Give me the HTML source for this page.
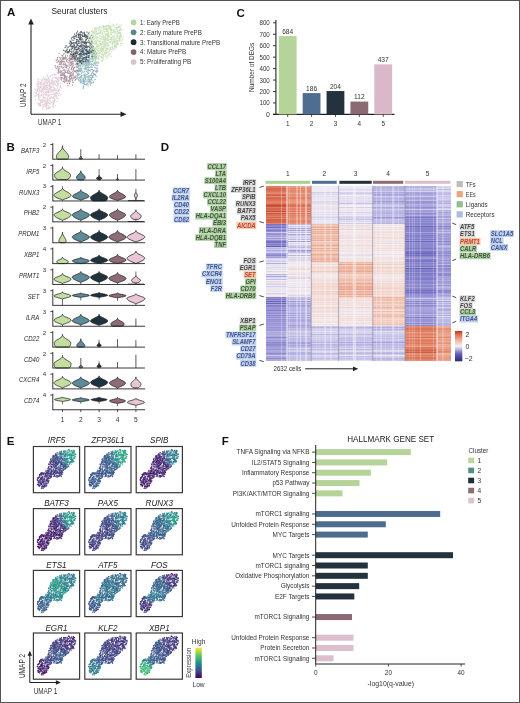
<!DOCTYPE html>
<html><head><meta charset="utf-8"><style>html,body{margin:0;padding:0;background:#fff;}svg{display:block;will-change:transform;}</style></head><body>
<svg width="520" height="703" viewBox="0 0 520 703" font-family='"Liberation Sans", sans-serif' fill="#333">
<rect x="0" y="0" width="520" height="703" fill="#fff"/>
<text x="7.1" y="16.34" font-size="11.5" font-weight="bold" fill="#111">A</text>
<text x="51.5" y="14.17" font-size="8.8" fill="#222" textLength="56" lengthAdjust="spacingAndGlyphs">Seurat clusters</text>
<line x1="31" y1="114.3" x2="31" y2="23" stroke="#222" stroke-width="1.1"/>
<path d="M31 18.5 L28.2 24.5 L33.8 24.5 Z" fill="#222"/>
<line x1="31" y1="114.3" x2="121" y2="114.3" stroke="#222" stroke-width="1.1"/>
<path d="M126.5 114.3 L120.5 111.5 L120.5 117.1 Z" fill="#222"/>
<text x="23.1" y="98.25" font-size="8.2" text-anchor="middle" textLength="23.6" lengthAdjust="spacingAndGlyphs" transform="rotate(-90 23.1 95.3)">UMAP 2</text>
<text x="38.1" y="125.05" font-size="8.2" textLength="23.1" lengthAdjust="spacingAndGlyphs">UMAP 1</text>
<path d="M42.9 78.7h1.1M50.1 87.2h1.1M36.2 89.3h1.1M46.4 103.7h1.1M50.2 87.7h1.1M57.5 84.5h1.1M43.5 104.1h1.1M51.0 86.8h1.1M51.9 90.3h1.1M47.1 82.6h1.1M38.7 93.7h1.1M54.4 83.8h1.1M46.5 101.7h1.1M36.0 95.9h1.1M57.0 83.3h1.1M51.4 87.5h1.1M48.9 98.0h1.1M54.8 85.0h1.1M35.7 90.6h1.1M36.3 84.0h1.1M34.5 88.9h1.1M40.5 90.4h1.1M39.5 83.3h1.1M51.4 83.1h1.1M46.2 93.3h1.1M48.0 95.3h1.1M46.4 88.9h1.1M39.9 87.0h1.1M50.8 80.1h1.1M46.5 75.0h1.1M47.4 91.2h1.1M44.0 82.5h1.1M48.3 78.8h1.1M49.7 107.0h1.1M42.6 88.5h1.1M48.2 102.1h1.1M56.3 101.4h1.1M42.8 97.9h1.1M59.8 87.5h1.1M38.1 79.1h1.1M55.4 89.0h1.1M38.8 96.0h1.1M55.2 92.6h1.1M44.6 101.9h1.1M45.1 106.6h1.1M40.3 102.8h1.1M44.0 93.3h1.1M46.3 107.8h1.1M56.3 82.2h1.1M41.0 95.8h1.1M41.7 88.7h1.1M44.3 106.3h1.1M48.4 80.3h1.1M39.0 89.0h1.1M41.3 91.4h1.1M37.6 94.6h1.1M53.0 91.0h1.1M57.4 88.5h1.1M46.7 98.7h1.1M46.5 104.8h1.1M56.6 81.9h1.1M57.6 79.5h1.1M37.2 95.0h1.1M38.5 98.6h1.1M47.4 90.9h1.1M37.9 88.9h1.1M39.8 84.8h1.1M50.3 89.5h1.1M54.2 93.3h1.1M39.5 83.6h1.1M46.2 105.2h1.1M50.0 98.8h1.1M55.2 90.0h1.1M53.3 103.3h1.1M44.0 84.8h1.1M49.1 82.6h1.1M43.0 83.5h1.1M47.7 80.2h1.1M54.4 94.5h1.1M53.8 89.1h1.1M43.7 88.5h1.1M43.3 101.6h1.1M45.9 86.3h1.1M36.6 100.7h1.1M57.3 98.4h1.1M43.1 91.1h1.1M44.0 86.4h1.1M47.6 92.9h1.1M37.4 87.9h1.1M41.4 81.2h1.1M53.8 94.6h1.1M45.6 85.2h1.1M55.8 97.2h1.1M57.8 93.8h1.1M36.1 92.2h1.1M49.2 103.7h1.1M40.1 87.9h1.1M48.0 94.7h1.1M54.1 100.2h1.1M51.9 75.1h1.1M53.6 77.7h1.1M45.8 87.5h1.1M54.4 95.2h1.1M38.6 81.7h1.1M51.8 97.4h1.1M47.6 90.3h1.1M60.8 80.4h1.1M47.2 86.0h1.1M41.2 95.5h1.1M57.5 90.5h1.1M40.5 105.6h1.1M47.2 85.3h1.1M45.0 103.6h1.1M58.3 77.1h1.1M57.4 84.9h1.1M44.1 89.3h1.1M42.2 107.9h1.1M46.0 82.6h1.1M52.6 105.6h1.1M53.4 74.2h1.1M54.3 96.9h1.1M57.8 78.4h1.1M43.5 99.8h1.1M50.7 84.0h1.1M39.4 105.9h1.1M46.7 79.1h1.1M38.7 81.8h1.1M53.0 89.1h1.1M45.5 86.1h1.1M48.4 95.4h1.1M40.8 83.3h1.1M58.1 90.5h1.1M46.1 104.5h1.1M50.2 97.2h1.1M50.2 101.3h1.1M40.2 105.5h1.1M36.9 81.2h1.1M47.8 94.9h1.1M44.3 89.6h1.1M57.9 91.5h1.1M46.9 98.1h1.1M43.3 87.9h1.1M54.7 99.9h1.1M60.4 84.0h1.1M39.7 103.5h1.1M47.9 81.6h1.1M39.4 90.8h1.1M38.4 86.2h1.1M60.1 88.0h1.1M53.6 73.8h1.1M44.6 85.6h1.1M42.7 86.0h1.1M44.6 101.7h1.1M34.2 92.4h1.1M40.1 86.5h1.1M45.5 102.2h1.1M58.7 80.3h1.1M45.2 82.9h1.1M41.2 100.0h1.1M43.7 89.8h1.1M43.6 83.2h1.1M59.6 78.3h1.1M50.1 86.4h1.1M55.8 78.4h1.1M34.1 96.3h1.1M37.0 90.1h1.1M39.6 87.3h1.1M52.6 77.2h1.1M49.5 86.1h1.1M42.7 84.5h1.1M46.9 87.6h1.1M48.6 80.3h1.1M48.6 100.5h1.1M59.9 85.9h1.1M42.1 101.1h1.1M50.5 96.8h1.1M41.0 94.3h1.1M52.1 81.0h1.1M56.0 93.4h1.1M44.7 92.8h1.1M38.2 98.9h1.1M42.2 109.0h1.1M46.7 85.4h1.1M44.1 79.9h1.1M43.8 104.2h1.1M48.3 79.6h1.1M52.9 106.9h1.1M45.0 92.4h1.1M49.4 107.4h1.1M60.3 86.5h1.1M56.4 78.6h1.1M45.7 103.1h1.1M39.3 87.8h1.1M37.6 79.9h1.1M35.9 93.3h1.1M55.4 77.0h1.1M49.7 85.3h1.1M44.7 97.5h1.1M34.5 95.7h1.1M53.9 101.6h1.1M48.0 78.4h1.1M36.8 89.4h1.1M51.1 74.5h1.1M46.9 75.6h1.1M55.0 105.8h1.1M48.2 107.3h1.1M36.5 85.5h1.1M58.4 82.9h1.1M48.1 107.3h1.1M48.7 85.2h1.1M40.3 102.5h1.1M52.4 85.4h1.1M52.9 107.3h1.1M51.5 86.8h1.1M43.5 101.1h1.1M54.5 74.6h1.1M50.0 97.3h1.1M48.3 88.8h1.1M38.1 81.6h1.1M37.8 87.9h1.1M49.1 80.0h1.1M42.5 80.0h1.1M47.0 83.2h1.1M48.6 85.1h1.1M42.7 106.2h1.1M47.3 82.9h1.1M35.7 93.0h1.1M38.3 95.2h1.1M55.6 80.8h1.1M57.5 99.2h1.1M54.1 88.9h1.1M42.7 98.1h1.1M52.1 82.7h1.1M55.1 94.0h1.1M41.5 79.2h1.1M55.0 84.6h1.1M39.8 104.6h1.1M46.2 101.3h1.1M45.2 99.0h1.1M42.6 97.0h1.1M44.1 78.8h1.1M52.2 94.3h1.1M35.1 96.3h1.1M50.6 102.3h1.1M54.0 82.1h1.1M41.4 99.9h1.1M58.2 95.9h1.1M45.1 102.7h1.1M49.1 81.0h1.1M56.9 79.8h1.1M48.1 103.3h1.1M43.6 106.1h1.1M41.7 80.0h1.1M39.5 97.3h1.1M52.1 100.8h1.1M45.6 87.4h1.1M41.3 82.2h1.1M44.8 106.4h1.1M48.7 98.8h1.1M45.2 87.2h1.1M52.6 101.2h1.1M55.8 95.2h1.1M58.2 83.1h1.1M53.5 104.2h1.1M40.5 85.2h1.1M45.2 80.1h1.1M39.6 87.1h1.1M54.4 90.8h1.1M44.7 100.5h1.1M52.3 91.4h1.1M46.4 99.3h1.1M49.0 100.7h1.1M56.0 97.1h1.1M50.8 91.4h1.1M37.7 86.7h1.1M50.0 83.2h1.1M49.7 85.8h1.1M39.8 95.8h1.1M49.0 108.7h1.1M40.3 100.9h1.1M35.6 93.6h1.1M48.8 95.1h1.1M45.9 109.1h1.1M47.5 103.2h1.1M43.2 88.0h1.1M45.2 99.2h1.1M42.0 99.5h1.1M39.8 102.7h1.1M38.8 99.7h1.1M47.5 96.7h1.1M44.9 94.4h1.1M46.4 84.0h1.1M57.0 85.5h1.1M43.9 83.0h1.1M41.7 83.7h1.1M45.3 95.4h1.1M38.3 103.1h1.1M52.4 83.0h1.1M40.5 101.8h1.1M37.5 104.0h1.1M52.7 103.2h1.1M38.0 97.9h1.1M45.3 104.7h1.1M47.0 75.9h1.1M45.3 90.8h1.1M45.8 91.7h1.1M45.0 88.5h1.1M53.0 96.6h1.1M48.3 90.7h1.1M52.2 97.9h1.1M42.3 90.2h1.1M38.9 89.9h1.1M56.9 83.0h1.1M44.6 83.2h1.1M51.3 102.7h1.1M41.2 92.9h1.1M58.8 93.4h1.1M53.3 100.8h1.1M50.3 94.4h1.1M51.8 80.1h1.1M54.8 77.6h1.1M52.8 84.9h1.1M49.0 84.0h1.1M41.3 86.8h1.1M36.8 94.0h1.1M57.0 93.5h1.1M51.5 106.8h1.1M45.0 76.7h1.1M53.4 81.5h1.1M53.3 103.6h1.1M48.4 99.6h1.1M55.3 78.3h1.1M38.7 104.3h1.1M42.7 94.8h1.1M37.4 103.3h1.1M49.6 89.9h1.1M52.5 85.3h1.1M52.3 104.5h1.1M48.2 85.7h1.1M42.5 96.5h1.1M56.7 83.8h1.1M46.8 92.2h1.1M51.0 81.7h1.1M49.8 103.9h1.1M57.6 80.9h1.1M46.8 83.0h1.1M57.2 91.2h1.1M52.6 80.7h1.1M56.2 92.5h1.1M40.5 82.2h1.1M43.0 94.6h1.1M37.7 95.5h1.1M50.1 85.9h1.1M56.5 90.6h1.1M57.0 88.1h1.1M40.4 80.3h1.1M46.5 105.4h1.1M52.6 89.9h1.1M39.6 91.4h1.1M51.5 87.9h1.1M43.6 84.7h1.1M53.1 96.1h1.1M50.7 83.2h1.1M37.5 85.8h1.1M47.4 80.3h1.1M56.1 81.2h1.1M42.2 105.0h1.1M40.7 91.2h1.1M55.7 96.3h1.1M55.7 90.2h1.1M54.8 95.3h1.1M42.3 89.1h1.1M57.3 86.8h1.1M45.6 108.0h1.1M51.2 81.3h1.1M39.1 83.6h1.1M37.7 83.7h1.1M53.9 84.1h1.1M55.8 85.9h1.1M56.9 93.6h1.1M57.9 81.2h1.1M39.3 100.3h1.1M50.5 92.1h1.1M51.3 97.4h1.1M53.8 87.8h1.1M57.2 83.6h1.1M59.1 89.9h1.1M39.2 103.8h1.1M45.9 94.9h1.1M47.8 93.3h1.1M41.7 100.3h1.1M58.1 91.1h1.1M41.8 102.8h1.1M54.6 80.8h1.1M49.6 91.7h1.1M47.5 92.1h1.1M43.3 77.3h1.1M38.6 93.3h1.1M45.7 87.4h1.1M45.3 106.0h1.1M37.9 86.9h1.1M38.9 91.3h1.1M40.5 87.8h1.1M47.3 76.7h1.1M51.1 82.3h1.1M48.2 105.9h1.1M49.3 88.8h1.1M43.9 97.8h1.1M41.1 90.1h1.1M42.2 89.0h1.1M38.0 91.7h1.1M50.2 98.6h1.1M45.8 92.3h1.1M43.1 83.7h1.1M45.9 94.6h1.1M55.9 81.7h1.1M42.7 101.5h1.1M58.6 89.8h1.1M46.9 100.4h1.1M37.7 87.1h1.1M51.5 102.6h1.1M54.1 98.7h1.1M55.7 98.5h1.1M51.6 94.5h1.1M50.2 86.2h1.1M49.3 87.6h1.1M52.4 85.1h1.1M45.3 82.9h1.1M48.2 90.4h1.1M38.1 93.9h1.1M60.0 83.3h1.1M46.3 106.1h1.1M51.3 90.4h1.1M47.8 91.0h1.1M42.4 97.2h1.1M53.3 93.0h1.1M43.0 92.5h1.1M47.3 95.8h1.1M49.1 103.6h1.1M49.6 76.5h1.1M58.4 89.5h1.1M48.4 92.3h1.1M48.9 98.2h1.1M49.6 76.3h1.1M43.8 98.2h1.1M56.3 93.8h1.1M47.6 95.1h1.1M50.2 88.8h1.1M55.1 77.9h1.1M46.7 101.5h1.1M54.6 84.1h1.1M41.3 84.7h1.1M48.8 86.5h1.1M48.4 108.4h1.1M43.4 104.7h1.1M47.7 108.6h1.1M52.6 83.8h1.1M47.4 102.6h1.1M45.1 80.1h1.1M48.2 77.5h1.1M37.5 103.7h1.1M39.8 84.1h1.1M53.1 87.4h1.1M37.5 82.7h1.1M46.6 102.7h1.1M41.8 101.5h1.1M47.3 82.0h1.1M54.5 82.0h1.1M43.7 81.9h1.1M56.0 77.9h1.1M40.5 102.3h1.1M49.2 85.1h1.1M38.6 105.5h1.1M36.7 94.7h1.1M44.2 83.1h1.1M43.9 86.9h1.1M40.0 83.9h1.1M50.6 87.1h1.1M53.6 81.6h1.1M53.1 81.9h1.1M54.2 99.1h1.1M43.7 87.5h1.1M52.2 78.8h1.1M51.8 83.5h1.1M57.9 95.5h1.1M38.4 104.4h1.1M53.9 75.6h1.1M61.1 88.0h1.1M53.1 102.2h1.1M34.9 99.1h1.1M59.0 77.9h1.1M53.0 103.8h1.1M50.0 83.0h1.1M45.3 81.5h1.1M53.2 98.4h1.1M49.2 89.1h1.1M43.6 106.3h1.1M41.5 102.0h1.1M38.1 96.6h1.1M37.3 84.6h1.1M37.0 85.4h1.1M45.8 78.9h1.1M44.4 79.7h1.1M38.5 99.0h1.1M36.9 91.4h1.1M51.8 83.3h1.1M57.3 85.8h1.1M40.1 99.8h1.1M43.8 79.3h1.1M42.8 94.9h1.1M50.3 94.3h1.1M48.2 92.3h1.1M49.6 75.9h1.1M46.6 108.3h1.1M46.2 80.4h1.1M54.9 90.5h1.1M47.5 89.7h1.1M52.7 102.6h1.1M41.5 89.0h1.1M45.8 89.6h1.1M55.2 74.4h1.1M43.8 93.6h1.1M50.2 86.4h1.1M54.0 90.5h1.1M43.2 95.1h1.1M50.1 88.3h1.1M59.8 94.7h1.1M47.1 82.7h1.1M41.8 95.0h1.1M49.7 76.8h1.1M44.4 103.8h1.1M56.4 77.7h1.1M46.5 79.4h1.1M55.0 78.1h1.1M42.6 87.1h1.1M40.0 83.1h1.1" stroke="#dcc4d0" stroke-width="1.1" fill="none" opacity=".8"/>
<path d="M76.5 71.5h1.1M61.9 74.9h1.1M57.6 62.0h1.1M66.8 55.9h1.1M71.0 62.5h1.1M74.5 71.5h1.1M58.8 72.3h1.1M64.8 56.9h1.1M71.0 78.2h1.1M60.4 58.1h1.1M69.9 65.7h1.1M75.6 64.4h1.1M57.3 66.1h1.1M69.1 55.8h1.1M64.9 71.9h1.1M70.2 63.3h1.1M58.1 70.4h1.1M69.3 75.7h1.1M68.9 73.7h1.1M75.0 79.6h1.1M61.9 75.5h1.1M68.4 63.9h1.1M54.8 67.1h1.1M66.1 65.7h1.1M65.5 57.8h1.1M64.5 66.8h1.1M61.7 61.5h1.1M78.0 63.2h1.1M61.0 78.3h1.1M57.3 67.8h1.1M58.5 60.9h1.1M62.3 58.2h1.1M69.6 56.5h1.1M69.7 53.7h1.1M63.4 59.1h1.1M75.9 72.8h1.1M61.8 75.5h1.1M71.8 64.3h1.1M61.9 68.1h1.1M76.7 70.8h1.1M68.9 76.2h1.1M58.6 57.4h1.1M72.2 66.1h1.1M66.9 73.0h1.1M71.6 59.4h1.1M73.3 59.7h1.1M62.6 61.6h1.1M66.1 72.5h1.1M77.8 60.0h1.1M55.7 68.6h1.1M77.1 65.3h1.1M72.1 82.0h1.1M74.3 60.8h1.1M70.0 62.8h1.1M64.0 82.5h1.1M65.7 80.6h1.1M66.0 81.1h1.1M60.1 62.5h1.1M60.4 58.0h1.1M61.3 73.0h1.1M75.0 59.5h1.1M59.0 63.9h1.1M57.6 73.7h1.1M68.9 83.0h1.1M63.8 76.9h1.1M69.3 58.5h1.1M71.8 80.5h1.1M60.3 77.5h1.1M66.1 60.8h1.1M63.3 81.4h1.1M58.9 68.3h1.1M65.7 58.1h1.1M76.8 67.3h1.1M75.2 76.7h1.1M64.3 70.7h1.1M69.4 73.1h1.1M72.2 82.3h1.1M61.4 64.8h1.1M63.3 65.7h1.1M68.9 83.6h1.1M63.9 61.5h1.1M74.7 77.4h1.1M70.0 62.3h1.1M71.4 67.0h1.1M60.3 71.7h1.1M69.7 65.3h1.1M69.5 62.3h1.1M59.9 74.9h1.1M64.5 75.5h1.1M61.4 57.2h1.1M67.4 68.9h1.1M66.8 70.9h1.1M64.0 78.5h1.1M59.4 61.9h1.1M73.0 69.7h1.1M68.9 67.6h1.1M72.0 57.1h1.1M66.2 61.6h1.1M60.3 71.3h1.1M71.1 62.7h1.1M70.0 81.1h1.1M73.0 72.7h1.1M64.9 63.8h1.1M64.8 72.4h1.1M64.6 70.9h1.1M63.3 74.3h1.1M71.0 64.9h1.1M66.3 66.6h1.1M64.6 81.3h1.1M65.8 77.1h1.1M63.6 53.4h1.1M73.3 77.7h1.1M74.0 71.4h1.1M73.1 68.9h1.1M66.8 71.4h1.1M74.3 59.2h1.1M61.0 62.4h1.1M73.5 70.5h1.1M57.6 61.2h1.1M74.8 61.8h1.1M66.0 65.3h1.1M68.7 64.0h1.1M77.1 70.9h1.1M66.3 65.6h1.1M60.8 79.8h1.1M70.8 72.5h1.1M66.4 80.9h1.1M70.0 54.7h1.1M70.1 58.3h1.1M72.6 67.2h1.1M62.1 59.4h1.1M76.5 60.2h1.1M64.4 76.3h1.1M72.5 58.9h1.1M60.8 60.1h1.1M68.8 57.7h1.1M75.4 55.0h1.1M64.0 74.7h1.1M57.0 66.5h1.1M70.9 56.5h1.1M76.3 70.7h1.1M72.7 68.5h1.1M64.9 79.2h1.1M74.7 60.3h1.1M67.2 85.6h1.1M69.4 56.2h1.1M61.6 78.2h1.1M61.4 55.4h1.1M66.6 76.9h1.1M57.3 72.2h1.1M71.6 61.0h1.1M63.6 78.4h1.1M67.4 70.9h1.1M57.6 69.9h1.1M59.7 66.5h1.1M69.4 81.1h1.1M64.6 77.0h1.1M60.8 77.3h1.1M54.7 65.5h1.1M66.6 59.5h1.1M71.4 57.0h1.1M69.7 73.7h1.1M73.8 67.6h1.1M76.2 66.4h1.1M60.3 75.4h1.1M63.2 58.6h1.1M66.5 66.2h1.1M72.8 74.6h1.1M76.0 78.7h1.1M64.8 58.1h1.1M73.5 55.2h1.1M76.9 74.5h1.1M69.5 65.0h1.1M76.5 62.3h1.1M59.5 59.8h1.1M65.6 79.6h1.1M64.5 75.8h1.1M63.0 54.3h1.1M63.9 69.9h1.1M72.6 65.5h1.1M61.3 61.9h1.1M70.1 63.0h1.1M70.0 65.2h1.1M60.3 61.5h1.1M67.9 81.8h1.1M77.8 69.0h1.1M74.1 58.5h1.1M65.4 79.5h1.1M58.3 69.4h1.1M65.1 80.9h1.1M62.5 72.9h1.1M68.2 73.5h1.1M68.8 71.3h1.1M75.5 75.6h1.1M64.9 57.0h1.1M58.0 71.4h1.1M63.4 75.7h1.1M71.3 62.1h1.1M78.1 71.7h1.1M71.2 75.4h1.1M68.5 77.8h1.1M58.7 68.8h1.1M71.8 59.1h1.1M64.8 64.6h1.1M60.1 62.7h1.1M63.1 67.5h1.1M65.0 65.1h1.1M64.0 77.6h1.1M62.3 56.8h1.1M67.9 73.1h1.1M62.4 81.5h1.1M69.5 61.1h1.1M72.3 73.2h1.1M62.5 61.6h1.1M70.5 75.5h1.1M55.6 60.4h1.1M69.8 73.6h1.1M63.2 64.5h1.1M66.0 67.2h1.1M59.2 64.4h1.1M65.8 78.3h1.1M63.9 73.4h1.1M74.2 80.7h1.1M74.4 67.3h1.1M70.6 76.7h1.1M71.1 72.7h1.1M68.8 79.6h1.1M58.7 53.5h1.1M73.3 64.1h1.1M76.0 63.5h1.1M59.4 62.4h1.1M69.9 78.8h1.1M56.8 59.6h1.1M63.0 73.0h1.1M75.6 70.4h1.1M63.4 54.0h1.1M66.9 65.7h1.1M77.6 63.6h1.1M64.2 58.1h1.1M70.9 68.1h1.1M64.9 64.0h1.1M67.5 68.7h1.1M57.8 61.0h1.1M72.4 75.9h1.1M71.5 74.0h1.1M59.8 72.9h1.1M63.6 79.9h1.1M66.4 79.1h1.1M68.2 70.0h1.1M72.6 82.4h1.1M72.7 63.2h1.1M59.8 71.6h1.1M73.7 77.7h1.1M76.4 70.4h1.1M67.7 80.8h1.1M60.7 60.3h1.1M58.0 72.2h1.1M64.3 70.1h1.1M65.0 55.2h1.1M64.9 64.1h1.1M60.0 72.2h1.1M69.0 58.9h1.1M60.8 63.4h1.1M70.1 76.4h1.1M61.6 73.4h1.1M76.3 61.8h1.1M74.3 56.4h1.1M60.4 70.5h1.1M66.1 78.7h1.1M69.0 78.2h1.1M67.4 62.5h1.1M73.5 78.6h1.1M69.4 60.1h1.1M77.1 70.7h1.1M72.1 79.1h1.1M63.5 62.1h1.1M69.0 83.4h1.1M69.6 71.7h1.1M62.8 70.1h1.1M73.8 76.8h1.1M68.4 80.6h1.1M65.1 76.2h1.1M64.1 64.2h1.1M72.3 63.2h1.1M63.0 74.7h1.1M75.0 71.2h1.1M61.2 73.9h1.1M64.5 72.8h1.1M63.2 78.6h1.1M56.5 62.6h1.1M72.0 85.0h1.1M70.7 72.7h1.1M62.5 61.7h1.1M61.5 61.1h1.1M67.1 72.6h1.1M62.2 55.5h1.1M64.4 58.8h1.1M61.5 77.6h1.1M61.5 64.8h1.1M72.8 56.0h1.1M75.4 58.7h1.1M71.2 62.1h1.1M75.0 57.0h1.1M70.5 59.5h1.1M76.7 64.0h1.1M64.7 77.3h1.1M60.2 64.7h1.1M60.5 79.1h1.1M72.9 61.2h1.1M63.0 63.7h1.1M70.3 79.5h1.1M63.2 57.5h1.1M66.2 60.1h1.1M64.7 67.3h1.1M56.6 58.8h1.1M76.8 70.3h1.1M75.7 60.5h1.1M76.2 67.2h1.1M65.9 65.0h1.1M64.7 57.0h1.1M71.4 69.5h1.1M72.2 71.4h1.1M70.2 75.2h1.1M75.3 64.4h1.1M60.6 71.6h1.1M65.8 59.7h1.1M66.9 83.4h1.1M57.4 67.9h1.1M69.7 59.4h1.1M78.4 70.5h1.1M61.4 67.5h1.1M56.7 66.9h1.1M59.2 66.7h1.1M60.4 63.0h1.1M56.9 57.5h1.1M59.3 58.0h1.1M63.2 78.7h1.1M78.2 61.3h1.1M64.0 61.9h1.1M65.9 68.0h1.1M70.7 69.8h1.1M70.9 69.1h1.1M79.4 60.6h1.1M67.8 58.2h1.1M58.7 64.5h1.1M68.3 66.1h1.1M70.1 74.7h1.1M61.1 66.5h1.1M75.6 59.5h1.1M70.8 77.7h1.1M60.6 61.8h1.1M65.7 67.2h1.1M75.5 72.7h1.1M64.8 58.9h1.1M68.4 60.7h1.1M71.6 77.8h1.1M71.9 85.1h1.1M62.6 59.9h1.1M70.0 59.7h1.1M71.8 61.9h1.1M59.9 74.9h1.1M61.3 75.3h1.1M62.2 70.7h1.1M66.5 61.6h1.1M69.2 77.0h1.1M71.0 64.0h1.1M77.0 70.9h1.1" stroke="#9a7c88" stroke-width="1.1" fill="none" opacity=".8"/>
<path d="M90.6 61.7h1.1M94.3 79.7h1.1M80.9 73.1h1.1M80.3 49.9h1.1M78.6 54.8h1.1M89.5 58.2h1.1M89.3 76.2h1.1M79.7 57.5h1.1M89.5 83.7h1.1M90.7 58.5h1.1M91.8 76.8h1.1M92.2 61.4h1.1M77.7 71.5h1.1M89.3 52.5h1.1M87.0 56.3h1.1M86.9 60.3h1.1M93.6 52.2h1.1M86.0 56.7h1.1M82.4 64.2h1.1M86.6 63.8h1.1M87.6 52.2h1.1M78.2 65.0h1.1M77.8 75.5h1.1M80.6 64.6h1.1M92.8 53.1h1.1M80.0 67.7h1.1M78.9 77.8h1.1M79.4 56.9h1.1M83.7 74.8h1.1M85.4 84.2h1.1M86.0 74.8h1.1M78.0 80.0h1.1M82.3 65.8h1.1M95.2 61.9h1.1M81.5 56.0h1.1M96.4 70.1h1.1M90.0 82.3h1.1M81.0 62.6h1.1M84.6 54.5h1.1M86.4 71.0h1.1M82.6 79.9h1.1M91.9 76.1h1.1M90.4 61.9h1.1M88.0 59.7h1.1M96.6 52.3h1.1M92.8 73.7h1.1M86.6 67.1h1.1M92.9 82.5h1.1M81.3 51.7h1.1M93.4 56.6h1.1M90.7 55.6h1.1M83.8 71.4h1.1M82.3 81.3h1.1M87.2 79.7h1.1M84.6 81.1h1.1M85.6 61.3h1.1M75.2 71.4h1.1M83.1 50.9h1.1M93.2 63.4h1.1M95.9 53.6h1.1M84.7 59.7h1.1M79.5 61.1h1.1M78.4 68.9h1.1M94.3 53.9h1.1M90.5 83.5h1.1M89.2 80.8h1.1M86.4 83.6h1.1M88.1 79.6h1.1M80.4 59.0h1.1M87.2 51.2h1.1M91.4 77.6h1.1M85.0 52.9h1.1M80.1 68.4h1.1M90.9 77.5h1.1M96.5 65.1h1.1M93.8 75.0h1.1M83.3 78.2h1.1M78.9 62.9h1.1M80.3 56.5h1.1M83.4 68.5h1.1M85.7 84.5h1.1M88.9 53.6h1.1M83.7 61.9h1.1M92.2 64.8h1.1M93.1 77.3h1.1M94.7 63.6h1.1M87.6 70.5h1.1M80.5 60.1h1.1M87.1 76.4h1.1M88.0 63.8h1.1M84.7 68.8h1.1M85.1 67.6h1.1M85.0 61.6h1.1M92.0 58.6h1.1M82.9 82.9h1.1M84.2 81.1h1.1M78.0 79.6h1.1M94.1 74.1h1.1M90.1 84.9h1.1M85.3 52.7h1.1M85.7 49.8h1.1M91.7 72.6h1.1M78.5 68.5h1.1M82.7 86.2h1.1M85.4 56.0h1.1M91.4 55.0h1.1M85.0 76.8h1.1M88.6 49.7h1.1M89.5 64.1h1.1M85.5 62.2h1.1M96.0 70.0h1.1M86.4 74.5h1.1M94.9 67.7h1.1M83.2 72.8h1.1M87.5 84.2h1.1M88.5 60.6h1.1M94.7 79.4h1.1M82.8 78.7h1.1M78.6 81.0h1.1M77.0 76.0h1.1M89.0 64.0h1.1M92.5 52.2h1.1M94.4 63.9h1.1M92.8 73.6h1.1M90.9 55.1h1.1M88.0 81.9h1.1M85.9 68.0h1.1M83.4 82.9h1.1M86.2 51.5h1.1M92.0 49.6h1.1M91.1 51.8h1.1M82.8 79.6h1.1M85.6 63.9h1.1M83.7 84.5h1.1M93.9 53.6h1.1M84.5 53.4h1.1M93.5 56.9h1.1M97.4 71.1h1.1M90.3 67.3h1.1M93.2 73.3h1.1M88.6 79.0h1.1M78.4 73.8h1.1M78.4 53.2h1.1M79.9 61.2h1.1M89.5 53.2h1.1M80.3 70.0h1.1M88.6 60.0h1.1M77.8 57.5h1.1M82.8 83.4h1.1M93.4 74.9h1.1M82.7 88.5h1.1M87.3 55.6h1.1M92.8 71.1h1.1M78.3 64.0h1.1M83.1 81.5h1.1M82.2 81.6h1.1M80.8 81.7h1.1M96.4 62.9h1.1M78.4 77.3h1.1M87.6 72.2h1.1M89.8 52.4h1.1M83.8 83.3h1.1M77.7 52.3h1.1M78.2 66.5h1.1M85.3 68.8h1.1M85.2 55.9h1.1M94.7 57.7h1.1M84.5 59.8h1.1M89.0 80.5h1.1M95.9 71.5h1.1M79.4 61.4h1.1M82.3 59.4h1.1M81.0 54.6h1.1M94.7 75.4h1.1M95.0 74.2h1.1M77.1 67.8h1.1M91.1 75.4h1.1M90.1 64.0h1.1M81.1 63.6h1.1M82.9 57.2h1.1M84.0 74.7h1.1M80.4 68.6h1.1M77.5 67.2h1.1M90.7 65.9h1.1M85.6 53.2h1.1M87.8 73.2h1.1M77.3 74.9h1.1M87.4 77.2h1.1M83.4 78.6h1.1M79.3 74.6h1.1M79.4 80.9h1.1M84.6 73.7h1.1M84.7 81.6h1.1M96.1 70.2h1.1M96.7 71.0h1.1M85.4 61.7h1.1M88.4 57.7h1.1M86.4 63.2h1.1M87.7 56.5h1.1M92.7 70.5h1.1M86.7 63.4h1.1M89.2 79.7h1.1M80.0 66.0h1.1M83.7 76.1h1.1M80.1 76.6h1.1M89.5 75.0h1.1M95.0 65.3h1.1M92.9 57.0h1.1M91.8 76.4h1.1M81.3 64.1h1.1M84.2 67.0h1.1M79.5 56.4h1.1M95.7 58.5h1.1M85.4 53.9h1.1M84.7 62.5h1.1M76.5 62.9h1.1M83.1 78.8h1.1M91.2 55.2h1.1M89.8 61.3h1.1M94.0 55.9h1.1M81.9 71.8h1.1M78.3 57.0h1.1M86.5 85.0h1.1M81.3 82.5h1.1M92.8 81.2h1.1M77.6 64.1h1.1M91.5 80.0h1.1M92.9 53.7h1.1M78.1 65.6h1.1M83.0 64.4h1.1M91.7 67.6h1.1M85.3 68.5h1.1M79.9 82.6h1.1M89.1 70.0h1.1M97.7 63.1h1.1M86.3 62.4h1.1M84.4 63.5h1.1M83.8 52.4h1.1M85.8 65.5h1.1M84.5 81.3h1.1M89.7 67.1h1.1M79.5 71.8h1.1M89.2 52.4h1.1M86.3 59.6h1.1M87.1 72.4h1.1M89.0 67.4h1.1M86.1 57.0h1.1M87.3 77.9h1.1M89.7 51.5h1.1M92.0 57.4h1.1M96.2 68.1h1.1M84.9 78.5h1.1M95.3 54.8h1.1M89.9 53.1h1.1M84.1 82.0h1.1M95.0 57.6h1.1M93.9 57.9h1.1M88.3 70.9h1.1M91.3 64.4h1.1M82.6 75.8h1.1M91.0 63.8h1.1M94.9 61.8h1.1M91.4 82.3h1.1M82.9 75.1h1.1M88.5 52.9h1.1M87.5 80.0h1.1M84.5 79.7h1.1M88.5 67.5h1.1M82.9 64.6h1.1M80.0 79.4h1.1M89.6 51.5h1.1M88.9 80.0h1.1M77.6 63.6h1.1M80.3 81.8h1.1M80.6 71.3h1.1M85.3 64.7h1.1M91.6 69.6h1.1M92.6 58.7h1.1M87.3 73.8h1.1M77.3 72.0h1.1M89.7 77.5h1.1M86.1 58.6h1.1M83.9 77.7h1.1M82.5 49.8h1.1M84.1 84.5h1.1M85.1 65.5h1.1M94.3 67.2h1.1M94.2 62.2h1.1M86.0 71.5h1.1M84.2 81.8h1.1M90.2 71.1h1.1M78.5 57.4h1.1M79.5 71.1h1.1M75.9 66.2h1.1M82.8 51.7h1.1M90.8 58.9h1.1M81.2 77.2h1.1M82.9 55.5h1.1M84.0 52.2h1.1M95.8 62.8h1.1M88.3 81.2h1.1M83.3 52.2h1.1M92.7 56.2h1.1M80.8 53.4h1.1M81.0 69.6h1.1M85.1 84.7h1.1M91.7 49.8h1.1M83.7 75.6h1.1M79.6 66.1h1.1M87.7 51.8h1.1M81.7 56.7h1.1M93.0 51.0h1.1M89.2 81.4h1.1M90.7 69.5h1.1M85.8 55.2h1.1M88.3 60.9h1.1M77.1 78.8h1.1M76.7 67.3h1.1M84.8 63.0h1.1M81.0 78.8h1.1M95.4 70.5h1.1M79.3 57.2h1.1M87.4 76.4h1.1M77.3 64.6h1.1M95.4 63.3h1.1M90.2 75.4h1.1M89.3 70.4h1.1M93.8 55.1h1.1M95.1 56.7h1.1M83.5 59.7h1.1M94.4 74.3h1.1M87.9 56.3h1.1M79.8 77.8h1.1M82.8 81.5h1.1M87.8 62.6h1.1M77.1 74.5h1.1M82.5 58.5h1.1M80.7 80.8h1.1M91.2 74.0h1.1M79.3 69.8h1.1M78.4 74.2h1.1M91.4 69.9h1.1M89.2 59.8h1.1M77.6 57.9h1.1M91.7 72.6h1.1M85.7 64.5h1.1M78.8 70.9h1.1M91.1 82.8h1.1M90.5 59.3h1.1M85.1 77.9h1.1M79.2 65.4h1.1M82.9 85.9h1.1M92.7 71.4h1.1M85.7 61.8h1.1M83.8 71.2h1.1M84.1 77.2h1.1M93.7 70.3h1.1M84.0 57.5h1.1M86.4 62.3h1.1M78.9 74.5h1.1M81.1 68.4h1.1M93.5 48.2h1.1M83.2 81.1h1.1M80.7 70.7h1.1M91.5 72.9h1.1M97.1 68.8h1.1M85.4 66.0h1.1M88.4 65.1h1.1M90.0 79.9h1.1M79.4 74.7h1.1M85.1 69.8h1.1M95.1 57.1h1.1M84.2 80.2h1.1M87.8 86.0h1.1M85.0 68.7h1.1M83.8 54.4h1.1M92.5 71.7h1.1M87.9 51.2h1.1M95.7 56.5h1.1M93.8 49.3h1.1M90.6 79.9h1.1M81.9 72.1h1.1M88.1 59.8h1.1M79.7 80.5h1.1M92.4 75.2h1.1M93.2 60.1h1.1M92.8 65.1h1.1M79.0 60.7h1.1M79.2 77.9h1.1M89.1 82.3h1.1M80.8 76.2h1.1M88.2 75.7h1.1M82.3 57.7h1.1M84.2 57.3h1.1M88.8 61.0h1.1M86.3 68.9h1.1M79.6 51.6h1.1M80.9 64.3h1.1M85.2 79.5h1.1M78.6 69.6h1.1M89.1 59.5h1.1M87.8 64.4h1.1M96.4 66.0h1.1M96.5 71.6h1.1M84.6 81.8h1.1M86.8 65.6h1.1M92.5 50.9h1.1M81.9 62.6h1.1M95.8 72.7h1.1M76.5 67.1h1.1M84.9 66.4h1.1M87.9 69.1h1.1M79.7 67.9h1.1M88.7 55.9h1.1M84.2 77.5h1.1M91.2 64.4h1.1M88.3 76.2h1.1M94.9 60.0h1.1M91.3 56.7h1.1M88.6 58.8h1.1M80.7 53.4h1.1M91.9 59.6h1.1M89.3 62.6h1.1M88.3 73.1h1.1M82.4 80.5h1.1M91.6 61.2h1.1M81.3 77.4h1.1M89.5 79.2h1.1M87.8 61.7h1.1M78.7 77.5h1.1M92.4 56.1h1.1M81.8 71.8h1.1M85.2 75.4h1.1M87.4 70.1h1.1M83.7 61.6h1.1M92.5 71.8h1.1M79.0 77.3h1.1M81.2 70.1h1.1M96.0 56.8h1.1M90.9 56.6h1.1M80.7 56.4h1.1M95.3 58.8h1.1M84.3 53.1h1.1M87.9 66.3h1.1M91.0 78.0h1.1M91.8 69.6h1.1M91.3 50.3h1.1M77.0 76.3h1.1M92.0 61.3h1.1M77.2 73.5h1.1M81.1 75.5h1.1M87.5 53.9h1.1M89.9 81.7h1.1M93.3 65.4h1.1M82.9 87.4h1.1M92.3 54.6h1.1M79.0 78.6h1.1M89.4 51.3h1.1M92.0 77.4h1.1M87.6 77.6h1.1M82.2 79.2h1.1M83.9 69.0h1.1M93.4 63.7h1.1M90.9 75.8h1.1M93.9 63.4h1.1M96.3 58.3h1.1M82.0 52.2h1.1M86.0 54.2h1.1M80.2 65.4h1.1M95.7 76.5h1.1M87.5 67.8h1.1M94.0 51.8h1.1M80.1 57.3h1.1M86.8 82.1h1.1M82.5 52.6h1.1M97.0 65.2h1.1M91.0 78.9h1.1M78.8 68.0h1.1M80.7 59.0h1.1M80.3 49.8h1.1M88.3 77.8h1.1M94.7 71.5h1.1M86.1 76.8h1.1M83.8 64.6h1.1M82.8 63.3h1.1M83.6 64.4h1.1M82.0 66.1h1.1M80.6 55.5h1.1M86.3 64.8h1.1M80.5 70.5h1.1M87.7 54.0h1.1M77.0 77.9h1.1M88.1 50.8h1.1M81.4 83.1h1.1M80.1 60.5h1.1M86.3 81.0h1.1M84.2 84.0h1.1M87.6 52.8h1.1" stroke="#7eaab3" stroke-width="1.1" fill="none" opacity=".8"/>
<path d="M83.6 42.3h1.1M80.2 38.3h1.1M90.6 49.2h1.1M73.1 56.9h1.1M77.7 60.8h1.1M74.3 42.6h1.1M78.7 41.3h1.1M76.9 63.8h1.1M79.1 53.6h1.1M73.6 53.8h1.1M74.2 52.9h1.1M86.0 45.4h1.1M80.5 42.7h1.1M73.2 40.2h1.1M84.4 58.9h1.1M72.8 46.6h1.1M79.0 38.7h1.1M84.2 42.0h1.1M83.0 53.9h1.1M65.4 51.3h1.1M77.2 61.5h1.1M82.0 52.1h1.1M77.6 45.8h1.1M92.6 46.7h1.1M68.9 49.8h1.1M83.7 32.8h1.1M75.8 35.3h1.1M75.1 36.3h1.1M80.7 43.6h1.1M87.1 46.8h1.1M73.4 44.1h1.1M85.7 54.1h1.1M73.9 34.1h1.1M76.6 44.0h1.1M77.3 57.9h1.1M80.3 54.2h1.1M85.9 42.5h1.1M80.3 45.3h1.1M88.4 41.4h1.1M86.6 47.6h1.1M78.7 50.4h1.1M84.7 49.9h1.1M85.1 35.7h1.1M70.7 46.9h1.1M75.6 49.5h1.1M86.6 54.7h1.1M77.0 58.5h1.1M82.4 44.8h1.1M82.4 61.9h1.1M85.6 46.3h1.1M74.9 52.9h1.1M66.4 50.2h1.1M79.5 32.5h1.1M80.2 46.9h1.1M70.5 44.5h1.1M79.2 39.5h1.1M81.7 39.0h1.1M84.3 46.5h1.1M84.0 35.3h1.1M88.5 57.2h1.1M73.0 54.6h1.1M76.5 51.7h1.1M75.5 43.8h1.1M83.0 58.1h1.1M80.1 61.9h1.1M78.3 41.4h1.1M75.4 51.6h1.1M83.9 34.1h1.1M85.0 42.7h1.1M80.6 56.0h1.1M76.6 39.6h1.1M86.4 51.5h1.1M81.5 60.5h1.1M82.4 35.3h1.1M68.9 43.7h1.1M85.1 37.7h1.1M86.2 50.5h1.1M74.2 37.0h1.1M84.9 36.0h1.1M74.4 47.4h1.1M85.1 40.8h1.1M65.0 52.0h1.1M85.1 44.2h1.1M84.7 46.6h1.1M82.7 46.0h1.1M82.0 59.7h1.1M72.8 36.9h1.1M73.0 53.2h1.1M90.3 43.2h1.1M70.9 42.2h1.1M73.4 44.7h1.1M91.9 52.5h1.1M83.6 36.7h1.1M82.3 50.6h1.1M73.5 50.1h1.1M85.9 43.5h1.1M86.1 53.7h1.1M87.9 51.9h1.1M77.5 43.7h1.1M88.1 55.7h1.1M88.1 57.5h1.1M83.8 55.0h1.1M87.5 60.6h1.1M85.8 39.5h1.1M78.6 35.3h1.1M85.0 46.7h1.1M75.8 52.5h1.1M73.4 56.6h1.1M76.9 49.5h1.1M75.4 35.8h1.1M86.3 52.7h1.1M88.7 52.5h1.1M77.4 41.8h1.1M83.3 61.7h1.1M78.8 34.6h1.1M77.0 59.3h1.1M81.5 56.2h1.1M71.2 52.3h1.1M72.1 43.5h1.1M71.6 40.1h1.1M77.3 41.8h1.1M86.8 46.9h1.1M91.2 47.9h1.1M79.9 49.8h1.1M81.3 51.4h1.1M77.8 33.7h1.1M70.3 44.5h1.1M86.2 59.6h1.1M71.7 48.7h1.1M75.9 33.7h1.1M80.8 51.1h1.1M85.6 37.8h1.1M90.9 52.5h1.1M82.2 48.2h1.1M82.8 51.4h1.1M70.5 49.8h1.1M90.6 44.5h1.1M86.5 46.7h1.1M85.4 37.6h1.1M71.6 57.9h1.1M78.2 43.0h1.1M87.0 38.4h1.1M91.6 45.7h1.1M78.0 48.7h1.1M79.2 34.7h1.1M73.5 46.9h1.1M80.5 63.1h1.1M71.7 54.9h1.1M69.6 43.7h1.1M89.8 43.8h1.1M83.7 49.2h1.1M81.9 50.6h1.1M74.8 54.3h1.1M75.9 39.5h1.1M73.0 46.7h1.1M87.4 53.3h1.1M90.8 41.4h1.1M90.3 47.1h1.1M80.2 35.0h1.1M82.0 59.8h1.1M77.9 37.4h1.1M83.7 45.9h1.1M94.5 50.9h1.1M67.4 46.9h1.1M77.9 34.3h1.1M76.0 56.7h1.1M75.7 47.5h1.1M80.2 61.1h1.1M65.5 45.5h1.1M82.3 33.1h1.1M92.0 37.8h1.1M83.8 32.2h1.1M66.4 50.0h1.1M89.0 53.6h1.1M85.3 61.5h1.1M88.2 46.2h1.1M66.7 49.0h1.1M90.4 49.0h1.1M82.3 49.3h1.1M84.2 34.4h1.1M85.7 51.0h1.1M79.2 37.9h1.1M72.1 43.4h1.1M82.1 36.5h1.1M79.7 54.1h1.1M74.3 49.1h1.1M82.7 41.9h1.1M80.1 37.0h1.1M76.2 37.1h1.1M69.0 51.7h1.1M82.5 42.6h1.1M69.6 41.1h1.1M81.7 35.5h1.1M63.1 50.4h1.1M79.2 60.7h1.1M74.0 45.5h1.1M69.0 51.0h1.1M84.0 49.1h1.1M89.3 50.5h1.1M91.7 50.2h1.1M84.4 57.6h1.1M89.5 44.0h1.1M86.4 32.1h1.1M92.6 50.5h1.1M80.9 37.7h1.1M77.0 31.3h1.1M79.8 61.0h1.1M86.4 36.6h1.1M89.9 48.5h1.1M84.9 47.1h1.1M86.0 39.7h1.1M83.2 36.6h1.1M72.1 56.2h1.1M78.7 58.5h1.1M83.2 51.2h1.1M79.5 36.5h1.1M80.7 46.1h1.1M76.8 49.0h1.1M92.1 54.0h1.1M71.8 55.5h1.1M86.8 38.5h1.1M86.4 59.2h1.1M76.3 32.5h1.1M79.1 48.3h1.1M73.6 52.8h1.1M71.6 37.4h1.1M79.2 35.0h1.1M79.2 60.5h1.1M91.1 52.6h1.1M83.9 46.1h1.1M86.8 51.4h1.1M75.9 46.2h1.1M81.1 32.5h1.1M86.3 46.7h1.1M83.3 53.5h1.1M74.2 57.6h1.1M75.9 42.4h1.1M79.9 46.0h1.1M72.0 48.0h1.1M69.2 46.1h1.1M66.5 52.6h1.1M75.6 55.7h1.1M75.7 50.7h1.1M80.4 42.1h1.1M85.1 42.4h1.1M76.2 41.2h1.1M83.7 43.4h1.1M77.5 47.2h1.1M77.5 34.5h1.1M84.5 41.6h1.1M68.0 52.5h1.1M86.5 53.4h1.1M84.5 45.9h1.1M91.6 42.7h1.1M86.2 59.5h1.1M79.6 39.9h1.1M87.4 46.6h1.1M88.9 49.9h1.1M76.0 35.6h1.1M80.8 60.6h1.1M69.6 51.5h1.1M79.9 58.0h1.1M73.6 58.4h1.1M86.1 47.9h1.1M90.6 43.3h1.1M80.4 31.6h1.1M75.7 42.9h1.1M87.7 42.4h1.1M85.6 36.4h1.1M85.2 50.6h1.1M92.5 46.5h1.1M89.0 47.6h1.1M67.1 51.5h1.1M68.2 51.9h1.1M86.1 42.5h1.1M86.5 52.9h1.1M73.4 55.3h1.1M86.1 47.0h1.1M83.7 48.2h1.1M85.0 53.6h1.1M79.1 61.3h1.1M77.7 43.8h1.1M84.7 59.2h1.1M76.1 35.2h1.1M70.4 53.8h1.1M88.7 38.5h1.1M84.8 47.8h1.1M76.2 46.0h1.1M84.3 41.6h1.1M73.7 48.4h1.1M79.4 34.1h1.1M90.9 47.0h1.1M67.5 47.4h1.1M80.4 39.5h1.1M91.2 51.3h1.1M86.1 57.5h1.1M73.8 45.0h1.1M85.8 57.2h1.1M73.7 46.0h1.1M86.6 36.3h1.1M71.5 54.9h1.1M91.2 35.5h1.1M81.4 48.9h1.1M82.5 40.0h1.1M88.5 46.7h1.1M84.4 42.6h1.1M82.6 47.5h1.1M78.4 45.9h1.1M78.6 39.0h1.1M91.9 41.5h1.1M75.2 49.0h1.1M81.4 34.7h1.1M85.4 39.6h1.1M89.6 38.6h1.1M89.4 37.4h1.1M79.3 56.2h1.1M92.1 47.7h1.1M75.3 47.1h1.1M88.5 52.1h1.1M82.5 52.5h1.1M78.0 36.0h1.1M87.5 61.6h1.1M76.8 45.1h1.1M85.2 34.8h1.1M83.9 36.4h1.1M80.9 31.9h1.1M81.1 53.7h1.1M73.4 54.5h1.1M71.9 46.4h1.1M78.1 35.1h1.1M85.7 57.9h1.1M72.9 46.3h1.1M91.6 56.5h1.1M85.8 46.9h1.1M82.2 54.4h1.1M71.3 51.4h1.1M80.9 49.3h1.1M74.3 38.7h1.1M71.6 45.7h1.1M87.3 57.2h1.1M87.8 33.8h1.1M68.4 51.6h1.1M79.5 36.8h1.1M86.9 51.9h1.1M85.9 46.9h1.1M86.2 49.6h1.1M79.5 58.1h1.1M78.1 49.2h1.1M80.4 52.1h1.1M87.9 53.5h1.1M72.7 42.6h1.1M76.0 53.2h1.1M81.0 63.4h1.1M89.2 43.2h1.1M74.7 42.8h1.1M86.7 37.0h1.1M71.0 43.3h1.1M67.6 52.5h1.1M86.7 42.0h1.1M86.1 60.0h1.1M86.4 35.6h1.1M80.2 34.2h1.1M83.7 33.4h1.1M88.5 55.9h1.1M88.1 40.2h1.1M88.2 33.0h1.1M88.2 42.1h1.1M85.6 46.6h1.1M73.8 36.5h1.1M70.4 54.6h1.1M71.7 53.8h1.1M85.4 53.5h1.1M88.8 42.5h1.1M89.3 51.7h1.1M79.8 45.5h1.1M70.9 38.7h1.1M78.8 59.1h1.1M85.6 56.5h1.1M91.7 49.7h1.1M65.8 50.8h1.1M82.0 54.4h1.1M81.6 50.7h1.1M84.5 53.5h1.1M77.0 53.6h1.1M64.5 51.0h1.1M77.0 52.1h1.1M81.2 58.2h1.1M91.9 42.8h1.1M70.2 41.9h1.1M79.2 62.3h1.1M87.5 36.3h1.1M67.4 53.0h1.1M78.8 43.1h1.1M80.6 61.2h1.1M82.1 42.4h1.1M80.7 40.0h1.1M76.6 49.9h1.1M80.0 53.4h1.1M76.1 55.4h1.1M69.6 42.2h1.1M83.6 57.5h1.1M87.3 51.2h1.1M65.6 46.7h1.1M70.7 49.1h1.1M82.9 45.9h1.1M73.6 36.1h1.1M91.9 47.6h1.1M85.2 47.1h1.1M75.3 58.0h1.1M71.1 43.7h1.1M80.5 51.2h1.1M80.1 54.7h1.1M85.6 49.7h1.1M70.0 45.7h1.1M84.9 60.8h1.1M81.3 46.8h1.1M72.8 51.2h1.1M75.2 56.1h1.1M79.1 46.6h1.1M81.5 44.9h1.1M77.9 48.3h1.1M79.9 36.4h1.1M70.8 46.4h1.1M70.9 58.7h1.1M75.0 59.3h1.1M79.2 38.8h1.1M86.5 50.2h1.1M89.6 45.5h1.1M68.9 50.4h1.1M86.3 49.7h1.1M78.6 34.4h1.1M90.4 52.1h1.1M82.2 61.2h1.1M93.1 51.8h1.1M86.2 50.7h1.1M87.2 46.7h1.1M73.4 38.4h1.1M85.0 57.7h1.1M77.5 40.2h1.1M73.2 54.0h1.1M82.5 59.3h1.1M85.5 39.2h1.1M76.1 41.0h1.1M81.4 41.3h1.1M83.5 54.8h1.1M79.6 38.5h1.1M81.3 46.9h1.1M82.0 58.7h1.1M84.4 43.4h1.1M64.5 47.6h1.1M74.4 49.3h1.1M83.3 61.0h1.1M78.5 58.9h1.1M77.8 54.7h1.1M78.9 54.6h1.1M78.6 51.2h1.1M82.5 46.0h1.1M75.0 53.1h1.1M71.9 47.9h1.1M87.8 51.9h1.1M79.6 54.9h1.1M89.1 38.5h1.1" stroke="#2a3842" stroke-width="1.1" fill="none" opacity=".8"/>
<path d="M114.7 42.1h1.1M100.1 31.4h1.1M90.7 34.2h1.1M95.9 49.1h1.1M94.7 30.9h1.1M92.7 37.1h1.1M103.6 52.3h1.1M103.4 50.8h1.1M94.3 29.3h1.1M113.7 26.2h1.1M108.1 40.4h1.1M101.8 43.3h1.1M115.2 40.9h1.1M107.5 39.4h1.1M99.4 53.7h1.1M105.6 25.6h1.1M104.7 45.0h1.1M104.0 41.3h1.1M98.1 56.3h1.1M102.8 59.2h1.1M99.5 38.5h1.1M120.8 25.3h1.1M103.8 26.5h1.1M111.1 32.5h1.1M97.1 44.3h1.1M119.0 29.7h1.1M108.2 45.4h1.1M111.3 37.2h1.1M117.1 43.1h1.1M119.5 39.2h1.1M99.6 41.4h1.1M105.4 59.2h1.1M114.2 45.5h1.1M101.2 44.7h1.1M103.2 49.6h1.1M100.7 48.3h1.1M99.0 33.1h1.1M115.1 45.0h1.1M111.1 38.7h1.1M107.2 39.3h1.1M92.1 58.6h1.1M97.8 44.7h1.1M97.1 37.9h1.1M112.3 30.2h1.1M114.3 29.6h1.1M111.1 30.4h1.1M92.9 36.1h1.1M112.4 48.7h1.1M108.5 45.1h1.1M96.9 37.3h1.1M99.0 41.6h1.1M100.6 56.8h1.1M97.7 46.4h1.1M103.4 29.8h1.1M95.2 34.0h1.1M114.1 39.8h1.1M91.9 41.8h1.1M100.0 43.9h1.1M105.1 54.0h1.1M96.6 33.6h1.1M106.1 39.0h1.1M115.8 29.5h1.1M101.1 57.4h1.1M116.1 36.3h1.1M102.7 54.5h1.1M95.1 43.6h1.1M104.2 28.9h1.1M90.8 38.6h1.1M91.4 30.4h1.1M106.3 34.1h1.1M93.8 41.0h1.1M94.3 52.6h1.1M90.9 48.5h1.1M117.8 27.1h1.1M103.5 43.4h1.1M95.9 28.9h1.1M112.4 41.9h1.1M95.1 63.5h1.1M119.0 25.2h1.1M94.5 58.8h1.1M118.9 37.1h1.1M109.5 22.8h1.1M92.1 47.1h1.1M113.5 42.1h1.1M120.1 37.0h1.1M112.1 47.7h1.1M111.5 29.0h1.1M98.2 62.8h1.1M98.1 58.1h1.1M114.3 45.9h1.1M109.4 27.5h1.1M102.2 55.2h1.1M105.9 45.1h1.1M109.0 26.7h1.1M92.6 52.2h1.1M114.9 28.0h1.1M116.5 40.2h1.1M110.4 28.4h1.1M99.8 30.6h1.1M104.0 26.9h1.1M118.6 26.8h1.1M93.2 48.5h1.1M95.1 41.5h1.1M96.6 36.9h1.1M104.2 44.4h1.1M90.7 57.9h1.1M105.3 26.9h1.1M113.6 32.1h1.1M98.8 43.3h1.1M108.5 26.8h1.1M107.7 48.5h1.1M100.9 51.6h1.1M94.8 41.9h1.1M100.1 48.5h1.1M109.2 41.9h1.1M90.4 49.6h1.1M113.5 42.1h1.1M111.7 43.5h1.1M96.6 50.6h1.1M120.2 35.9h1.1M113.0 39.0h1.1M116.0 40.0h1.1M106.2 30.4h1.1M88.7 45.8h1.1M114.9 45.2h1.1M94.5 59.2h1.1M102.4 49.2h1.1M113.2 36.2h1.1M118.1 26.6h1.1M107.3 40.9h1.1M111.8 39.2h1.1M120.5 30.4h1.1M102.7 47.9h1.1M97.8 58.3h1.1M101.5 39.5h1.1M100.2 45.3h1.1M114.5 44.4h1.1M106.2 34.0h1.1M100.7 30.8h1.1M117.4 27.0h1.1M102.7 48.2h1.1M91.2 30.6h1.1M112.8 41.0h1.1M92.5 35.1h1.1M105.2 56.5h1.1M99.0 52.4h1.1M96.5 50.3h1.1M102.4 25.5h1.1M112.1 43.5h1.1M93.3 54.5h1.1M115.5 45.2h1.1M103.9 46.0h1.1M92.9 48.3h1.1M104.7 36.9h1.1M109.9 26.9h1.1M94.7 36.1h1.1M117.2 27.0h1.1M94.4 38.9h1.1M115.4 43.5h1.1M114.4 42.3h1.1M109.3 29.4h1.1M96.1 46.3h1.1M102.9 36.7h1.1M104.6 37.6h1.1M110.2 30.6h1.1M120.6 38.0h1.1M101.3 45.1h1.1M115.5 46.1h1.1M110.2 34.5h1.1M105.2 44.6h1.1M114.1 48.1h1.1M88.7 41.5h1.1M101.0 47.4h1.1M116.1 42.7h1.1M117.9 26.8h1.1M106.4 31.3h1.1M97.9 28.6h1.1M98.2 51.7h1.1M109.2 39.5h1.1M99.2 43.8h1.1M108.5 25.3h1.1M91.9 42.7h1.1M110.8 29.5h1.1M114.5 27.9h1.1M117.5 30.0h1.1M109.4 53.4h1.1M102.8 41.8h1.1M119.0 36.7h1.1M92.3 48.8h1.1M94.7 51.1h1.1M107.5 25.5h1.1M107.0 36.1h1.1M109.3 49.1h1.1M121.1 41.1h1.1M92.1 43.6h1.1M115.5 33.6h1.1M97.8 59.1h1.1M96.4 40.4h1.1M120.7 30.3h1.1M116.6 44.9h1.1M110.9 34.5h1.1M101.1 54.7h1.1M109.2 28.5h1.1M113.3 41.4h1.1M99.1 41.7h1.1M105.5 51.3h1.1M100.5 56.5h1.1M107.0 52.2h1.1M102.4 37.0h1.1M105.7 42.6h1.1M94.6 53.2h1.1M116.5 41.2h1.1M113.5 38.7h1.1M113.4 43.0h1.1M111.0 39.2h1.1M108.5 47.1h1.1M119.7 32.6h1.1M110.6 33.9h1.1M105.3 35.0h1.1M114.0 31.2h1.1M109.7 38.0h1.1M101.5 48.8h1.1M109.7 32.7h1.1M94.4 52.4h1.1M113.7 31.9h1.1M93.8 33.6h1.1M97.7 53.4h1.1M101.8 53.7h1.1M116.6 41.2h1.1M101.4 46.5h1.1M91.3 49.6h1.1M111.2 31.8h1.1M93.6 56.9h1.1M113.1 41.5h1.1M91.7 52.9h1.1M101.6 36.2h1.1M103.2 29.4h1.1M93.9 29.3h1.1M103.1 41.8h1.1M119.5 33.9h1.1M117.3 30.4h1.1M100.1 33.8h1.1M106.6 33.9h1.1M94.7 54.5h1.1M92.3 47.2h1.1M112.0 47.1h1.1M100.2 48.6h1.1M106.5 35.1h1.1M100.5 29.2h1.1M110.5 56.4h1.1M115.5 46.1h1.1M105.0 50.0h1.1M102.6 44.6h1.1M93.9 57.8h1.1M106.2 57.8h1.1M106.0 49.3h1.1M105.3 38.6h1.1M117.4 33.7h1.1M97.6 61.5h1.1M94.1 50.9h1.1M91.2 49.0h1.1M117.7 28.5h1.1M116.8 36.0h1.1M116.2 24.1h1.1M119.1 32.1h1.1M95.5 37.9h1.1M118.5 41.4h1.1M97.1 61.5h1.1M115.3 46.7h1.1M95.0 56.3h1.1M96.5 61.9h1.1M111.7 35.7h1.1M96.0 31.0h1.1M95.3 59.1h1.1M87.8 41.6h1.1M97.5 57.1h1.1M98.7 46.7h1.1M92.3 33.3h1.1M116.2 27.4h1.1M114.2 35.0h1.1M99.3 48.1h1.1M110.7 38.1h1.1M95.2 27.5h1.1M96.7 36.6h1.1M104.6 39.2h1.1M105.3 45.0h1.1M103.6 48.1h1.1M101.4 49.7h1.1M110.2 28.3h1.1M113.4 38.9h1.1M97.7 61.6h1.1M103.4 47.9h1.1M98.9 27.2h1.1M97.6 48.4h1.1M96.1 58.9h1.1M96.7 49.0h1.1M96.3 39.1h1.1M110.2 42.6h1.1M105.3 46.1h1.1M101.2 47.9h1.1M100.6 43.3h1.1M107.4 37.1h1.1M102.4 42.5h1.1M106.5 26.2h1.1M96.0 34.0h1.1M109.6 39.4h1.1M112.0 42.3h1.1M109.6 54.8h1.1M97.6 51.0h1.1M119.0 39.5h1.1M89.9 36.1h1.1M107.6 34.6h1.1M110.0 27.5h1.1M104.3 33.4h1.1M108.3 36.2h1.1M93.2 51.6h1.1M100.5 45.2h1.1M105.7 49.6h1.1M97.4 37.5h1.1M98.8 33.1h1.1M104.6 52.6h1.1M105.7 29.9h1.1M100.2 51.1h1.1M95.7 41.5h1.1M95.6 43.0h1.1M95.6 52.5h1.1M107.1 45.4h1.1M103.6 53.1h1.1M103.3 54.5h1.1M107.8 26.2h1.1M101.4 33.1h1.1M99.0 55.6h1.1M105.9 52.2h1.1M110.3 41.6h1.1M98.4 33.9h1.1M104.7 37.9h1.1M103.1 35.5h1.1M103.9 40.0h1.1M118.5 32.9h1.1M110.5 49.5h1.1M106.9 37.1h1.1M100.1 50.5h1.1M118.3 41.6h1.1M104.5 31.7h1.1M101.6 40.0h1.1M112.4 37.0h1.1M103.0 39.6h1.1M103.7 40.4h1.1M105.1 50.4h1.1M92.9 49.4h1.1M114.3 40.3h1.1M95.4 48.1h1.1M99.9 44.5h1.1M99.2 52.9h1.1M106.1 28.6h1.1M93.3 43.4h1.1M102.0 52.3h1.1M106.4 52.5h1.1M100.3 31.2h1.1M96.9 46.6h1.1M115.6 45.0h1.1M120.4 35.6h1.1M92.5 53.1h1.1M114.5 45.5h1.1M114.3 31.7h1.1M103.9 37.3h1.1M98.1 30.5h1.1M106.8 55.8h1.1M117.4 35.5h1.1M88.6 37.5h1.1M101.8 60.3h1.1M90.6 44.0h1.1M95.8 32.1h1.1M89.5 35.7h1.1M99.5 40.4h1.1M101.5 50.6h1.1M100.9 49.5h1.1M117.5 31.4h1.1M89.1 34.4h1.1M96.9 45.8h1.1M94.4 48.9h1.1M95.6 47.2h1.1M97.4 47.3h1.1M106.3 39.3h1.1M112.6 36.2h1.1M112.0 44.9h1.1M117.4 28.1h1.1M93.6 63.1h1.1M106.5 27.2h1.1M109.9 29.6h1.1M91.4 47.2h1.1M110.7 47.2h1.1M90.5 40.5h1.1M101.5 61.8h1.1M102.5 38.1h1.1M112.7 32.4h1.1M97.1 55.5h1.1M112.9 42.2h1.1M110.8 34.3h1.1M97.7 33.6h1.1M87.8 34.2h1.1M110.0 29.9h1.1M122.3 37.4h1.1M91.1 59.9h1.1M94.3 41.9h1.1M118.6 27.5h1.1M115.9 37.7h1.1M97.7 37.3h1.1M114.1 41.6h1.1M93.6 54.6h1.1M107.4 32.0h1.1M92.8 32.2h1.1M103.8 31.5h1.1M100.7 44.6h1.1M102.9 27.1h1.1M107.7 28.5h1.1M105.9 31.5h1.1M117.4 27.6h1.1M102.2 49.1h1.1M111.1 26.2h1.1M102.6 31.3h1.1M114.2 37.3h1.1M117.6 44.6h1.1M115.3 31.3h1.1M115.2 38.6h1.1M91.6 44.8h1.1M109.9 48.9h1.1M113.6 49.3h1.1M99.0 33.0h1.1M113.9 29.7h1.1M114.3 33.0h1.1M96.1 42.3h1.1M88.5 40.7h1.1M96.3 62.6h1.1M106.9 42.7h1.1M122.7 29.8h1.1M102.8 59.0h1.1M94.8 55.6h1.1M100.1 48.8h1.1M110.1 47.3h1.1M89.6 38.2h1.1M94.6 55.6h1.1M120.2 28.3h1.1M113.3 25.6h1.1M120.4 36.7h1.1M102.3 30.7h1.1M99.6 26.3h1.1M93.5 57.3h1.1M97.3 54.2h1.1M109.9 26.9h1.1M106.8 31.7h1.1M120.8 37.9h1.1M117.0 36.6h1.1M95.0 61.9h1.1M92.9 58.6h1.1M89.0 32.1h1.1M108.1 28.0h1.1M119.6 33.0h1.1M98.4 62.9h1.1M96.4 54.1h1.1M93.2 32.7h1.1M111.2 51.8h1.1M99.8 50.0h1.1M94.9 40.7h1.1M111.1 40.0h1.1M115.8 47.6h1.1M96.9 27.9h1.1M98.4 45.5h1.1M94.7 47.9h1.1M95.8 31.9h1.1M119.7 27.0h1.1M100.3 36.2h1.1M100.6 31.0h1.1M119.0 26.7h1.1M96.1 43.4h1.1M92.2 40.0h1.1M105.3 55.9h1.1M105.3 40.4h1.1M107.6 43.7h1.1M92.5 31.3h1.1M114.3 41.9h1.1M116.6 41.7h1.1M104.9 39.7h1.1M94.6 43.8h1.1M113.5 37.0h1.1M92.2 53.3h1.1M106.5 30.7h1.1M114.2 47.0h1.1M87.1 35.0h1.1M119.6 35.3h1.1M100.7 27.5h1.1M105.5 25.5h1.1M114.1 32.6h1.1M104.5 34.3h1.1M94.5 28.9h1.1M103.5 39.1h1.1M112.1 47.7h1.1M106.7 30.9h1.1M101.2 36.6h1.1M103.0 57.2h1.1M96.8 34.3h1.1M110.3 39.6h1.1M117.4 40.1h1.1M95.5 58.3h1.1M107.7 51.8h1.1M120.2 40.2h1.1M103.6 40.1h1.1M93.3 31.8h1.1M102.1 42.5h1.1M102.7 26.2h1.1M117.7 43.7h1.1M99.4 27.5h1.1M102.4 28.3h1.1M97.7 42.3h1.1M102.3 26.7h1.1M101.6 41.9h1.1M120.2 45.4h1.1M92.5 54.8h1.1M94.4 49.1h1.1M94.4 28.4h1.1M95.4 33.9h1.1M95.8 42.3h1.1M95.5 34.8h1.1M90.9 42.0h1.1M97.5 40.4h1.1M92.6 32.6h1.1M107.1 31.6h1.1M105.1 52.3h1.1M111.4 39.0h1.1M91.8 60.0h1.1M117.1 36.2h1.1M97.3 47.3h1.1M112.3 32.8h1.1M121.6 43.6h1.1M96.0 63.5h1.1M117.7 38.2h1.1M97.5 32.8h1.1M96.0 43.4h1.1M102.6 50.3h1.1M108.3 54.0h1.1M98.3 50.2h1.1M96.1 44.7h1.1M112.7 24.4h1.1M107.8 55.3h1.1M107.0 48.9h1.1M100.2 32.0h1.1M112.4 46.8h1.1M119.2 30.5h1.1M93.9 36.7h1.1M107.6 30.0h1.1M96.8 46.8h1.1M96.3 58.6h1.1M99.0 35.5h1.1M111.7 26.1h1.1M93.3 39.2h1.1M98.9 50.5h1.1M102.8 50.0h1.1M120.1 33.1h1.1M92.9 37.1h1.1M100.5 60.8h1.1M100.1 56.9h1.1M90.3 39.6h1.1M102.0 58.1h1.1M91.7 40.9h1.1M91.9 33.0h1.1M117.9 32.5h1.1M115.6 28.1h1.1M94.1 41.7h1.1M104.5 45.5h1.1M99.4 26.4h1.1M109.4 50.1h1.1M98.4 29.9h1.1M92.9 31.6h1.1M89.1 41.6h1.1M103.2 44.0h1.1M122.1 39.5h1.1M93.5 55.9h1.1M90.6 39.2h1.1M118.8 40.4h1.1M101.9 34.4h1.1M110.7 41.9h1.1M106.6 39.7h1.1M95.7 41.6h1.1M117.5 35.5h1.1M120.2 29.2h1.1M104.4 42.3h1.1M104.9 43.2h1.1M100.3 38.7h1.1M95.4 44.9h1.1M106.4 48.2h1.1M95.7 55.1h1.1M120.4 25.0h1.1M107.1 57.0h1.1M120.0 32.8h1.1M120.3 43.4h1.1M102.2 32.6h1.1M106.4 50.0h1.1M118.1 33.2h1.1M105.6 48.1h1.1M119.4 35.8h1.1M110.6 29.3h1.1M91.8 53.6h1.1M104.2 28.4h1.1M111.6 47.6h1.1M107.5 49.3h1.1M93.3 45.0h1.1M91.0 31.7h1.1M99.5 32.8h1.1M101.0 56.9h1.1M116.5 32.8h1.1M118.8 37.7h1.1M96.6 54.1h1.1M102.3 57.3h1.1M112.9 30.5h1.1M101.8 54.0h1.1M103.2 27.4h1.1M108.0 35.9h1.1M92.7 42.9h1.1M93.6 38.9h1.1M100.2 44.4h1.1M106.6 38.5h1.1M108.8 36.2h1.1M105.1 47.8h1.1M98.5 53.5h1.1M95.7 49.1h1.1M111.7 44.4h1.1M103.5 37.8h1.1M92.8 31.5h1.1M107.6 33.5h1.1M97.6 48.3h1.1M112.0 50.0h1.1M108.3 52.0h1.1M107.8 32.5h1.1M119.0 38.6h1.1M108.8 28.3h1.1M104.1 46.6h1.1M102.7 55.9h1.1M116.2 25.2h1.1M116.5 37.9h1.1M105.2 35.4h1.1M107.0 46.2h1.1M90.4 35.3h1.1M106.4 28.5h1.1M120.6 34.7h1.1M93.5 36.9h1.1M100.6 56.4h1.1M102.8 25.9h1.1M106.6 29.2h1.1M105.9 49.7h1.1M116.9 31.2h1.1M116.6 34.7h1.1M95.3 32.0h1.1M98.5 41.8h1.1M100.3 43.2h1.1M93.9 32.7h1.1M91.5 47.4h1.1M96.7 45.9h1.1M89.7 47.9h1.1M103.9 54.5h1.1M100.5 44.5h1.1M107.5 40.6h1.1M102.4 42.2h1.1M93.0 49.5h1.1M111.7 39.9h1.1M107.3 48.3h1.1M110.4 37.2h1.1M116.3 44.0h1.1M108.8 37.0h1.1M105.4 36.2h1.1M98.5 28.8h1.1M102.7 27.7h1.1M104.5 41.3h1.1M96.5 61.7h1.1M98.7 53.5h1.1M107.5 39.1h1.1M90.6 37.8h1.1M105.0 29.3h1.1M114.0 29.8h1.1M93.7 32.0h1.1M100.7 39.1h1.1M99.9 32.5h1.1M112.5 43.3h1.1M99.7 33.3h1.1M104.2 53.9h1.1M109.2 50.7h1.1M109.5 25.6h1.1M95.7 29.4h1.1M92.5 39.4h1.1M108.4 34.4h1.1M112.0 43.5h1.1M102.8 46.4h1.1M98.6 28.1h1.1M106.2 35.1h1.1M106.1 53.4h1.1M115.8 46.7h1.1M113.9 46.4h1.1M94.8 59.8h1.1M106.5 43.8h1.1M98.7 59.2h1.1" stroke="#bcd9a8" stroke-width="1.1" fill="none" opacity=".8"/>
<circle cx="133.6" cy="22.4" r="2.85" fill="#b3d6a0"/>
<text x="140" y="24.78" font-size="6.6" textLength="39.8" lengthAdjust="spacingAndGlyphs">1: Early PrePB</text>
<circle cx="133.6" cy="32.3" r="2.85" fill="#5a8a8e"/>
<text x="140" y="34.68" font-size="6.6" textLength="61.9" lengthAdjust="spacingAndGlyphs">2: Early mature PrePB</text>
<circle cx="133.6" cy="42.2" r="2.85" fill="#1d2a30"/>
<text x="140" y="44.58" font-size="6.6" textLength="80.2" lengthAdjust="spacingAndGlyphs">3: Transitional mature PrePB</text>
<circle cx="133.6" cy="52.1" r="2.85" fill="#806570"/>
<text x="140" y="54.48" font-size="6.6" textLength="46.2" lengthAdjust="spacingAndGlyphs">4: Mature PrePB</text>
<circle cx="133.6" cy="62" r="2.85" fill="#dac3cc"/>
<text x="140" y="64.38" font-size="6.6" textLength="51.3" lengthAdjust="spacingAndGlyphs">5: Proliferating PB</text>
<text x="236.5" y="16.94" font-size="11.5" font-weight="bold" fill="#111">C</text>
<line x1="275.9" y1="20" x2="275.9" y2="114.4" stroke="#222" stroke-width="1.1"/>
<line x1="273" y1="114.4" x2="394.5" y2="114.4" stroke="#222" stroke-width="1.3"/>
<line x1="273" y1="114.4" x2="275.9" y2="114.4" stroke="#222" stroke-width="0.9"/>
<text x="269.8" y="116.88" font-size="6.9" text-anchor="end">0</text>
<line x1="273" y1="102.95" x2="275.9" y2="102.95" stroke="#222" stroke-width="0.9"/>
<text x="269.8" y="105.43" font-size="6.9" text-anchor="end" textLength="10.3" lengthAdjust="spacingAndGlyphs">100</text>
<line x1="273" y1="91.5" x2="275.9" y2="91.5" stroke="#222" stroke-width="0.9"/>
<text x="269.8" y="93.98" font-size="6.9" text-anchor="end" textLength="10.3" lengthAdjust="spacingAndGlyphs">200</text>
<line x1="273" y1="80.05" x2="275.9" y2="80.05" stroke="#222" stroke-width="0.9"/>
<text x="269.8" y="82.53" font-size="6.9" text-anchor="end" textLength="10.3" lengthAdjust="spacingAndGlyphs">300</text>
<line x1="273" y1="68.6" x2="275.9" y2="68.6" stroke="#222" stroke-width="0.9"/>
<text x="269.8" y="71.08" font-size="6.9" text-anchor="end" textLength="10.3" lengthAdjust="spacingAndGlyphs">400</text>
<line x1="273" y1="57.15" x2="275.9" y2="57.15" stroke="#222" stroke-width="0.9"/>
<text x="269.8" y="59.63" font-size="6.9" text-anchor="end" textLength="10.3" lengthAdjust="spacingAndGlyphs">500</text>
<line x1="273" y1="45.7" x2="275.9" y2="45.7" stroke="#222" stroke-width="0.9"/>
<text x="269.8" y="48.18" font-size="6.9" text-anchor="end" textLength="10.3" lengthAdjust="spacingAndGlyphs">600</text>
<line x1="273" y1="34.25" x2="275.9" y2="34.25" stroke="#222" stroke-width="0.9"/>
<text x="269.8" y="36.73" font-size="6.9" text-anchor="end" textLength="10.3" lengthAdjust="spacingAndGlyphs">700</text>
<line x1="273" y1="22.8" x2="275.9" y2="22.8" stroke="#222" stroke-width="0.9"/>
<text x="269.8" y="25.28" font-size="6.9" text-anchor="end" textLength="10.3" lengthAdjust="spacingAndGlyphs">800</text>
<text x="251.5" y="70.11" font-size="7.8" text-anchor="middle" textLength="49.3" lengthAdjust="spacingAndGlyphs" transform="rotate(-90 251.5 67.3)">Number of DEGs</text>
<rect x="278.8" y="36.08" width="17.8" height="78.32" fill="#b5d49a"/>
<text x="287.7" y="33.66" font-size="6.6" text-anchor="middle">684</text>
<line x1="287.7" y1="114.4" x2="287.7" y2="116.9" stroke="#222" stroke-width="0.8"/>
<text x="287.7" y="125.8" font-size="6.4" text-anchor="middle">1</text>
<rect x="302.68" y="93.1" width="17.8" height="21.3" fill="#4f6d8f"/>
<text x="311.58" y="90.68" font-size="6.6" text-anchor="middle">186</text>
<line x1="311.58" y1="114.4" x2="311.58" y2="116.9" stroke="#222" stroke-width="0.8"/>
<text x="311.58" y="125.8" font-size="6.4" text-anchor="middle">2</text>
<rect x="326.56" y="91.04" width="17.8" height="23.36" fill="#24323d"/>
<text x="335.46" y="88.62" font-size="6.6" text-anchor="middle">204</text>
<line x1="335.46" y1="114.4" x2="335.46" y2="116.9" stroke="#222" stroke-width="0.8"/>
<text x="335.46" y="125.8" font-size="6.4" text-anchor="middle">3</text>
<rect x="350.44" y="101.58" width="17.8" height="12.82" fill="#8b6a73"/>
<text x="359.34" y="99.15" font-size="6.6" text-anchor="middle">112</text>
<line x1="359.34" y1="114.4" x2="359.34" y2="116.9" stroke="#222" stroke-width="0.8"/>
<text x="359.34" y="125.8" font-size="6.4" text-anchor="middle">4</text>
<rect x="374.32" y="64.36" width="17.8" height="50.04" fill="#dbb8c9"/>
<text x="383.22" y="61.94" font-size="6.6" text-anchor="middle">437</text>
<line x1="383.22" y1="114.4" x2="383.22" y2="116.9" stroke="#222" stroke-width="0.8"/>
<text x="383.22" y="125.8" font-size="6.4" text-anchor="middle">5</text>
<text x="6.5" y="151.24" font-size="11.5" font-weight="bold" fill="#111">B</text>
<line x1="52.8" y1="143.2" x2="52.8" y2="159.6" stroke="#222" stroke-width="0.9"/>
<line x1="50.3" y1="144.5" x2="52.8" y2="144.5" stroke="#222" stroke-width="0.8"/>
<text x="44.6" y="146.73" font-size="6.2" text-anchor="middle">2</text>
<text x="39.3" y="152.79" font-size="7.2" text-anchor="end" font-style="italic" fill="#2a2a2a" textLength="18.23" lengthAdjust="spacingAndGlyphs">BATF3</text>
<path d="M67.6 159.2 68.1 158.7 68.3 158.2 68.4 157.8 68.5 157.3 68.5 156.8 68.5 156.3 68.4 155.8 68.3 155.3 68.1 154.9 67.8 154.4 67.5 153.9 67.1 153.4 66.7 152.9 66.3 152.4 65.9 152.0 65.4 151.5 64.9 151.0 64.5 150.5 64.1 150.0 63.7 149.6 63.4 149.1 63.1 148.6 62.9 148.1 62.7 147.6 62.6 147.1 62.5 146.7 62.5 146.2 62.5 145.7 62.5 145.7 62.5 146.2 62.5 146.7 62.4 147.1 62.3 147.6 62.1 148.1 61.9 148.6 61.6 149.1 61.3 149.6 60.9 150.0 60.5 150.5 60.1 151.0 59.6 151.5 59.1 152.0 58.7 152.4 58.3 152.9 57.9 153.4 57.5 153.9 57.2 154.4 56.9 154.9 56.7 155.3 56.6 155.8 56.5 156.3 56.5 156.8 56.5 157.3 56.6 157.8 56.7 158.2 56.9 158.7 57.4 159.2Z" fill="#c4de9f" stroke="#222" stroke-width=".8"/>
<line x1="80.8" y1="159.2" x2="80.8" y2="149.2" stroke="#333" stroke-width="0.8"/>
<path d="M80.8 159.2 81.2 159.1 81.6 159.0 82.0 158.9 82.2 158.8 82.4 158.7 82.4 158.6 82.4 158.4 82.3 158.3 82.3 158.2 82.2 158.1 82.2 158.0 82.1 157.9 82.0 157.8 81.8 157.7 81.7 157.6 81.6 157.5 81.5 157.4 81.4 157.3 81.3 157.2 81.2 157.1 81.1 156.9 81.0 156.8 80.9 156.7 80.9 156.6 80.8 156.5 80.8 156.4 80.8 156.3 80.8 156.2 80.8 156.2 80.8 156.3 80.8 156.4 80.8 156.5 80.7 156.6 80.7 156.7 80.6 156.8 80.5 156.9 80.4 157.1 80.3 157.2 80.2 157.3 80.1 157.4 80.0 157.5 79.9 157.6 79.8 157.7 79.6 157.8 79.5 157.9 79.4 158.0 79.4 158.1 79.3 158.2 79.3 158.3 79.2 158.4 79.2 158.6 79.2 158.7 79.4 158.8 79.6 158.9 80.0 159.0 80.4 159.1 80.8 159.2Z" fill="#5d8b98" stroke="#222" stroke-width=".8"/>
<line x1="99.1" y1="159.2" x2="99.1" y2="154.2" stroke="#333" stroke-width="0.8"/>
<line x1="117.5" y1="159.2" x2="117.5" y2="155.2" stroke="#333" stroke-width="0.8"/>
<line x1="135.9" y1="159.2" x2="135.9" y2="154.2" stroke="#333" stroke-width="0.8"/>
<line x1="52.8" y1="159.2" x2="145" y2="159.2" stroke="#222" stroke-width="0.9"/>
<line x1="52.8" y1="164.08" x2="52.8" y2="180.48" stroke="#222" stroke-width="0.9"/>
<line x1="50.3" y1="165.38" x2="52.8" y2="165.38" stroke="#222" stroke-width="0.8"/>
<text x="44.6" y="167.61" font-size="6.2" text-anchor="middle">2</text>
<text x="39.3" y="173.67" font-size="7.2" text-anchor="end" font-style="italic" fill="#2a2a2a" textLength="13" lengthAdjust="spacingAndGlyphs">IRF5</text>
<line x1="62.5" y1="180.08" x2="62.5" y2="179.58" stroke="#333" stroke-width="0.7"/>
<path d="M66.5 179.6 68.1 179.1 68.8 178.7 69.3 178.2 69.7 177.8 69.9 177.3 70.2 176.9 70.3 176.4 70.4 176.0 70.5 175.5 70.5 175.0 70.4 174.6 70.2 174.1 69.8 173.7 69.3 173.2 68.7 172.8 68.0 172.3 67.3 171.9 66.6 171.4 65.8 171.0 65.1 170.5 64.4 170.1 63.8 169.6 63.4 169.1 63.0 168.7 62.7 168.2 62.6 167.8 62.5 167.3 62.5 166.9 62.5 166.9 62.5 167.3 62.4 167.8 62.3 168.2 62.0 168.7 61.6 169.1 61.2 169.6 60.6 170.1 59.9 170.5 59.2 171.0 58.4 171.4 57.7 171.9 57.0 172.3 56.3 172.8 55.7 173.2 55.2 173.7 54.8 174.1 54.6 174.6 54.5 175.0 54.5 175.5 54.6 176.0 54.7 176.4 54.8 176.9 55.1 177.3 55.3 177.8 55.7 178.2 56.2 178.7 56.9 179.1 58.5 179.6Z" fill="#c4de9f" stroke="#222" stroke-width=".8"/>
<path d="M82.5 180.1 83.7 179.7 84.1 179.4 84.4 179.1 84.7 178.8 84.9 178.4 85.0 178.1 85.1 177.8 85.1 177.4 85.1 177.1 85.0 176.8 84.9 176.4 84.7 176.1 84.4 175.8 84.1 175.4 83.8 175.1 83.4 174.8 83.1 174.4 82.7 174.1 82.3 173.8 82.0 173.4 81.7 173.1 81.4 172.8 81.2 172.4 81.0 172.1 80.9 171.8 80.8 171.4 80.8 171.1 80.8 170.8 80.8 170.8 80.8 171.1 80.8 171.4 80.7 171.8 80.6 172.1 80.4 172.4 80.2 172.8 79.9 173.1 79.6 173.4 79.3 173.8 78.9 174.1 78.5 174.4 78.2 174.8 77.8 175.1 77.5 175.4 77.2 175.8 76.9 176.1 76.7 176.4 76.6 176.8 76.5 177.1 76.5 177.4 76.5 177.8 76.6 178.1 76.7 178.4 76.9 178.8 77.2 179.1 77.5 179.4 77.9 179.7 79.1 180.1Z" fill="#5d8b98" stroke="#222" stroke-width=".8"/>
<line x1="99.1" y1="175.08" x2="99.1" y2="169.08" stroke="#333" stroke-width="0.7"/>
<path d="M99.1 180.1 99.5 179.9 99.9 179.7 100.4 179.5 100.7 179.4 101.1 179.2 101.3 179.0 101.5 178.8 101.6 178.7 101.6 178.5 101.6 178.3 101.5 178.1 101.4 177.9 101.2 177.8 101.1 177.6 100.9 177.4 100.7 177.2 100.5 177.0 100.3 176.9 100.0 176.7 99.8 176.5 99.7 176.3 99.5 176.2 99.4 176.0 99.3 175.8 99.2 175.6 99.1 175.4 99.1 175.3 99.1 175.1 99.1 175.1 99.1 175.3 99.1 175.4 99.0 175.6 98.9 175.8 98.8 176.0 98.7 176.2 98.5 176.3 98.4 176.5 98.2 176.7 97.9 176.9 97.7 177.0 97.5 177.2 97.3 177.4 97.1 177.6 97.0 177.8 96.8 177.9 96.7 178.1 96.6 178.3 96.6 178.5 96.6 178.7 96.7 178.8 96.9 179.0 97.1 179.2 97.5 179.4 97.8 179.5 98.3 179.7 98.7 179.9 99.1 180.1Z" fill="#20323c" stroke="#222" stroke-width=".8"/>
<line x1="117.5" y1="180.08" x2="117.5" y2="174.08" stroke="#333" stroke-width="0.8"/>
<path d="M117.5 180.1 117.6 180.0 117.8 179.9 118.0 179.9 118.2 179.8 118.3 179.7 118.4 179.7 118.5 179.6 118.5 179.5 118.5 179.4 118.5 179.4 118.5 179.3 118.4 179.2 118.4 179.2 118.3 179.1 118.2 179.0 118.1 178.9 118.0 178.9 118.0 178.8 117.9 178.7 117.8 178.7 117.7 178.6 117.7 178.5 117.6 178.4 117.6 178.4 117.5 178.3 117.5 178.2 117.5 178.2 117.5 178.1 117.5 178.1 117.5 178.2 117.5 178.2 117.5 178.3 117.4 178.4 117.4 178.4 117.3 178.5 117.3 178.6 117.2 178.7 117.1 178.7 117.0 178.8 117.0 178.9 116.9 178.9 116.8 179.0 116.7 179.1 116.6 179.2 116.6 179.2 116.5 179.3 116.5 179.4 116.5 179.4 116.5 179.5 116.5 179.6 116.6 179.7 116.7 179.7 116.8 179.8 117.0 179.9 117.2 179.9 117.4 180.0 117.5 180.1Z" fill="#8e6b78" stroke="#222" stroke-width=".8"/>
<line x1="135.9" y1="180.08" x2="135.9" y2="169.08" stroke="#333" stroke-width="0.8"/>
<line x1="52.8" y1="180.08" x2="145" y2="180.08" stroke="#222" stroke-width="0.9"/>
<line x1="52.8" y1="184.96" x2="52.8" y2="201.36" stroke="#222" stroke-width="0.9"/>
<line x1="50.3" y1="186.26" x2="52.8" y2="186.26" stroke="#222" stroke-width="0.8"/>
<text x="44.6" y="188.49" font-size="6.2" text-anchor="middle">3</text>
<text x="39.3" y="194.55" font-size="7.2" text-anchor="end" font-style="italic" fill="#2a2a2a" textLength="20.34" lengthAdjust="spacingAndGlyphs">RUNX3</text>
<line x1="62.5" y1="200.96" x2="62.5" y2="199.96" stroke="#333" stroke-width="0.7"/>
<line x1="62.5" y1="187.76" x2="62.5" y2="186.26" stroke="#333" stroke-width="0.7"/>
<path d="M62.5 200.0 63.4 199.5 64.6 199.1 65.8 198.7 67.0 198.2 68.0 197.8 69.0 197.3 69.7 196.9 70.3 196.5 70.7 196.0 71.0 195.6 71.0 195.2 70.9 194.7 70.6 194.3 70.1 193.9 69.6 193.4 68.9 193.0 68.2 192.6 67.4 192.1 66.6 191.7 65.7 191.2 65.0 190.8 64.3 190.4 63.7 189.9 63.2 189.5 62.8 189.1 62.6 188.6 62.5 188.2 62.5 187.8 62.5 187.8 62.5 188.2 62.4 188.6 62.2 189.1 61.8 189.5 61.3 189.9 60.7 190.4 60.0 190.8 59.3 191.2 58.4 191.7 57.6 192.1 56.8 192.6 56.1 193.0 55.4 193.4 54.9 193.9 54.4 194.3 54.1 194.7 54.0 195.2 54.0 195.6 54.3 196.0 54.7 196.5 55.3 196.9 56.0 197.3 57.0 197.8 58.0 198.2 59.2 198.7 60.4 199.1 61.6 199.5 62.5 200.0Z" fill="#c4de9f" stroke="#222" stroke-width=".8"/>
<line x1="80.8" y1="200.96" x2="80.8" y2="199.96" stroke="#333" stroke-width="0.7"/>
<path d="M80.8 200.0 81.8 199.6 83.0 199.2 84.3 198.9 85.5 198.5 86.5 198.1 87.4 197.8 88.1 197.4 88.6 197.0 88.9 196.6 89.0 196.3 88.9 195.9 88.7 195.5 88.3 195.2 87.8 194.8 87.3 194.4 86.6 194.1 85.9 193.7 85.1 193.3 84.4 193.0 83.7 192.6 83.0 192.2 82.3 191.9 81.8 191.5 81.4 191.1 81.1 190.8 80.9 190.4 80.8 190.0 80.8 189.7 80.8 189.7 80.8 190.0 80.7 190.4 80.5 190.8 80.2 191.1 79.8 191.5 79.3 191.9 78.6 192.2 77.9 192.6 77.2 193.0 76.5 193.3 75.7 193.7 75.0 194.1 74.3 194.4 73.8 194.8 73.3 195.2 72.9 195.5 72.7 195.9 72.6 196.3 72.7 196.6 73.0 197.0 73.5 197.4 74.2 197.8 75.1 198.1 76.1 198.5 77.3 198.9 78.6 199.2 79.8 199.6 80.8 200.0Z" fill="#5d8b98" stroke="#222" stroke-width=".8"/>
<path d="M105.0 201.0 106.2 200.6 106.6 200.2 107.0 199.8 107.2 199.4 107.4 199.0 107.5 198.6 107.6 198.2 107.6 197.8 107.6 197.4 107.4 197.0 107.2 196.6 106.8 196.2 106.4 195.9 105.8 195.5 105.2 195.1 104.5 194.7 103.8 194.3 103.0 193.9 102.3 193.5 101.6 193.1 101.0 192.7 100.5 192.3 100.0 191.9 99.6 191.5 99.3 191.1 99.2 190.7 99.1 190.4 99.1 190.0 99.1 190.0 99.1 190.4 99.0 190.7 98.9 191.1 98.6 191.5 98.2 191.9 97.7 192.3 97.2 192.7 96.6 193.1 95.9 193.5 95.2 193.9 94.4 194.3 93.7 194.7 93.0 195.1 92.4 195.5 91.8 195.9 91.4 196.2 91.0 196.6 90.8 197.0 90.6 197.4 90.6 197.8 90.6 198.2 90.7 198.6 90.8 199.0 91.0 199.4 91.2 199.8 91.6 200.2 92.0 200.6 93.1 201.0Z" fill="#20323c" stroke="#222" stroke-width=".8"/>
<line x1="117.5" y1="200.96" x2="117.5" y2="200.46" stroke="#333" stroke-width="0.7"/>
<path d="M117.5 200.5 118.4 200.1 119.7 199.7 120.9 199.3 122.1 199.0 123.1 198.6 124.0 198.2 124.7 197.8 125.2 197.5 125.4 197.1 125.5 196.7 125.4 196.3 125.2 196.0 124.8 195.6 124.4 195.2 123.8 194.8 123.2 194.5 122.5 194.1 121.7 193.7 121.0 193.3 120.3 193.0 119.6 192.6 119.0 192.2 118.5 191.8 118.1 191.5 117.8 191.1 117.6 190.7 117.5 190.3 117.5 190.0 117.5 190.0 117.5 190.3 117.4 190.7 117.2 191.1 116.9 191.5 116.5 191.8 116.0 192.2 115.4 192.6 114.7 193.0 114.0 193.3 113.3 193.7 112.5 194.1 111.8 194.5 111.2 194.8 110.6 195.2 110.2 195.6 109.8 196.0 109.6 196.3 109.5 196.7 109.6 197.1 109.8 197.5 110.3 197.8 111.0 198.2 111.9 198.6 112.9 199.0 114.1 199.3 115.3 199.7 116.6 200.1 117.5 200.5Z" fill="#8e6b78" stroke="#222" stroke-width=".8"/>
<line x1="127.9" y1="200.66" x2="143.9" y2="200.66" stroke="#222" stroke-width="0.9"/>
<line x1="135.9" y1="200.96" x2="135.9" y2="188.96" stroke="#333" stroke-width="0.8"/>
<line x1="135.9" y1="200.96" x2="135.9" y2="197.96" stroke="#333" stroke-width="0.7"/>
<path d="M135.9 198.0 136.4 197.8 136.6 197.6 136.8 197.4 136.9 197.2 137.0 197.1 137.1 196.9 137.2 196.7 137.2 196.5 137.3 196.4 137.3 196.2 137.4 196.0 137.4 195.8 137.4 195.6 137.4 195.5 137.4 195.3 137.4 195.1 137.4 194.9 137.3 194.7 137.3 194.6 137.2 194.4 137.2 194.2 137.1 194.0 137.0 193.9 136.9 193.7 136.7 193.5 136.6 193.3 136.4 193.1 135.9 193.0 135.9 193.0 135.4 193.1 135.2 193.3 135.1 193.5 134.9 193.7 134.8 193.9 134.7 194.0 134.6 194.2 134.6 194.4 134.5 194.6 134.5 194.7 134.4 194.9 134.4 195.1 134.4 195.3 134.4 195.5 134.4 195.6 134.4 195.8 134.4 196.0 134.5 196.2 134.5 196.4 134.6 196.5 134.6 196.7 134.7 196.9 134.8 197.1 134.9 197.2 135.0 197.4 135.2 197.6 135.4 197.8 135.9 198.0Z" fill="#e8c6d6" stroke="#222" stroke-width=".8"/>
<line x1="52.8" y1="200.96" x2="145" y2="200.96" stroke="#222" stroke-width="0.9"/>
<line x1="52.8" y1="205.84" x2="52.8" y2="222.24" stroke="#222" stroke-width="0.9"/>
<line x1="50.3" y1="207.14" x2="52.8" y2="207.14" stroke="#222" stroke-width="0.8"/>
<text x="44.6" y="209.37" font-size="6.2" text-anchor="middle">2</text>
<text x="39.3" y="215.43" font-size="7.2" text-anchor="end" font-style="italic" fill="#2a2a2a" textLength="15.67" lengthAdjust="spacingAndGlyphs">PHB2</text>
<line x1="62.5" y1="221.84" x2="62.5" y2="220.44" stroke="#333" stroke-width="0.7"/>
<path d="M62.5 220.4 63.2 220.0 64.1 219.6 65.0 219.2 66.0 218.8 66.9 218.4 67.7 218.0 68.5 217.5 69.2 217.1 69.7 216.7 70.2 216.3 70.5 215.9 70.8 215.5 70.9 215.1 70.9 214.6 70.6 214.2 70.2 213.8 69.6 213.4 68.8 213.0 67.9 212.6 67.0 212.2 66.0 211.7 65.1 211.3 64.2 210.9 63.5 210.5 63.0 210.1 62.7 209.7 62.5 209.3 62.5 208.8 62.5 208.8 62.5 209.3 62.3 209.7 62.0 210.1 61.5 210.5 60.8 210.9 59.9 211.3 59.0 211.7 58.0 212.2 57.1 212.6 56.2 213.0 55.4 213.4 54.8 213.8 54.4 214.2 54.1 214.6 54.1 215.1 54.2 215.5 54.5 215.9 54.8 216.3 55.3 216.7 55.8 217.1 56.5 217.5 57.3 218.0 58.1 218.4 59.0 218.8 60.0 219.2 60.9 219.6 61.8 220.0 62.5 220.4Z" fill="#c4de9f" stroke="#222" stroke-width=".8"/>
<line x1="80.8" y1="221.84" x2="80.8" y2="220.44" stroke="#333" stroke-width="0.7"/>
<path d="M80.8 220.4 81.5 220.0 82.4 219.6 83.4 219.2 84.3 218.8 85.2 218.4 86.1 218.0 86.9 217.5 87.5 217.1 88.1 216.7 88.6 216.3 88.9 215.9 89.2 215.5 89.3 215.1 89.3 214.6 89.0 214.2 88.6 213.8 88.0 213.4 87.2 213.0 86.3 212.6 85.3 212.2 84.3 211.7 83.4 211.3 82.6 210.9 81.9 210.5 81.3 210.1 81.0 209.7 80.8 209.3 80.8 208.8 80.8 208.8 80.8 209.3 80.6 209.7 80.3 210.1 79.7 210.5 79.0 210.9 78.2 211.3 77.3 211.7 76.3 212.2 75.3 212.6 74.4 213.0 73.6 213.4 73.0 213.8 72.6 214.2 72.3 214.6 72.3 215.1 72.4 215.5 72.7 215.9 73.0 216.3 73.5 216.7 74.1 217.1 74.7 217.5 75.5 218.0 76.4 218.4 77.3 218.8 78.2 219.2 79.2 219.6 80.1 220.0 80.8 220.4Z" fill="#5d8b98" stroke="#222" stroke-width=".8"/>
<line x1="99.1" y1="221.84" x2="99.1" y2="220.44" stroke="#333" stroke-width="0.7"/>
<path d="M99.1 220.4 99.8 220.0 100.7 219.6 101.7 219.2 102.6 218.8 103.5 218.4 104.4 218.0 105.2 217.5 105.8 217.1 106.4 216.7 106.9 216.3 107.2 215.9 107.5 215.5 107.6 215.1 107.6 214.6 107.3 214.2 106.9 213.8 106.3 213.4 105.5 213.0 104.6 212.6 103.6 212.2 102.6 211.7 101.7 211.3 100.9 210.9 100.2 210.5 99.6 210.1 99.3 209.7 99.1 209.3 99.1 208.8 99.1 208.8 99.1 209.3 98.9 209.7 98.6 210.1 98.0 210.5 97.3 210.9 96.5 211.3 95.6 211.7 94.6 212.2 93.6 212.6 92.7 213.0 91.9 213.4 91.3 213.8 90.9 214.2 90.6 214.6 90.6 215.1 90.7 215.5 91.0 215.9 91.3 216.3 91.8 216.7 92.4 217.1 93.0 217.5 93.8 218.0 94.7 218.4 95.6 218.8 96.5 219.2 97.5 219.6 98.4 220.0 99.1 220.4Z" fill="#20323c" stroke="#222" stroke-width=".8"/>
<line x1="117.5" y1="221.84" x2="117.5" y2="220.44" stroke="#333" stroke-width="0.7"/>
<path d="M117.5 220.4 118.1 220.0 119.0 219.6 119.9 219.2 120.8 218.8 121.7 218.4 122.5 218.0 123.2 217.5 123.8 217.1 124.4 216.7 124.8 216.3 125.2 215.9 125.4 215.5 125.5 215.1 125.5 214.6 125.2 214.2 124.8 213.8 124.2 213.4 123.5 213.0 122.6 212.6 121.7 212.2 120.8 211.7 119.9 211.3 119.1 210.9 118.5 210.5 118.0 210.1 117.7 209.7 117.5 209.3 117.5 208.8 117.5 208.8 117.5 209.3 117.3 209.7 117.0 210.1 116.5 210.5 115.9 210.9 115.1 211.3 114.2 211.7 113.3 212.2 112.4 212.6 111.5 213.0 110.8 213.4 110.2 213.8 109.8 214.2 109.5 214.6 109.5 215.1 109.6 215.5 109.8 215.9 110.2 216.3 110.6 216.7 111.2 217.1 111.8 217.5 112.5 218.0 113.3 218.4 114.2 218.8 115.1 219.2 116.0 219.6 116.9 220.0 117.5 220.4Z" fill="#8e6b78" stroke="#222" stroke-width=".8"/>
<line x1="127.9" y1="221.54" x2="143.9" y2="221.54" stroke="#222" stroke-width="0.9"/>
<line x1="135.9" y1="221.84" x2="135.9" y2="219.44" stroke="#333" stroke-width="0.7"/>
<path d="M137.5 219.4 138.9 219.1 139.6 218.8 140.0 218.4 140.3 218.1 140.6 217.7 140.8 217.4 140.9 217.0 141.0 216.7 141.1 216.4 141.1 216.0 141.0 215.7 140.9 215.3 140.6 215.0 140.3 214.6 139.9 214.3 139.5 214.0 139.0 213.6 138.5 213.3 138.0 212.9 137.6 212.6 137.1 212.2 136.8 211.9 136.5 211.6 136.2 211.2 136.0 210.9 135.9 210.5 135.9 210.2 135.9 209.8 135.9 209.8 135.9 210.2 135.9 210.5 135.8 210.9 135.6 211.2 135.3 211.6 135.0 211.9 134.7 212.2 134.2 212.6 133.8 212.9 133.3 213.3 132.8 213.6 132.3 214.0 131.9 214.3 131.5 214.6 131.2 215.0 130.9 215.3 130.8 215.7 130.7 216.0 130.7 216.4 130.8 216.7 130.9 217.0 131.0 217.4 131.2 217.7 131.5 218.1 131.8 218.4 132.2 218.8 132.9 219.1 134.3 219.4Z" fill="#e8c6d6" stroke="#222" stroke-width=".8"/>
<line x1="52.8" y1="221.84" x2="145" y2="221.84" stroke="#222" stroke-width="0.9"/>
<line x1="52.8" y1="226.72" x2="52.8" y2="243.12" stroke="#222" stroke-width="0.9"/>
<line x1="50.3" y1="228.02" x2="52.8" y2="228.02" stroke="#222" stroke-width="0.8"/>
<text x="44.6" y="230.25" font-size="6.2" text-anchor="middle">3</text>
<text x="39.3" y="236.31" font-size="7.2" text-anchor="end" font-style="italic" fill="#2a2a2a" textLength="21" lengthAdjust="spacingAndGlyphs">PRDM1</text>
<path d="M64.7 242.7 65.6 242.3 65.9 242.0 66.0 241.6 66.1 241.2 66.1 240.8 66.0 240.4 66.0 240.0 65.8 239.7 65.7 239.3 65.5 238.9 65.3 238.5 65.1 238.1 64.9 237.8 64.6 237.4 64.4 237.0 64.1 236.6 63.9 236.2 63.6 235.8 63.4 235.5 63.2 235.1 63.0 234.7 62.9 234.3 62.7 233.9 62.6 233.5 62.6 233.2 62.5 232.8 62.5 232.4 62.5 232.0 62.5 232.0 62.5 232.4 62.5 232.8 62.4 233.2 62.4 233.5 62.3 233.9 62.1 234.3 62.0 234.7 61.8 235.1 61.6 235.5 61.4 235.8 61.1 236.2 60.9 236.6 60.6 237.0 60.4 237.4 60.1 237.8 59.9 238.1 59.7 238.5 59.5 238.9 59.3 239.3 59.2 239.7 59.0 240.0 59.0 240.4 58.9 240.8 58.9 241.2 59.0 241.6 59.1 242.0 59.4 242.3 60.3 242.7Z" fill="#c4de9f" stroke="#222" stroke-width=".8"/>
<line x1="80.8" y1="242.72" x2="80.8" y2="242.02" stroke="#333" stroke-width="0.7"/>
<path d="M80.8 242.0 81.6 241.6 82.6 241.2 83.7 240.8 84.7 240.4 85.7 239.9 86.6 239.5 87.4 239.1 88.1 238.7 88.6 238.3 89.0 237.9 89.2 237.5 89.3 237.0 89.2 236.6 88.9 236.2 88.5 235.8 87.9 235.4 87.2 235.0 86.4 234.6 85.5 234.1 84.6 233.7 83.7 233.3 82.9 232.9 82.2 232.5 81.6 232.1 81.2 231.7 80.9 231.2 80.8 230.8 80.8 230.4 80.8 230.4 80.8 230.8 80.7 231.2 80.4 231.7 80.0 232.1 79.4 232.5 78.7 232.9 77.9 233.3 77.0 233.7 76.1 234.1 75.2 234.6 74.4 235.0 73.7 235.4 73.1 235.8 72.7 236.2 72.4 236.6 72.3 237.0 72.4 237.5 72.6 237.9 73.0 238.3 73.5 238.7 74.2 239.1 75.0 239.5 75.9 239.9 76.9 240.4 77.9 240.8 79.0 241.2 80.0 241.6 80.8 242.0Z" fill="#5d8b98" stroke="#222" stroke-width=".8"/>
<line x1="99.1" y1="242.72" x2="99.1" y2="242.02" stroke="#333" stroke-width="0.7"/>
<path d="M99.1 242.0 99.9 241.6 100.9 241.2 102.0 240.8 103.0 240.4 104.0 239.9 104.9 239.5 105.7 239.1 106.4 238.7 106.9 238.3 107.3 237.9 107.5 237.5 107.6 237.0 107.5 236.6 107.2 236.2 106.8 235.8 106.2 235.4 105.5 235.0 104.7 234.6 103.8 234.1 102.9 233.7 102.0 233.3 101.2 232.9 100.5 232.5 99.9 232.1 99.5 231.7 99.2 231.2 99.1 230.8 99.1 230.4 99.1 230.4 99.1 230.8 99.0 231.2 98.7 231.7 98.3 232.1 97.7 232.5 97.0 232.9 96.2 233.3 95.3 233.7 94.4 234.1 93.5 234.6 92.7 235.0 92.0 235.4 91.4 235.8 91.0 236.2 90.7 236.6 90.6 237.0 90.7 237.5 90.9 237.9 91.3 238.3 91.8 238.7 92.5 239.1 93.3 239.5 94.2 239.9 95.2 240.4 96.2 240.8 97.3 241.2 98.3 241.6 99.1 242.0Z" fill="#20323c" stroke="#222" stroke-width=".8"/>
<line x1="117.5" y1="242.72" x2="117.5" y2="242.02" stroke="#333" stroke-width="0.7"/>
<path d="M117.5 242.0 118.3 241.6 119.3 241.2 120.4 240.8 121.4 240.4 122.4 239.9 123.3 239.5 124.1 239.1 124.8 238.7 125.3 238.3 125.7 237.9 125.9 237.5 126.0 237.0 125.9 236.6 125.6 236.2 125.2 235.8 124.6 235.4 123.9 235.0 123.1 234.6 122.2 234.1 121.3 233.7 120.4 233.3 119.6 232.9 118.9 232.5 118.3 232.1 117.9 231.7 117.6 231.2 117.5 230.8 117.5 230.4 117.5 230.4 117.5 230.8 117.4 231.2 117.1 231.7 116.7 232.1 116.1 232.5 115.4 232.9 114.6 233.3 113.7 233.7 112.8 234.1 111.9 234.6 111.1 235.0 110.4 235.4 109.8 235.8 109.4 236.2 109.1 236.6 109.0 237.0 109.1 237.5 109.3 237.9 109.7 238.3 110.2 238.7 110.9 239.1 111.7 239.5 112.6 239.9 113.6 240.4 114.6 240.8 115.7 241.2 116.7 241.6 117.5 242.0Z" fill="#8e6b78" stroke="#222" stroke-width=".8"/>
<line x1="135.9" y1="242.72" x2="135.9" y2="242.02" stroke="#333" stroke-width="0.7"/>
<path d="M135.9 242.0 136.7 241.6 137.8 241.2 138.9 240.8 140.0 240.4 141.0 239.9 141.9 239.5 142.8 239.1 143.4 238.7 144.0 238.3 144.4 237.9 144.6 237.5 144.7 237.0 144.6 236.6 144.3 236.2 143.9 235.8 143.3 235.4 142.5 235.0 141.7 234.6 140.8 234.1 139.9 233.7 138.9 233.3 138.1 232.9 137.4 232.5 136.8 232.1 136.3 231.7 136.1 231.2 135.9 230.8 135.9 230.4 135.9 230.4 135.9 230.8 135.7 231.2 135.5 231.7 135.0 232.1 134.4 232.5 133.7 232.9 132.9 233.3 131.9 233.7 131.0 234.1 130.1 234.6 129.3 235.0 128.5 235.4 127.9 235.8 127.5 236.2 127.2 236.6 127.1 237.0 127.2 237.5 127.4 237.9 127.8 238.3 128.4 238.7 129.0 239.1 129.9 239.5 130.8 239.9 131.8 240.4 132.9 240.8 134.0 241.2 135.1 241.6 135.9 242.0Z" fill="#e8c6d6" stroke="#222" stroke-width=".8"/>
<line x1="52.8" y1="242.72" x2="145" y2="242.72" stroke="#222" stroke-width="0.9"/>
<line x1="52.8" y1="247.6" x2="52.8" y2="264" stroke="#222" stroke-width="0.9"/>
<line x1="50.3" y1="248.9" x2="52.8" y2="248.9" stroke="#222" stroke-width="0.8"/>
<text x="44.6" y="251.13" font-size="6.2" text-anchor="middle">4</text>
<text x="39.3" y="257.19" font-size="7.2" text-anchor="end" font-style="italic" fill="#2a2a2a" textLength="15.34" lengthAdjust="spacingAndGlyphs">XBP1</text>
<path d="M65.4 263.6 66.7 263.4 67.2 263.1 67.6 262.9 67.8 262.7 68.0 262.5 68.2 262.2 68.3 262.0 68.3 261.8 68.3 261.5 68.2 261.3 68.0 261.1 67.7 260.9 67.4 260.6 67.0 260.4 66.5 260.2 66.1 259.9 65.6 259.7 65.0 259.5 64.6 259.3 64.1 259.0 63.7 258.8 63.3 258.6 63.0 258.3 62.8 258.1 62.6 257.9 62.5 257.7 62.5 257.4 62.5 257.2 62.5 257.2 62.5 257.4 62.5 257.7 62.4 257.9 62.2 258.1 62.0 258.3 61.7 258.6 61.3 258.8 60.9 259.0 60.4 259.3 60.0 259.5 59.4 259.7 58.9 259.9 58.5 260.2 58.0 260.4 57.6 260.6 57.3 260.9 57.0 261.1 56.8 261.3 56.7 261.5 56.7 261.8 56.7 262.0 56.8 262.2 57.0 262.5 57.2 262.7 57.4 262.9 57.8 263.1 58.3 263.4 59.6 263.6Z" fill="#c4de9f" stroke="#222" stroke-width=".8"/>
<path d="M81.6 263.6 82.4 263.4 83.3 263.1 84.3 262.9 85.2 262.7 86.1 262.5 86.9 262.2 87.6 262.0 88.2 261.8 88.7 261.5 89.0 261.3 89.2 261.1 89.3 260.9 89.2 260.6 88.9 260.4 88.5 260.2 87.9 259.9 87.2 259.7 86.4 259.5 85.5 259.3 84.6 259.0 83.7 258.8 82.9 258.6 82.2 258.3 81.6 258.1 81.2 257.9 80.9 257.7 80.8 257.4 80.8 257.2 80.8 257.2 80.8 257.4 80.7 257.7 80.4 257.9 80.0 258.1 79.4 258.3 78.7 258.6 77.9 258.8 77.0 259.0 76.1 259.3 75.2 259.5 74.4 259.7 73.7 259.9 73.1 260.2 72.7 260.4 72.4 260.6 72.3 260.9 72.4 261.1 72.6 261.3 72.9 261.5 73.4 261.8 74.0 262.0 74.7 262.2 75.5 262.5 76.4 262.7 77.3 262.9 78.3 263.1 79.2 263.4 80.0 263.6Z" fill="#5d8b98" stroke="#222" stroke-width=".8"/>
<path d="M99.1 263.6 100.0 263.3 101.2 263.0 102.4 262.7 103.6 262.4 104.6 262.0 105.6 261.7 106.3 261.4 106.9 261.1 107.3 260.8 107.6 260.5 107.6 260.2 107.5 259.9 107.2 259.6 106.7 259.2 106.2 258.9 105.5 258.6 104.8 258.3 104.0 258.0 103.2 257.7 102.3 257.4 101.6 257.1 100.9 256.8 100.3 256.5 99.8 256.1 99.4 255.8 99.2 255.5 99.1 255.2 99.1 254.9 99.1 254.9 99.1 255.2 99.0 255.5 98.8 255.8 98.4 256.1 97.9 256.5 97.3 256.8 96.6 257.1 95.9 257.4 95.0 257.7 94.2 258.0 93.4 258.3 92.7 258.6 92.0 258.9 91.5 259.2 91.0 259.6 90.7 259.9 90.6 260.2 90.6 260.5 90.9 260.8 91.3 261.1 91.9 261.4 92.6 261.7 93.6 262.0 94.6 262.4 95.8 262.7 97.0 263.0 98.2 263.3 99.1 263.6Z" fill="#20323c" stroke="#222" stroke-width=".8"/>
<path d="M117.5 263.6 118.4 263.3 119.6 262.9 120.8 262.6 122.0 262.3 123.0 262.0 124.0 261.6 124.7 261.3 125.3 261.0 125.7 260.6 126.0 260.3 126.0 260.0 125.9 259.7 125.6 259.3 125.1 259.0 124.6 258.7 123.9 258.3 123.2 258.0 122.4 257.7 121.6 257.4 120.7 257.0 120.0 256.7 119.3 256.4 118.7 256.0 118.2 255.7 117.8 255.4 117.6 255.1 117.5 254.7 117.5 254.4 117.5 254.4 117.5 254.7 117.4 255.1 117.2 255.4 116.8 255.7 116.3 256.0 115.7 256.4 115.0 256.7 114.3 257.0 113.4 257.4 112.6 257.7 111.8 258.0 111.1 258.3 110.4 258.7 109.9 259.0 109.4 259.3 109.1 259.7 109.0 260.0 109.0 260.3 109.3 260.6 109.7 261.0 110.3 261.3 111.0 261.6 112.0 262.0 113.0 262.3 114.2 262.6 115.4 262.9 116.6 263.3 117.5 263.6Z" fill="#8e6b78" stroke="#222" stroke-width=".8"/>
<path d="M135.9 263.6 136.7 263.2 137.8 262.7 138.9 262.3 140.0 261.8 141.0 261.4 141.9 260.9 142.8 260.5 143.4 260.0 144.0 259.6 144.4 259.1 144.6 258.7 144.7 258.2 144.6 257.8 144.3 257.3 143.9 256.9 143.3 256.5 142.5 256.0 141.7 255.6 140.8 255.1 139.9 254.7 138.9 254.2 138.1 253.8 137.4 253.3 136.8 252.9 136.3 252.4 136.1 252.0 135.9 251.5 135.9 251.1 135.9 251.1 135.9 251.5 135.7 252.0 135.5 252.4 135.0 252.9 134.4 253.3 133.7 253.8 132.9 254.2 131.9 254.7 131.0 255.1 130.1 255.6 129.3 256.0 128.5 256.5 127.9 256.9 127.5 257.3 127.2 257.8 127.1 258.2 127.2 258.7 127.4 259.1 127.8 259.6 128.4 260.0 129.0 260.5 129.9 260.9 130.8 261.4 131.8 261.8 132.9 262.3 134.0 262.7 135.1 263.2 135.9 263.6Z" fill="#e8c6d6" stroke="#222" stroke-width=".8"/>
<line x1="52.8" y1="263.6" x2="145" y2="263.6" stroke="#222" stroke-width="0.9"/>
<line x1="52.8" y1="268.48" x2="52.8" y2="284.88" stroke="#222" stroke-width="0.9"/>
<line x1="50.3" y1="269.78" x2="52.8" y2="269.78" stroke="#222" stroke-width="0.8"/>
<text x="44.6" y="272.01" font-size="6.2" text-anchor="middle">3</text>
<text x="39.3" y="278.07" font-size="7.2" text-anchor="end" font-style="italic" fill="#2a2a2a" textLength="20.33" lengthAdjust="spacingAndGlyphs">PRMT1</text>
<line x1="62.5" y1="284.48" x2="62.5" y2="283.48" stroke="#333" stroke-width="0.7"/>
<path d="M62.5 283.5 63.3 283.1 64.3 282.8 65.4 282.4 66.4 282.1 67.4 281.7 68.3 281.3 69.1 281.0 69.8 280.6 70.3 280.3 70.7 279.9 70.9 279.6 71.0 279.2 70.9 278.8 70.6 278.5 70.2 278.1 69.6 277.8 68.9 277.4 68.1 277.1 67.2 276.7 66.3 276.3 65.4 276.0 64.6 275.6 63.9 275.3 63.3 274.9 62.9 274.6 62.6 274.2 62.5 273.8 62.5 273.5 62.5 273.5 62.5 273.8 62.4 274.2 62.1 274.6 61.7 274.9 61.1 275.3 60.4 275.6 59.6 276.0 58.7 276.3 57.8 276.7 56.9 277.1 56.1 277.4 55.4 277.8 54.8 278.1 54.4 278.5 54.1 278.8 54.0 279.2 54.1 279.6 54.3 279.9 54.7 280.3 55.2 280.6 55.9 281.0 56.7 281.3 57.6 281.7 58.6 282.1 59.6 282.4 60.7 282.8 61.7 283.1 62.5 283.5Z" fill="#c4de9f" stroke="#222" stroke-width=".8"/>
<line x1="80.8" y1="284.48" x2="80.8" y2="282.48" stroke="#333" stroke-width="0.7"/>
<path d="M80.8 282.5 81.5 282.1 82.4 281.7 83.4 281.3 84.3 280.9 85.2 280.5 86.1 280.1 86.9 279.7 87.5 279.3 88.1 278.9 88.6 278.6 88.9 278.2 89.2 277.8 89.3 277.4 89.3 277.0 89.0 276.6 88.6 276.2 88.0 275.8 87.2 275.4 86.3 275.0 85.3 274.6 84.3 274.2 83.4 273.8 82.6 273.4 81.9 273.1 81.3 272.7 81.0 272.3 80.8 271.9 80.8 271.5 80.8 271.5 80.8 271.9 80.6 272.3 80.3 272.7 79.7 273.1 79.0 273.4 78.2 273.8 77.3 274.2 76.3 274.6 75.3 275.0 74.4 275.4 73.6 275.8 73.0 276.2 72.6 276.6 72.3 277.0 72.3 277.4 72.4 277.8 72.7 278.2 73.0 278.6 73.5 278.9 74.1 279.3 74.7 279.7 75.5 280.1 76.4 280.5 77.3 280.9 78.2 281.3 79.2 281.7 80.1 282.1 80.8 282.5Z" fill="#5d8b98" stroke="#222" stroke-width=".8"/>
<line x1="99.1" y1="284.48" x2="99.1" y2="282.48" stroke="#333" stroke-width="0.7"/>
<path d="M99.1 282.5 99.8 282.1 100.7 281.7 101.7 281.3 102.6 280.9 103.5 280.5 104.4 280.1 105.2 279.7 105.8 279.3 106.4 278.9 106.9 278.6 107.2 278.2 107.5 277.8 107.6 277.4 107.6 277.0 107.3 276.6 106.9 276.2 106.3 275.8 105.5 275.4 104.6 275.0 103.6 274.6 102.6 274.2 101.7 273.8 100.9 273.4 100.2 273.1 99.6 272.7 99.3 272.3 99.1 271.9 99.1 271.5 99.1 271.5 99.1 271.9 98.9 272.3 98.6 272.7 98.0 273.1 97.3 273.4 96.5 273.8 95.6 274.2 94.6 274.6 93.6 275.0 92.7 275.4 91.9 275.8 91.3 276.2 90.9 276.6 90.6 277.0 90.6 277.4 90.7 277.8 91.0 278.2 91.3 278.6 91.8 278.9 92.4 279.3 93.0 279.7 93.8 280.1 94.7 280.5 95.6 280.9 96.5 281.3 97.5 281.7 98.4 282.1 99.1 282.5Z" fill="#20323c" stroke="#222" stroke-width=".8"/>
<line x1="117.5" y1="284.48" x2="117.5" y2="282.98" stroke="#333" stroke-width="0.7"/>
<path d="M117.5 283.0 118.3 282.6 119.3 282.2 120.4 281.9 121.4 281.5 122.4 281.1 123.3 280.7 124.1 280.4 124.8 280.0 125.3 279.6 125.7 279.2 125.9 278.9 126.0 278.5 125.9 278.1 125.6 277.7 125.2 277.4 124.6 277.0 123.9 276.6 123.1 276.2 122.2 275.9 121.3 275.5 120.4 275.1 119.6 274.7 118.9 274.4 118.3 274.0 117.9 273.6 117.6 273.2 117.5 272.9 117.5 272.5 117.5 272.5 117.5 272.9 117.4 273.2 117.1 273.6 116.7 274.0 116.1 274.4 115.4 274.7 114.6 275.1 113.7 275.5 112.8 275.9 111.9 276.2 111.1 276.6 110.4 277.0 109.8 277.4 109.4 277.7 109.1 278.1 109.0 278.5 109.1 278.9 109.3 279.2 109.7 279.6 110.2 280.0 110.9 280.4 111.7 280.7 112.6 281.1 113.6 281.5 114.6 281.9 115.7 282.2 116.7 282.6 117.5 283.0Z" fill="#8e6b78" stroke="#222" stroke-width=".8"/>
<line x1="127.9" y1="284.18" x2="143.9" y2="284.18" stroke="#222" stroke-width="0.9"/>
<line x1="135.9" y1="284.48" x2="135.9" y2="282.98" stroke="#333" stroke-width="0.7"/>
<line x1="135.9" y1="275.48" x2="135.9" y2="271.48" stroke="#333" stroke-width="0.7"/>
<path d="M135.9 283.0 137.7 282.7 138.5 282.4 139.0 282.2 139.4 281.9 139.8 281.6 140.0 281.4 140.2 281.1 140.3 280.8 140.4 280.6 140.4 280.3 140.3 280.0 140.2 279.8 140.0 279.5 139.7 279.2 139.4 279.0 139.0 278.7 138.6 278.4 138.2 278.2 137.8 277.9 137.4 277.6 137.0 277.4 136.7 277.1 136.4 276.8 136.2 276.6 136.0 276.3 135.9 276.0 135.9 275.7 135.9 275.5 135.9 275.5 135.9 275.7 135.9 276.0 135.8 276.3 135.6 276.6 135.4 276.8 135.1 277.1 134.8 277.4 134.4 277.6 134.0 277.9 133.6 278.2 133.2 278.4 132.8 278.7 132.4 279.0 132.1 279.2 131.8 279.5 131.6 279.8 131.5 280.0 131.4 280.3 131.4 280.6 131.5 280.8 131.6 281.1 131.8 281.4 132.0 281.6 132.4 281.9 132.8 282.2 133.3 282.4 134.1 282.7 135.9 283.0Z" fill="#e8c6d6" stroke="#222" stroke-width=".8"/>
<line x1="52.8" y1="284.48" x2="145" y2="284.48" stroke="#222" stroke-width="0.9"/>
<line x1="52.8" y1="289.36" x2="52.8" y2="305.76" stroke="#222" stroke-width="0.9"/>
<line x1="50.3" y1="290.66" x2="52.8" y2="290.66" stroke="#222" stroke-width="0.8"/>
<text x="44.6" y="292.89" font-size="6.2" text-anchor="middle">3</text>
<text x="39.3" y="298.95" font-size="7.2" text-anchor="end" font-style="italic" fill="#2a2a2a" textLength="11.67" lengthAdjust="spacingAndGlyphs">SET</text>
<line x1="62.5" y1="305.36" x2="62.5" y2="298.86" stroke="#333" stroke-width="0.7"/>
<path d="M62.5 298.9 63.3 298.6 64.3 298.4 65.4 298.1 66.4 297.9 67.4 297.6 68.3 297.4 69.1 297.1 69.8 296.9 70.3 296.6 70.7 296.4 70.9 296.1 71.0 295.9 70.9 295.6 70.6 295.4 70.2 295.1 69.6 294.9 68.9 294.6 68.1 294.4 67.2 294.1 66.3 293.9 65.4 293.6 64.6 293.4 63.9 293.1 63.3 292.9 62.9 292.6 62.6 292.4 62.5 292.1 62.5 291.9 62.5 291.9 62.5 292.1 62.4 292.4 62.1 292.6 61.7 292.9 61.1 293.1 60.4 293.4 59.6 293.6 58.7 293.9 57.8 294.1 56.9 294.4 56.1 294.6 55.4 294.9 54.8 295.1 54.4 295.4 54.1 295.6 54.0 295.9 54.1 296.1 54.3 296.4 54.7 296.6 55.2 296.9 55.9 297.1 56.7 297.4 57.6 297.6 58.6 297.9 59.6 298.1 60.7 298.4 61.7 298.6 62.5 298.9Z" fill="#c4de9f" stroke="#222" stroke-width=".8"/>
<line x1="80.8" y1="300.36" x2="80.8" y2="297.36" stroke="#333" stroke-width="0.7"/>
<path d="M80.8 297.4 81.6 297.2 82.6 297.0 83.7 296.9 84.7 296.7 85.7 296.6 86.6 296.4 87.4 296.2 88.1 296.1 88.6 295.9 89.0 295.8 89.2 295.6 89.3 295.4 89.2 295.3 88.9 295.1 88.5 294.9 87.9 294.8 87.2 294.6 86.4 294.5 85.5 294.3 84.6 294.1 83.7 294.0 82.9 293.8 82.2 293.7 81.6 293.5 81.2 293.3 80.9 293.2 80.8 293.0 80.8 292.9 80.8 292.9 80.8 293.0 80.7 293.2 80.4 293.3 80.0 293.5 79.4 293.7 78.7 293.8 77.9 294.0 77.0 294.1 76.1 294.3 75.2 294.5 74.4 294.6 73.7 294.8 73.1 294.9 72.7 295.1 72.4 295.3 72.3 295.4 72.4 295.6 72.6 295.8 73.0 295.9 73.5 296.1 74.2 296.2 75.0 296.4 75.9 296.6 76.9 296.7 77.9 296.9 79.0 297.0 80.0 297.2 80.8 297.4Z" fill="#5d8b98" stroke="#222" stroke-width=".8"/>
<line x1="99.1" y1="299.86" x2="99.1" y2="297.36" stroke="#333" stroke-width="0.7"/>
<path d="M99.1 297.4 99.9 297.2 100.9 297.0 102.0 296.8 103.0 296.6 104.0 296.5 104.9 296.3 105.7 296.1 106.4 295.9 106.9 295.8 107.3 295.6 107.5 295.4 107.6 295.2 107.5 295.0 107.2 294.9 106.8 294.7 106.2 294.5 105.5 294.3 104.7 294.1 103.8 294.0 102.9 293.8 102.0 293.6 101.2 293.4 100.5 293.3 99.9 293.1 99.5 292.9 99.2 292.7 99.1 292.5 99.1 292.4 99.1 292.4 99.1 292.5 99.0 292.7 98.7 292.9 98.3 293.1 97.7 293.3 97.0 293.4 96.2 293.6 95.3 293.8 94.4 294.0 93.5 294.1 92.7 294.3 92.0 294.5 91.4 294.7 91.0 294.9 90.7 295.0 90.6 295.2 90.7 295.4 90.9 295.6 91.3 295.8 91.8 295.9 92.5 296.1 93.3 296.3 94.2 296.5 95.2 296.6 96.2 296.8 97.3 297.0 98.3 297.2 99.1 297.4Z" fill="#20323c" stroke="#222" stroke-width=".8"/>
<line x1="117.5" y1="300.86" x2="117.5" y2="297.86" stroke="#333" stroke-width="0.7"/>
<path d="M117.5 297.9 118.3 297.7 119.3 297.5 120.4 297.3 121.4 297.1 122.4 297.0 123.3 296.8 124.1 296.6 124.8 296.4 125.3 296.3 125.7 296.1 125.9 295.9 126.0 295.7 125.9 295.5 125.6 295.4 125.2 295.2 124.6 295.0 123.9 294.8 123.1 294.6 122.2 294.5 121.3 294.3 120.4 294.1 119.6 293.9 118.9 293.8 118.3 293.6 117.9 293.4 117.6 293.2 117.5 293.0 117.5 292.9 117.5 292.9 117.5 293.0 117.4 293.2 117.1 293.4 116.7 293.6 116.1 293.8 115.4 293.9 114.6 294.1 113.7 294.3 112.8 294.5 111.9 294.6 111.1 294.8 110.4 295.0 109.8 295.2 109.4 295.4 109.1 295.5 109.0 295.7 109.1 295.9 109.3 296.1 109.7 296.3 110.2 296.4 110.9 296.6 111.7 296.8 112.6 297.0 113.6 297.1 114.6 297.3 115.7 297.5 116.7 297.7 117.5 297.9Z" fill="#8e6b78" stroke="#222" stroke-width=".8"/>
<line x1="135.9" y1="305.36" x2="135.9" y2="303.86" stroke="#333" stroke-width="0.7"/>
<path d="M135.9 303.9 136.5 303.5 137.4 303.1 138.3 302.8 139.2 302.4 140.1 302.0 141.0 301.7 141.8 301.3 142.5 300.9 143.1 300.6 143.7 300.2 144.1 299.9 144.5 299.5 144.7 299.1 144.9 298.8 144.9 298.4 144.7 298.0 144.2 297.7 143.5 297.3 142.6 296.9 141.5 296.6 140.4 296.2 139.3 295.8 138.2 295.5 137.3 295.1 136.6 294.8 136.2 294.4 135.9 294.0 135.9 293.7 135.9 293.7 135.9 294.0 135.6 294.4 135.2 294.8 134.5 295.1 133.6 295.5 132.5 295.8 131.4 296.2 130.3 296.6 129.2 296.9 128.3 297.3 127.6 297.7 127.1 298.0 126.9 298.4 126.9 298.8 127.1 299.1 127.3 299.5 127.7 299.9 128.1 300.2 128.7 300.6 129.3 300.9 130.0 301.3 130.8 301.7 131.7 302.0 132.6 302.4 133.5 302.8 134.4 303.1 135.3 303.5 135.9 303.9Z" fill="#e8c6d6" stroke="#222" stroke-width=".8"/>
<line x1="52.8" y1="305.36" x2="145" y2="305.36" stroke="#222" stroke-width="0.9"/>
<line x1="52.8" y1="310.24" x2="52.8" y2="326.64" stroke="#222" stroke-width="0.9"/>
<line x1="50.3" y1="311.54" x2="52.8" y2="311.54" stroke="#222" stroke-width="0.8"/>
<text x="44.6" y="313.77" font-size="6.2" text-anchor="middle">3</text>
<text x="39.3" y="319.83" font-size="7.2" text-anchor="end" font-style="italic" fill="#2a2a2a" textLength="13.34" lengthAdjust="spacingAndGlyphs">ILRA</text>
<line x1="62.5" y1="326.24" x2="62.5" y2="324.74" stroke="#333" stroke-width="0.7"/>
<path d="M62.5 324.7 63.3 324.4 64.3 324.0 65.4 323.6 66.4 323.2 67.4 322.9 68.3 322.5 69.1 322.1 69.8 321.7 70.3 321.4 70.7 321.0 70.9 320.6 71.0 320.2 70.9 319.9 70.6 319.5 70.2 319.1 69.6 318.7 68.9 318.4 68.1 318.0 67.2 317.6 66.3 317.2 65.4 316.9 64.6 316.5 63.9 316.1 63.3 315.7 62.9 315.4 62.6 315.0 62.5 314.6 62.5 314.2 62.5 314.2 62.5 314.6 62.4 315.0 62.1 315.4 61.7 315.7 61.1 316.1 60.4 316.5 59.6 316.9 58.7 317.2 57.8 317.6 56.9 318.0 56.1 318.4 55.4 318.7 54.8 319.1 54.4 319.5 54.1 319.9 54.0 320.2 54.1 320.6 54.3 321.0 54.7 321.4 55.2 321.7 55.9 322.1 56.7 322.5 57.6 322.9 58.6 323.2 59.6 323.6 60.7 324.0 61.7 324.4 62.5 324.7Z" fill="#c4de9f" stroke="#222" stroke-width=".8"/>
<line x1="80.8" y1="326.24" x2="80.8" y2="324.74" stroke="#333" stroke-width="0.7"/>
<path d="M80.8 324.7 81.7 324.4 82.9 324.0 84.1 323.6 85.3 323.2 86.3 322.9 87.3 322.5 88.0 322.1 88.6 321.7 89.0 321.4 89.3 321.0 89.3 320.6 89.2 320.2 88.9 319.9 88.4 319.5 87.9 319.1 87.2 318.7 86.5 318.4 85.7 318.0 84.9 317.6 84.0 317.2 83.3 316.9 82.6 316.5 82.0 316.1 81.5 315.7 81.1 315.4 80.9 315.0 80.8 314.6 80.8 314.2 80.8 314.2 80.8 314.6 80.7 315.0 80.5 315.4 80.1 315.7 79.6 316.1 79.0 316.5 78.3 316.9 77.6 317.2 76.7 317.6 75.9 318.0 75.1 318.4 74.4 318.7 73.7 319.1 73.2 319.5 72.7 319.9 72.4 320.2 72.3 320.6 72.3 321.0 72.6 321.4 73.0 321.7 73.6 322.1 74.3 322.5 75.3 322.9 76.3 323.2 77.5 323.6 78.7 324.0 79.9 324.4 80.8 324.7Z" fill="#5d8b98" stroke="#222" stroke-width=".8"/>
<line x1="99.1" y1="326.24" x2="99.1" y2="325.24" stroke="#333" stroke-width="0.7"/>
<path d="M99.1 325.2 100.0 324.8 101.2 324.5 102.4 324.1 103.6 323.7 104.6 323.3 105.6 322.9 106.3 322.5 106.9 322.1 107.3 321.7 107.6 321.3 107.6 320.9 107.5 320.5 107.2 320.1 106.7 319.7 106.2 319.3 105.5 319.0 104.8 318.6 104.0 318.2 103.2 317.8 102.3 317.4 101.6 317.0 100.9 316.6 100.3 316.2 99.8 315.8 99.4 315.4 99.2 315.0 99.1 314.6 99.1 314.2 99.1 314.2 99.1 314.6 99.0 315.0 98.8 315.4 98.4 315.8 97.9 316.2 97.3 316.6 96.6 317.0 95.9 317.4 95.0 317.8 94.2 318.2 93.4 318.6 92.7 319.0 92.0 319.3 91.5 319.7 91.0 320.1 90.7 320.5 90.6 320.9 90.6 321.3 90.9 321.7 91.3 322.1 91.9 322.5 92.6 322.9 93.6 323.3 94.6 323.7 95.8 324.1 97.0 324.5 98.2 324.8 99.1 325.2Z" fill="#20323c" stroke="#222" stroke-width=".8"/>
<path d="M122.7 326.2 123.3 325.9 123.5 325.6 123.7 325.4 123.8 325.1 123.9 324.8 123.9 324.5 124.0 324.2 124.0 323.9 124.0 323.6 123.9 323.3 123.7 323.0 123.4 322.7 123.0 322.4 122.5 322.1 122.0 321.8 121.5 321.5 120.9 321.2 120.4 320.9 119.8 320.6 119.3 320.3 118.8 320.0 118.4 319.7 118.1 319.4 117.8 319.1 117.6 318.8 117.5 318.5 117.5 318.2 117.5 317.9 117.5 317.9 117.5 318.2 117.5 318.5 117.4 318.8 117.2 319.1 116.9 319.4 116.6 319.7 116.2 320.0 115.7 320.3 115.2 320.6 114.6 320.9 114.1 321.2 113.5 321.5 113.0 321.8 112.5 322.1 112.0 322.4 111.6 322.7 111.3 323.0 111.1 323.3 111.0 323.6 111.0 323.9 111.0 324.2 111.1 324.5 111.1 324.8 111.2 325.1 111.3 325.4 111.5 325.6 111.7 325.9 112.3 326.2Z" fill="#8e6b78" stroke="#222" stroke-width=".8"/>
<line x1="135.9" y1="326.24" x2="135.9" y2="318.54" stroke="#333" stroke-width="0.8"/>
<line x1="52.8" y1="326.24" x2="145" y2="326.24" stroke="#222" stroke-width="0.9"/>
<line x1="52.8" y1="331.12" x2="52.8" y2="347.52" stroke="#222" stroke-width="0.9"/>
<line x1="50.3" y1="332.42" x2="52.8" y2="332.42" stroke="#222" stroke-width="0.8"/>
<text x="44.6" y="334.65" font-size="6.2" text-anchor="middle">2</text>
<text x="39.3" y="340.71" font-size="7.2" text-anchor="end" font-style="italic" fill="#2a2a2a" textLength="15.34" lengthAdjust="spacingAndGlyphs">CD22</text>
<path d="M68.7 347.1 69.5 346.7 69.9 346.2 70.1 345.8 70.3 345.3 70.5 344.9 70.6 344.4 70.6 343.9 70.7 343.5 70.7 343.0 70.7 342.6 70.5 342.1 70.2 341.7 69.8 341.2 69.2 340.8 68.6 340.3 67.9 339.9 67.2 339.4 66.4 339.0 65.7 338.5 65.0 338.0 64.3 337.6 63.8 337.1 63.3 336.7 63.0 336.2 62.7 335.8 62.6 335.3 62.5 334.9 62.5 334.4 62.5 334.4 62.5 334.9 62.4 335.3 62.3 335.8 62.0 336.2 61.7 336.7 61.2 337.1 60.7 337.6 60.0 338.0 59.3 338.5 58.6 339.0 57.8 339.4 57.1 339.9 56.4 340.3 55.8 340.8 55.2 341.2 54.8 341.7 54.5 342.1 54.3 342.6 54.3 343.0 54.3 343.5 54.4 343.9 54.4 344.4 54.5 344.9 54.7 345.3 54.9 345.8 55.1 346.2 55.5 346.7 56.3 347.1Z" fill="#c4de9f" stroke="#222" stroke-width=".8"/>
<path d="M83.6 347.1 84.3 346.8 84.6 346.5 84.7 346.2 84.8 345.9 84.8 345.6 84.7 345.3 84.6 345.0 84.5 344.7 84.4 344.5 84.2 344.2 84.0 343.9 83.7 343.6 83.5 343.3 83.2 343.0 82.9 342.7 82.6 342.4 82.3 342.1 82.1 341.8 81.8 341.5 81.6 341.2 81.4 340.9 81.2 340.6 81.1 340.3 80.9 340.0 80.9 339.7 80.8 339.4 80.8 339.1 80.8 338.8 80.8 338.8 80.8 339.1 80.8 339.4 80.7 339.7 80.7 340.0 80.5 340.3 80.4 340.6 80.2 340.9 80.0 341.2 79.8 341.5 79.5 341.8 79.3 342.1 79.0 342.4 78.7 342.7 78.4 343.0 78.1 343.3 77.9 343.6 77.6 343.9 77.4 344.2 77.2 344.5 77.1 344.7 77.0 345.0 76.9 345.3 76.8 345.6 76.8 345.9 76.9 346.2 77.0 346.5 77.3 346.8 78.0 347.1Z" fill="#5d8b98" stroke="#222" stroke-width=".8"/>
<line x1="99.1" y1="342.12" x2="99.1" y2="339.72" stroke="#333" stroke-width="0.7"/>
<path d="M99.1 347.1 99.4 346.9 99.7 346.8 100.1 346.6 100.4 346.4 100.7 346.2 100.9 346.0 101.0 345.9 101.1 345.7 101.1 345.5 101.1 345.3 101.0 345.2 100.9 345.0 100.8 344.8 100.7 344.6 100.5 344.4 100.4 344.3 100.2 344.1 100.0 343.9 99.9 343.7 99.7 343.5 99.5 343.4 99.4 343.2 99.3 343.0 99.2 342.8 99.2 342.7 99.1 342.5 99.1 342.3 99.1 342.1 99.1 342.1 99.1 342.3 99.1 342.5 99.0 342.7 99.0 342.8 98.9 343.0 98.8 343.2 98.7 343.4 98.5 343.5 98.3 343.7 98.2 343.9 98.0 344.1 97.8 344.3 97.7 344.4 97.5 344.6 97.4 344.8 97.3 345.0 97.2 345.2 97.1 345.3 97.1 345.5 97.1 345.7 97.2 345.9 97.3 346.0 97.5 346.2 97.8 346.4 98.1 346.6 98.5 346.8 98.8 346.9 99.1 347.1Z" fill="#20323c" stroke="#222" stroke-width=".8"/>
<line x1="117.5" y1="347.12" x2="117.5" y2="339.12" stroke="#333" stroke-width="0.8"/>
<line x1="135.9" y1="347.12" x2="135.9" y2="340.12" stroke="#333" stroke-width="0.8"/>
<line x1="52.8" y1="347.12" x2="145" y2="347.12" stroke="#222" stroke-width="0.9"/>
<line x1="52.8" y1="352" x2="52.8" y2="368.4" stroke="#222" stroke-width="0.9"/>
<line x1="50.3" y1="353.3" x2="52.8" y2="353.3" stroke="#222" stroke-width="0.8"/>
<text x="44.6" y="355.53" font-size="6.2" text-anchor="middle">2</text>
<text x="39.3" y="361.59" font-size="7.2" text-anchor="end" font-style="italic" fill="#2a2a2a" textLength="15.34" lengthAdjust="spacingAndGlyphs">CD40</text>
<path d="M68.9 368.0 69.8 367.6 70.1 367.1 70.4 366.7 70.6 366.2 70.7 365.8 70.9 365.3 70.9 364.9 71.0 364.4 71.0 364.0 71.0 363.5 70.8 363.1 70.5 362.6 70.0 362.2 69.5 361.8 68.8 361.3 68.1 360.9 67.3 360.4 66.6 360.0 65.8 359.5 65.1 359.1 64.4 358.6 63.8 358.2 63.3 357.7 63.0 357.3 62.7 356.8 62.6 356.4 62.5 355.9 62.5 355.5 62.5 355.5 62.5 355.9 62.4 356.4 62.3 356.8 62.0 357.3 61.7 357.7 61.2 358.2 60.6 358.6 59.9 359.1 59.2 359.5 58.4 360.0 57.7 360.4 56.9 360.9 56.2 361.3 55.5 361.8 55.0 362.2 54.5 362.6 54.2 363.1 54.0 363.5 54.0 364.0 54.0 364.4 54.1 364.9 54.1 365.3 54.3 365.8 54.4 366.2 54.6 366.7 54.9 367.1 55.2 367.6 56.1 368.0Z" fill="#c4de9f" stroke="#222" stroke-width=".8"/>
<line x1="80.8" y1="368" x2="80.8" y2="358" stroke="#333" stroke-width="0.8"/>
<path d="M80.8 368.0 81.1 367.9 81.4 367.8 81.8 367.7 82.1 367.6 82.4 367.5 82.6 367.4 82.7 367.2 82.8 367.1 82.8 367.0 82.8 366.9 82.7 366.8 82.6 366.7 82.5 366.6 82.4 366.5 82.2 366.4 82.1 366.3 81.9 366.2 81.7 366.1 81.6 366.0 81.4 365.9 81.2 365.8 81.1 365.6 81.0 365.5 80.9 365.4 80.9 365.3 80.8 365.2 80.8 365.1 80.8 365.0 80.8 365.0 80.8 365.1 80.8 365.2 80.7 365.3 80.7 365.4 80.6 365.5 80.5 365.6 80.4 365.8 80.2 365.9 80.0 366.0 79.9 366.1 79.7 366.2 79.5 366.3 79.4 366.4 79.2 366.5 79.1 366.6 79.0 366.7 78.9 366.8 78.8 366.9 78.8 367.0 78.8 367.1 78.9 367.2 79.0 367.4 79.2 367.5 79.5 367.6 79.8 367.7 80.2 367.8 80.5 367.9 80.8 368.0Z" fill="#5d8b98" stroke="#222" stroke-width=".8"/>
<line x1="99.1" y1="363" x2="99.1" y2="361.3" stroke="#333" stroke-width="0.7"/>
<path d="M99.1 368.0 99.4 367.8 99.7 367.6 100.1 367.5 100.4 367.3 100.7 367.1 100.9 366.9 101.0 366.8 101.1 366.6 101.1 366.4 101.1 366.2 101.0 366.0 100.9 365.9 100.8 365.7 100.7 365.5 100.5 365.3 100.4 365.1 100.2 365.0 100.0 364.8 99.9 364.6 99.7 364.4 99.5 364.2 99.4 364.1 99.3 363.9 99.2 363.7 99.2 363.5 99.1 363.4 99.1 363.2 99.1 363.0 99.1 363.0 99.1 363.2 99.1 363.4 99.0 363.5 99.0 363.7 98.9 363.9 98.8 364.1 98.7 364.2 98.5 364.4 98.3 364.6 98.2 364.8 98.0 365.0 97.8 365.1 97.7 365.3 97.5 365.5 97.4 365.7 97.3 365.9 97.2 366.0 97.1 366.2 97.1 366.4 97.1 366.6 97.2 366.8 97.3 366.9 97.5 367.1 97.8 367.3 98.1 367.5 98.5 367.6 98.8 367.8 99.1 368.0Z" fill="#20323c" stroke="#222" stroke-width=".8"/>
<line x1="117.5" y1="368" x2="117.5" y2="362" stroke="#333" stroke-width="0.8"/>
<line x1="135.9" y1="368" x2="135.9" y2="354.7" stroke="#333" stroke-width="0.8"/>
<line x1="52.8" y1="368" x2="145" y2="368" stroke="#222" stroke-width="0.9"/>
<line x1="52.8" y1="372.88" x2="52.8" y2="389.28" stroke="#222" stroke-width="0.9"/>
<line x1="50.3" y1="374.18" x2="52.8" y2="374.18" stroke="#222" stroke-width="0.8"/>
<text x="44.6" y="376.41" font-size="6.2" text-anchor="middle">4</text>
<text x="39.3" y="382.47" font-size="7.2" text-anchor="end" font-style="italic" fill="#2a2a2a" textLength="20.34" lengthAdjust="spacingAndGlyphs">CXCR4</text>
<line x1="62.5" y1="388.88" x2="62.5" y2="387.88" stroke="#333" stroke-width="0.7"/>
<path d="M62.5 387.9 63.3 387.5 64.3 387.1 65.4 386.6 66.4 386.2 67.4 385.8 68.3 385.4 69.1 385.0 69.8 384.6 70.3 384.2 70.7 383.8 70.9 383.4 71.0 383.0 70.9 382.5 70.6 382.1 70.2 381.7 69.6 381.3 68.9 380.9 68.1 380.5 67.2 380.1 66.3 379.7 65.4 379.3 64.6 378.8 63.9 378.4 63.3 378.0 62.9 377.6 62.6 377.2 62.5 376.8 62.5 376.4 62.5 376.4 62.5 376.8 62.4 377.2 62.1 377.6 61.7 378.0 61.1 378.4 60.4 378.8 59.6 379.3 58.7 379.7 57.8 380.1 56.9 380.5 56.1 380.9 55.4 381.3 54.8 381.7 54.4 382.1 54.1 382.5 54.0 383.0 54.1 383.4 54.3 383.8 54.7 384.2 55.2 384.6 55.9 385.0 56.7 385.4 57.6 385.8 58.6 386.2 59.6 386.6 60.7 387.1 61.7 387.5 62.5 387.9Z" fill="#c4de9f" stroke="#222" stroke-width=".8"/>
<line x1="80.8" y1="388.88" x2="80.8" y2="387.88" stroke="#333" stroke-width="0.7"/>
<path d="M80.8 387.9 81.6 387.5 82.6 387.1 83.7 386.7 84.7 386.3 85.7 385.9 86.6 385.5 87.4 385.1 88.1 384.7 88.6 384.3 89.0 384.0 89.2 383.6 89.3 383.2 89.2 382.8 88.9 382.4 88.5 382.0 87.9 381.6 87.2 381.2 86.4 380.8 85.5 380.4 84.6 380.0 83.7 379.6 82.9 379.2 82.2 378.8 81.6 378.5 81.2 378.1 80.9 377.7 80.8 377.3 80.8 376.9 80.8 376.9 80.8 377.3 80.7 377.7 80.4 378.1 80.0 378.5 79.4 378.8 78.7 379.2 77.9 379.6 77.0 380.0 76.1 380.4 75.2 380.8 74.4 381.2 73.7 381.6 73.1 382.0 72.7 382.4 72.4 382.8 72.3 383.2 72.4 383.6 72.6 384.0 73.0 384.3 73.5 384.7 74.2 385.1 75.0 385.5 75.9 385.9 76.9 386.3 77.9 386.7 79.0 387.1 80.0 387.5 80.8 387.9Z" fill="#5d8b98" stroke="#222" stroke-width=".8"/>
<line x1="99.1" y1="388.88" x2="99.1" y2="387.38" stroke="#333" stroke-width="0.7"/>
<path d="M99.1 387.4 99.9 387.0 100.9 386.6 102.0 386.1 103.0 385.7 104.0 385.3 104.9 384.9 105.7 384.5 106.4 384.1 106.9 383.7 107.3 383.3 107.5 382.9 107.6 382.5 107.5 382.0 107.2 381.6 106.8 381.2 106.2 380.8 105.5 380.4 104.7 380.0 103.8 379.6 102.9 379.2 102.0 378.8 101.2 378.3 100.5 377.9 99.9 377.5 99.5 377.1 99.2 376.7 99.1 376.3 99.1 375.9 99.1 375.9 99.1 376.3 99.0 376.7 98.7 377.1 98.3 377.5 97.7 377.9 97.0 378.3 96.2 378.8 95.3 379.2 94.4 379.6 93.5 380.0 92.7 380.4 92.0 380.8 91.4 381.2 91.0 381.6 90.7 382.0 90.6 382.5 90.7 382.9 90.9 383.3 91.3 383.7 91.8 384.1 92.5 384.5 93.3 384.9 94.2 385.3 95.2 385.7 96.2 386.1 97.3 386.6 98.3 387.0 99.1 387.4Z" fill="#20323c" stroke="#222" stroke-width=".8"/>
<line x1="117.5" y1="388.88" x2="117.5" y2="387.88" stroke="#333" stroke-width="0.7"/>
<path d="M117.5 387.9 118.2 387.5 119.2 387.1 120.2 386.7 121.2 386.3 122.1 385.9 123.0 385.5 123.7 385.1 124.3 384.7 124.8 384.3 125.2 384.0 125.4 383.6 125.5 383.2 125.4 382.8 125.2 382.4 124.8 382.0 124.2 381.6 123.5 381.2 122.8 380.8 121.9 380.4 121.1 380.0 120.3 379.6 119.5 379.2 118.8 378.8 118.3 378.5 117.9 378.1 117.6 377.7 117.5 377.3 117.5 376.9 117.5 376.9 117.5 377.3 117.4 377.7 117.1 378.1 116.7 378.5 116.2 378.8 115.5 379.2 114.7 379.6 113.9 380.0 113.1 380.4 112.2 380.8 111.5 381.2 110.8 381.6 110.2 382.0 109.8 382.4 109.6 382.8 109.5 383.2 109.6 383.6 109.8 384.0 110.2 384.3 110.7 384.7 111.3 385.1 112.0 385.5 112.9 385.9 113.8 386.3 114.8 386.7 115.8 387.1 116.8 387.5 117.5 387.9Z" fill="#8e6b78" stroke="#222" stroke-width=".8"/>
<line x1="135.9" y1="388.88" x2="135.9" y2="387.88" stroke="#333" stroke-width="0.7"/>
<path d="M137.4 387.9 138.8 387.5 139.4 387.1 139.8 386.7 140.2 386.3 140.4 385.9 140.6 385.5 140.7 385.1 140.8 384.7 140.9 384.3 140.9 384.0 140.8 383.6 140.7 383.2 140.5 382.8 140.1 382.4 139.8 382.0 139.4 381.6 138.9 381.2 138.4 380.8 138.0 380.4 137.5 380.0 137.1 379.6 136.7 379.2 136.4 378.8 136.2 378.5 136.0 378.1 135.9 377.7 135.9 377.3 135.9 376.9 135.9 376.9 135.9 377.3 135.9 377.7 135.8 378.1 135.6 378.5 135.4 378.8 135.1 379.2 134.7 379.6 134.3 380.0 133.8 380.4 133.4 380.8 132.9 381.2 132.4 381.6 132.0 382.0 131.7 382.4 131.3 382.8 131.1 383.2 131.0 383.6 130.9 384.0 130.9 384.3 131.0 384.7 131.1 385.1 131.2 385.5 131.4 385.9 131.6 386.3 132.0 386.7 132.4 387.1 133.0 387.5 134.4 387.9Z" fill="#e8c6d6" stroke="#222" stroke-width=".8"/>
<line x1="52.8" y1="388.88" x2="145" y2="388.88" stroke="#222" stroke-width="0.9"/>
<line x1="52.8" y1="393.76" x2="52.8" y2="410.16" stroke="#222" stroke-width="0.9"/>
<line x1="50.3" y1="395.06" x2="52.8" y2="395.06" stroke="#222" stroke-width="0.8"/>
<text x="44.6" y="397.29" font-size="6.2" text-anchor="middle">4</text>
<text x="39.3" y="403.35" font-size="7.2" text-anchor="end" font-style="italic" fill="#2a2a2a" textLength="15.34" lengthAdjust="spacingAndGlyphs">CD74</text>
<line x1="62.5" y1="404.26" x2="62.5" y2="401.46" stroke="#333" stroke-width="0.7"/>
<path d="M62.5 401.5 63.2 401.3 64.2 401.1 65.2 401.0 66.2 400.8 67.1 400.7 68.0 400.5 68.7 400.3 69.3 400.2 69.8 400.0 70.2 399.9 70.4 399.7 70.5 399.5 70.4 399.4 70.2 399.2 69.8 399.0 69.2 398.9 68.5 398.7 67.8 398.6 66.9 398.4 66.1 398.2 65.3 398.1 64.5 397.9 63.8 397.8 63.3 397.6 62.9 397.4 62.6 397.3 62.5 397.1 62.5 397.0 62.5 397.0 62.5 397.1 62.4 397.3 62.1 397.4 61.7 397.6 61.2 397.8 60.5 397.9 59.7 398.1 58.9 398.2 58.1 398.4 57.2 398.6 56.5 398.7 55.8 398.9 55.2 399.0 54.8 399.2 54.6 399.4 54.5 399.5 54.6 399.7 54.8 399.9 55.2 400.0 55.7 400.2 56.3 400.3 57.0 400.5 57.9 400.7 58.8 400.8 59.8 401.0 60.8 401.1 61.8 401.3 62.5 401.5Z" fill="#c4de9f" stroke="#222" stroke-width=".8"/>
<line x1="80.8" y1="403.76" x2="80.8" y2="401.76" stroke="#333" stroke-width="0.7"/>
<path d="M80.8 401.8 81.6 401.6 82.6 401.5 83.7 401.3 84.7 401.1 85.7 401.0 86.6 400.8 87.4 400.7 88.1 400.5 88.6 400.4 89.0 400.2 89.2 400.1 89.3 399.9 89.2 399.8 88.9 399.6 88.5 399.5 87.9 399.3 87.2 399.1 86.4 399.0 85.5 398.8 84.6 398.7 83.7 398.5 82.9 398.4 82.2 398.2 81.6 398.1 81.2 397.9 80.9 397.8 80.8 397.6 80.8 397.5 80.8 397.5 80.8 397.6 80.7 397.8 80.4 397.9 80.0 398.1 79.4 398.2 78.7 398.4 77.9 398.5 77.0 398.7 76.1 398.8 75.2 399.0 74.4 399.1 73.7 399.3 73.1 399.5 72.7 399.6 72.4 399.8 72.3 399.9 72.4 400.1 72.6 400.2 73.0 400.4 73.5 400.5 74.2 400.7 75.0 400.8 75.9 401.0 76.9 401.1 77.9 401.3 79.0 401.5 80.0 401.6 80.8 401.8Z" fill="#5d8b98" stroke="#222" stroke-width=".8"/>
<line x1="99.1" y1="403.76" x2="99.1" y2="401.56" stroke="#333" stroke-width="0.7"/>
<path d="M99.1 401.6 99.8 401.4 100.8 401.2 101.8 401.1 102.8 400.9 103.7 400.8 104.6 400.6 105.3 400.5 105.9 400.3 106.4 400.1 106.8 400.0 107.0 399.8 107.1 399.7 107.0 399.5 106.8 399.4 106.4 399.2 105.8 399.0 105.1 398.9 104.4 398.7 103.5 398.6 102.7 398.4 101.9 398.3 101.1 398.1 100.4 397.9 99.9 397.8 99.5 397.6 99.2 397.5 99.1 397.3 99.1 397.2 99.1 397.2 99.1 397.3 99.0 397.5 98.7 397.6 98.3 397.8 97.8 397.9 97.1 398.1 96.3 398.3 95.5 398.4 94.7 398.6 93.8 398.7 93.1 398.9 92.4 399.0 91.8 399.2 91.4 399.4 91.2 399.5 91.1 399.7 91.2 399.8 91.4 400.0 91.8 400.1 92.3 400.3 92.9 400.5 93.6 400.6 94.5 400.8 95.4 400.9 96.4 401.1 97.4 401.2 98.4 401.4 99.1 401.6Z" fill="#20323c" stroke="#222" stroke-width=".8"/>
<line x1="117.5" y1="406.26" x2="117.5" y2="403.56" stroke="#333" stroke-width="0.7"/>
<path d="M117.5 403.6 118.2 403.3 119.2 403.1 120.2 402.9 121.2 402.7 122.1 402.5 123.0 402.3 123.7 402.1 124.3 401.8 124.8 401.6 125.2 401.4 125.4 401.2 125.5 401.0 125.4 400.8 125.2 400.6 124.8 400.3 124.2 400.1 123.5 399.9 122.8 399.7 121.9 399.5 121.1 399.3 120.3 399.1 119.5 398.8 118.8 398.6 118.3 398.4 117.9 398.2 117.6 398.0 117.5 397.8 117.5 397.6 117.5 397.6 117.5 397.8 117.4 398.0 117.1 398.2 116.7 398.4 116.2 398.6 115.5 398.8 114.7 399.1 113.9 399.3 113.1 399.5 112.2 399.7 111.5 399.9 110.8 400.1 110.2 400.3 109.8 400.6 109.6 400.8 109.5 401.0 109.6 401.2 109.8 401.4 110.2 401.6 110.7 401.8 111.3 402.1 112.0 402.3 112.9 402.5 113.8 402.7 114.8 402.9 115.8 403.1 116.8 403.3 117.5 403.6Z" fill="#8e6b78" stroke="#222" stroke-width=".8"/>
<line x1="135.9" y1="408.26" x2="135.9" y2="405.36" stroke="#333" stroke-width="0.7"/>
<path d="M135.9 405.4 136.7 405.1 137.7 404.8 138.8 404.6 139.8 404.3 140.8 404.1 141.7 403.8 142.5 403.6 143.2 403.3 143.7 403.0 144.1 402.8 144.3 402.5 144.4 402.3 144.3 402.0 144.0 401.8 143.6 401.5 143.0 401.2 142.3 401.0 141.5 400.7 140.6 400.5 139.7 400.2 138.8 400.0 138.0 399.7 137.3 399.4 136.7 399.2 136.3 398.9 136.0 398.7 135.9 398.4 135.9 398.2 135.9 398.2 135.9 398.4 135.8 398.7 135.5 398.9 135.1 399.2 134.5 399.4 133.8 399.7 133.0 400.0 132.1 400.2 131.2 400.5 130.3 400.7 129.5 401.0 128.8 401.2 128.2 401.5 127.8 401.8 127.5 402.0 127.4 402.3 127.5 402.5 127.7 402.8 128.1 403.0 128.6 403.3 129.3 403.6 130.1 403.8 131.0 404.1 132.0 404.3 133.0 404.6 134.1 404.8 135.1 405.1 135.9 405.4Z" fill="#e8c6d6" stroke="#222" stroke-width=".8"/>
<line x1="52.8" y1="409.76" x2="145" y2="409.76" stroke="#222" stroke-width="0.9"/>
<line x1="62.5" y1="409.76" x2="62.5" y2="412.06" stroke="#222" stroke-width="0.8"/>
<text x="62.5" y="421.98" font-size="6.6" text-anchor="middle">1</text>
<line x1="80.8" y1="409.76" x2="80.8" y2="412.06" stroke="#222" stroke-width="0.8"/>
<text x="80.8" y="421.98" font-size="6.6" text-anchor="middle">2</text>
<line x1="99.1" y1="409.76" x2="99.1" y2="412.06" stroke="#222" stroke-width="0.8"/>
<text x="99.1" y="421.98" font-size="6.6" text-anchor="middle">3</text>
<line x1="117.5" y1="409.76" x2="117.5" y2="412.06" stroke="#222" stroke-width="0.8"/>
<text x="117.5" y="421.98" font-size="6.6" text-anchor="middle">4</text>
<line x1="135.9" y1="409.76" x2="135.9" y2="412.06" stroke="#222" stroke-width="0.8"/>
<text x="135.9" y="421.98" font-size="6.6" text-anchor="middle">5</text>
<text x="160.8" y="151.34" font-size="11.5" font-weight="bold" fill="#111">D</text>
<g shape-rendering="crispEdges">
<rect x="265.5" y="185.5" width="22.5" height="1" fill="#df7e63"/>
<rect x="288" y="185.5" width="23.3" height="1" fill="#e89c82"/>
<rect x="311.3" y="185.5" width="27.3" height="1" fill="#ede9f3"/>
<rect x="338.6" y="185.5" width="34.1" height="1" fill="#eae6f2"/>
<rect x="372.7" y="185.5" width="32.3" height="1" fill="#b8b4e3"/>
<rect x="405" y="185.5" width="31.5" height="1" fill="#b3afe1"/>
<rect x="436.5" y="185.5" width="14.3" height="1" fill="#d6d3ed"/>
<rect x="265.5" y="186.5" width="22.5" height="1" fill="#df7c61"/>
<rect x="288" y="186.5" width="23.3" height="1" fill="#e89b82"/>
<rect x="311.3" y="186.5" width="27.3" height="1" fill="#f0ecf3"/>
<rect x="338.6" y="186.5" width="34.1" height="1" fill="#eeeaf3"/>
<rect x="372.7" y="186.5" width="32.3" height="1" fill="#b2afe1"/>
<rect x="405" y="186.5" width="31.5" height="1" fill="#b5b2e2"/>
<rect x="436.5" y="186.5" width="14.3" height="1" fill="#d5d2ed"/>
<rect x="265.5" y="187.5" width="22.5" height="1" fill="#d5684e"/>
<rect x="288" y="187.5" width="23.3" height="1" fill="#e08267"/>
<rect x="311.3" y="187.5" width="27.3" height="1" fill="#eae6f2"/>
<rect x="338.6" y="187.5" width="34.1" height="1" fill="#e9e5f2"/>
<rect x="372.7" y="187.5" width="32.3" height="1" fill="#b5b2e2"/>
<rect x="405" y="187.5" width="31.5" height="1" fill="#c7c4ea"/>
<rect x="436.5" y="187.5" width="14.3" height="1" fill="#dedbef"/>
<rect x="265.5" y="188.5" width="22.5" height="1" fill="#d76c52"/>
<rect x="288" y="188.5" width="23.3" height="1" fill="#e69379"/>
<rect x="311.3" y="188.5" width="27.3" height="1" fill="#f2eef4"/>
<rect x="338.6" y="188.5" width="34.1" height="1" fill="#ddd9ef"/>
<rect x="372.7" y="188.5" width="32.3" height="1" fill="#bbb7e5"/>
<rect x="405" y="188.5" width="31.5" height="1" fill="#c6c3e9"/>
<rect x="436.5" y="188.5" width="14.3" height="1" fill="#bcb9e6"/>
<rect x="265.5" y="189.5" width="22.5" height="1" fill="#d76c52"/>
<rect x="288" y="189.5" width="23.3" height="1" fill="#e2876d"/>
<rect x="311.3" y="189.5" width="27.3" height="1" fill="#eeeaf3"/>
<rect x="338.6" y="189.5" width="34.1" height="1" fill="#e4e1f1"/>
<rect x="372.7" y="189.5" width="32.3" height="1" fill="#b5b1e2"/>
<rect x="405" y="189.5" width="31.5" height="1" fill="#b9b5e4"/>
<rect x="436.5" y="189.5" width="14.3" height="1" fill="#dddaef"/>
<rect x="265.5" y="190.5" width="22.5" height="1" fill="#dc765b"/>
<rect x="288" y="190.5" width="23.3" height="1" fill="#e2866c"/>
<rect x="311.3" y="190.5" width="27.3" height="1" fill="#f2eaee"/>
<rect x="338.6" y="190.5" width="34.1" height="1" fill="#efebf3"/>
<rect x="372.7" y="190.5" width="32.3" height="1" fill="#cfccec"/>
<rect x="405" y="190.5" width="31.5" height="1" fill="#d3d0ed"/>
<rect x="436.5" y="190.5" width="14.3" height="1" fill="#dddaef"/>
<rect x="265.5" y="191.5" width="22.5" height="1" fill="#e08066"/>
<rect x="288" y="191.5" width="23.3" height="1" fill="#e48e74"/>
<rect x="311.3" y="191.5" width="27.3" height="1" fill="#d1ceec"/>
<rect x="338.6" y="191.5" width="34.1" height="1" fill="#d7d4ee"/>
<rect x="372.7" y="191.5" width="32.3" height="1" fill="#aca9de"/>
<rect x="405" y="191.5" width="31.5" height="1" fill="#a9a5dd"/>
<rect x="436.5" y="191.5" width="14.3" height="1" fill="#c3c0e8"/>
<rect x="265.5" y="192.5" width="22.5" height="1" fill="#e48e74"/>
<rect x="288" y="192.5" width="23.3" height="1" fill="#eba48b"/>
<rect x="311.3" y="192.5" width="27.3" height="1" fill="#e2dff0"/>
<rect x="338.6" y="192.5" width="34.1" height="1" fill="#cfcbec"/>
<rect x="372.7" y="192.5" width="32.3" height="1" fill="#bbb8e5"/>
<rect x="405" y="192.5" width="31.5" height="1" fill="#a4a0da"/>
<rect x="436.5" y="192.5" width="14.3" height="1" fill="#bfbce7"/>
<rect x="265.5" y="193.5" width="22.5" height="1" fill="#d5694f"/>
<rect x="288" y="193.5" width="23.3" height="1" fill="#e38b71"/>
<rect x="311.3" y="193.5" width="27.3" height="1" fill="#dcd8ef"/>
<rect x="338.6" y="193.5" width="34.1" height="1" fill="#dfdbef"/>
<rect x="372.7" y="193.5" width="32.3" height="1" fill="#a29fda"/>
<rect x="405" y="193.5" width="31.5" height="1" fill="#a7a3dc"/>
<rect x="436.5" y="193.5" width="14.3" height="1" fill="#bebbe6"/>
<rect x="265.5" y="194.5" width="22.5" height="1" fill="#d26349"/>
<rect x="288" y="194.5" width="23.3" height="1" fill="#e3896f"/>
<rect x="311.3" y="194.5" width="27.3" height="1" fill="#f0ecf4"/>
<rect x="338.6" y="194.5" width="34.1" height="1" fill="#f2eef4"/>
<rect x="372.7" y="194.5" width="32.3" height="1" fill="#b1ade0"/>
<rect x="405" y="194.5" width="31.5" height="1" fill="#b0ade0"/>
<rect x="436.5" y="194.5" width="14.3" height="1" fill="#d4d0ed"/>
<rect x="265.5" y="195.5" width="22.5" height="1" fill="#e2886e"/>
<rect x="288" y="195.5" width="23.3" height="1" fill="#e89b82"/>
<rect x="311.3" y="195.5" width="27.3" height="1" fill="#e1def0"/>
<rect x="338.6" y="195.5" width="34.1" height="1" fill="#e5e2f1"/>
<rect x="372.7" y="195.5" width="32.3" height="1" fill="#cbc8eb"/>
<rect x="405" y="195.5" width="31.5" height="1" fill="#c9c6ea"/>
<rect x="436.5" y="195.5" width="14.3" height="1" fill="#c7c3ea"/>
<rect x="265.5" y="196.5" width="22.5" height="1" fill="#d86f55"/>
<rect x="288" y="196.5" width="23.3" height="1" fill="#df7c61"/>
<rect x="311.3" y="196.5" width="27.3" height="1" fill="#e8e4f2"/>
<rect x="338.6" y="196.5" width="34.1" height="1" fill="#e5e1f1"/>
<rect x="372.7" y="196.5" width="32.3" height="1" fill="#bfbce7"/>
<rect x="405" y="196.5" width="31.5" height="1" fill="#aba7dd"/>
<rect x="436.5" y="196.5" width="14.3" height="1" fill="#cdcaeb"/>
<rect x="265.5" y="197.5" width="22.5" height="1" fill="#d3644a"/>
<rect x="288" y="197.5" width="23.3" height="1" fill="#e08267"/>
<rect x="311.3" y="197.5" width="27.3" height="1" fill="#e8e4f2"/>
<rect x="338.6" y="197.5" width="34.1" height="1" fill="#e2def0"/>
<rect x="372.7" y="197.5" width="32.3" height="1" fill="#aface0"/>
<rect x="405" y="197.5" width="31.5" height="1" fill="#a29ed9"/>
<rect x="436.5" y="197.5" width="14.3" height="1" fill="#ccc9eb"/>
<rect x="265.5" y="198.5" width="22.5" height="1" fill="#d96f55"/>
<rect x="288" y="198.5" width="23.3" height="1" fill="#e59076"/>
<rect x="311.3" y="198.5" width="27.3" height="1" fill="#e8e4f2"/>
<rect x="338.6" y="198.5" width="34.1" height="1" fill="#e7e3f1"/>
<rect x="372.7" y="198.5" width="32.3" height="1" fill="#b8b5e4"/>
<rect x="405" y="198.5" width="31.5" height="1" fill="#aca9de"/>
<rect x="436.5" y="198.5" width="14.3" height="1" fill="#d4d1ed"/>
<rect x="265.5" y="199.5" width="22.5" height="1" fill="#dc755b"/>
<rect x="288" y="199.5" width="23.3" height="1" fill="#e7967d"/>
<rect x="311.3" y="199.5" width="27.3" height="1" fill="#f2e8ea"/>
<rect x="338.6" y="199.5" width="34.1" height="1" fill="#e3dff0"/>
<rect x="372.7" y="199.5" width="32.3" height="1" fill="#bdbae6"/>
<rect x="405" y="199.5" width="31.5" height="1" fill="#bebbe6"/>
<rect x="436.5" y="199.5" width="14.3" height="1" fill="#c6c3e9"/>
<rect x="265.5" y="200.5" width="22.5" height="1" fill="#de7b60"/>
<rect x="288" y="200.5" width="23.3" height="1" fill="#e7987f"/>
<rect x="311.3" y="200.5" width="27.3" height="1" fill="#dbd8ef"/>
<rect x="338.6" y="200.5" width="34.1" height="1" fill="#e1ddf0"/>
<rect x="372.7" y="200.5" width="32.3" height="1" fill="#9f9bd8"/>
<rect x="405" y="200.5" width="31.5" height="1" fill="#9794d5"/>
<rect x="436.5" y="200.5" width="14.3" height="1" fill="#b6b3e3"/>
<rect x="265.5" y="201.5" width="22.5" height="1" fill="#e2866c"/>
<rect x="288" y="201.5" width="23.3" height="1" fill="#e99e85"/>
<rect x="311.3" y="201.5" width="27.3" height="1" fill="#e0dcf0"/>
<rect x="338.6" y="201.5" width="34.1" height="1" fill="#e1def0"/>
<rect x="372.7" y="201.5" width="32.3" height="1" fill="#b1aee0"/>
<rect x="405" y="201.5" width="31.5" height="1" fill="#9a96d6"/>
<rect x="436.5" y="201.5" width="14.3" height="1" fill="#c3c0e9"/>
<rect x="265.5" y="202.5" width="22.5" height="1" fill="#de795e"/>
<rect x="288" y="202.5" width="23.3" height="1" fill="#e48e74"/>
<rect x="311.3" y="202.5" width="27.3" height="1" fill="#e0dcf0"/>
<rect x="338.6" y="202.5" width="34.1" height="1" fill="#c3c0e9"/>
<rect x="372.7" y="202.5" width="32.3" height="1" fill="#b2afe1"/>
<rect x="405" y="202.5" width="31.5" height="1" fill="#9d99d7"/>
<rect x="436.5" y="202.5" width="14.3" height="1" fill="#afabdf"/>
<rect x="265.5" y="203.5" width="22.5" height="1" fill="#d26248"/>
<rect x="288" y="203.5" width="23.3" height="1" fill="#df7e63"/>
<rect x="311.3" y="203.5" width="27.3" height="1" fill="#e7e3f1"/>
<rect x="338.6" y="203.5" width="34.1" height="1" fill="#e6e2f1"/>
<rect x="372.7" y="203.5" width="32.3" height="1" fill="#c4c1e9"/>
<rect x="405" y="203.5" width="31.5" height="1" fill="#b6b2e2"/>
<rect x="436.5" y="203.5" width="14.3" height="1" fill="#d4d1ed"/>
<rect x="265.5" y="204.5" width="22.5" height="1" fill="#c4472f"/>
<rect x="288" y="204.5" width="23.3" height="1" fill="#d66b51"/>
<rect x="311.3" y="204.5" width="27.3" height="1" fill="#f2e9eb"/>
<rect x="338.6" y="204.5" width="34.1" height="1" fill="#f1edf4"/>
<rect x="372.7" y="204.5" width="32.3" height="1" fill="#ccc9eb"/>
<rect x="405" y="204.5" width="31.5" height="1" fill="#a9a5dd"/>
<rect x="436.5" y="204.5" width="14.3" height="1" fill="#cfcbec"/>
<rect x="265.5" y="205.5" width="22.5" height="1" fill="#cb543b"/>
<rect x="288" y="205.5" width="23.3" height="1" fill="#db7459"/>
<rect x="311.3" y="205.5" width="27.3" height="1" fill="#f2e5e4"/>
<rect x="338.6" y="205.5" width="34.1" height="1" fill="#f2eef4"/>
<rect x="372.7" y="205.5" width="32.3" height="1" fill="#ccc9eb"/>
<rect x="405" y="205.5" width="31.5" height="1" fill="#aaa7dd"/>
<rect x="436.5" y="205.5" width="14.3" height="1" fill="#cbc8eb"/>
<rect x="265.5" y="206.5" width="22.5" height="1" fill="#de795e"/>
<rect x="288" y="206.5" width="23.3" height="1" fill="#e6947a"/>
<rect x="311.3" y="206.5" width="27.3" height="1" fill="#e6e2f1"/>
<rect x="338.6" y="206.5" width="34.1" height="1" fill="#d2cfec"/>
<rect x="372.7" y="206.5" width="32.3" height="1" fill="#aaa6dd"/>
<rect x="405" y="206.5" width="31.5" height="1" fill="#8f8bd0"/>
<rect x="436.5" y="206.5" width="14.3" height="1" fill="#b3b0e1"/>
<rect x="265.5" y="207.5" width="22.5" height="1" fill="#d5684e"/>
<rect x="288" y="207.5" width="23.3" height="1" fill="#e18267"/>
<rect x="311.3" y="207.5" width="27.3" height="1" fill="#e5e1f1"/>
<rect x="338.6" y="207.5" width="34.1" height="1" fill="#eeeaf3"/>
<rect x="372.7" y="207.5" width="32.3" height="1" fill="#bab7e5"/>
<rect x="405" y="207.5" width="31.5" height="1" fill="#a09cd9"/>
<rect x="436.5" y="207.5" width="14.3" height="1" fill="#d1ceec"/>
<rect x="265.5" y="208.5" width="22.5" height="1" fill="#d3654b"/>
<rect x="288" y="208.5" width="23.3" height="1" fill="#df7c61"/>
<rect x="311.3" y="208.5" width="27.3" height="1" fill="#f2e0dd"/>
<rect x="338.6" y="208.5" width="34.1" height="1" fill="#f2e8ea"/>
<rect x="372.7" y="208.5" width="32.3" height="1" fill="#d1ceec"/>
<rect x="405" y="208.5" width="31.5" height="1" fill="#ccc9eb"/>
<rect x="436.5" y="208.5" width="14.3" height="1" fill="#e1def0"/>
<rect x="265.5" y="209.5" width="22.5" height="1" fill="#da7358"/>
<rect x="288" y="209.5" width="23.3" height="1" fill="#e59278"/>
<rect x="311.3" y="209.5" width="27.3" height="1" fill="#f2ecf1"/>
<rect x="338.6" y="209.5" width="34.1" height="1" fill="#ebe7f2"/>
<rect x="372.7" y="209.5" width="32.3" height="1" fill="#bebbe6"/>
<rect x="405" y="209.5" width="31.5" height="1" fill="#9f9bd8"/>
<rect x="436.5" y="209.5" width="14.3" height="1" fill="#b1aee0"/>
<rect x="265.5" y="210.5" width="22.5" height="1" fill="#c54a32"/>
<rect x="288" y="210.5" width="23.3" height="1" fill="#d97156"/>
<rect x="311.3" y="210.5" width="27.3" height="1" fill="#eeeaf3"/>
<rect x="338.6" y="210.5" width="34.1" height="1" fill="#eae6f2"/>
<rect x="372.7" y="210.5" width="32.3" height="1" fill="#b8b5e4"/>
<rect x="405" y="210.5" width="31.5" height="1" fill="#a29eda"/>
<rect x="436.5" y="210.5" width="14.3" height="1" fill="#c0bde7"/>
<rect x="265.5" y="211.5" width="22.5" height="1" fill="#e48e73"/>
<rect x="288" y="211.5" width="23.3" height="1" fill="#eba58c"/>
<rect x="311.3" y="211.5" width="27.3" height="1" fill="#e0dcf0"/>
<rect x="338.6" y="211.5" width="34.1" height="1" fill="#dcd8ef"/>
<rect x="372.7" y="211.5" width="32.3" height="1" fill="#bab7e5"/>
<rect x="405" y="211.5" width="31.5" height="1" fill="#aaa7dd"/>
<rect x="436.5" y="211.5" width="14.3" height="1" fill="#a4a0da"/>
<rect x="265.5" y="212.5" width="22.5" height="1" fill="#cc563d"/>
<rect x="288" y="212.5" width="23.3" height="1" fill="#da7257"/>
<rect x="311.3" y="212.5" width="27.3" height="1" fill="#eeeaf3"/>
<rect x="338.6" y="212.5" width="34.1" height="1" fill="#e6e3f1"/>
<rect x="372.7" y="212.5" width="32.3" height="1" fill="#b0ade0"/>
<rect x="405" y="212.5" width="31.5" height="1" fill="#8e8ad0"/>
<rect x="436.5" y="212.5" width="14.3" height="1" fill="#b9b5e4"/>
<rect x="265.5" y="213.5" width="22.5" height="1" fill="#da7258"/>
<rect x="288" y="213.5" width="23.3" height="1" fill="#e59076"/>
<rect x="311.3" y="213.5" width="27.3" height="1" fill="#dfdbef"/>
<rect x="338.6" y="213.5" width="34.1" height="1" fill="#e6e3f1"/>
<rect x="372.7" y="213.5" width="32.3" height="1" fill="#c2bfe8"/>
<rect x="405" y="213.5" width="31.5" height="1" fill="#9d99d7"/>
<rect x="436.5" y="213.5" width="14.3" height="1" fill="#b2afe1"/>
<rect x="265.5" y="214.5" width="22.5" height="1" fill="#d86e53"/>
<rect x="288" y="214.5" width="23.3" height="1" fill="#e08066"/>
<rect x="311.3" y="214.5" width="27.3" height="1" fill="#f2ecf0"/>
<rect x="338.6" y="214.5" width="34.1" height="1" fill="#f0ecf3"/>
<rect x="372.7" y="214.5" width="32.3" height="1" fill="#bcb9e5"/>
<rect x="405" y="214.5" width="31.5" height="1" fill="#b1aee0"/>
<rect x="436.5" y="214.5" width="14.3" height="1" fill="#bdbae6"/>
<rect x="265.5" y="215.5" width="22.5" height="1" fill="#e07f65"/>
<rect x="288" y="215.5" width="23.3" height="1" fill="#e38a70"/>
<rect x="311.3" y="215.5" width="27.3" height="1" fill="#e1def0"/>
<rect x="338.6" y="215.5" width="34.1" height="1" fill="#d9d6ee"/>
<rect x="372.7" y="215.5" width="32.3" height="1" fill="#c2bfe8"/>
<rect x="405" y="215.5" width="31.5" height="1" fill="#928ed2"/>
<rect x="436.5" y="215.5" width="14.3" height="1" fill="#a29fda"/>
<rect x="265.5" y="216.5" width="22.5" height="1" fill="#d5694f"/>
<rect x="288" y="216.5" width="23.3" height="1" fill="#e2886e"/>
<rect x="311.3" y="216.5" width="27.3" height="1" fill="#d2ceec"/>
<rect x="338.6" y="216.5" width="34.1" height="1" fill="#d1cdec"/>
<rect x="372.7" y="216.5" width="32.3" height="1" fill="#9692d4"/>
<rect x="405" y="216.5" width="31.5" height="1" fill="#736fc1"/>
<rect x="436.5" y="216.5" width="14.3" height="1" fill="#a5a1db"/>
<rect x="265.5" y="217.5" width="22.5" height="1" fill="#e08065"/>
<rect x="288" y="217.5" width="23.3" height="1" fill="#e7967d"/>
<rect x="311.3" y="217.5" width="27.3" height="1" fill="#e8e4f2"/>
<rect x="338.6" y="217.5" width="34.1" height="1" fill="#d9d5ee"/>
<rect x="372.7" y="217.5" width="32.3" height="1" fill="#b3b0e1"/>
<rect x="405" y="217.5" width="31.5" height="1" fill="#9f9bd8"/>
<rect x="436.5" y="217.5" width="14.3" height="1" fill="#c9c6ea"/>
<rect x="265.5" y="218.5" width="22.5" height="1" fill="#d3654b"/>
<rect x="288" y="218.5" width="23.3" height="1" fill="#e59177"/>
<rect x="311.3" y="218.5" width="27.3" height="1" fill="#e1ddf0"/>
<rect x="338.6" y="218.5" width="34.1" height="1" fill="#c3c0e8"/>
<rect x="372.7" y="218.5" width="32.3" height="1" fill="#c4c1e9"/>
<rect x="405" y="218.5" width="31.5" height="1" fill="#837fca"/>
<rect x="436.5" y="218.5" width="14.3" height="1" fill="#a19dd9"/>
<rect x="265.5" y="219.5" width="22.5" height="1" fill="#d16046"/>
<rect x="288" y="219.5" width="23.3" height="1" fill="#e2866c"/>
<rect x="311.3" y="219.5" width="27.3" height="1" fill="#e7e4f1"/>
<rect x="338.6" y="219.5" width="34.1" height="1" fill="#e5e1f1"/>
<rect x="372.7" y="219.5" width="32.3" height="1" fill="#c0bde7"/>
<rect x="405" y="219.5" width="31.5" height="1" fill="#9692d4"/>
<rect x="436.5" y="219.5" width="14.3" height="1" fill="#b4b0e2"/>
<rect x="265.5" y="220.5" width="22.5" height="1" fill="#d6694f"/>
<rect x="288" y="220.5" width="23.3" height="1" fill="#e08166"/>
<rect x="311.3" y="220.5" width="27.3" height="1" fill="#efebf3"/>
<rect x="338.6" y="220.5" width="34.1" height="1" fill="#d8d5ee"/>
<rect x="372.7" y="220.5" width="32.3" height="1" fill="#c3c0e8"/>
<rect x="405" y="220.5" width="31.5" height="1" fill="#8985cd"/>
<rect x="436.5" y="220.5" width="14.3" height="1" fill="#b3b0e1"/>
<rect x="265.5" y="221.5" width="22.5" height="1" fill="#d5684e"/>
<rect x="288" y="221.5" width="23.3" height="1" fill="#e38c71"/>
<rect x="311.3" y="221.5" width="27.3" height="1" fill="#e8e4f2"/>
<rect x="338.6" y="221.5" width="34.1" height="1" fill="#f2ecf0"/>
<rect x="372.7" y="221.5" width="32.3" height="1" fill="#bfbce7"/>
<rect x="405" y="221.5" width="31.5" height="1" fill="#9692d4"/>
<rect x="436.5" y="221.5" width="14.3" height="1" fill="#b9b6e4"/>
<rect x="265.5" y="222.5" width="22.5" height="1" fill="#e2886e"/>
<rect x="288" y="222.5" width="23.3" height="1" fill="#e69278"/>
<rect x="311.3" y="222.5" width="27.3" height="1" fill="#e5e1f1"/>
<rect x="338.6" y="222.5" width="34.1" height="1" fill="#cecbec"/>
<rect x="372.7" y="222.5" width="32.3" height="1" fill="#b5b2e2"/>
<rect x="405" y="222.5" width="31.5" height="1" fill="#8783cc"/>
<rect x="436.5" y="222.5" width="14.3" height="1" fill="#a5a2db"/>
<rect x="265.5" y="223.5" width="22.5" height="1" fill="#7773c3"/>
<rect x="288" y="223.5" width="23.3" height="1" fill="#b6b3e3"/>
<rect x="311.3" y="223.5" width="27.3" height="1" fill="#f0bdab"/>
<rect x="338.6" y="223.5" width="34.1" height="1" fill="#f2ebef"/>
<rect x="372.7" y="223.5" width="32.3" height="1" fill="#f2eaee"/>
<rect x="405" y="223.5" width="31.5" height="1" fill="#8783cc"/>
<rect x="436.5" y="223.5" width="14.3" height="1" fill="#a39fda"/>
<rect x="265.5" y="224.5" width="22.5" height="1" fill="#8682cb"/>
<rect x="288" y="224.5" width="23.3" height="1" fill="#efebf3"/>
<rect x="311.3" y="224.5" width="27.3" height="1" fill="#f2cabb"/>
<rect x="338.6" y="224.5" width="34.1" height="1" fill="#f3dad2"/>
<rect x="372.7" y="224.5" width="32.3" height="1" fill="#f2e2e0"/>
<rect x="405" y="224.5" width="31.5" height="1" fill="#9692d4"/>
<rect x="436.5" y="224.5" width="14.3" height="1" fill="#aba8de"/>
<rect x="265.5" y="225.5" width="22.5" height="1" fill="#908cd1"/>
<rect x="288" y="225.5" width="23.3" height="1" fill="#c9c6ea"/>
<rect x="311.3" y="225.5" width="27.3" height="1" fill="#f0c0af"/>
<rect x="338.6" y="225.5" width="34.1" height="1" fill="#e5e1f1"/>
<rect x="372.7" y="225.5" width="32.3" height="1" fill="#f2edf2"/>
<rect x="405" y="225.5" width="31.5" height="1" fill="#6e6abf"/>
<rect x="436.5" y="225.5" width="14.3" height="1" fill="#8783cc"/>
<rect x="265.5" y="226.5" width="22.5" height="1" fill="#716dc0"/>
<rect x="288" y="226.5" width="23.3" height="1" fill="#e3dff0"/>
<rect x="311.3" y="226.5" width="27.3" height="1" fill="#eca78e"/>
<rect x="338.6" y="226.5" width="34.1" height="1" fill="#f2e4e3"/>
<rect x="372.7" y="226.5" width="32.3" height="1" fill="#f3e0dd"/>
<rect x="405" y="226.5" width="31.5" height="1" fill="#8783cc"/>
<rect x="436.5" y="226.5" width="14.3" height="1" fill="#a29ed9"/>
<rect x="265.5" y="227.5" width="22.5" height="1" fill="#a4a1db"/>
<rect x="288" y="227.5" width="23.3" height="1" fill="#a8a4dc"/>
<rect x="311.3" y="227.5" width="27.3" height="1" fill="#f3d1c4"/>
<rect x="338.6" y="227.5" width="34.1" height="1" fill="#e8e4f2"/>
<rect x="372.7" y="227.5" width="32.3" height="1" fill="#ebe7f2"/>
<rect x="405" y="227.5" width="31.5" height="1" fill="#8682cb"/>
<rect x="436.5" y="227.5" width="14.3" height="1" fill="#9490d3"/>
<rect x="265.5" y="228.5" width="22.5" height="1" fill="#9490d3"/>
<rect x="288" y="228.5" width="23.3" height="1" fill="#d4d0ed"/>
<rect x="311.3" y="228.5" width="27.3" height="1" fill="#eaa087"/>
<rect x="338.6" y="228.5" width="34.1" height="1" fill="#f3d4c9"/>
<rect x="372.7" y="228.5" width="32.3" height="1" fill="#f3dfdb"/>
<rect x="405" y="228.5" width="31.5" height="1" fill="#8480cb"/>
<rect x="436.5" y="228.5" width="14.3" height="1" fill="#a4a1db"/>
<rect x="265.5" y="229.5" width="22.5" height="1" fill="#7d79c7"/>
<rect x="288" y="229.5" width="23.3" height="1" fill="#a5a1db"/>
<rect x="311.3" y="229.5" width="27.3" height="1" fill="#f2ccbe"/>
<rect x="338.6" y="229.5" width="34.1" height="1" fill="#f2eaed"/>
<rect x="372.7" y="229.5" width="32.3" height="1" fill="#f2edf2"/>
<rect x="405" y="229.5" width="31.5" height="1" fill="#8a86cd"/>
<rect x="436.5" y="229.5" width="14.3" height="1" fill="#b8b5e4"/>
<rect x="265.5" y="230.5" width="22.5" height="1" fill="#928ed2"/>
<rect x="288" y="230.5" width="23.3" height="1" fill="#dbd7ee"/>
<rect x="311.3" y="230.5" width="27.3" height="1" fill="#eeb09a"/>
<rect x="338.6" y="230.5" width="34.1" height="1" fill="#f2e9eb"/>
<rect x="372.7" y="230.5" width="32.3" height="1" fill="#f2e0de"/>
<rect x="405" y="230.5" width="31.5" height="1" fill="#8480cb"/>
<rect x="436.5" y="230.5" width="14.3" height="1" fill="#a29ed9"/>
<rect x="265.5" y="231.5" width="22.5" height="1" fill="#cfccec"/>
<rect x="288" y="231.5" width="23.3" height="1" fill="#b8b5e4"/>
<rect x="311.3" y="231.5" width="27.3" height="1" fill="#efbba7"/>
<rect x="338.6" y="231.5" width="34.1" height="1" fill="#f2e2e0"/>
<rect x="372.7" y="231.5" width="32.3" height="1" fill="#f3dad4"/>
<rect x="405" y="231.5" width="31.5" height="1" fill="#a6a2db"/>
<rect x="436.5" y="231.5" width="14.3" height="1" fill="#c3c0e8"/>
<rect x="265.5" y="232.5" width="22.5" height="1" fill="#9692d4"/>
<rect x="288" y="232.5" width="23.3" height="1" fill="#efebf3"/>
<rect x="311.3" y="232.5" width="27.3" height="1" fill="#edad96"/>
<rect x="338.6" y="232.5" width="34.1" height="1" fill="#f2e9ec"/>
<rect x="372.7" y="232.5" width="32.3" height="1" fill="#f2e9ec"/>
<rect x="405" y="232.5" width="31.5" height="1" fill="#8480ca"/>
<rect x="436.5" y="232.5" width="14.3" height="1" fill="#a8a4dc"/>
<rect x="265.5" y="233.5" width="22.5" height="1" fill="#9591d3"/>
<rect x="288" y="233.5" width="23.3" height="1" fill="#a39fda"/>
<rect x="311.3" y="233.5" width="27.3" height="1" fill="#f2cfc2"/>
<rect x="338.6" y="233.5" width="34.1" height="1" fill="#f2e6e8"/>
<rect x="372.7" y="233.5" width="32.3" height="1" fill="#f3dfdb"/>
<rect x="405" y="233.5" width="31.5" height="1" fill="#938fd3"/>
<rect x="436.5" y="233.5" width="14.3" height="1" fill="#9d99d7"/>
<rect x="265.5" y="234.5" width="22.5" height="1" fill="#aca9de"/>
<rect x="288" y="234.5" width="23.3" height="1" fill="#d1ceec"/>
<rect x="311.3" y="234.5" width="27.3" height="1" fill="#f1c3b3"/>
<rect x="338.6" y="234.5" width="34.1" height="1" fill="#f2e3e2"/>
<rect x="372.7" y="234.5" width="32.3" height="1" fill="#f2e5e5"/>
<rect x="405" y="234.5" width="31.5" height="1" fill="#7c78c6"/>
<rect x="436.5" y="234.5" width="14.3" height="1" fill="#a39fda"/>
<rect x="265.5" y="235.5" width="22.5" height="1" fill="#a19dd9"/>
<rect x="288" y="235.5" width="23.3" height="1" fill="#d9d6ee"/>
<rect x="311.3" y="235.5" width="27.3" height="1" fill="#eeb6a1"/>
<rect x="338.6" y="235.5" width="34.1" height="1" fill="#f2e2e1"/>
<rect x="372.7" y="235.5" width="32.3" height="1" fill="#f2e4e3"/>
<rect x="405" y="235.5" width="31.5" height="1" fill="#8d89cf"/>
<rect x="436.5" y="235.5" width="14.3" height="1" fill="#9e9ad8"/>
<rect x="265.5" y="236.5" width="22.5" height="1" fill="#c7c4ea"/>
<rect x="288" y="236.5" width="23.3" height="1" fill="#d2cfec"/>
<rect x="311.3" y="236.5" width="27.3" height="1" fill="#f0c1b0"/>
<rect x="338.6" y="236.5" width="34.1" height="1" fill="#f3ddd8"/>
<rect x="372.7" y="236.5" width="32.3" height="1" fill="#f3ddd9"/>
<rect x="405" y="236.5" width="31.5" height="1" fill="#8682cc"/>
<rect x="436.5" y="236.5" width="14.3" height="1" fill="#a8a5dc"/>
<rect x="265.5" y="237.5" width="22.5" height="1" fill="#9a96d6"/>
<rect x="288" y="237.5" width="23.3" height="1" fill="#dbd8ef"/>
<rect x="311.3" y="237.5" width="27.3" height="1" fill="#edb09a"/>
<rect x="338.6" y="237.5" width="34.1" height="1" fill="#f2e0dd"/>
<rect x="372.7" y="237.5" width="32.3" height="1" fill="#f3dad3"/>
<rect x="405" y="237.5" width="31.5" height="1" fill="#938fd2"/>
<rect x="436.5" y="237.5" width="14.3" height="1" fill="#9d9ad7"/>
<rect x="265.5" y="238.5" width="22.5" height="1" fill="#bdbae6"/>
<rect x="288" y="238.5" width="23.3" height="1" fill="#b9b6e4"/>
<rect x="311.3" y="238.5" width="27.3" height="1" fill="#f0c2b2"/>
<rect x="338.6" y="238.5" width="34.1" height="1" fill="#f2edf2"/>
<rect x="372.7" y="238.5" width="32.3" height="1" fill="#f2e8eb"/>
<rect x="405" y="238.5" width="31.5" height="1" fill="#7d79c7"/>
<rect x="436.5" y="238.5" width="14.3" height="1" fill="#9e9ad8"/>
<rect x="265.5" y="239.5" width="22.5" height="1" fill="#9490d3"/>
<rect x="288" y="239.5" width="23.3" height="1" fill="#ebe8f2"/>
<rect x="311.3" y="239.5" width="27.3" height="1" fill="#edaa93"/>
<rect x="338.6" y="239.5" width="34.1" height="1" fill="#f3deda"/>
<rect x="372.7" y="239.5" width="32.3" height="1" fill="#f2e4e3"/>
<rect x="405" y="239.5" width="31.5" height="1" fill="#9793d4"/>
<rect x="436.5" y="239.5" width="14.3" height="1" fill="#aba8de"/>
<rect x="265.5" y="240.5" width="22.5" height="1" fill="#7470c2"/>
<rect x="288" y="240.5" width="23.3" height="1" fill="#9995d5"/>
<rect x="311.3" y="240.5" width="27.3" height="1" fill="#f3dad3"/>
<rect x="338.6" y="240.5" width="34.1" height="1" fill="#eeeaf3"/>
<rect x="372.7" y="240.5" width="32.3" height="1" fill="#e9e6f2"/>
<rect x="405" y="240.5" width="31.5" height="1" fill="#6d69be"/>
<rect x="436.5" y="240.5" width="14.3" height="1" fill="#8581cb"/>
<rect x="265.5" y="241.5" width="22.5" height="1" fill="#7975c5"/>
<rect x="288" y="241.5" width="23.3" height="1" fill="#f2ecf1"/>
<rect x="311.3" y="241.5" width="27.3" height="1" fill="#f0c1b0"/>
<rect x="338.6" y="241.5" width="34.1" height="1" fill="#f2e3e2"/>
<rect x="372.7" y="241.5" width="32.3" height="1" fill="#f2e2e0"/>
<rect x="405" y="241.5" width="31.5" height="1" fill="#908cd1"/>
<rect x="436.5" y="241.5" width="14.3" height="1" fill="#a7a4dc"/>
<rect x="265.5" y="242.5" width="22.5" height="1" fill="#9591d3"/>
<rect x="288" y="242.5" width="23.3" height="1" fill="#d8d5ee"/>
<rect x="311.3" y="242.5" width="27.3" height="1" fill="#f1c8b8"/>
<rect x="338.6" y="242.5" width="34.1" height="1" fill="#f2ecf0"/>
<rect x="372.7" y="242.5" width="32.3" height="1" fill="#f3dbd6"/>
<rect x="405" y="242.5" width="31.5" height="1" fill="#8e8ad0"/>
<rect x="436.5" y="242.5" width="14.3" height="1" fill="#a4a0da"/>
<rect x="265.5" y="243.5" width="22.5" height="1" fill="#827ec9"/>
<rect x="288" y="243.5" width="23.3" height="1" fill="#e8e4f2"/>
<rect x="311.3" y="243.5" width="27.3" height="1" fill="#f0c2b2"/>
<rect x="338.6" y="243.5" width="34.1" height="1" fill="#f2e4e4"/>
<rect x="372.7" y="243.5" width="32.3" height="1" fill="#f2edf3"/>
<rect x="405" y="243.5" width="31.5" height="1" fill="#8c88cf"/>
<rect x="436.5" y="243.5" width="14.3" height="1" fill="#9591d4"/>
<rect x="265.5" y="244.5" width="22.5" height="1" fill="#9490d3"/>
<rect x="288" y="244.5" width="23.3" height="1" fill="#d0cdec"/>
<rect x="311.3" y="244.5" width="27.3" height="1" fill="#eca990"/>
<rect x="338.6" y="244.5" width="34.1" height="1" fill="#f3dad3"/>
<rect x="372.7" y="244.5" width="32.3" height="1" fill="#f3e0dc"/>
<rect x="405" y="244.5" width="31.5" height="1" fill="#8c88cf"/>
<rect x="436.5" y="244.5" width="14.3" height="1" fill="#b5b2e2"/>
<rect x="265.5" y="245.5" width="22.5" height="1" fill="#635fb9"/>
<rect x="288" y="245.5" width="23.3" height="1" fill="#cac6ea"/>
<rect x="311.3" y="245.5" width="27.3" height="1" fill="#f0c2b1"/>
<rect x="338.6" y="245.5" width="34.1" height="1" fill="#f2e6e7"/>
<rect x="372.7" y="245.5" width="32.3" height="1" fill="#f2e3e2"/>
<rect x="405" y="245.5" width="31.5" height="1" fill="#8c88cf"/>
<rect x="436.5" y="245.5" width="14.3" height="1" fill="#bdbae6"/>
<rect x="265.5" y="246.5" width="22.5" height="1" fill="#c8c5ea"/>
<rect x="288" y="246.5" width="23.3" height="1" fill="#bab7e5"/>
<rect x="311.3" y="246.5" width="27.3" height="1" fill="#f3d0c4"/>
<rect x="338.6" y="246.5" width="34.1" height="1" fill="#f2e7e9"/>
<rect x="372.7" y="246.5" width="32.3" height="1" fill="#f2e6e8"/>
<rect x="405" y="246.5" width="31.5" height="1" fill="#8b87ce"/>
<rect x="436.5" y="246.5" width="14.3" height="1" fill="#afabdf"/>
<rect x="265.5" y="247.5" width="22.5" height="1" fill="#b7b4e3"/>
<rect x="288" y="247.5" width="23.3" height="1" fill="#dfdbef"/>
<rect x="311.3" y="247.5" width="27.3" height="1" fill="#edab94"/>
<rect x="338.6" y="247.5" width="34.1" height="1" fill="#f2e1de"/>
<rect x="372.7" y="247.5" width="32.3" height="1" fill="#f3dad4"/>
<rect x="405" y="247.5" width="31.5" height="1" fill="#7c78c6"/>
<rect x="436.5" y="247.5" width="14.3" height="1" fill="#9c99d7"/>
<rect x="265.5" y="248.5" width="22.5" height="1" fill="#ccc9eb"/>
<rect x="288" y="248.5" width="23.3" height="1" fill="#d9d5ee"/>
<rect x="311.3" y="248.5" width="27.3" height="1" fill="#f2cabb"/>
<rect x="338.6" y="248.5" width="34.1" height="1" fill="#f0ecf4"/>
<rect x="372.7" y="248.5" width="32.3" height="1" fill="#f2eaed"/>
<rect x="405" y="248.5" width="31.5" height="1" fill="#8b87ce"/>
<rect x="436.5" y="248.5" width="14.3" height="1" fill="#aba7dd"/>
<rect x="265.5" y="249.5" width="22.5" height="1" fill="#aeaadf"/>
<rect x="288" y="249.5" width="23.3" height="1" fill="#9a96d6"/>
<rect x="311.3" y="249.5" width="27.3" height="1" fill="#eeb29c"/>
<rect x="338.6" y="249.5" width="34.1" height="1" fill="#f2e2e1"/>
<rect x="372.7" y="249.5" width="32.3" height="1" fill="#f3dfdb"/>
<rect x="405" y="249.5" width="31.5" height="1" fill="#9692d4"/>
<rect x="436.5" y="249.5" width="14.3" height="1" fill="#a9a5dd"/>
<rect x="265.5" y="250.5" width="22.5" height="1" fill="#c1bee8"/>
<rect x="288" y="250.5" width="23.3" height="1" fill="#b5b2e2"/>
<rect x="311.3" y="250.5" width="27.3" height="1" fill="#f0c1af"/>
<rect x="338.6" y="250.5" width="34.1" height="1" fill="#f2e4e4"/>
<rect x="372.7" y="250.5" width="32.3" height="1" fill="#f2ebf0"/>
<rect x="405" y="250.5" width="31.5" height="1" fill="#7470c2"/>
<rect x="436.5" y="250.5" width="14.3" height="1" fill="#9490d3"/>
<rect x="265.5" y="251.5" width="22.5" height="1" fill="#d2ceec"/>
<rect x="288" y="251.5" width="23.3" height="1" fill="#c2bfe8"/>
<rect x="311.3" y="251.5" width="27.3" height="1" fill="#f3d3c7"/>
<rect x="338.6" y="251.5" width="34.1" height="1" fill="#f2edf2"/>
<rect x="372.7" y="251.5" width="32.3" height="1" fill="#f2ecf0"/>
<rect x="405" y="251.5" width="31.5" height="1" fill="#7975c4"/>
<rect x="436.5" y="251.5" width="14.3" height="1" fill="#9c98d7"/>
<rect x="265.5" y="252.5" width="22.5" height="1" fill="#a39fda"/>
<rect x="288" y="252.5" width="23.3" height="1" fill="#dcd9ef"/>
<rect x="311.3" y="252.5" width="27.3" height="1" fill="#f1c4b4"/>
<rect x="338.6" y="252.5" width="34.1" height="1" fill="#eeeaf3"/>
<rect x="372.7" y="252.5" width="32.3" height="1" fill="#f1edf4"/>
<rect x="405" y="252.5" width="31.5" height="1" fill="#6c68be"/>
<rect x="436.5" y="252.5" width="14.3" height="1" fill="#8b87ce"/>
<rect x="265.5" y="253.5" width="22.5" height="1" fill="#9a97d6"/>
<rect x="288" y="253.5" width="23.3" height="1" fill="#f2ebf0"/>
<rect x="311.3" y="253.5" width="27.3" height="1" fill="#eca990"/>
<rect x="338.6" y="253.5" width="34.1" height="1" fill="#f3deda"/>
<rect x="372.7" y="253.5" width="32.3" height="1" fill="#f3e0dc"/>
<rect x="405" y="253.5" width="31.5" height="1" fill="#817dc9"/>
<rect x="436.5" y="253.5" width="14.3" height="1" fill="#a9a5dd"/>
<rect x="265.5" y="254.5" width="22.5" height="1" fill="#8985cd"/>
<rect x="288" y="254.5" width="23.3" height="1" fill="#b5b1e2"/>
<rect x="311.3" y="254.5" width="27.3" height="1" fill="#efbaa6"/>
<rect x="338.6" y="254.5" width="34.1" height="1" fill="#e1ddf0"/>
<rect x="372.7" y="254.5" width="32.3" height="1" fill="#f2ebef"/>
<rect x="405" y="254.5" width="31.5" height="1" fill="#726ec1"/>
<rect x="436.5" y="254.5" width="14.3" height="1" fill="#8e8ad0"/>
<rect x="265.5" y="255.5" width="22.5" height="1" fill="#afabdf"/>
<rect x="288" y="255.5" width="23.3" height="1" fill="#ede9f3"/>
<rect x="311.3" y="255.5" width="27.3" height="1" fill="#f1c3b3"/>
<rect x="338.6" y="255.5" width="34.1" height="1" fill="#efebf3"/>
<rect x="372.7" y="255.5" width="32.3" height="1" fill="#f2ebef"/>
<rect x="405" y="255.5" width="31.5" height="1" fill="#8a86ce"/>
<rect x="436.5" y="255.5" width="14.3" height="1" fill="#a19dd9"/>
<rect x="265.5" y="256.5" width="22.5" height="1" fill="#a7a3dc"/>
<rect x="288" y="256.5" width="23.3" height="1" fill="#d5d2ed"/>
<rect x="311.3" y="256.5" width="27.3" height="1" fill="#f0c2b1"/>
<rect x="338.6" y="256.5" width="34.1" height="1" fill="#f2ebef"/>
<rect x="372.7" y="256.5" width="32.3" height="1" fill="#f2e4e4"/>
<rect x="405" y="256.5" width="31.5" height="1" fill="#9591d3"/>
<rect x="436.5" y="256.5" width="14.3" height="1" fill="#9f9cd8"/>
<rect x="265.5" y="257.5" width="22.5" height="1" fill="#cecbeb"/>
<rect x="288" y="257.5" width="23.3" height="1" fill="#e1def0"/>
<rect x="311.3" y="257.5" width="27.3" height="1" fill="#eeb49f"/>
<rect x="338.6" y="257.5" width="34.1" height="1" fill="#f2e3e2"/>
<rect x="372.7" y="257.5" width="32.3" height="1" fill="#f2e1de"/>
<rect x="405" y="257.5" width="31.5" height="1" fill="#a5a1db"/>
<rect x="436.5" y="257.5" width="14.3" height="1" fill="#aca9de"/>
<rect x="265.5" y="258.5" width="22.5" height="1" fill="#e9e6f2"/>
<rect x="288" y="258.5" width="23.3" height="1" fill="#d9d6ee"/>
<rect x="311.3" y="258.5" width="27.3" height="1" fill="#edac95"/>
<rect x="338.6" y="258.5" width="34.1" height="1" fill="#f2e6e7"/>
<rect x="372.7" y="258.5" width="32.3" height="1" fill="#f2e3e2"/>
<rect x="405" y="258.5" width="31.5" height="1" fill="#7f7bc7"/>
<rect x="436.5" y="258.5" width="14.3" height="1" fill="#a7a4dc"/>
<rect x="265.5" y="259.5" width="22.5" height="1" fill="#d6d2ed"/>
<rect x="288" y="259.5" width="23.3" height="1" fill="#dad7ee"/>
<rect x="311.3" y="259.5" width="27.3" height="1" fill="#f0c0ae"/>
<rect x="338.6" y="259.5" width="34.1" height="1" fill="#f3e0dd"/>
<rect x="372.7" y="259.5" width="32.3" height="1" fill="#f2e7e9"/>
<rect x="405" y="259.5" width="31.5" height="1" fill="#817dc9"/>
<rect x="436.5" y="259.5" width="14.3" height="1" fill="#9995d5"/>
<rect x="265.5" y="260.5" width="22.5" height="1" fill="#d1cdec"/>
<rect x="288" y="260.5" width="23.3" height="1" fill="#f2e3e1"/>
<rect x="311.3" y="260.5" width="27.3" height="1" fill="#edac94"/>
<rect x="338.6" y="260.5" width="34.1" height="1" fill="#f2e2e1"/>
<rect x="372.7" y="260.5" width="32.3" height="1" fill="#f2e4e4"/>
<rect x="405" y="260.5" width="31.5" height="1" fill="#7773c3"/>
<rect x="436.5" y="260.5" width="14.3" height="1" fill="#a9a6dd"/>
<rect x="265.5" y="261.5" width="22.5" height="1" fill="#eae6f2"/>
<rect x="288" y="261.5" width="23.3" height="1" fill="#f2e9ec"/>
<rect x="311.3" y="261.5" width="27.3" height="1" fill="#f3d7ce"/>
<rect x="338.6" y="261.5" width="34.1" height="1" fill="#efb7a2"/>
<rect x="372.7" y="261.5" width="32.3" height="1" fill="#f3d8cf"/>
<rect x="405" y="261.5" width="31.5" height="1" fill="#938fd2"/>
<rect x="436.5" y="261.5" width="14.3" height="1" fill="#a09cd9"/>
<rect x="265.5" y="262.5" width="22.5" height="1" fill="#b0ade0"/>
<rect x="288" y="262.5" width="23.3" height="1" fill="#ece8f3"/>
<rect x="311.3" y="262.5" width="27.3" height="1" fill="#f2e8ea"/>
<rect x="338.6" y="262.5" width="34.1" height="1" fill="#f2cabc"/>
<rect x="372.7" y="262.5" width="32.3" height="1" fill="#f2e0dd"/>
<rect x="405" y="262.5" width="31.5" height="1" fill="#8480ca"/>
<rect x="436.5" y="262.5" width="14.3" height="1" fill="#9490d3"/>
<rect x="265.5" y="263.5" width="22.5" height="1" fill="#e8e5f2"/>
<rect x="288" y="263.5" width="23.3" height="1" fill="#f0ecf3"/>
<rect x="311.3" y="263.5" width="27.3" height="1" fill="#f3d6cc"/>
<rect x="338.6" y="263.5" width="34.1" height="1" fill="#eaa188"/>
<rect x="372.7" y="263.5" width="32.3" height="1" fill="#f2cfc2"/>
<rect x="405" y="263.5" width="31.5" height="1" fill="#8f8bd0"/>
<rect x="436.5" y="263.5" width="14.3" height="1" fill="#b7b3e3"/>
<rect x="265.5" y="264.5" width="22.5" height="1" fill="#e7e4f1"/>
<rect x="288" y="264.5" width="23.3" height="1" fill="#efebf3"/>
<rect x="311.3" y="264.5" width="27.3" height="1" fill="#f2edf2"/>
<rect x="338.6" y="264.5" width="34.1" height="1" fill="#f3d0c3"/>
<rect x="372.7" y="264.5" width="32.3" height="1" fill="#f2e7e8"/>
<rect x="405" y="264.5" width="31.5" height="1" fill="#8d89cf"/>
<rect x="436.5" y="264.5" width="14.3" height="1" fill="#908cd1"/>
<rect x="265.5" y="265.5" width="22.5" height="1" fill="#e9e5f2"/>
<rect x="288" y="265.5" width="23.3" height="1" fill="#f2e8ea"/>
<rect x="311.3" y="265.5" width="27.3" height="1" fill="#f3dcd7"/>
<rect x="338.6" y="265.5" width="34.1" height="1" fill="#efbba8"/>
<rect x="372.7" y="265.5" width="32.3" height="1" fill="#f2e2e1"/>
<rect x="405" y="265.5" width="31.5" height="1" fill="#7b77c6"/>
<rect x="436.5" y="265.5" width="14.3" height="1" fill="#8884cd"/>
<rect x="265.5" y="266.5" width="22.5" height="1" fill="#e1ddf0"/>
<rect x="288" y="266.5" width="23.3" height="1" fill="#f2e6e7"/>
<rect x="311.3" y="266.5" width="27.3" height="1" fill="#f3d4c9"/>
<rect x="338.6" y="266.5" width="34.1" height="1" fill="#eeb49f"/>
<rect x="372.7" y="266.5" width="32.3" height="1" fill="#f2cfc2"/>
<rect x="405" y="266.5" width="31.5" height="1" fill="#9e9ad8"/>
<rect x="436.5" y="266.5" width="14.3" height="1" fill="#afacdf"/>
<rect x="265.5" y="267.5" width="22.5" height="1" fill="#e4e0f1"/>
<rect x="288" y="267.5" width="23.3" height="1" fill="#f3dbd5"/>
<rect x="311.3" y="267.5" width="27.3" height="1" fill="#f3d7cf"/>
<rect x="338.6" y="267.5" width="34.1" height="1" fill="#eeb29c"/>
<rect x="372.7" y="267.5" width="32.3" height="1" fill="#f3d9d1"/>
<rect x="405" y="267.5" width="31.5" height="1" fill="#6965bc"/>
<rect x="436.5" y="267.5" width="14.3" height="1" fill="#8a86ce"/>
<rect x="265.5" y="268.5" width="22.5" height="1" fill="#f3dfdb"/>
<rect x="288" y="268.5" width="23.3" height="1" fill="#f3d8d0"/>
<rect x="311.3" y="268.5" width="27.3" height="1" fill="#f3dfdb"/>
<rect x="338.6" y="268.5" width="34.1" height="1" fill="#f0c0af"/>
<rect x="372.7" y="268.5" width="32.3" height="1" fill="#f3e0dc"/>
<rect x="405" y="268.5" width="31.5" height="1" fill="#8783cc"/>
<rect x="436.5" y="268.5" width="14.3" height="1" fill="#9692d4"/>
<rect x="265.5" y="269.5" width="22.5" height="1" fill="#f2ebef"/>
<rect x="288" y="269.5" width="23.3" height="1" fill="#f2ecf1"/>
<rect x="311.3" y="269.5" width="27.3" height="1" fill="#f3ddd8"/>
<rect x="338.6" y="269.5" width="34.1" height="1" fill="#efb7a2"/>
<rect x="372.7" y="269.5" width="32.3" height="1" fill="#f3dbd5"/>
<rect x="405" y="269.5" width="31.5" height="1" fill="#817dc9"/>
<rect x="436.5" y="269.5" width="14.3" height="1" fill="#9793d4"/>
<rect x="265.5" y="270.5" width="22.5" height="1" fill="#dad7ee"/>
<rect x="288" y="270.5" width="23.3" height="1" fill="#f0ecf3"/>
<rect x="311.3" y="270.5" width="27.3" height="1" fill="#f1c8b9"/>
<rect x="338.6" y="270.5" width="34.1" height="1" fill="#eca68d"/>
<rect x="372.7" y="270.5" width="32.3" height="1" fill="#f3d6cd"/>
<rect x="405" y="270.5" width="31.5" height="1" fill="#7c78c6"/>
<rect x="436.5" y="270.5" width="14.3" height="1" fill="#9b97d6"/>
<rect x="265.5" y="271.5" width="22.5" height="1" fill="#f2e9eb"/>
<rect x="288" y="271.5" width="23.3" height="1" fill="#f2e5e6"/>
<rect x="311.3" y="271.5" width="27.3" height="1" fill="#f3dad3"/>
<rect x="338.6" y="271.5" width="34.1" height="1" fill="#f1c6b6"/>
<rect x="372.7" y="271.5" width="32.3" height="1" fill="#f3deda"/>
<rect x="405" y="271.5" width="31.5" height="1" fill="#9692d4"/>
<rect x="436.5" y="271.5" width="14.3" height="1" fill="#aeabdf"/>
<rect x="265.5" y="272.5" width="22.5" height="1" fill="#efebf3"/>
<rect x="288" y="272.5" width="23.3" height="1" fill="#f2e1df"/>
<rect x="311.3" y="272.5" width="27.3" height="1" fill="#f2e0dd"/>
<rect x="338.6" y="272.5" width="34.1" height="1" fill="#efb8a4"/>
<rect x="372.7" y="272.5" width="32.3" height="1" fill="#f3d9d1"/>
<rect x="405" y="272.5" width="31.5" height="1" fill="#7773c3"/>
<rect x="436.5" y="272.5" width="14.3" height="1" fill="#918dd1"/>
<rect x="265.5" y="273.5" width="22.5" height="1" fill="#b7b4e3"/>
<rect x="288" y="273.5" width="23.3" height="1" fill="#e3e0f1"/>
<rect x="311.3" y="273.5" width="27.3" height="1" fill="#f2ecf1"/>
<rect x="338.6" y="273.5" width="34.1" height="1" fill="#f3dbd5"/>
<rect x="372.7" y="273.5" width="32.3" height="1" fill="#f2e4e3"/>
<rect x="405" y="273.5" width="31.5" height="1" fill="#8682cc"/>
<rect x="436.5" y="273.5" width="14.3" height="1" fill="#8985cd"/>
<rect x="265.5" y="274.5" width="22.5" height="1" fill="#dbd7ee"/>
<rect x="288" y="274.5" width="23.3" height="1" fill="#f2ebee"/>
<rect x="311.3" y="274.5" width="27.3" height="1" fill="#f2e9eb"/>
<rect x="338.6" y="274.5" width="34.1" height="1" fill="#f3d2c6"/>
<rect x="372.7" y="274.5" width="32.3" height="1" fill="#f2e6e7"/>
<rect x="405" y="274.5" width="31.5" height="1" fill="#837fca"/>
<rect x="436.5" y="274.5" width="14.3" height="1" fill="#918dd1"/>
<rect x="265.5" y="275.5" width="22.5" height="1" fill="#aaa6dd"/>
<rect x="288" y="275.5" width="23.3" height="1" fill="#e7e3f1"/>
<rect x="311.3" y="275.5" width="27.3" height="1" fill="#f2e8ea"/>
<rect x="338.6" y="275.5" width="34.1" height="1" fill="#f1c8ba"/>
<rect x="372.7" y="275.5" width="32.3" height="1" fill="#f2e5e6"/>
<rect x="405" y="275.5" width="31.5" height="1" fill="#908cd1"/>
<rect x="436.5" y="275.5" width="14.3" height="1" fill="#a5a1db"/>
<rect x="265.5" y="276.5" width="22.5" height="1" fill="#dad7ee"/>
<rect x="288" y="276.5" width="23.3" height="1" fill="#dcd8ef"/>
<rect x="311.3" y="276.5" width="27.3" height="1" fill="#f2e6e6"/>
<rect x="338.6" y="276.5" width="34.1" height="1" fill="#f3d2c6"/>
<rect x="372.7" y="276.5" width="32.3" height="1" fill="#f2ecf0"/>
<rect x="405" y="276.5" width="31.5" height="1" fill="#8884cd"/>
<rect x="436.5" y="276.5" width="14.3" height="1" fill="#a29fda"/>
<rect x="265.5" y="277.5" width="22.5" height="1" fill="#e5e1f1"/>
<rect x="288" y="277.5" width="23.3" height="1" fill="#f3d1c5"/>
<rect x="311.3" y="277.5" width="27.3" height="1" fill="#f2e4e3"/>
<rect x="338.6" y="277.5" width="34.1" height="1" fill="#f1c5b5"/>
<rect x="372.7" y="277.5" width="32.3" height="1" fill="#f2e5e6"/>
<rect x="405" y="277.5" width="31.5" height="1" fill="#807cc8"/>
<rect x="436.5" y="277.5" width="14.3" height="1" fill="#a8a5dc"/>
<rect x="265.5" y="278.5" width="22.5" height="1" fill="#bfbce7"/>
<rect x="288" y="278.5" width="23.3" height="1" fill="#f2ecf0"/>
<rect x="311.3" y="278.5" width="27.3" height="1" fill="#f3e0dd"/>
<rect x="338.6" y="278.5" width="34.1" height="1" fill="#f0c1b0"/>
<rect x="372.7" y="278.5" width="32.3" height="1" fill="#f2e1df"/>
<rect x="405" y="278.5" width="31.5" height="1" fill="#7f7bc8"/>
<rect x="436.5" y="278.5" width="14.3" height="1" fill="#a29ed9"/>
<rect x="265.5" y="279.5" width="22.5" height="1" fill="#f2eef4"/>
<rect x="288" y="279.5" width="23.3" height="1" fill="#ebe7f2"/>
<rect x="311.3" y="279.5" width="27.3" height="1" fill="#f3deda"/>
<rect x="338.6" y="279.5" width="34.1" height="1" fill="#efbca9"/>
<rect x="372.7" y="279.5" width="32.3" height="1" fill="#f2e5e4"/>
<rect x="405" y="279.5" width="31.5" height="1" fill="#938fd2"/>
<rect x="436.5" y="279.5" width="14.3" height="1" fill="#b0ade0"/>
<rect x="265.5" y="280.5" width="22.5" height="1" fill="#dfdbef"/>
<rect x="288" y="280.5" width="23.3" height="1" fill="#f2e6e6"/>
<rect x="311.3" y="280.5" width="27.3" height="1" fill="#f3ddd9"/>
<rect x="338.6" y="280.5" width="34.1" height="1" fill="#f1c8b9"/>
<rect x="372.7" y="280.5" width="32.3" height="1" fill="#f3dbd5"/>
<rect x="405" y="280.5" width="31.5" height="1" fill="#908cd1"/>
<rect x="436.5" y="280.5" width="14.3" height="1" fill="#9f9bd8"/>
<rect x="265.5" y="281.5" width="22.5" height="1" fill="#f2e1de"/>
<rect x="288" y="281.5" width="23.3" height="1" fill="#f2edf3"/>
<rect x="311.3" y="281.5" width="27.3" height="1" fill="#f2e5e5"/>
<rect x="338.6" y="281.5" width="34.1" height="1" fill="#f1c5b6"/>
<rect x="372.7" y="281.5" width="32.3" height="1" fill="#f2e7e8"/>
<rect x="405" y="281.5" width="31.5" height="1" fill="#8682cb"/>
<rect x="436.5" y="281.5" width="14.3" height="1" fill="#a09cd9"/>
<rect x="265.5" y="282.5" width="22.5" height="1" fill="#dfdcf0"/>
<rect x="288" y="282.5" width="23.3" height="1" fill="#eae6f2"/>
<rect x="311.3" y="282.5" width="27.3" height="1" fill="#f3d9d1"/>
<rect x="338.6" y="282.5" width="34.1" height="1" fill="#edad95"/>
<rect x="372.7" y="282.5" width="32.3" height="1" fill="#f3d8cf"/>
<rect x="405" y="282.5" width="31.5" height="1" fill="#8d89cf"/>
<rect x="436.5" y="282.5" width="14.3" height="1" fill="#a5a1db"/>
<rect x="265.5" y="283.5" width="22.5" height="1" fill="#d3d0ed"/>
<rect x="288" y="283.5" width="23.3" height="1" fill="#f2e7e9"/>
<rect x="311.3" y="283.5" width="27.3" height="1" fill="#f3d6cc"/>
<rect x="338.6" y="283.5" width="34.1" height="1" fill="#eeb5a0"/>
<rect x="372.7" y="283.5" width="32.3" height="1" fill="#f3ddd8"/>
<rect x="405" y="283.5" width="31.5" height="1" fill="#9d9ad7"/>
<rect x="436.5" y="283.5" width="14.3" height="1" fill="#b7b4e3"/>
<rect x="265.5" y="284.5" width="22.5" height="1" fill="#f2eaed"/>
<rect x="288" y="284.5" width="23.3" height="1" fill="#ece9f3"/>
<rect x="311.3" y="284.5" width="27.3" height="1" fill="#f3e0dc"/>
<rect x="338.6" y="284.5" width="34.1" height="1" fill="#f1c7b7"/>
<rect x="372.7" y="284.5" width="32.3" height="1" fill="#f3dcd6"/>
<rect x="405" y="284.5" width="31.5" height="1" fill="#8d89cf"/>
<rect x="436.5" y="284.5" width="14.3" height="1" fill="#9995d5"/>
<rect x="265.5" y="285.5" width="22.5" height="1" fill="#d1cdec"/>
<rect x="288" y="285.5" width="23.3" height="1" fill="#f2e9eb"/>
<rect x="311.3" y="285.5" width="27.3" height="1" fill="#f3d2c6"/>
<rect x="338.6" y="285.5" width="34.1" height="1" fill="#eca68d"/>
<rect x="372.7" y="285.5" width="32.3" height="1" fill="#f3d9d1"/>
<rect x="405" y="285.5" width="31.5" height="1" fill="#8c88cf"/>
<rect x="436.5" y="285.5" width="14.3" height="1" fill="#b1ade0"/>
<rect x="265.5" y="286.5" width="22.5" height="1" fill="#e7e3f1"/>
<rect x="288" y="286.5" width="23.3" height="1" fill="#dedaef"/>
<rect x="311.3" y="286.5" width="27.3" height="1" fill="#f3d9d2"/>
<rect x="338.6" y="286.5" width="34.1" height="1" fill="#eeb09a"/>
<rect x="372.7" y="286.5" width="32.3" height="1" fill="#f3d6cd"/>
<rect x="405" y="286.5" width="31.5" height="1" fill="#a09cd8"/>
<rect x="436.5" y="286.5" width="14.3" height="1" fill="#bbb7e5"/>
<rect x="265.5" y="287.5" width="22.5" height="1" fill="#eae7f2"/>
<rect x="288" y="287.5" width="23.3" height="1" fill="#f2ecf1"/>
<rect x="311.3" y="287.5" width="27.3" height="1" fill="#f3dad4"/>
<rect x="338.6" y="287.5" width="34.1" height="1" fill="#eeb19b"/>
<rect x="372.7" y="287.5" width="32.3" height="1" fill="#f3d1c5"/>
<rect x="405" y="287.5" width="31.5" height="1" fill="#8c88cf"/>
<rect x="436.5" y="287.5" width="14.3" height="1" fill="#aeaadf"/>
<rect x="265.5" y="288.5" width="22.5" height="1" fill="#e9e5f2"/>
<rect x="288" y="288.5" width="23.3" height="1" fill="#f2eaed"/>
<rect x="311.3" y="288.5" width="27.3" height="1" fill="#f3d8d0"/>
<rect x="338.6" y="288.5" width="34.1" height="1" fill="#eaa188"/>
<rect x="372.7" y="288.5" width="32.3" height="1" fill="#f3d6cc"/>
<rect x="405" y="288.5" width="31.5" height="1" fill="#8985cd"/>
<rect x="436.5" y="288.5" width="14.3" height="1" fill="#a8a4dc"/>
<rect x="265.5" y="289.5" width="22.5" height="1" fill="#eae6f2"/>
<rect x="288" y="289.5" width="23.3" height="1" fill="#e9e5f2"/>
<rect x="311.3" y="289.5" width="27.3" height="1" fill="#f2e8ea"/>
<rect x="338.6" y="289.5" width="34.1" height="1" fill="#f3d1c4"/>
<rect x="372.7" y="289.5" width="32.3" height="1" fill="#f2e3e2"/>
<rect x="405" y="289.5" width="31.5" height="1" fill="#7571c2"/>
<rect x="436.5" y="289.5" width="14.3" height="1" fill="#8985cd"/>
<rect x="265.5" y="290.5" width="22.5" height="1" fill="#f2e3e2"/>
<rect x="288" y="290.5" width="23.3" height="1" fill="#f2e2e0"/>
<rect x="311.3" y="290.5" width="27.3" height="1" fill="#f3cfc3"/>
<rect x="338.6" y="290.5" width="34.1" height="1" fill="#edab93"/>
<rect x="372.7" y="290.5" width="32.3" height="1" fill="#f3d0c3"/>
<rect x="405" y="290.5" width="31.5" height="1" fill="#8480cb"/>
<rect x="436.5" y="290.5" width="14.3" height="1" fill="#908cd1"/>
<rect x="265.5" y="291.5" width="22.5" height="1" fill="#f2ecf1"/>
<rect x="288" y="291.5" width="23.3" height="1" fill="#f2edf2"/>
<rect x="311.3" y="291.5" width="27.3" height="1" fill="#f3d5cb"/>
<rect x="338.6" y="291.5" width="34.1" height="1" fill="#efb8a4"/>
<rect x="372.7" y="291.5" width="32.3" height="1" fill="#f3dbd5"/>
<rect x="405" y="291.5" width="31.5" height="1" fill="#7672c3"/>
<rect x="436.5" y="291.5" width="14.3" height="1" fill="#928ed2"/>
<rect x="265.5" y="292.5" width="22.5" height="1" fill="#d5d2ed"/>
<rect x="288" y="292.5" width="23.3" height="1" fill="#f2ecf1"/>
<rect x="311.3" y="292.5" width="27.3" height="1" fill="#f3d9d2"/>
<rect x="338.6" y="292.5" width="34.1" height="1" fill="#f0beac"/>
<rect x="372.7" y="292.5" width="32.3" height="1" fill="#f3dad3"/>
<rect x="405" y="292.5" width="31.5" height="1" fill="#8581cb"/>
<rect x="436.5" y="292.5" width="14.3" height="1" fill="#a4a1db"/>
<rect x="265.5" y="293.5" width="22.5" height="1" fill="#f2e3e1"/>
<rect x="288" y="293.5" width="23.3" height="1" fill="#e8e5f2"/>
<rect x="311.3" y="293.5" width="27.3" height="1" fill="#f3d0c4"/>
<rect x="338.6" y="293.5" width="34.1" height="1" fill="#eaa289"/>
<rect x="372.7" y="293.5" width="32.3" height="1" fill="#f3d2c5"/>
<rect x="405" y="293.5" width="31.5" height="1" fill="#9894d5"/>
<rect x="436.5" y="293.5" width="14.3" height="1" fill="#b2afe1"/>
<rect x="265.5" y="294.5" width="22.5" height="1" fill="#f2ecf0"/>
<rect x="288" y="294.5" width="23.3" height="1" fill="#d6d3ed"/>
<rect x="311.3" y="294.5" width="27.3" height="1" fill="#f2e4e3"/>
<rect x="338.6" y="294.5" width="34.1" height="1" fill="#f2cec0"/>
<rect x="372.7" y="294.5" width="32.3" height="1" fill="#f2e4e4"/>
<rect x="405" y="294.5" width="31.5" height="1" fill="#938fd2"/>
<rect x="436.5" y="294.5" width="14.3" height="1" fill="#a09dd9"/>
<rect x="265.5" y="295.5" width="22.5" height="1" fill="#f2e3e3"/>
<rect x="288" y="295.5" width="23.3" height="1" fill="#f3dfdb"/>
<rect x="311.3" y="295.5" width="27.3" height="1" fill="#f3e0dd"/>
<rect x="338.6" y="295.5" width="34.1" height="1" fill="#eeb29d"/>
<rect x="372.7" y="295.5" width="32.3" height="1" fill="#f3d7cf"/>
<rect x="405" y="295.5" width="31.5" height="1" fill="#9692d4"/>
<rect x="436.5" y="295.5" width="14.3" height="1" fill="#b2afe1"/>
<rect x="265.5" y="296.5" width="22.5" height="1" fill="#8884cd"/>
<rect x="288" y="296.5" width="23.3" height="1" fill="#c1bee8"/>
<rect x="311.3" y="296.5" width="27.3" height="1" fill="#f2e4e3"/>
<rect x="338.6" y="296.5" width="34.1" height="1" fill="#f3d7ce"/>
<rect x="372.7" y="296.5" width="32.3" height="1" fill="#eeb19a"/>
<rect x="405" y="296.5" width="31.5" height="1" fill="#a5a1db"/>
<rect x="436.5" y="296.5" width="14.3" height="1" fill="#c3c0e8"/>
<rect x="265.5" y="297.5" width="22.5" height="1" fill="#9490d3"/>
<rect x="288" y="297.5" width="23.3" height="1" fill="#bfbce7"/>
<rect x="311.3" y="297.5" width="27.3" height="1" fill="#f3dcd6"/>
<rect x="338.6" y="297.5" width="34.1" height="1" fill="#f2e2e1"/>
<rect x="372.7" y="297.5" width="32.3" height="1" fill="#f1c8b9"/>
<rect x="405" y="297.5" width="31.5" height="1" fill="#c7c3ea"/>
<rect x="436.5" y="297.5" width="14.3" height="1" fill="#cdcaeb"/>
<rect x="265.5" y="298.5" width="22.5" height="1" fill="#7c78c6"/>
<rect x="288" y="298.5" width="23.3" height="1" fill="#b5b2e2"/>
<rect x="311.3" y="298.5" width="27.3" height="1" fill="#f3dad3"/>
<rect x="338.6" y="298.5" width="34.1" height="1" fill="#f2e2e1"/>
<rect x="372.7" y="298.5" width="32.3" height="1" fill="#f0bead"/>
<rect x="405" y="298.5" width="31.5" height="1" fill="#a39fda"/>
<rect x="436.5" y="298.5" width="14.3" height="1" fill="#b8b4e3"/>
<rect x="265.5" y="299.5" width="22.5" height="1" fill="#9f9bd8"/>
<rect x="288" y="299.5" width="23.3" height="1" fill="#d4d0ed"/>
<rect x="311.3" y="299.5" width="27.3" height="1" fill="#f3d6cd"/>
<rect x="338.6" y="299.5" width="34.1" height="1" fill="#f3dbd5"/>
<rect x="372.7" y="299.5" width="32.3" height="1" fill="#f0c0ae"/>
<rect x="405" y="299.5" width="31.5" height="1" fill="#b0ade0"/>
<rect x="436.5" y="299.5" width="14.3" height="1" fill="#dad7ee"/>
<rect x="265.5" y="300.5" width="22.5" height="1" fill="#6662ba"/>
<rect x="288" y="300.5" width="23.3" height="1" fill="#9a96d6"/>
<rect x="311.3" y="300.5" width="27.3" height="1" fill="#f2e9ec"/>
<rect x="338.6" y="300.5" width="34.1" height="1" fill="#f2ebef"/>
<rect x="372.7" y="300.5" width="32.3" height="1" fill="#f3d8d0"/>
<rect x="405" y="300.5" width="31.5" height="1" fill="#8985cd"/>
<rect x="436.5" y="300.5" width="14.3" height="1" fill="#a19ed9"/>
<rect x="265.5" y="301.5" width="22.5" height="1" fill="#a19dd9"/>
<rect x="288" y="301.5" width="23.3" height="1" fill="#c6c3e9"/>
<rect x="311.3" y="301.5" width="27.3" height="1" fill="#f3dbd4"/>
<rect x="338.6" y="301.5" width="34.1" height="1" fill="#f3dfdb"/>
<rect x="372.7" y="301.5" width="32.3" height="1" fill="#f0bfad"/>
<rect x="405" y="301.5" width="31.5" height="1" fill="#aaa7dd"/>
<rect x="436.5" y="301.5" width="14.3" height="1" fill="#cfccec"/>
<rect x="265.5" y="302.5" width="22.5" height="1" fill="#6a66bc"/>
<rect x="288" y="302.5" width="23.3" height="1" fill="#aba8de"/>
<rect x="311.3" y="302.5" width="27.3" height="1" fill="#f3dfdc"/>
<rect x="338.6" y="302.5" width="34.1" height="1" fill="#f2e1de"/>
<rect x="372.7" y="302.5" width="32.3" height="1" fill="#f1c6b6"/>
<rect x="405" y="302.5" width="31.5" height="1" fill="#8b87ce"/>
<rect x="436.5" y="302.5" width="14.3" height="1" fill="#b3b0e1"/>
<rect x="265.5" y="303.5" width="22.5" height="1" fill="#a7a4dc"/>
<rect x="288" y="303.5" width="23.3" height="1" fill="#b9b6e4"/>
<rect x="311.3" y="303.5" width="27.3" height="1" fill="#f3dad2"/>
<rect x="338.6" y="303.5" width="34.1" height="1" fill="#f2e3e2"/>
<rect x="372.7" y="303.5" width="32.3" height="1" fill="#f3d3c7"/>
<rect x="405" y="303.5" width="31.5" height="1" fill="#b0ace0"/>
<rect x="436.5" y="303.5" width="14.3" height="1" fill="#cecaeb"/>
<rect x="265.5" y="304.5" width="22.5" height="1" fill="#837fca"/>
<rect x="288" y="304.5" width="23.3" height="1" fill="#a5a1db"/>
<rect x="311.3" y="304.5" width="27.3" height="1" fill="#f0ecf4"/>
<rect x="338.6" y="304.5" width="34.1" height="1" fill="#f2e5e5"/>
<rect x="372.7" y="304.5" width="32.3" height="1" fill="#f2cdc0"/>
<rect x="405" y="304.5" width="31.5" height="1" fill="#8b87ce"/>
<rect x="436.5" y="304.5" width="14.3" height="1" fill="#afabdf"/>
<rect x="265.5" y="305.5" width="22.5" height="1" fill="#8a86ce"/>
<rect x="288" y="305.5" width="23.3" height="1" fill="#a9a6dd"/>
<rect x="311.3" y="305.5" width="27.3" height="1" fill="#f2e4e3"/>
<rect x="338.6" y="305.5" width="34.1" height="1" fill="#f2e9ec"/>
<rect x="372.7" y="305.5" width="32.3" height="1" fill="#f1c8ba"/>
<rect x="405" y="305.5" width="31.5" height="1" fill="#9692d4"/>
<rect x="436.5" y="305.5" width="14.3" height="1" fill="#b2afe1"/>
<rect x="265.5" y="306.5" width="22.5" height="1" fill="#9c98d7"/>
<rect x="288" y="306.5" width="23.3" height="1" fill="#bab7e5"/>
<rect x="311.3" y="306.5" width="27.3" height="1" fill="#f3d7cf"/>
<rect x="338.6" y="306.5" width="34.1" height="1" fill="#f3d8d0"/>
<rect x="372.7" y="306.5" width="32.3" height="1" fill="#efb7a3"/>
<rect x="405" y="306.5" width="31.5" height="1" fill="#aaa7dd"/>
<rect x="436.5" y="306.5" width="14.3" height="1" fill="#d3d0ed"/>
<rect x="265.5" y="307.5" width="22.5" height="1" fill="#9995d5"/>
<rect x="288" y="307.5" width="23.3" height="1" fill="#bab7e5"/>
<rect x="311.3" y="307.5" width="27.3" height="1" fill="#f3d6cc"/>
<rect x="338.6" y="307.5" width="34.1" height="1" fill="#f2e3e2"/>
<rect x="372.7" y="307.5" width="32.3" height="1" fill="#f0bfad"/>
<rect x="405" y="307.5" width="31.5" height="1" fill="#a8a4dc"/>
<rect x="436.5" y="307.5" width="14.3" height="1" fill="#bdbae6"/>
<rect x="265.5" y="308.5" width="22.5" height="1" fill="#9c98d7"/>
<rect x="288" y="308.5" width="23.3" height="1" fill="#bcb8e5"/>
<rect x="311.3" y="308.5" width="27.3" height="1" fill="#f2e3e2"/>
<rect x="338.6" y="308.5" width="34.1" height="1" fill="#f2eaee"/>
<rect x="372.7" y="308.5" width="32.3" height="1" fill="#f3d5cc"/>
<rect x="405" y="308.5" width="31.5" height="1" fill="#aca8de"/>
<rect x="436.5" y="308.5" width="14.3" height="1" fill="#aca8de"/>
<rect x="265.5" y="309.5" width="22.5" height="1" fill="#827ec9"/>
<rect x="288" y="309.5" width="23.3" height="1" fill="#b5b1e2"/>
<rect x="311.3" y="309.5" width="27.3" height="1" fill="#f2e1df"/>
<rect x="338.6" y="309.5" width="34.1" height="1" fill="#eeeaf3"/>
<rect x="372.7" y="309.5" width="32.3" height="1" fill="#f3dfdc"/>
<rect x="405" y="309.5" width="31.5" height="1" fill="#a09dd9"/>
<rect x="436.5" y="309.5" width="14.3" height="1" fill="#b3afe1"/>
<rect x="265.5" y="310.5" width="22.5" height="1" fill="#a39fda"/>
<rect x="288" y="310.5" width="23.3" height="1" fill="#c0bde7"/>
<rect x="311.3" y="310.5" width="27.3" height="1" fill="#f3d8d1"/>
<rect x="338.6" y="310.5" width="34.1" height="1" fill="#f3dfdc"/>
<rect x="372.7" y="310.5" width="32.3" height="1" fill="#efbaa7"/>
<rect x="405" y="310.5" width="31.5" height="1" fill="#a5a1db"/>
<rect x="436.5" y="310.5" width="14.3" height="1" fill="#c7c4ea"/>
<rect x="265.5" y="311.5" width="22.5" height="1" fill="#9d99d7"/>
<rect x="288" y="311.5" width="23.3" height="1" fill="#bcb8e5"/>
<rect x="311.3" y="311.5" width="27.3" height="1" fill="#f2e2e0"/>
<rect x="338.6" y="311.5" width="34.1" height="1" fill="#f2eaee"/>
<rect x="372.7" y="311.5" width="32.3" height="1" fill="#f3d4c9"/>
<rect x="405" y="311.5" width="31.5" height="1" fill="#9d9ad7"/>
<rect x="436.5" y="311.5" width="14.3" height="1" fill="#c1bee8"/>
<rect x="265.5" y="312.5" width="22.5" height="1" fill="#8f8bd0"/>
<rect x="288" y="312.5" width="23.3" height="1" fill="#a7a3dc"/>
<rect x="311.3" y="312.5" width="27.3" height="1" fill="#f2edf2"/>
<rect x="338.6" y="312.5" width="34.1" height="1" fill="#f2e9eb"/>
<rect x="372.7" y="312.5" width="32.3" height="1" fill="#f3d8d0"/>
<rect x="405" y="312.5" width="31.5" height="1" fill="#9b97d6"/>
<rect x="436.5" y="312.5" width="14.3" height="1" fill="#b8b5e3"/>
<rect x="265.5" y="313.5" width="22.5" height="1" fill="#adaadf"/>
<rect x="288" y="313.5" width="23.3" height="1" fill="#c1bee8"/>
<rect x="311.3" y="313.5" width="27.3" height="1" fill="#f3dcd6"/>
<rect x="338.6" y="313.5" width="34.1" height="1" fill="#f3ddd9"/>
<rect x="372.7" y="313.5" width="32.3" height="1" fill="#efbba8"/>
<rect x="405" y="313.5" width="31.5" height="1" fill="#b9b6e4"/>
<rect x="436.5" y="313.5" width="14.3" height="1" fill="#cecbeb"/>
<rect x="265.5" y="314.5" width="22.5" height="1" fill="#8985cd"/>
<rect x="288" y="314.5" width="23.3" height="1" fill="#aaa7dd"/>
<rect x="311.3" y="314.5" width="27.3" height="1" fill="#f2e6e6"/>
<rect x="338.6" y="314.5" width="34.1" height="1" fill="#f2ecf1"/>
<rect x="372.7" y="314.5" width="32.3" height="1" fill="#f2c9ba"/>
<rect x="405" y="314.5" width="31.5" height="1" fill="#9996d6"/>
<rect x="436.5" y="314.5" width="14.3" height="1" fill="#b0ace0"/>
<rect x="265.5" y="315.5" width="22.5" height="1" fill="#a9a6dd"/>
<rect x="288" y="315.5" width="23.3" height="1" fill="#c4c1e9"/>
<rect x="311.3" y="315.5" width="27.3" height="1" fill="#f3d9d2"/>
<rect x="338.6" y="315.5" width="34.1" height="1" fill="#f3dcd6"/>
<rect x="372.7" y="315.5" width="32.3" height="1" fill="#eeb49f"/>
<rect x="405" y="315.5" width="31.5" height="1" fill="#b1aee1"/>
<rect x="436.5" y="315.5" width="14.3" height="1" fill="#dedaef"/>
<rect x="265.5" y="316.5" width="22.5" height="1" fill="#8f8bd0"/>
<rect x="288" y="316.5" width="23.3" height="1" fill="#a7a3dc"/>
<rect x="311.3" y="316.5" width="27.3" height="1" fill="#f2e9eb"/>
<rect x="338.6" y="316.5" width="34.1" height="1" fill="#eeeaf3"/>
<rect x="372.7" y="316.5" width="32.3" height="1" fill="#f3d4c9"/>
<rect x="405" y="316.5" width="31.5" height="1" fill="#7c78c6"/>
<rect x="436.5" y="316.5" width="14.3" height="1" fill="#b7b4e3"/>
<rect x="265.5" y="317.5" width="22.5" height="1" fill="#b1ade0"/>
<rect x="288" y="317.5" width="23.3" height="1" fill="#c1bee8"/>
<rect x="311.3" y="317.5" width="27.3" height="1" fill="#f2e3e1"/>
<rect x="338.6" y="317.5" width="34.1" height="1" fill="#f3ddd7"/>
<rect x="372.7" y="317.5" width="32.3" height="1" fill="#f2ccbe"/>
<rect x="405" y="317.5" width="31.5" height="1" fill="#aba7dd"/>
<rect x="436.5" y="317.5" width="14.3" height="1" fill="#cbc8eb"/>
<rect x="265.5" y="318.5" width="22.5" height="1" fill="#928ed2"/>
<rect x="288" y="318.5" width="23.3" height="1" fill="#aca9de"/>
<rect x="311.3" y="318.5" width="27.3" height="1" fill="#f2e9ec"/>
<rect x="338.6" y="318.5" width="34.1" height="1" fill="#f2e2e0"/>
<rect x="372.7" y="318.5" width="32.3" height="1" fill="#f3dcd6"/>
<rect x="405" y="318.5" width="31.5" height="1" fill="#9894d5"/>
<rect x="436.5" y="318.5" width="14.3" height="1" fill="#bdbae6"/>
<rect x="265.5" y="319.5" width="22.5" height="1" fill="#9d99d7"/>
<rect x="288" y="319.5" width="23.3" height="1" fill="#aaa6dd"/>
<rect x="311.3" y="319.5" width="27.3" height="1" fill="#f2e9ec"/>
<rect x="338.6" y="319.5" width="34.1" height="1" fill="#f3ddd9"/>
<rect x="372.7" y="319.5" width="32.3" height="1" fill="#f2cdbf"/>
<rect x="405" y="319.5" width="31.5" height="1" fill="#9996d6"/>
<rect x="436.5" y="319.5" width="14.3" height="1" fill="#bbb8e5"/>
<rect x="265.5" y="320.5" width="22.5" height="1" fill="#9793d5"/>
<rect x="288" y="320.5" width="23.3" height="1" fill="#aeabdf"/>
<rect x="311.3" y="320.5" width="27.3" height="1" fill="#f3dfdb"/>
<rect x="338.6" y="320.5" width="34.1" height="1" fill="#f2ecf1"/>
<rect x="372.7" y="320.5" width="32.3" height="1" fill="#f3d3c8"/>
<rect x="405" y="320.5" width="31.5" height="1" fill="#9a96d6"/>
<rect x="436.5" y="320.5" width="14.3" height="1" fill="#bcb9e5"/>
<rect x="265.5" y="321.5" width="22.5" height="1" fill="#a6a3db"/>
<rect x="288" y="321.5" width="23.3" height="1" fill="#bdbae6"/>
<rect x="311.3" y="321.5" width="27.3" height="1" fill="#f2e4e4"/>
<rect x="338.6" y="321.5" width="34.1" height="1" fill="#f2e2e0"/>
<rect x="372.7" y="321.5" width="32.3" height="1" fill="#f2cdc0"/>
<rect x="405" y="321.5" width="31.5" height="1" fill="#aca8de"/>
<rect x="436.5" y="321.5" width="14.3" height="1" fill="#c4c1e9"/>
<rect x="265.5" y="322.5" width="22.5" height="1" fill="#9a96d6"/>
<rect x="288" y="322.5" width="23.3" height="1" fill="#bab6e4"/>
<rect x="311.3" y="322.5" width="27.3" height="1" fill="#f2eaed"/>
<rect x="338.6" y="322.5" width="34.1" height="1" fill="#f2e3e1"/>
<rect x="372.7" y="322.5" width="32.3" height="1" fill="#f2cabb"/>
<rect x="405" y="322.5" width="31.5" height="1" fill="#8a86cd"/>
<rect x="436.5" y="322.5" width="14.3" height="1" fill="#b4b1e2"/>
<rect x="265.5" y="323.5" width="22.5" height="1" fill="#a29eda"/>
<rect x="288" y="323.5" width="23.3" height="1" fill="#b9b6e4"/>
<rect x="311.3" y="323.5" width="27.3" height="1" fill="#f2e5e6"/>
<rect x="338.6" y="323.5" width="34.1" height="1" fill="#f2e8ea"/>
<rect x="372.7" y="323.5" width="32.3" height="1" fill="#f1c3b2"/>
<rect x="405" y="323.5" width="31.5" height="1" fill="#aca9de"/>
<rect x="436.5" y="323.5" width="14.3" height="1" fill="#b4b0e2"/>
<rect x="265.5" y="324.5" width="22.5" height="1" fill="#9d99d7"/>
<rect x="288" y="324.5" width="23.3" height="1" fill="#a19dd9"/>
<rect x="311.3" y="324.5" width="27.3" height="1" fill="#f1edf4"/>
<rect x="338.6" y="324.5" width="34.1" height="1" fill="#f2ebef"/>
<rect x="372.7" y="324.5" width="32.3" height="1" fill="#f3d7ce"/>
<rect x="405" y="324.5" width="31.5" height="1" fill="#8b87ce"/>
<rect x="436.5" y="324.5" width="14.3" height="1" fill="#b7b4e3"/>
<rect x="265.5" y="325.5" width="22.5" height="1" fill="#aca8de"/>
<rect x="288" y="325.5" width="23.3" height="1" fill="#b5b2e2"/>
<rect x="311.3" y="325.5" width="27.3" height="1" fill="#c8c5ea"/>
<rect x="338.6" y="325.5" width="34.1" height="1" fill="#d5d1ed"/>
<rect x="372.7" y="325.5" width="32.3" height="1" fill="#ccc9eb"/>
<rect x="405" y="325.5" width="31.5" height="1" fill="#e3896f"/>
<rect x="436.5" y="325.5" width="14.3" height="1" fill="#edac94"/>
<rect x="265.5" y="326.5" width="22.5" height="1" fill="#9793d4"/>
<rect x="288" y="326.5" width="23.3" height="1" fill="#aba8de"/>
<rect x="311.3" y="326.5" width="27.3" height="1" fill="#b7b4e3"/>
<rect x="338.6" y="326.5" width="34.1" height="1" fill="#b6b3e3"/>
<rect x="372.7" y="326.5" width="32.3" height="1" fill="#afabdf"/>
<rect x="405" y="326.5" width="31.5" height="1" fill="#e1856b"/>
<rect x="436.5" y="326.5" width="14.3" height="1" fill="#edac95"/>
<rect x="265.5" y="327.5" width="22.5" height="1" fill="#a4a0da"/>
<rect x="288" y="327.5" width="23.3" height="1" fill="#c1bee7"/>
<rect x="311.3" y="327.5" width="27.3" height="1" fill="#d2ceec"/>
<rect x="338.6" y="327.5" width="34.1" height="1" fill="#c8c5ea"/>
<rect x="372.7" y="327.5" width="32.3" height="1" fill="#c9c6ea"/>
<rect x="405" y="327.5" width="31.5" height="1" fill="#db7459"/>
<rect x="436.5" y="327.5" width="14.3" height="1" fill="#e59278"/>
<rect x="265.5" y="328.5" width="22.5" height="1" fill="#9c99d7"/>
<rect x="288" y="328.5" width="23.3" height="1" fill="#b8b4e3"/>
<rect x="311.3" y="328.5" width="27.3" height="1" fill="#d5d2ed"/>
<rect x="338.6" y="328.5" width="34.1" height="1" fill="#d1cdec"/>
<rect x="372.7" y="328.5" width="32.3" height="1" fill="#b5b2e2"/>
<rect x="405" y="328.5" width="31.5" height="1" fill="#dc765b"/>
<rect x="436.5" y="328.5" width="14.3" height="1" fill="#e48e74"/>
<rect x="265.5" y="329.5" width="22.5" height="1" fill="#a19dd9"/>
<rect x="288" y="329.5" width="23.3" height="1" fill="#c2bfe8"/>
<rect x="311.3" y="329.5" width="27.3" height="1" fill="#d2ceec"/>
<rect x="338.6" y="329.5" width="34.1" height="1" fill="#d4d0ed"/>
<rect x="372.7" y="329.5" width="32.3" height="1" fill="#c8c5ea"/>
<rect x="405" y="329.5" width="31.5" height="1" fill="#df7e63"/>
<rect x="436.5" y="329.5" width="14.3" height="1" fill="#e99d83"/>
<rect x="265.5" y="330.5" width="22.5" height="1" fill="#b7b4e3"/>
<rect x="288" y="330.5" width="23.3" height="1" fill="#d7d3ed"/>
<rect x="311.3" y="330.5" width="27.3" height="1" fill="#e5e2f1"/>
<rect x="338.6" y="330.5" width="34.1" height="1" fill="#ddd9ef"/>
<rect x="372.7" y="330.5" width="32.3" height="1" fill="#dedbef"/>
<rect x="405" y="330.5" width="31.5" height="1" fill="#df7e63"/>
<rect x="436.5" y="330.5" width="14.3" height="1" fill="#e7987e"/>
<rect x="265.5" y="331.5" width="22.5" height="1" fill="#aeabdf"/>
<rect x="288" y="331.5" width="23.3" height="1" fill="#ccc9eb"/>
<rect x="311.3" y="331.5" width="27.3" height="1" fill="#d0ccec"/>
<rect x="338.6" y="331.5" width="34.1" height="1" fill="#d8d4ee"/>
<rect x="372.7" y="331.5" width="32.3" height="1" fill="#d2ceec"/>
<rect x="405" y="331.5" width="31.5" height="1" fill="#e7977e"/>
<rect x="436.5" y="331.5" width="14.3" height="1" fill="#eaa087"/>
<rect x="265.5" y="332.5" width="22.5" height="1" fill="#adaadf"/>
<rect x="288" y="332.5" width="23.3" height="1" fill="#c1bee8"/>
<rect x="311.3" y="332.5" width="27.3" height="1" fill="#e0dcf0"/>
<rect x="338.6" y="332.5" width="34.1" height="1" fill="#d7d4ee"/>
<rect x="372.7" y="332.5" width="32.3" height="1" fill="#d6d3ed"/>
<rect x="405" y="332.5" width="31.5" height="1" fill="#e38a6f"/>
<rect x="436.5" y="332.5" width="14.3" height="1" fill="#eba389"/>
<rect x="265.5" y="333.5" width="22.5" height="1" fill="#aeaadf"/>
<rect x="288" y="333.5" width="23.3" height="1" fill="#c9c6ea"/>
<rect x="311.3" y="333.5" width="27.3" height="1" fill="#b6b2e2"/>
<rect x="338.6" y="333.5" width="34.1" height="1" fill="#bab7e5"/>
<rect x="372.7" y="333.5" width="32.3" height="1" fill="#c8c4ea"/>
<rect x="405" y="333.5" width="31.5" height="1" fill="#df7e63"/>
<rect x="436.5" y="333.5" width="14.3" height="1" fill="#eba48b"/>
<rect x="265.5" y="334.5" width="22.5" height="1" fill="#b5b2e2"/>
<rect x="288" y="334.5" width="23.3" height="1" fill="#cfccec"/>
<rect x="311.3" y="334.5" width="27.3" height="1" fill="#d8d5ee"/>
<rect x="338.6" y="334.5" width="34.1" height="1" fill="#d5d2ed"/>
<rect x="372.7" y="334.5" width="32.3" height="1" fill="#cbc8eb"/>
<rect x="405" y="334.5" width="31.5" height="1" fill="#e48d73"/>
<rect x="436.5" y="334.5" width="14.3" height="1" fill="#eca991"/>
<rect x="265.5" y="335.5" width="22.5" height="1" fill="#aca8de"/>
<rect x="288" y="335.5" width="23.3" height="1" fill="#b8b5e4"/>
<rect x="311.3" y="335.5" width="27.3" height="1" fill="#d0ccec"/>
<rect x="338.6" y="335.5" width="34.1" height="1" fill="#d5d2ed"/>
<rect x="372.7" y="335.5" width="32.3" height="1" fill="#c2bfe8"/>
<rect x="405" y="335.5" width="31.5" height="1" fill="#e58f75"/>
<rect x="436.5" y="335.5" width="14.3" height="1" fill="#ea9f86"/>
<rect x="265.5" y="336.5" width="22.5" height="1" fill="#8a86ce"/>
<rect x="288" y="336.5" width="23.3" height="1" fill="#cdc9eb"/>
<rect x="311.3" y="336.5" width="27.3" height="1" fill="#d8d4ee"/>
<rect x="338.6" y="336.5" width="34.1" height="1" fill="#c4c1e9"/>
<rect x="372.7" y="336.5" width="32.3" height="1" fill="#cfccec"/>
<rect x="405" y="336.5" width="31.5" height="1" fill="#d86e54"/>
<rect x="436.5" y="336.5" width="14.3" height="1" fill="#e2876d"/>
<rect x="265.5" y="337.5" width="22.5" height="1" fill="#a6a2db"/>
<rect x="288" y="337.5" width="23.3" height="1" fill="#bab7e5"/>
<rect x="311.3" y="337.5" width="27.3" height="1" fill="#d0cdec"/>
<rect x="338.6" y="337.5" width="34.1" height="1" fill="#c4c1e9"/>
<rect x="372.7" y="337.5" width="32.3" height="1" fill="#bcb9e5"/>
<rect x="405" y="337.5" width="31.5" height="1" fill="#e89a80"/>
<rect x="436.5" y="337.5" width="14.3" height="1" fill="#edab93"/>
<rect x="265.5" y="338.5" width="22.5" height="1" fill="#b3afe1"/>
<rect x="288" y="338.5" width="23.3" height="1" fill="#bcb9e5"/>
<rect x="311.3" y="338.5" width="27.3" height="1" fill="#cdcaeb"/>
<rect x="338.6" y="338.5" width="34.1" height="1" fill="#c4c1e9"/>
<rect x="372.7" y="338.5" width="32.3" height="1" fill="#d0cdec"/>
<rect x="405" y="338.5" width="31.5" height="1" fill="#e18469"/>
<rect x="436.5" y="338.5" width="14.3" height="1" fill="#e99d84"/>
<rect x="265.5" y="339.5" width="22.5" height="1" fill="#9c98d7"/>
<rect x="288" y="339.5" width="23.3" height="1" fill="#bfbce7"/>
<rect x="311.3" y="339.5" width="27.3" height="1" fill="#ccc9eb"/>
<rect x="338.6" y="339.5" width="34.1" height="1" fill="#c5c2e9"/>
<rect x="372.7" y="339.5" width="32.3" height="1" fill="#cbc8eb"/>
<rect x="405" y="339.5" width="31.5" height="1" fill="#dd775c"/>
<rect x="436.5" y="339.5" width="14.3" height="1" fill="#eaa087"/>
<rect x="265.5" y="340.5" width="22.5" height="1" fill="#a8a5dc"/>
<rect x="288" y="340.5" width="23.3" height="1" fill="#c0bde7"/>
<rect x="311.3" y="340.5" width="27.3" height="1" fill="#c7c4ea"/>
<rect x="338.6" y="340.5" width="34.1" height="1" fill="#cdcaeb"/>
<rect x="372.7" y="340.5" width="32.3" height="1" fill="#bfbce7"/>
<rect x="405" y="340.5" width="31.5" height="1" fill="#e2866b"/>
<rect x="436.5" y="340.5" width="14.3" height="1" fill="#ecaa92"/>
<rect x="265.5" y="341.5" width="22.5" height="1" fill="#8783cc"/>
<rect x="288" y="341.5" width="23.3" height="1" fill="#a09cd8"/>
<rect x="311.3" y="341.5" width="27.3" height="1" fill="#b6b2e2"/>
<rect x="338.6" y="341.5" width="34.1" height="1" fill="#ada9de"/>
<rect x="372.7" y="341.5" width="32.3" height="1" fill="#a4a1db"/>
<rect x="405" y="341.5" width="31.5" height="1" fill="#e18368"/>
<rect x="436.5" y="341.5" width="14.3" height="1" fill="#ea9f86"/>
<rect x="265.5" y="342.5" width="22.5" height="1" fill="#9a97d6"/>
<rect x="288" y="342.5" width="23.3" height="1" fill="#a8a4dc"/>
<rect x="311.3" y="342.5" width="27.3" height="1" fill="#d7d3ed"/>
<rect x="338.6" y="342.5" width="34.1" height="1" fill="#cbc8eb"/>
<rect x="372.7" y="342.5" width="32.3" height="1" fill="#c8c5ea"/>
<rect x="405" y="342.5" width="31.5" height="1" fill="#dc765c"/>
<rect x="436.5" y="342.5" width="14.3" height="1" fill="#e59177"/>
<rect x="265.5" y="343.5" width="22.5" height="1" fill="#8f8bd0"/>
<rect x="288" y="343.5" width="23.3" height="1" fill="#b9b6e4"/>
<rect x="311.3" y="343.5" width="27.3" height="1" fill="#b7b4e3"/>
<rect x="338.6" y="343.5" width="34.1" height="1" fill="#b6b2e2"/>
<rect x="372.7" y="343.5" width="32.3" height="1" fill="#bbb7e5"/>
<rect x="405" y="343.5" width="31.5" height="1" fill="#e48d73"/>
<rect x="436.5" y="343.5" width="14.3" height="1" fill="#edae97"/>
<rect x="265.5" y="344.5" width="22.5" height="1" fill="#938fd2"/>
<rect x="288" y="344.5" width="23.3" height="1" fill="#a7a3dc"/>
<rect x="311.3" y="344.5" width="27.3" height="1" fill="#bfbce7"/>
<rect x="338.6" y="344.5" width="34.1" height="1" fill="#bdbae6"/>
<rect x="372.7" y="344.5" width="32.3" height="1" fill="#c0bde7"/>
<rect x="405" y="344.5" width="31.5" height="1" fill="#e38a70"/>
<rect x="436.5" y="344.5" width="14.3" height="1" fill="#edab94"/>
<rect x="265.5" y="345.5" width="22.5" height="1" fill="#a19dd9"/>
<rect x="288" y="345.5" width="23.3" height="1" fill="#b6b3e3"/>
<rect x="311.3" y="345.5" width="27.3" height="1" fill="#c5c2e9"/>
<rect x="338.6" y="345.5" width="34.1" height="1" fill="#cecbeb"/>
<rect x="372.7" y="345.5" width="32.3" height="1" fill="#c4c1e9"/>
<rect x="405" y="345.5" width="31.5" height="1" fill="#eca78f"/>
<rect x="436.5" y="345.5" width="14.3" height="1" fill="#edaf99"/>
<rect x="265.5" y="346.5" width="22.5" height="1" fill="#a29fda"/>
<rect x="288" y="346.5" width="23.3" height="1" fill="#bcb9e5"/>
<rect x="311.3" y="346.5" width="27.3" height="1" fill="#c3c0e9"/>
<rect x="338.6" y="346.5" width="34.1" height="1" fill="#c6c3ea"/>
<rect x="372.7" y="346.5" width="32.3" height="1" fill="#bcb9e5"/>
<rect x="405" y="346.5" width="31.5" height="1" fill="#db7359"/>
<rect x="436.5" y="346.5" width="14.3" height="1" fill="#eaa086"/>
<rect x="265.5" y="347.5" width="22.5" height="1" fill="#aaa6dd"/>
<rect x="288" y="347.5" width="23.3" height="1" fill="#d9d5ee"/>
<rect x="311.3" y="347.5" width="27.3" height="1" fill="#d3d0ed"/>
<rect x="338.6" y="347.5" width="34.1" height="1" fill="#dbd8ef"/>
<rect x="372.7" y="347.5" width="32.3" height="1" fill="#ccc9eb"/>
<rect x="405" y="347.5" width="31.5" height="1" fill="#df7e63"/>
<rect x="436.5" y="347.5" width="14.3" height="1" fill="#ea9f86"/>
<rect x="265.5" y="348.5" width="22.5" height="1" fill="#9490d3"/>
<rect x="288" y="348.5" width="23.3" height="1" fill="#bbb7e5"/>
<rect x="311.3" y="348.5" width="27.3" height="1" fill="#c0bce7"/>
<rect x="338.6" y="348.5" width="34.1" height="1" fill="#b9b6e4"/>
<rect x="372.7" y="348.5" width="32.3" height="1" fill="#bfbce7"/>
<rect x="405" y="348.5" width="31.5" height="1" fill="#d97055"/>
<rect x="436.5" y="348.5" width="14.3" height="1" fill="#e6937a"/>
<rect x="265.5" y="349.5" width="22.5" height="1" fill="#b1aee0"/>
<rect x="288" y="349.5" width="23.3" height="1" fill="#ccc9eb"/>
<rect x="311.3" y="349.5" width="27.3" height="1" fill="#d0cdec"/>
<rect x="338.6" y="349.5" width="34.1" height="1" fill="#d9d5ee"/>
<rect x="372.7" y="349.5" width="32.3" height="1" fill="#e1ddf0"/>
<rect x="405" y="349.5" width="31.5" height="1" fill="#d4664c"/>
<rect x="436.5" y="349.5" width="14.3" height="1" fill="#e89a80"/>
<rect x="265.5" y="350.5" width="22.5" height="1" fill="#aca8de"/>
<rect x="288" y="350.5" width="23.3" height="1" fill="#d3d0ed"/>
<rect x="311.3" y="350.5" width="27.3" height="1" fill="#e3dff0"/>
<rect x="338.6" y="350.5" width="34.1" height="1" fill="#dfdbef"/>
<rect x="372.7" y="350.5" width="32.3" height="1" fill="#dad6ee"/>
<rect x="405" y="350.5" width="31.5" height="1" fill="#db755a"/>
<rect x="436.5" y="350.5" width="14.3" height="1" fill="#e2876d"/>
<rect x="265.5" y="351.5" width="22.5" height="1" fill="#a4a1db"/>
<rect x="288" y="351.5" width="23.3" height="1" fill="#b5b1e2"/>
<rect x="311.3" y="351.5" width="27.3" height="1" fill="#d8d4ee"/>
<rect x="338.6" y="351.5" width="34.1" height="1" fill="#c3c0e9"/>
<rect x="372.7" y="351.5" width="32.3" height="1" fill="#bfbce7"/>
<rect x="405" y="351.5" width="31.5" height="1" fill="#ce5a41"/>
<rect x="436.5" y="351.5" width="14.3" height="1" fill="#e38b71"/>
<rect x="265.5" y="352.5" width="22.5" height="1" fill="#908cd1"/>
<rect x="288" y="352.5" width="23.3" height="1" fill="#b4b0e2"/>
<rect x="311.3" y="352.5" width="27.3" height="1" fill="#bcb9e5"/>
<rect x="338.6" y="352.5" width="34.1" height="1" fill="#bdbae6"/>
<rect x="372.7" y="352.5" width="32.3" height="1" fill="#b6b3e3"/>
<rect x="405" y="352.5" width="31.5" height="1" fill="#e58f75"/>
<rect x="436.5" y="352.5" width="14.3" height="1" fill="#eeb5a0"/>
<rect x="265.5" y="353.5" width="22.5" height="1" fill="#9e9ad8"/>
<rect x="288" y="353.5" width="23.3" height="1" fill="#b3b0e1"/>
<rect x="311.3" y="353.5" width="27.3" height="1" fill="#c2bfe8"/>
<rect x="338.6" y="353.5" width="34.1" height="1" fill="#cbc8eb"/>
<rect x="372.7" y="353.5" width="32.3" height="1" fill="#c8c5ea"/>
<rect x="405" y="353.5" width="31.5" height="1" fill="#e38c71"/>
<rect x="436.5" y="353.5" width="14.3" height="1" fill="#eeb19a"/>
<rect x="265.5" y="354.5" width="22.5" height="1" fill="#ccc9eb"/>
<rect x="288" y="354.5" width="23.3" height="1" fill="#d3d0ed"/>
<rect x="311.3" y="354.5" width="27.3" height="1" fill="#e0ddf0"/>
<rect x="338.6" y="354.5" width="34.1" height="1" fill="#ede9f3"/>
<rect x="372.7" y="354.5" width="32.3" height="1" fill="#f2ebef"/>
<rect x="405" y="354.5" width="31.5" height="1" fill="#df7e63"/>
<rect x="436.5" y="354.5" width="14.3" height="1" fill="#eaa289"/>
<rect x="265.5" y="355.5" width="22.5" height="1" fill="#aaa6dd"/>
<rect x="288" y="355.5" width="23.3" height="1" fill="#c4c1e9"/>
<rect x="311.3" y="355.5" width="27.3" height="1" fill="#d3d0ed"/>
<rect x="338.6" y="355.5" width="34.1" height="1" fill="#bebbe6"/>
<rect x="372.7" y="355.5" width="32.3" height="1" fill="#ccc9eb"/>
<rect x="405" y="355.5" width="31.5" height="1" fill="#e38c71"/>
<rect x="436.5" y="355.5" width="14.3" height="1" fill="#eba38a"/>
<rect x="265.5" y="356.5" width="22.5" height="1" fill="#aba7dd"/>
<rect x="288" y="356.5" width="23.3" height="1" fill="#c7c4ea"/>
<rect x="311.3" y="356.5" width="27.3" height="1" fill="#d1ceec"/>
<rect x="338.6" y="356.5" width="34.1" height="1" fill="#d1ceec"/>
<rect x="372.7" y="356.5" width="32.3" height="1" fill="#cfccec"/>
<rect x="405" y="356.5" width="31.5" height="1" fill="#da7157"/>
<rect x="436.5" y="356.5" width="14.3" height="1" fill="#e89b82"/>
<rect x="265.5" y="357.5" width="22.5" height="1" fill="#8f8bd0"/>
<rect x="288" y="357.5" width="23.3" height="1" fill="#bbb8e5"/>
<rect x="311.3" y="357.5" width="27.3" height="1" fill="#c1bee8"/>
<rect x="338.6" y="357.5" width="34.1" height="1" fill="#c3c0e9"/>
<rect x="372.7" y="357.5" width="32.3" height="1" fill="#b5b1e2"/>
<rect x="405" y="357.5" width="31.5" height="1" fill="#dd785d"/>
<rect x="436.5" y="357.5" width="14.3" height="1" fill="#e89a81"/>
<rect x="265.5" y="358.5" width="22.5" height="1" fill="#aba8de"/>
<rect x="288" y="358.5" width="23.3" height="1" fill="#c4c1e9"/>
<rect x="311.3" y="358.5" width="27.3" height="1" fill="#cac7ea"/>
<rect x="338.6" y="358.5" width="34.1" height="1" fill="#c8c5ea"/>
<rect x="372.7" y="358.5" width="32.3" height="1" fill="#bdbae6"/>
<rect x="405" y="358.5" width="31.5" height="1" fill="#e18268"/>
<rect x="436.5" y="358.5" width="14.3" height="1" fill="#e99d84"/>
<rect x="265.5" y="359.5" width="22.5" height="1" fill="#b0ace0"/>
<rect x="288" y="359.5" width="23.3" height="1" fill="#c6c3e9"/>
<rect x="311.3" y="359.5" width="27.3" height="1" fill="#dbd8ef"/>
<rect x="338.6" y="359.5" width="34.1" height="1" fill="#dedaef"/>
<rect x="372.7" y="359.5" width="32.3" height="1" fill="#c7c4ea"/>
<rect x="405" y="359.5" width="31.5" height="1" fill="#e38c71"/>
<rect x="436.5" y="359.5" width="14.3" height="1" fill="#eca78e"/>
<rect x="265.5" y="360.5" width="22.5" height="0.7" fill="#afacdf"/>
<rect x="288" y="360.5" width="23.3" height="0.7" fill="#c5c2e9"/>
<rect x="311.3" y="360.5" width="27.3" height="0.7" fill="#dbd7ee"/>
<rect x="338.6" y="360.5" width="34.1" height="0.7" fill="#d4d0ed"/>
<rect x="372.7" y="360.5" width="32.3" height="0.7" fill="#c7c4ea"/>
<rect x="405" y="360.5" width="31.5" height="0.7" fill="#e59076"/>
<rect x="436.5" y="360.5" width="14.3" height="0.7" fill="#e89c82"/>
<rect x="280.5" y="185.5" width="1" height="175.7" fill="#fbf8fb" opacity="0.30"/>
<rect x="285.5" y="185.5" width="1" height="175.7" fill="#fbf8fb" opacity="0.50"/>
<rect x="286.5" y="185.5" width="1" height="175.7" fill="#fbf8fb" opacity="0.50"/>
<rect x="288.5" y="185.5" width="1" height="175.7" fill="#fbf8fb" opacity="0.19"/>
<rect x="295.5" y="185.5" width="1" height="175.7" fill="#fbf8fb" opacity="0.30"/>
<rect x="296.5" y="185.5" width="1" height="175.7" fill="#fbf8fb" opacity="0.30"/>
<rect x="299.5" y="185.5" width="1" height="175.7" fill="#fbf8fb" opacity="0.50"/>
<rect x="304.5" y="185.5" width="1" height="175.7" fill="#fbf8fb" opacity="0.45"/>
<rect x="305.5" y="185.5" width="1" height="175.7" fill="#fbf8fb" opacity="0.45"/>
<rect x="310.5" y="185.5" width="1" height="175.7" fill="#fbf8fb" opacity="0.14"/>
<rect x="315.5" y="185.5" width="1" height="175.7" fill="#fbf8fb" opacity="0.23"/>
<rect x="318.5" y="185.5" width="1" height="175.7" fill="#fbf8fb" opacity="0.17"/>
<rect x="323.5" y="185.5" width="1" height="175.7" fill="#fbf8fb" opacity="0.35"/>
<rect x="324.5" y="185.5" width="1" height="175.7" fill="#fbf8fb" opacity="0.35"/>
<rect x="329.5" y="185.5" width="1" height="175.7" fill="#fbf8fb" opacity="0.30"/>
<rect x="330.5" y="185.5" width="1" height="175.7" fill="#fbf8fb" opacity="0.30"/>
<rect x="344.5" y="185.5" width="1" height="175.7" fill="#fbf8fb" opacity="0.25"/>
<rect x="351.5" y="185.5" width="1" height="175.7" fill="#fbf8fb" opacity="0.12"/>
<rect x="352.5" y="185.5" width="1" height="175.7" fill="#fbf8fb" opacity="0.45"/>
<rect x="353.5" y="185.5" width="1" height="175.7" fill="#fbf8fb" opacity="0.45"/>
<rect x="354.5" y="185.5" width="1" height="175.7" fill="#fbf8fb" opacity="0.45"/>
<rect x="363.5" y="185.5" width="1" height="175.7" fill="#fbf8fb" opacity="0.30"/>
<rect x="375.5" y="185.5" width="1" height="175.7" fill="#fbf8fb" opacity="0.29"/>
<rect x="379.5" y="185.5" width="1" height="175.7" fill="#fbf8fb" opacity="0.30"/>
<rect x="380.5" y="185.5" width="1" height="175.7" fill="#fbf8fb" opacity="0.30"/>
<rect x="384.5" y="185.5" width="1" height="175.7" fill="#fbf8fb" opacity="0.15"/>
<rect x="391.5" y="185.5" width="1" height="175.7" fill="#fbf8fb" opacity="0.35"/>
<rect x="392.5" y="185.5" width="1" height="175.7" fill="#fbf8fb" opacity="0.35"/>
<rect x="393.5" y="185.5" width="1" height="175.7" fill="#fbf8fb" opacity="0.14"/>
<rect x="397.5" y="185.5" width="1" height="175.7" fill="#fbf8fb" opacity="0.25"/>
<rect x="404.5" y="185.5" width="1" height="175.7" fill="#fbf8fb" opacity="0.10"/>
<rect x="408.5" y="185.5" width="1" height="175.7" fill="#fbf8fb" opacity="0.23"/>
<rect x="411.5" y="185.5" width="1" height="175.7" fill="#fbf8fb" opacity="0.25"/>
<rect x="413.5" y="185.5" width="1" height="175.7" fill="#fbf8fb" opacity="0.21"/>
<rect x="419.5" y="185.5" width="1" height="175.7" fill="#fbf8fb" opacity="0.30"/>
<rect x="432.5" y="185.5" width="1" height="175.7" fill="#fbf8fb" opacity="0.23"/>
<rect x="435.5" y="185.5" width="1" height="175.7" fill="#fbf8fb" opacity="0.45"/>
<rect x="436.5" y="185.5" width="1" height="175.7" fill="#fbf8fb" opacity="0.45"/>
<rect x="441.5" y="185.5" width="1" height="175.7" fill="#fbf8fb" opacity="0.25"/>
<rect x="442.5" y="185.5" width="1" height="175.7" fill="#fbf8fb" opacity="0.22"/>
</g>
<line x1="311.3" y1="185.5" x2="311.3" y2="361.2" stroke="#8a7f96" stroke-width="0.6"/>
<line x1="338.6" y1="185.5" x2="338.6" y2="361.2" stroke="#8a7f96" stroke-width="0.6"/>
<line x1="372.7" y1="185.5" x2="372.7" y2="361.2" stroke="#8a7f96" stroke-width="0.6"/>
<line x1="405" y1="185.5" x2="405" y2="361.2" stroke="#8a7f96" stroke-width="0.6"/>
<rect x="265.5" y="180.8" width="44.8" height="3" fill="#a8cf90"/>
<text x="287.9" y="176.18" font-size="6.6" text-anchor="middle">1</text>
<rect x="312" y="180.8" width="24.7" height="3" fill="#4d6f90"/>
<text x="324.35" y="176.18" font-size="6.6" text-anchor="middle">2</text>
<rect x="339.4" y="180.8" width="32.3" height="3" fill="#23303a"/>
<text x="355.55" y="176.18" font-size="6.6" text-anchor="middle">3</text>
<rect x="373" y="180.8" width="30.2" height="3" fill="#8c6b74"/>
<text x="388.1" y="176.18" font-size="6.6" text-anchor="middle">4</text>
<rect x="404.9" y="180.8" width="45.5" height="3" fill="#dcbcc9"/>
<text x="427.65" y="176.18" font-size="6.6" text-anchor="middle">5</text>
<rect x="172.55" y="187.5" width="17.15" height="6.8" fill="#c2d0ed"/>
<text x="189" y="193.07" font-size="6.3" text-anchor="end" font-style="italic" font-weight="bold" fill="#3a5590" textLength="15.95" lengthAdjust="spacingAndGlyphs">CCR7</text>
<rect x="171.57" y="194.62" width="18.13" height="6.8" fill="#c2d0ed"/>
<text x="189" y="200.19" font-size="6.3" text-anchor="end" font-style="italic" font-weight="bold" fill="#3a5590" textLength="16.93" lengthAdjust="spacingAndGlyphs">IL2RA</text>
<rect x="173.52" y="201.74" width="16.18" height="6.8" fill="#c2d0ed"/>
<text x="189" y="207.31" font-size="6.3" text-anchor="end" font-style="italic" font-weight="bold" fill="#3a5590" textLength="14.98" lengthAdjust="spacingAndGlyphs">CD40</text>
<rect x="173.52" y="208.86" width="16.18" height="6.8" fill="#c2d0ed"/>
<text x="189" y="214.43" font-size="6.3" text-anchor="end" font-style="italic" font-weight="bold" fill="#3a5590" textLength="14.98" lengthAdjust="spacingAndGlyphs">CD22</text>
<rect x="173.52" y="215.98" width="16.18" height="6.8" fill="#c2d0ed"/>
<text x="189" y="221.55" font-size="6.3" text-anchor="end" font-style="italic" font-weight="bold" fill="#3a5590" textLength="14.98" lengthAdjust="spacingAndGlyphs">CD82</text>
<rect x="206.94" y="163.1" width="19.76" height="6.8" fill="#b1d0a7"/>
<text x="226" y="168.67" font-size="6.3" text-anchor="end" font-style="italic" font-weight="bold" fill="#3d5636" textLength="18.56" lengthAdjust="spacingAndGlyphs">CCL17</text>
<rect x="214.98" y="170.2" width="11.72" height="6.8" fill="#b1d0a7"/>
<text x="226" y="175.77" font-size="6.3" text-anchor="end" font-style="italic" font-weight="bold" fill="#3d5636" textLength="10.52" lengthAdjust="spacingAndGlyphs">LTA</text>
<rect x="204.33" y="177.3" width="22.37" height="6.8" fill="#b1d0a7"/>
<text x="226" y="182.87" font-size="6.3" text-anchor="end" font-style="italic" font-weight="bold" fill="#3d5636" textLength="21.17" lengthAdjust="spacingAndGlyphs">S100A4</text>
<rect x="214.55" y="184.4" width="12.15" height="6.8" fill="#b1d0a7"/>
<text x="226" y="189.97" font-size="6.3" text-anchor="end" font-style="italic" font-weight="bold" fill="#3d5636" textLength="10.95" lengthAdjust="spacingAndGlyphs">LTB</text>
<rect x="203.03" y="191.5" width="23.67" height="6.8" fill="#b1d0a7"/>
<text x="226" y="197.07" font-size="6.3" text-anchor="end" font-style="italic" font-weight="bold" fill="#3d5636" textLength="22.47" lengthAdjust="spacingAndGlyphs">CXCL10</text>
<rect x="206.94" y="198.6" width="19.76" height="6.8" fill="#b1d0a7"/>
<text x="226" y="204.17" font-size="6.3" text-anchor="end" font-style="italic" font-weight="bold" fill="#3d5636" textLength="18.56" lengthAdjust="spacingAndGlyphs">CCL22</text>
<rect x="209.98" y="205.7" width="16.72" height="6.8" fill="#b1d0a7"/>
<text x="226" y="211.27" font-size="6.3" text-anchor="end" font-style="italic" font-weight="bold" fill="#3d5636" textLength="15.52" lengthAdjust="spacingAndGlyphs">VASP</text>
<rect x="195.23" y="212.8" width="31.47" height="6.8" fill="#b1d0a7"/>
<text x="226" y="218.37" font-size="6.3" text-anchor="end" font-style="italic" font-weight="bold" fill="#3d5636" textLength="30.27" lengthAdjust="spacingAndGlyphs">HLA-DQA1</text>
<rect x="212.47" y="219.9" width="14.23" height="6.8" fill="#b1d0a7"/>
<text x="226" y="225.47" font-size="6.3" text-anchor="end" font-style="italic" font-weight="bold" fill="#3d5636" textLength="13.03" lengthAdjust="spacingAndGlyphs">EBI3</text>
<rect x="198.81" y="227" width="27.89" height="6.8" fill="#b1d0a7"/>
<text x="226" y="232.57" font-size="6.3" text-anchor="end" font-style="italic" font-weight="bold" fill="#3d5636" textLength="26.69" lengthAdjust="spacingAndGlyphs">HLA-DRA</text>
<rect x="195.23" y="234.1" width="31.47" height="6.8" fill="#b1d0a7"/>
<text x="226" y="239.67" font-size="6.3" text-anchor="end" font-style="italic" font-weight="bold" fill="#3d5636" textLength="30.27" lengthAdjust="spacingAndGlyphs">HLA-DQB1</text>
<rect x="214.11" y="241.2" width="12.59" height="6.8" fill="#b1d0a7"/>
<text x="226" y="246.77" font-size="6.3" text-anchor="end" font-style="italic" font-weight="bold" fill="#3d5636" textLength="11.39" lengthAdjust="spacingAndGlyphs">TNF</text>
<rect x="242.4" y="179" width="13.9" height="6.8" fill="#dadada"/>
<text x="255.6" y="184.57" font-size="6.3" text-anchor="end" font-style="italic" font-weight="bold" fill="#444" textLength="12.7" lengthAdjust="spacingAndGlyphs">IRF5</text>
<rect x="230.68" y="186.17" width="25.62" height="6.8" fill="#dadada"/>
<text x="255.6" y="191.74" font-size="6.3" text-anchor="end" font-style="italic" font-weight="bold" fill="#444" textLength="24.42" lengthAdjust="spacingAndGlyphs">ZFP36L1</text>
<rect x="241.42" y="193.34" width="14.88" height="6.8" fill="#dadada"/>
<text x="255.6" y="198.91" font-size="6.3" text-anchor="end" font-style="italic" font-weight="bold" fill="#444" textLength="13.68" lengthAdjust="spacingAndGlyphs">SPIB</text>
<rect x="235.24" y="200.51" width="21.06" height="6.8" fill="#dadada"/>
<text x="255.6" y="206.08" font-size="6.3" text-anchor="end" font-style="italic" font-weight="bold" fill="#444" textLength="19.86" lengthAdjust="spacingAndGlyphs">RUNX3</text>
<rect x="236.66" y="207.68" width="19.64" height="6.8" fill="#dadada"/>
<text x="255.6" y="213.25" font-size="6.3" text-anchor="end" font-style="italic" font-weight="bold" fill="#444" textLength="18.44" lengthAdjust="spacingAndGlyphs">BATF3</text>
<rect x="240.23" y="214.85" width="16.07" height="6.8" fill="#dadada"/>
<text x="255.6" y="220.42" font-size="6.3" text-anchor="end" font-style="italic" font-weight="bold" fill="#444" textLength="14.87" lengthAdjust="spacingAndGlyphs">PAX5</text>
<rect x="236.55" y="222.02" width="19.75" height="6.8" fill="#f5c0a6"/>
<text x="255.6" y="227.59" font-size="6.3" text-anchor="end" font-style="italic" font-weight="bold" fill="#b8452a" textLength="18.55" lengthAdjust="spacingAndGlyphs">AICDA</text>
<rect x="243.06" y="257.4" width="13.24" height="6.8" fill="#dadada"/>
<text x="255.6" y="262.97" font-size="6.3" text-anchor="end" font-style="italic" font-weight="bold" fill="#444" textLength="12.04" lengthAdjust="spacingAndGlyphs">FOS</text>
<rect x="239.15" y="264.4" width="17.15" height="6.8" fill="#dadada"/>
<text x="255.6" y="269.97" font-size="6.3" text-anchor="end" font-style="italic" font-weight="bold" fill="#444" textLength="15.95" lengthAdjust="spacingAndGlyphs">EGR1</text>
<rect x="243.71" y="271.4" width="12.59" height="6.8" fill="#f5c0a6"/>
<text x="255.6" y="276.97" font-size="6.3" text-anchor="end" font-style="italic" font-weight="bold" fill="#b8452a" textLength="11.39" lengthAdjust="spacingAndGlyphs">SET</text>
<rect x="245.01" y="278.4" width="11.29" height="6.8" fill="#b1d0a7"/>
<text x="255.6" y="283.97" font-size="6.3" text-anchor="end" font-style="italic" font-weight="bold" fill="#3d5636" textLength="10.09" lengthAdjust="spacingAndGlyphs">GPI</text>
<rect x="240.12" y="285.4" width="16.18" height="6.8" fill="#b1d0a7"/>
<text x="255.6" y="290.97" font-size="6.3" text-anchor="end" font-style="italic" font-weight="bold" fill="#3d5636" textLength="14.98" lengthAdjust="spacingAndGlyphs">CD70</text>
<rect x="225.16" y="292.4" width="31.14" height="6.8" fill="#b1d0a7"/>
<text x="255.6" y="297.97" font-size="6.3" text-anchor="end" font-style="italic" font-weight="bold" fill="#3d5636" textLength="29.94" lengthAdjust="spacingAndGlyphs">HLA-DRB6</text>
<rect x="205.78" y="263.6" width="16.82" height="6.8" fill="#c2d0ed"/>
<text x="221.9" y="269.17" font-size="6.3" text-anchor="end" font-style="italic" font-weight="bold" fill="#3a5590" textLength="15.62" lengthAdjust="spacingAndGlyphs">TFRC</text>
<rect x="201.54" y="270.77" width="21.06" height="6.8" fill="#c2d0ed"/>
<text x="221.9" y="276.34" font-size="6.3" text-anchor="end" font-style="italic" font-weight="bold" fill="#3a5590" textLength="19.86" lengthAdjust="spacingAndGlyphs">CXCR4</text>
<rect x="205.45" y="277.94" width="17.15" height="6.8" fill="#c2d0ed"/>
<text x="221.9" y="283.51" font-size="6.3" text-anchor="end" font-style="italic" font-weight="bold" fill="#3a5590" textLength="15.95" lengthAdjust="spacingAndGlyphs">ENO1</text>
<rect x="210.33" y="285.11" width="12.27" height="6.8" fill="#c2d0ed"/>
<text x="221.9" y="290.68" font-size="6.3" text-anchor="end" font-style="italic" font-weight="bold" fill="#3a5590" textLength="11.07" lengthAdjust="spacingAndGlyphs">F2R</text>
<rect x="239.79" y="317.4" width="16.51" height="6.8" fill="#dadada"/>
<text x="255.6" y="322.97" font-size="6.3" text-anchor="end" font-style="italic" font-weight="bold" fill="#444" textLength="15.31" lengthAdjust="spacingAndGlyphs">XBP1</text>
<rect x="239.14" y="324.5" width="17.16" height="6.8" fill="#b1d0a7"/>
<text x="255.6" y="330.07" font-size="6.3" text-anchor="end" font-style="italic" font-weight="bold" fill="#3d5636" textLength="15.96" lengthAdjust="spacingAndGlyphs">PSAP</text>
<rect x="225.48" y="331.6" width="30.82" height="6.8" fill="#c2d0ed"/>
<text x="255.6" y="337.17" font-size="6.3" text-anchor="end" font-style="italic" font-weight="bold" fill="#3a5590" textLength="29.62" lengthAdjust="spacingAndGlyphs">TNFRSF17</text>
<rect x="231.66" y="338.7" width="24.64" height="6.8" fill="#c2d0ed"/>
<text x="255.6" y="344.27" font-size="6.3" text-anchor="end" font-style="italic" font-weight="bold" fill="#3a5590" textLength="23.44" lengthAdjust="spacingAndGlyphs">SLAMF7</text>
<rect x="240.12" y="345.8" width="16.18" height="6.8" fill="#c2d0ed"/>
<text x="255.6" y="351.37" font-size="6.3" text-anchor="end" font-style="italic" font-weight="bold" fill="#3a5590" textLength="14.98" lengthAdjust="spacingAndGlyphs">CD27</text>
<rect x="235.89" y="352.9" width="20.41" height="6.8" fill="#c2d0ed"/>
<text x="255.6" y="358.47" font-size="6.3" text-anchor="end" font-style="italic" font-weight="bold" fill="#3a5590" textLength="19.21" lengthAdjust="spacingAndGlyphs">CD79A</text>
<rect x="240.12" y="360" width="16.18" height="6.8" fill="#c2d0ed"/>
<text x="255.6" y="365.57" font-size="6.3" text-anchor="end" font-style="italic" font-weight="bold" fill="#3a5590" textLength="14.98" lengthAdjust="spacingAndGlyphs">CD38</text>
<rect x="459.5" y="223.7" width="15.41" height="6.8" fill="#dadada"/>
<text x="460" y="229.27" font-size="6.3" font-style="italic" font-weight="bold" fill="#444" textLength="14.21" lengthAdjust="spacingAndGlyphs">ATF5</text>
<rect x="459.5" y="230.9" width="15.85" height="6.8" fill="#dadada"/>
<text x="460" y="236.47" font-size="6.3" font-style="italic" font-weight="bold" fill="#444" textLength="14.65" lengthAdjust="spacingAndGlyphs">ETS1</text>
<rect x="459.5" y="238.1" width="21.06" height="6.8" fill="#f5c0a6"/>
<text x="460" y="243.67" font-size="6.3" font-style="italic" font-weight="bold" fill="#b8452a" textLength="19.86" lengthAdjust="spacingAndGlyphs">PRMT1</text>
<rect x="459.5" y="245.3" width="17.47" height="6.8" fill="#b1d0a7"/>
<text x="460" y="250.87" font-size="6.3" font-style="italic" font-weight="bold" fill="#3d5636" textLength="16.27" lengthAdjust="spacingAndGlyphs">CALR</text>
<rect x="459.5" y="252.5" width="31.14" height="6.8" fill="#b1d0a7"/>
<text x="460" y="258.07" font-size="6.3" font-style="italic" font-weight="bold" fill="#3d5636" textLength="29.94" lengthAdjust="spacingAndGlyphs">HLA-DRB6</text>
<rect x="490.3" y="230.2" width="23.67" height="6.8" fill="#c2d0ed"/>
<text x="490.8" y="235.77" font-size="6.3" font-style="italic" font-weight="bold" fill="#3a5590" textLength="22.47" lengthAdjust="spacingAndGlyphs">SLC1A5</text>
<rect x="490.3" y="237.1" width="13.24" height="6.8" fill="#c2d0ed"/>
<text x="490.8" y="242.67" font-size="6.3" font-style="italic" font-weight="bold" fill="#3a5590" textLength="12.04" lengthAdjust="spacingAndGlyphs">NCL</text>
<rect x="490.3" y="244" width="17.8" height="6.8" fill="#c2d0ed"/>
<text x="490.8" y="249.57" font-size="6.3" font-style="italic" font-weight="bold" fill="#3a5590" textLength="16.6" lengthAdjust="spacingAndGlyphs">CANX</text>
<rect x="459.5" y="295.3" width="15.85" height="6.8" fill="#dadada"/>
<text x="460" y="300.87" font-size="6.3" font-style="italic" font-weight="bold" fill="#444" textLength="14.65" lengthAdjust="spacingAndGlyphs">KLF2</text>
<rect x="459.5" y="302.1" width="13.24" height="6.8" fill="#dadada"/>
<text x="460" y="307.67" font-size="6.3" font-style="italic" font-weight="bold" fill="#444" textLength="12.04" lengthAdjust="spacingAndGlyphs">FOS</text>
<rect x="459.5" y="308.9" width="16.5" height="6.8" fill="#b1d0a7"/>
<text x="460" y="314.47" font-size="6.3" font-style="italic" font-weight="bold" fill="#3d5636" textLength="15.3" lengthAdjust="spacingAndGlyphs">CCL3</text>
<rect x="459.5" y="315.7" width="18.45" height="6.8" fill="#c2d0ed"/>
<text x="460" y="321.27" font-size="6.3" font-style="italic" font-weight="bold" fill="#3a5590" textLength="17.25" lengthAdjust="spacingAndGlyphs">ITGA4</text>
<line x1="259.4" y1="187.45" x2="263.8" y2="186.15" stroke="#222" stroke-width="0.8"/>
<line x1="259.4" y1="221.55" x2="263.8" y2="222.85" stroke="#222" stroke-width="0.8"/>
<line x1="259.4" y1="262.15" x2="263.8" y2="260.85" stroke="#222" stroke-width="0.8"/>
<line x1="259.4" y1="295.55" x2="263.8" y2="296.85" stroke="#222" stroke-width="0.8"/>
<line x1="259.4" y1="325.35" x2="263.8" y2="324.05" stroke="#222" stroke-width="0.8"/>
<line x1="259.4" y1="360.35" x2="263.8" y2="361.65" stroke="#222" stroke-width="0.8"/>
<line x1="452.3" y1="223.15" x2="456.2" y2="224.65" stroke="#222" stroke-width="0.8"/>
<line x1="452.3" y1="260.65" x2="456.2" y2="259.15" stroke="#222" stroke-width="0.8"/>
<line x1="452.3" y1="296.15" x2="456.2" y2="297.65" stroke="#222" stroke-width="0.8"/>
<line x1="452.3" y1="322.85" x2="456.2" y2="321.35" stroke="#222" stroke-width="0.8"/>
<rect x="456.6" y="181" width="6.2" height="6.2" fill="#bdbdbd"/>
<text x="465.8" y="186.74" font-size="7.6" textLength="9.9" lengthAdjust="spacingAndGlyphs">TFs</text>
<rect x="456.6" y="191.1" width="6.2" height="6.2" fill="#eba57f"/>
<text x="465.8" y="196.84" font-size="7.6" textLength="10" lengthAdjust="spacingAndGlyphs">EEs</text>
<rect x="456.6" y="201.2" width="6.2" height="6.2" fill="#95bd89"/>
<text x="465.8" y="206.94" font-size="7.6" textLength="21.9" lengthAdjust="spacingAndGlyphs">Ligands</text>
<rect x="456.6" y="211.3" width="6.2" height="6.2" fill="#a9bde3"/>
<text x="465.8" y="217.04" font-size="7.6" textLength="28.8" lengthAdjust="spacingAndGlyphs">Receptors</text>
<defs><linearGradient id="hg" x1="0" y1="1" x2="0" y2="0"><stop offset="0" stop-color="#2b2878"/><stop offset="0.25" stop-color="#6662b8"/><stop offset="0.5" stop-color="#f5f2f5"/><stop offset="0.72" stop-color="#efad92"/><stop offset="0.88" stop-color="#e0704f"/><stop offset="1" stop-color="#b8332a"/></linearGradient><linearGradient id="vg" x1="0" y1="1" x2="0" y2="0"><stop offset="0" stop-color="#440154"/><stop offset="0.25" stop-color="#3b528b"/><stop offset="0.5" stop-color="#21918c"/><stop offset="0.75" stop-color="#5ec962"/><stop offset="1" stop-color="#fde725"/></linearGradient></defs>
<rect x="455" y="331" width="7.3" height="30.3" fill="url(#hg)"/>
<text x="465.5" y="337.12" font-size="7">2</text>
<text x="465.5" y="348.82" font-size="7">0</text>
<text x="464.6" y="361.22" font-size="7">−2</text>
<text x="273.5" y="371.46" font-size="7.4" textLength="27.8" lengthAdjust="spacingAndGlyphs">2632 cells</text>
<line x1="305.2" y1="368.8" x2="354" y2="368.8" stroke="#222" stroke-width="1"/>
<path d="M358.3 368.8 L353 366.4 L353 371.2 Z" fill="#222"/>
<text x="6.8" y="444.74" font-size="11.5" font-weight="bold" fill="#111">E</text>
<text x="56.5" y="442.51" font-size="9.2" text-anchor="middle" font-style="italic" fill="#1a1a1a" textLength="17.55" lengthAdjust="spacingAndGlyphs">IRF5</text>
<g transform="translate(33.4,446.5)" fill="none" stroke-width=".95">
<path d="M21.3 12.7h.95M10.7 32.7h.95M17.2 30.7h.95M9.5 35.9h.95M17.7 20.0h.95M14.6 35.6h.95M5.6 35.9h.95M9.0 26.0h.95M19.8 15.4h.95M17.7 27.6h.95M15.0 20.6h.95M17.1 26.3h.95M7.1 32.8h.95M7.6 26.5h.95M14.6 20.7h.95M26.9 11.7h.95M18.0 28.0h.95M12.3 35.6h.95M20.3 30.0h.95M3.8 37.8h.95M14.5 35.1h.95M14.9 17.4h.95M15.5 27.6h.95M7.3 37.8h.95M4.4 35.2h.95M11.1 39.2h.95M21.6 15.9h.95M8.6 33.9h.95M11.6 28.1h.95M17.0 20.1h.95M8.4 35.7h.95M7.8 40.5h.95M12.0 24.6h.95M11.6 27.0h.95M21.5 29.9h.95M13.7 26.4h.95M9.9 40.6h.95M16.3 31.6h.95M20.1 9.7h.95M21.9 22.3h.95M6.2 38.8h.95M8.5 31.2h.95M12.4 33.9h.95M7.7 38.1h.95M14.4 25.1h.95M4.5 38.6h.95M10.2 32.6h.95M7.5 28.2h.95M4.5 34.2h.95M13.0 27.0h.95M6.2 35.6h.95M12.6 33.8h.95M8.0 37.4h.95M10.8 29.7h.95M14.0 26.0h.95M9.6 35.2h.95M19.0 19.5h.95M25.1 24.0h.95M23.0 27.3h.95M14.2 30.6h.95M12.7 33.4h.95M5.6 28.1h.95M12.4 38.9h.95M17.4 29.2h.95M10.3 32.0h.95M9.5 32.7h.95M13.9 35.5h.95M16.7 15.9h.95M14.9 24.3h.95M28.4 21.7h.95M8.0 31.2h.95M13.6 29.5h.95M21.5 8.1h.95" stroke="#440154"/>
<path d="M14.8 26.7h.95M16.2 15.2h.95M15.3 21.9h.95M3.7 34.0h.95M16.4 16.9h.95M7.2 32.4h.95M20.8 19.6h.95M5.2 39.0h.95M20.2 28.5h.95M19.2 15.5h.95M7.8 27.4h.95M26.7 21.7h.95M28.2 26.7h.95M30.1 20.0h.95M12.0 35.2h.95M8.9 27.8h.95M12.9 32.5h.95M17.6 18.2h.95M14.4 29.5h.95M5.4 33.6h.95M22.0 25.5h.95M6.4 33.4h.95M19.4 15.3h.95M6.9 31.2h.95M29.5 23.5h.95M13.9 26.8h.95M21.7 16.9h.95M12.3 29.2h.95M20.3 21.5h.95M20.0 26.3h.95M3.9 33.2h.95M8.8 33.7h.95M12.2 39.2h.95M12.4 25.3h.95M3.3 33.3h.95M17.4 23.8h.95M5.5 29.9h.95M22.3 24.1h.95M27.5 28.2h.95M7.0 27.8h.95M18.9 15.9h.95M25.4 22.7h.95M9.4 30.5h.95M19.4 19.3h.95M23.9 21.8h.95M18.7 20.7h.95M5.8 29.5h.95M6.8 36.9h.95M15.8 30.0h.95M27.0 18.9h.95M26.5 26.2h.95M7.2 32.7h.95M13.0 27.3h.95M22.5 25.8h.95M13.7 23.7h.95M17.9 25.5h.95M14.0 31.7h.95M6.7 32.1h.95M26.6 28.8h.95M21.3 26.6h.95M12.0 27.1h.95M14.4 27.7h.95M21.7 7.6h.95M14.4 31.0h.95M4.8 37.9h.95M8.2 40.2h.95M25.6 28.3h.95M8.1 32.9h.95M11.4 29.3h.95M28.4 27.7h.95M10.5 38.6h.95M27.9 25.2h.95M21.1 11.3h.95M24.3 19.8h.95M29.5 23.5h.95M23.4 13.0h.95M27.6 24.7h.95M24.0 25.1h.95M8.7 29.8h.95M30.9 20.3h.95M8.7 40.4h.95M27.4 18.0h.95M21.2 24.5h.95M17.4 29.4h.95M8.7 35.3h.95M9.9 28.4h.95M24.9 30.1h.95M21.7 27.2h.95M8.4 38.7h.95M23.2 26.0h.95M19.7 10.3h.95M18.0 25.3h.95M14.2 24.2h.95M30.8 19.4h.95M22.3 12.4h.95M16.2 27.2h.95M24.3 16.2h.95M27.4 27.5h.95M10.9 30.5h.95M15.9 17.5h.95M11.0 36.9h.95M15.2 32.0h.95M7.1 26.7h.95M8.1 27.1h.95M25.2 22.7h.95M7.8 37.3h.95M4.3 31.5h.95M20.3 25.4h.95M25.7 26.7h.95M9.5 27.4h.95M27.0 28.2h.95M7.6 37.0h.95M6.9 33.7h.95M13.0 27.6h.95M9.7 27.4h.95M4.2 38.0h.95M17.3 23.5h.95M22.1 25.1h.95M14.0 37.1h.95M23.2 17.6h.95M13.5 28.6h.95M6.8 37.0h.95M25.4 29.2h.95M23.3 13.7h.95M4.5 35.9h.95M12.5 39.3h.95M8.4 30.1h.95M6.0 36.4h.95M16.4 27.7h.95M17.1 16.3h.95M16.7 30.2h.95M11.2 33.3h.95M6.5 37.1h.95M20.0 12.6h.95M16.0 15.7h.95M9.3 34.1h.95M9.4 39.6h.95M5.7 28.8h.95M20.5 12.1h.95M26.5 22.2h.95M23.0 7.4h.95M31.6 21.6h.95M11.1 40.3h.95M26.9 17.9h.95M9.0 36.0h.95M6.9 32.8h.95M18.2 24.8h.95M31.3 18.8h.95M22.4 22.0h.95M23.1 30.3h.95M10.4 35.3h.95M12.6 26.1h.95M10.3 35.1h.95M14.7 35.1h.95M7.0 35.8h.95M12.9 39.2h.95M11.0 37.3h.95M17.6 24.5h.95M23.8 26.0h.95M16.7 27.4h.95M12.1 34.0h.95M15.5 22.7h.95M19.3 11.1h.95M16.4 26.3h.95M17.3 25.8h.95M27.7 26.7h.95M25.0 15.1h.95M10.3 26.3h.95M17.1 14.0h.95M31.4 22.5h.95M7.5 31.0h.95M6.0 28.7h.95M12.4 37.1h.95M17.2 30.6h.95M25.7 29.5h.95M23.2 11.3h.95M11.6 27.1h.95M5.7 39.0h.95M6.8 27.5h.95" stroke="#471a6b"/>
<path d="M11.0 40.0h.95M10.1 40.5h.95M14.5 20.8h.95M22.5 16.3h.95M14.0 22.1h.95M16.6 28.3h.95M21.4 11.9h.95M21.1 17.9h.95M7.5 35.7h.95M24.3 16.3h.95M23.8 16.2h.95M3.6 33.6h.95M19.7 25.6h.95M18.0 18.4h.95M14.2 33.7h.95M21.7 24.6h.95M22.4 16.0h.95M8.8 27.0h.95M19.1 9.3h.95M26.4 22.2h.95M24.6 27.4h.95M13.3 24.7h.95M6.3 29.3h.95M26.2 12.4h.95M4.1 31.5h.95M26.1 25.5h.95M27.2 19.8h.95M17.2 15.3h.95M21.3 14.1h.95M23.2 16.8h.95M19.7 25.7h.95M13.4 34.9h.95M9.5 27.9h.95M31.4 19.4h.95M19.6 23.8h.95M26.2 28.4h.95M11.9 30.4h.95M17.6 21.0h.95M17.6 29.9h.95M17.9 14.4h.95M22.5 30.4h.95M20.9 18.0h.95M13.4 32.6h.95M17.4 21.8h.95M23.6 18.3h.95M22.3 25.2h.95M13.8 33.8h.95M18.2 27.7h.95M21.0 28.5h.95M5.7 28.3h.95M19.6 27.4h.95M29.8 20.6h.95M20.1 13.7h.95M14.1 32.2h.95M5.0 31.3h.95M7.8 33.0h.95M27.9 22.2h.95M28.4 18.1h.95M28.1 12.0h.95M14.7 31.6h.95M20.3 10.5h.95M6.7 26.8h.95M11.6 29.1h.95M20.6 28.8h.95M30.0 23.0h.95M9.3 39.7h.95M31.1 22.3h.95M26.1 15.7h.95M18.3 15.5h.95M25.8 12.0h.95M28.9 26.0h.95M7.6 26.3h.95M21.2 24.4h.95M16.5 21.7h.95M14.8 25.0h.95M20.4 25.0h.95M16.7 30.3h.95M21.9 8.9h.95M21.6 24.1h.95M15.9 29.9h.95M22.2 23.6h.95M20.3 25.3h.95M28.4 24.2h.95M23.7 29.2h.95M22.2 22.4h.95M15.4 22.6h.95M14.6 34.9h.95M12.4 29.2h.95M23.4 29.5h.95M29.2 23.5h.95M29.3 16.3h.95M16.6 16.6h.95M23.1 17.7h.95M4.2 37.6h.95M27.0 21.7h.95M13.9 33.7h.95M17.0 14.7h.95M14.8 26.9h.95M22.6 22.2h.95M27.2 26.2h.95M25.7 26.5h.95M8.1 31.7h.95M26.6 22.6h.95M18.9 13.5h.95M17.0 30.0h.95M29.5 19.7h.95M10.4 40.3h.95M13.4 31.7h.95M25.7 23.7h.95M7.4 37.0h.95M21.3 13.6h.95M17.4 25.9h.95M24.5 26.5h.95M8.6 32.3h.95M22.8 9.3h.95M18.0 25.0h.95M24.1 22.5h.95M18.9 27.6h.95M12.6 39.3h.95M5.5 30.6h.95M29.6 19.8h.95M22.1 18.5h.95M21.1 15.8h.95M10.1 34.6h.95M24.3 14.2h.95M26.6 14.8h.95M15.1 20.3h.95M23.0 17.2h.95M14.8 18.1h.95M8.1 40.1h.95M22.2 20.9h.95M27.6 27.2h.95M19.7 18.4h.95M8.9 35.2h.95M24.3 16.6h.95M5.2 38.1h.95M19.7 22.9h.95M22.8 10.6h.95M23.7 24.8h.95M16.0 31.5h.95M23.7 10.8h.95M4.1 31.8h.95M8.2 38.5h.95M14.2 26.1h.95M5.7 33.5h.95M14.1 32.1h.95M23.8 30.5h.95M9.4 39.8h.95M20.5 26.1h.95M24.3 22.9h.95M14.0 33.6h.95M9.0 40.0h.95M12.9 31.1h.95M24.9 10.4h.95M25.5 21.6h.95M20.3 18.7h.95M4.9 39.3h.95M33.9 20.4h.95M4.8 37.4h.95M11.1 37.7h.95M11.0 39.5h.95M18.6 18.0h.95M22.4 10.9h.95M21.2 26.1h.95M20.3 28.2h.95M26.5 26.7h.95M22.9 12.9h.95M17.1 12.4h.95M19.5 27.3h.95M26.7 16.0h.95M25.3 11.4h.95M29.0 18.5h.95M8.8 41.7h.95M28.2 16.9h.95M4.4 31.5h.95M15.9 29.0h.95M22.3 9.1h.95M12.3 37.0h.95M24.1 10.7h.95M16.2 30.4h.95M21.3 23.3h.95M7.1 28.3h.95M30.8 21.7h.95M9.9 38.2h.95M6.2 28.2h.95M10.4 27.0h.95M4.1 31.3h.95M19.1 23.6h.95M5.3 35.9h.95M7.4 34.8h.95M21.8 19.6h.95M9.7 37.2h.95M25.1 17.4h.95M17.3 22.9h.95M12.8 37.7h.95M23.0 11.7h.95M20.2 16.0h.95M18.2 16.7h.95M10.8 38.8h.95M22.5 18.6h.95M7.4 31.5h.95M6.4 38.4h.95M14.2 26.8h.95M22.2 19.4h.95M23.1 15.8h.95M22.1 11.0h.95M28.5 17.8h.95M24.3 20.9h.95M27.7 16.4h.95M16.2 29.3h.95M19.7 9.1h.95M10.9 40.1h.95M21.0 21.1h.95M9.4 41.9h.95M14.2 24.3h.95M5.5 28.1h.95M17.0 25.2h.95M10.2 34.6h.95M23.0 27.0h.95M18.2 17.7h.95M7.4 41.8h.95M12.6 29.8h.95M21.6 17.0h.95M22.3 19.2h.95M19.4 29.8h.95M25.0 29.3h.95M13.1 33.0h.95M27.8 22.3h.95M18.3 14.2h.95M4.9 31.0h.95M12.9 28.6h.95M29.3 16.2h.95M20.2 9.7h.95M19.2 9.9h.95M26.4 20.3h.95M22.0 16.6h.95M24.0 17.6h.95M24.4 29.9h.95M5.8 34.7h.95M5.7 40.1h.95M7.6 41.8h.95M15.1 23.2h.95M27.5 24.0h.95M33.2 20.6h.95" stroke="#45327d"/>
<path d="M24.2 25.6h.95M24.0 29.6h.95M17.3 25.7h.95M24.3 15.3h.95M18.8 12.3h.95M8.8 36.2h.95M28.3 25.8h.95M12.8 29.4h.95M29.0 19.5h.95M11.5 30.0h.95M26.9 26.2h.95M12.3 38.5h.95M26.2 25.2h.95M26.7 16.8h.95M26.2 13.2h.95M14.2 21.7h.95M20.3 14.5h.95M14.6 23.8h.95M21.1 17.2h.95M4.0 31.4h.95M5.2 30.4h.95M27.4 16.9h.95M26.9 16.7h.95M31.9 18.5h.95M4.3 39.3h.95M7.6 29.3h.95M28.2 19.9h.95M19.7 17.2h.95M30.7 20.5h.95M18.3 11.5h.95M24.9 17.0h.95M16.7 12.8h.95M23.0 26.1h.95M15.2 18.0h.95M8.9 27.2h.95M24.2 17.7h.95M19.4 13.6h.95M21.3 14.3h.95M28.1 17.7h.95M13.3 24.4h.95M19.3 22.8h.95M17.9 27.9h.95M16.1 26.3h.95M29.4 16.4h.95M20.0 15.0h.95M20.9 20.2h.95M33.9 19.4h.95M19.6 20.3h.95M26.2 6.7h.95M31.5 19.0h.95M23.2 6.2h.95M20.3 8.9h.95M29.6 21.1h.95M16.5 22.9h.95M6.2 27.6h.95M14.1 28.8h.95M20.9 13.9h.95M20.1 27.1h.95M20.7 14.3h.95M28.7 12.6h.95M16.2 27.0h.95M27.5 30.1h.95M22.4 14.6h.95M17.3 27.2h.95M6.3 33.5h.95M28.6 25.1h.95M16.8 12.8h.95M23.4 13.6h.95M31.2 19.8h.95M22.2 9.7h.95M29.5 21.6h.95M14.2 27.3h.95M21.4 17.6h.95M31.5 20.1h.95M25.6 14.9h.95M28.6 22.3h.95M24.1 13.2h.95M32.5 17.5h.95M19.5 17.9h.95M11.2 25.7h.95M20.9 19.5h.95M14.6 21.5h.95M31.8 17.6h.95M10.6 33.5h.95M21.1 12.1h.95M15.7 24.4h.95M19.2 12.4h.95M29.1 13.8h.95M20.7 28.4h.95M21.4 14.4h.95M21.8 15.8h.95M29.1 13.6h.95M22.9 17.5h.95M22.6 18.9h.95M25.6 13.8h.95M29.6 19.7h.95M27.9 10.7h.95M27.8 21.9h.95M20.1 16.4h.95M12.4 33.5h.95M19.7 22.9h.95M18.6 10.4h.95M21.2 9.6h.95M22.2 8.2h.95M22.2 19.9h.95M24.1 12.0h.95M13.8 25.4h.95M21.6 10.9h.95M27.3 25.3h.95M6.4 37.1h.95M15.3 27.3h.95M25.1 19.5h.95M13.8 34.0h.95M6.7 27.7h.95M27.6 14.5h.95M25.4 16.0h.95M23.8 18.3h.95M24.3 23.4h.95M25.4 26.2h.95M32.5 19.6h.95M30.8 17.9h.95M23.0 28.9h.95M25.3 26.3h.95M27.9 11.4h.95M15.3 23.5h.95M21.5 19.2h.95M27.4 26.6h.95M31.7 19.8h.95M26.7 11.2h.95M24.1 13.3h.95M16.0 24.8h.95M27.3 30.1h.95M24.9 11.6h.95M24.3 26.8h.95M6.2 35.9h.95M5.1 35.4h.95M23.5 21.0h.95M24.1 13.5h.95M26.8 22.7h.95M21.8 7.3h.95M20.1 21.4h.95M35.5 8.4h.95M20.3 16.3h.95M16.3 26.4h.95M11.2 31.4h.95M19.9 11.7h.95M17.1 27.0h.95M31.8 21.9h.95M19.7 14.3h.95M25.2 7.2h.95M20.6 12.2h.95M5.8 38.8h.95M25.9 9.5h.95M13.2 36.9h.95M15.3 19.4h.95M27.6 18.3h.95M22.9 15.0h.95M17.4 14.8h.95M30.7 18.6h.95M22.3 22.2h.95M6.2 35.7h.95M25.7 6.5h.95M24.6 26.5h.95M25.8 13.4h.95M26.5 5.4h.95M32.6 21.4h.95M21.4 19.7h.95M11.0 38.0h.95M25.1 21.1h.95M26.0 20.5h.95M26.1 24.4h.95M12.2 23.7h.95M22.6 21.6h.95M16.8 17.9h.95M22.9 14.5h.95M27.3 11.3h.95M32.3 20.5h.95M21.8 14.3h.95M20.7 28.8h.95M28.6 16.3h.95M18.8 12.8h.95M26.6 24.2h.95M17.7 14.7h.95M22.3 19.1h.95M32.0 18.8h.95M26.3 25.4h.95M16.9 15.2h.95M24.2 7.8h.95M20.8 13.0h.95M21.3 20.3h.95M21.6 22.0h.95" stroke="#3e4989"/>
<path d="M21.7 14.4h.95M23.2 23.8h.95M26.9 6.7h.95M23.2 8.3h.95M18.7 23.9h.95M13.2 29.6h.95M26.9 12.1h.95M19.9 20.3h.95M24.9 26.7h.95M26.0 7.6h.95M19.7 11.2h.95M28.6 25.8h.95M31.7 17.7h.95M23.0 21.5h.95M22.7 29.0h.95M19.6 23.5h.95M15.0 33.6h.95M22.2 11.2h.95M16.6 19.2h.95M31.7 15.7h.95M21.4 25.1h.95M28.6 13.3h.95M22.4 19.6h.95M30.2 13.7h.95M29.6 18.2h.95M29.3 15.5h.95M15.0 29.1h.95M29.0 12.6h.95M31.3 19.9h.95M30.7 16.9h.95M28.1 16.5h.95M30.5 16.7h.95M8.4 34.1h.95M27.9 11.6h.95M21.1 12.3h.95M8.4 26.2h.95M20.6 23.9h.95M23.0 9.9h.95M11.3 36.2h.95M28.0 15.4h.95M24.0 13.2h.95M4.2 35.9h.95M9.0 32.5h.95M29.9 19.3h.95M12.2 26.9h.95M26.6 20.3h.95M30.2 22.9h.95M25.6 25.3h.95M21.6 9.4h.95M18.5 26.6h.95M28.1 9.2h.95M30.4 12.1h.95M13.1 35.4h.95M23.8 12.2h.95M26.8 6.8h.95M27.4 17.8h.95M26.5 27.5h.95M27.3 13.2h.95M21.0 20.7h.95M27.6 16.5h.95M26.1 22.5h.95M25.5 15.1h.95M8.4 30.6h.95M29.7 17.8h.95M26.3 19.1h.95M17.6 12.6h.95M6.9 35.2h.95M26.9 18.6h.95M32.1 20.5h.95M22.8 26.8h.95M28.7 12.6h.95M27.7 7.8h.95M7.2 33.4h.95M26.2 13.2h.95M31.3 20.6h.95M29.1 21.9h.95M15.3 34.4h.95M20.8 28.0h.95M17.0 26.4h.95M26.4 9.8h.95M29.9 11.4h.95M10.9 27.8h.95M27.9 14.8h.95M30.9 17.3h.95M20.0 26.9h.95M36.5 15.1h.95M7.5 26.7h.95" stroke="#365d8c"/>
<path d="M32.9 9.3h.95M37.9 14.7h.95M27.0 8.5h.95M32.0 7.6h.95M36.2 10.7h.95M34.4 20.0h.95M30.3 4.9h.95M31.3 6.7h.95M23.7 9.7h.95M34.8 19.5h.95M37.9 12.4h.95M30.9 17.7h.95M32.9 11.8h.95M26.4 8.4h.95M32.4 13.2h.95M28.8 19.5h.95M37.7 13.4h.95M31.0 19.1h.95M25.0 14.4h.95M24.0 6.3h.95M37.2 8.2h.95M39.1 6.1h.95M23.9 9.7h.95M29.4 7.9h.95M31.6 4.6h.95M38.3 5.7h.95M33.4 15.0h.95M28.1 8.3h.95M27.0 29.3h.95M27.2 5.4h.95M20.7 15.2h.95M29.8 15.9h.95M24.3 26.1h.95M25.5 7.5h.95M32.8 18.2h.95M27.2 8.1h.95M24.7 9.9h.95M20.6 12.4h.95M30.6 18.6h.95M25.5 11.9h.95M22.4 8.2h.95M31.6 14.6h.95M26.4 9.4h.95M30.1 13.8h.95M25.8 5.2h.95M31.2 7.6h.95M27.2 10.8h.95M37.9 8.2h.95M33.3 5.8h.95M30.7 16.4h.95M40.0 15.2h.95M27.0 10.7h.95M26.9 15.4h.95M33.5 18.0h.95M24.0 13.5h.95M36.7 6.8h.95M30.3 10.2h.95M31.7 17.7h.95M34.1 12.2h.95M28.8 8.0h.95M30.2 4.4h.95M20.9 11.7h.95M32.9 13.7h.95M31.3 13.1h.95M38.4 13.1h.95M29.9 13.5h.95M30.8 6.3h.95M30.4 13.5h.95M21.1 20.2h.95M33.8 20.7h.95M33.6 16.0h.95M27.6 14.1h.95M31.5 11.5h.95M30.2 8.8h.95M31.8 12.6h.95M37.6 12.2h.95M25.0 14.9h.95M39.2 8.5h.95M31.7 8.9h.95M27.5 7.2h.95M26.6 6.9h.95" stroke="#2e708e"/>
<path d="M30.5 5.2h.95M31.5 9.8h.95M34.9 19.5h.95M32.7 14.8h.95M30.8 8.3h.95M37.3 8.3h.95M35.0 8.5h.95M26.2 7.1h.95M32.3 12.5h.95M34.1 15.7h.95M30.9 15.1h.95M37.6 11.4h.95M39.9 5.8h.95M32.9 17.2h.95M29.0 7.8h.95M39.1 14.8h.95M38.0 10.0h.95M40.3 7.6h.95M38.8 15.8h.95M34.0 9.3h.95M35.8 8.8h.95M29.9 11.5h.95M27.8 4.6h.95M33.8 14.6h.95M39.2 3.8h.95M38.5 6.1h.95M32.4 11.9h.95M37.1 15.5h.95M38.4 8.9h.95M29.6 4.5h.95M30.3 11.6h.95M34.8 15.8h.95M29.7 5.8h.95M27.6 4.9h.95M31.5 18.2h.95M38.7 13.3h.95M39.3 11.9h.95M27.6 6.3h.95M33.8 12.2h.95M34.3 8.3h.95M34.1 18.4h.95M32.6 16.3h.95M31.5 14.5h.95M35.2 18.2h.95M37.2 15.4h.95M35.2 11.8h.95M31.2 10.1h.95M32.1 4.5h.95M40.1 6.5h.95M30.6 5.7h.95M28.7 21.7h.95M37.5 7.8h.95M36.6 13.2h.95M37.2 16.1h.95M33.5 10.4h.95M35.9 7.9h.95M29.7 6.9h.95M35.6 16.6h.95M31.6 7.6h.95M32.9 8.4h.95M27.7 6.0h.95M37.8 4.2h.95M32.1 10.2h.95M36.7 12.9h.95M36.8 15.2h.95M27.7 9.8h.95M33.3 6.6h.95M31.2 14.1h.95M35.1 16.5h.95M30.2 9.8h.95M40.2 4.3h.95M37.9 11.5h.95" stroke="#26828e"/>
<path d="M38.1 7.4h.95M27.1 8.0h.95M35.7 8.1h.95M33.5 12.7h.95M30.3 4.9h.95M37.3 9.0h.95M31.4 9.4h.95M36.4 11.4h.95M35.2 11.8h.95M35.0 15.3h.95M38.1 10.8h.95M38.3 14.9h.95M40.7 10.4h.95M31.5 8.3h.95M31.9 13.3h.95M37.0 4.6h.95M35.9 7.7h.95M28.4 9.9h.95M33.0 16.2h.95M31.2 13.2h.95M41.1 8.0h.95M35.6 4.7h.95M32.9 7.2h.95M35.8 17.4h.95M35.5 15.8h.95M33.4 15.2h.95M39.3 14.5h.95M33.5 13.0h.95M35.3 5.5h.95M39.2 13.9h.95M39.9 4.7h.95M37.6 14.7h.95M37.7 4.0h.95M37.3 10.6h.95M35.5 3.3h.95M37.9 8.6h.95M33.1 13.5h.95M40.1 4.7h.95M31.5 13.5h.95M37.3 17.7h.95M30.5 9.0h.95M30.2 13.4h.95M37.0 9.8h.95M40.1 12.1h.95M36.8 16.5h.95M38.2 13.2h.95M37.2 11.9h.95M34.7 14.4h.95M38.7 14.3h.95M40.6 4.5h.95M37.3 11.7h.95M38.3 9.0h.95M39.8 11.3h.95M39.1 13.5h.95M39.8 9.3h.95M31.1 5.6h.95M39.9 6.1h.95M33.5 16.6h.95M33.3 8.5h.95M40.5 11.4h.95M41.8 8.0h.95M36.0 8.5h.95M39.4 8.9h.95M32.8 15.5h.95M29.0 7.1h.95M34.9 9.0h.95M31.0 8.5h.95M29.0 6.5h.95M37.8 14.2h.95M31.9 13.9h.95M33.6 4.3h.95M37.4 13.7h.95M34.1 12.8h.95M38.6 5.5h.95M41.0 11.8h.95M33.7 6.9h.95M31.0 12.7h.95M37.9 9.4h.95M30.4 12.7h.95M38.2 5.1h.95M39.6 7.1h.95" stroke="#22948b"/>
<path d="M34.1 8.5h.95M38.5 8.6h.95M34.7 5.7h.95M31.7 10.0h.95M39.5 5.1h.95M39.2 13.8h.95M30.9 5.8h.95M34.6 3.2h.95M39.3 6.0h.95M36.9 5.5h.95M33.0 7.5h.95M39.8 15.3h.95M35.1 12.0h.95M39.9 6.5h.95M41.9 8.1h.95M36.1 8.7h.95M35.1 6.8h.95M37.6 12.8h.95M32.7 14.5h.95M35.6 4.0h.95M41.4 7.3h.95M40.5 8.8h.95M33.3 7.2h.95M34.0 5.8h.95M34.7 3.2h.95M38.7 6.9h.95M30.6 5.7h.95M35.8 10.5h.95M32.1 4.7h.95M39.1 9.3h.95M41.2 10.5h.95M41.6 9.8h.95M37.0 8.2h.95" stroke="#26a684"/>
<path d="M35.8 11.6h.95M39.6 4.2h.95M39.7 5.8h.95M35.6 10.4h.95M39.6 3.8h.95M33.3 5.6h.95M34.8 3.5h.95M37.1 11.5h.95" stroke="#35b779"/>
<path d="M40.0 7.4h.95" stroke="#5ac664"/>
</g>
<rect x="33.4" y="446.5" width="46.2" height="46.2" fill="none" stroke="#3a3a3a" stroke-width="1.2"/>
<text x="107.9" y="442.51" font-size="9.2" text-anchor="middle" font-style="italic" fill="#1a1a1a" textLength="33.32" lengthAdjust="spacingAndGlyphs">ZFP36L1</text>
<g transform="translate(84.8,446.5)" fill="none" stroke-width=".95">
<path d="M14.0 22.1h.95M13.3 24.7h.95" stroke="#440154"/>
<path d="M19.1 9.3h.95M4.3 39.3h.95M12.4 25.3h.95M18.9 15.9h.95M16.5 22.9h.95M6.3 33.5h.95M17.0 14.7h.95M27.9 25.2h.95M17.4 25.9h.95M5.2 38.1h.95M8.4 38.7h.95M6.9 33.7h.95M4.2 38.0h.95M28.2 16.9h.95M24.3 26.8h.95M6.2 35.9h.95M12.9 39.2h.95M27.8 22.3h.95M31.4 22.5h.95M21.6 22.0h.95" stroke="#471a6b"/>
<path d="M24.2 25.6h.95M11.0 40.0h.95M3.7 34.0h.95M16.4 16.9h.95M5.2 39.0h.95M21.7 14.4h.95M28.3 25.8h.95M21.4 11.9h.95M26.9 26.2h.95M20.3 14.5h.95M14.6 23.8h.95M21.1 17.2h.95M19.7 25.6h.95M18.0 18.4h.95M21.7 24.6h.95M24.6 27.4h.95M27.2 19.8h.95M17.7 27.6h.95M13.4 34.9h.95M16.7 12.8h.95M13.9 26.8h.95M26.2 28.4h.95M7.6 26.5h.95M20.9 18.0h.95M12.2 39.2h.95M17.4 23.8h.95M26.0 7.6h.95M19.6 27.4h.95M19.7 11.2h.95M5.0 31.3h.95M20.0 15.0h.95M14.7 31.6h.95M14.5 35.1h.95M11.6 29.1h.95M6.8 36.9h.95M15.8 30.0h.95M20.6 28.8h.95M14.9 17.4h.95M13.0 27.3h.95M20.1 27.1h.95M22.5 25.8h.95M16.2 27.0h.95M26.1 15.7h.95M27.0 29.3h.95M22.2 23.6h.95M14.6 34.9h.95M14.4 27.7h.95M29.2 23.5h.95M14.4 31.0h.95M16.6 16.6h.95M4.2 37.6h.95M16.6 19.2h.95M22.2 9.7h.95M14.8 26.9h.95M27.2 26.2h.95M31.5 20.1h.95M28.4 27.7h.95M29.5 19.7h.95M10.5 38.6h.95M13.4 31.7h.95M21.5 29.9h.95M24.1 13.2h.95M19.5 17.9h.95M11.2 25.7h.95M18.0 25.0h.95M27.6 24.7h.95M8.7 29.8h.95M5.5 30.6h.95M30.9 20.3h.95M21.2 24.5h.95M10.1 34.6h.95M22.4 8.2h.95M14.8 18.1h.95M9.9 28.4h.95M16.0 31.5h.95M23.7 10.8h.95M19.7 10.3h.95M18.0 25.3h.95M4.1 31.8h.95M5.7 33.5h.95M22.2 19.9h.95M16.2 27.2h.95M7.7 38.1h.95M27.4 27.5h.95M13.8 25.4h.95M15.2 32.0h.95M8.1 27.1h.95M20.3 25.4h.95M25.7 26.7h.95M12.2 26.9h.95M26.6 20.3h.95M13.0 27.6h.95M25.3 11.4h.95M25.3 26.3h.95M15.3 23.5h.95M14.0 37.1h.95M13.1 35.4h.95M30.8 21.7h.95M27.3 30.1h.95M9.9 38.2h.95M13.5 28.6h.95M10.4 27.0h.95M4.1 31.3h.95M7.4 34.8h.95M16.4 27.7h.95M26.1 22.5h.95M25.5 15.1h.95M6.5 37.1h.95M16.0 15.7h.95M17.1 27.0h.95M10.3 32.0h.95M14.2 26.8h.95M13.2 36.9h.95M26.9 18.6h.95M9.0 36.0h.95M17.4 14.8h.95M5.5 28.1h.95M17.6 24.5h.95M12.1 34.0h.95M7.4 41.8h.95M31.3 20.6h.95M17.3 25.8h.95M15.3 34.4h.95M22.3 19.1h.95M20.0 26.9h.95M26.3 25.4h.95M15.1 23.2h.95" stroke="#45327d"/>
<path d="M24.0 29.6h.95M14.8 26.7h.95M15.3 21.9h.95M17.3 25.7h.95M24.3 15.3h.95M8.8 36.2h.95M12.8 29.4h.95M16.6 28.3h.95M23.2 23.8h.95M7.5 35.7h.95M26.2 25.2h.95M26.7 16.8h.95M17.7 20.0h.95M14.2 21.7h.95M28.2 26.7h.95M5.6 35.9h.95M12.0 35.2h.95M19.8 15.4h.95M5.2 30.4h.95M8.9 27.8h.95M12.9 32.5h.95M6.3 29.3h.95M26.2 12.4h.95M4.1 31.5h.95M26.1 25.5h.95M7.6 29.3h.95M14.4 29.5h.95M17.2 15.3h.95M5.4 33.6h.95M18.7 23.9h.95M13.2 29.6h.95M26.9 12.1h.95M24.9 17.0h.95M6.9 31.2h.95M23.0 26.1h.95M15.2 18.0h.95M17.1 26.3h.95M29.5 23.5h.95M9.5 27.9h.95M19.6 23.8h.95M24.9 26.7h.95M7.1 32.8h.95M24.2 17.7h.95M22.5 30.4h.95M20.0 26.3h.95M19.4 13.6h.95M21.3 14.3h.95M28.1 17.7h.95M3.3 33.3h.95M19.3 22.8h.95M22.3 25.2h.95M18.2 27.7h.95M21.0 28.5h.95M28.8 19.5h.95M27.5 28.2h.95M9.4 30.5h.95M7.8 33.0h.95M29.4 16.4h.95M23.9 21.8h.95M28.6 25.8h.95M20.3 30.0h.95M20.9 20.2h.95M18.7 20.7h.95M20.3 10.5h.95M26.2 6.7h.95M23.2 6.2h.95M23.0 21.5h.95M5.8 29.5h.95M29.6 21.1h.95M30.0 23.0h.95M15.5 27.6h.95M4.4 35.2h.95M9.3 39.7h.95M31.1 22.3h.95M18.3 15.5h.95M28.9 26.0h.95M14.0 31.7h.95M21.2 24.4h.95M16.5 21.7h.95M14.8 25.0h.95M16.7 30.3h.95M21.6 24.1h.95M17.3 27.2h.95M20.3 25.3h.95M15.4 22.6h.95M12.4 29.2h.95M21.6 15.9h.95M21.7 7.6h.95M23.4 13.6h.95M19.6 23.5h.95M23.4 29.5h.95M29.3 16.3h.95M22.2 11.2h.95M4.8 37.9h.95M8.2 40.2h.95M23.1 17.7h.95M13.9 33.7h.95M22.6 22.2h.95M17.0 20.1h.95M25.6 28.3h.95M14.2 27.3h.95M21.4 25.1h.95M25.7 26.5h.95M22.4 19.6h.95M7.8 40.5h.95M11.4 29.3h.95M12.0 24.6h.95M26.6 22.6h.95M17.0 30.0h.95M28.6 22.3h.95M7.4 37.0h.95M21.1 11.3h.95M24.3 19.8h.95M23.4 13.0h.95M24.5 26.5h.95M15.0 29.1h.95M8.6 32.3h.95M22.8 9.3h.95M14.6 21.5h.95M24.0 25.1h.95M12.6 39.3h.95M10.6 33.5h.95M22.1 18.5h.95M27.4 18.0h.95M15.7 24.4h.95M17.4 29.4h.95M26.6 14.8h.95M15.1 20.3h.95M8.7 35.3h.95M19.7 18.4h.95M28.1 16.5h.95M24.3 16.6h.95M21.8 15.8h.95M22.9 17.5h.95M22.6 18.9h.95M21.9 22.3h.95M23.7 24.8h.95M21.1 12.3h.95M20.1 16.4h.95M19.7 22.9h.95M18.6 10.4h.95M20.6 23.9h.95M14.2 24.2h.95M23.8 30.5h.95M12.4 33.9h.95M4.5 38.6h.95M20.5 26.1h.95M24.3 22.9h.95M12.9 31.1h.95M20.3 18.7h.95M7.1 26.7h.95M7.8 37.3h.95M25.1 19.5h.95M6.7 27.7h.95M4.3 31.5h.95M25.4 16.0h.95M23.8 18.3h.95M18.6 18.0h.95M13.0 27.0h.95M4.2 35.9h.95M22.4 10.9h.95M9.0 32.5h.95M24.3 23.4h.95M24.0 13.5h.95M20.3 28.2h.95M30.2 22.9h.95M22.9 12.9h.95M25.6 25.3h.95M19.5 27.3h.95M21.6 9.4h.95M30.8 17.9h.95M18.5 26.6h.95M8.8 41.7h.95M10.8 29.7h.95M4.4 31.5h.95M23.2 17.6h.95M15.9 29.0h.95M22.3 9.1h.95M12.3 37.0h.95M9.6 35.2h.95M6.2 28.2h.95M25.4 29.2h.95M23.0 27.3h.95M19.1 23.6h.95M27.4 17.8h.95M26.5 27.5h.95M5.3 35.9h.95M8.4 30.1h.95M12.7 33.4h.95M9.7 37.2h.95M5.1 35.4h.95M25.1 17.4h.95M23.5 21.0h.95M17.3 22.9h.95M5.6 28.1h.95M12.4 38.9h.95M20.1 21.4h.95M20.2 16.0h.95M18.2 16.7h.95M20.3 16.3h.95M17.1 16.3h.95M16.7 30.2h.95M10.8 38.8h.95M20.0 12.6h.95M9.4 39.6h.95M5.7 28.8h.95M19.9 11.7h.95M17.4 29.2h.95M23.0 7.4h.95M5.8 38.8h.95M17.6 12.6h.95M15.3 19.4h.95M22.1 11.0h.95M9.5 32.7h.95M22.9 15.0h.95M32.1 20.5h.95M23.1 30.3h.95M10.4 35.3h.95M12.6 26.1h.95M10.3 35.1h.95M25.7 6.5h.95M7.0 35.8h.95M19.7 9.1h.95M9.4 41.9h.95M32.6 21.4h.95M27.6 14.1h.95M14.2 24.3h.95M16.7 15.9h.95M25.1 21.1h.95M14.9 24.3h.95M23.0 27.0h.95M16.7 27.4h.95M12.6 29.8h.95M19.3 11.1h.95M29.1 21.9h.95M16.4 26.3h.95M21.6 17.0h.95M22.3 19.2h.95M19.4 29.8h.95M22.6 21.6h.95M20.8 28.0h.95M27.7 26.7h.95M25.0 29.3h.95M16.8 17.9h.95M10.3 26.3h.95M27.3 11.3h.95M7.5 31.0h.95M20.2 9.7h.95M19.2 9.9h.95M25.7 29.5h.95M24.0 17.6h.95M23.2 11.3h.95M13.6 29.5h.95M11.6 27.1h.95M24.2 7.8h.95M20.8 13.0h.95M5.7 39.0h.95M7.6 41.8h.95M27.5 24.0h.95M6.8 27.5h.95M7.5 26.7h.95" stroke="#3e4989"/>
<path d="M21.3 12.7h.95M27.1 8.0h.95M16.2 15.2h.95M10.1 40.5h.95M10.7 32.7h.95M7.2 32.4h.95M18.8 12.3h.95M20.8 19.6h.95M14.5 20.8h.95M22.5 16.3h.95M9.5 35.9h.95M29.0 19.5h.95M20.2 28.5h.95M11.5 30.0h.95M21.1 17.9h.95M26.2 13.2h.95M19.2 15.5h.95M7.8 27.4h.95M26.7 21.7h.95M3.6 33.6h.95M14.2 33.7h.95M22.4 16.0h.95M4.0 31.4h.95M26.4 22.2h.95M23.2 8.3h.95M27.4 16.9h.95M26.9 16.7h.95M31.9 18.5h.95M17.6 18.2h.95M21.3 14.1h.95M22.0 25.5h.95M15.0 20.6h.95M6.4 33.4h.95M19.4 15.3h.95M30.7 20.5h.95M26.2 7.1h.95M11.9 30.4h.95M8.9 27.2h.95M17.6 21.0h.95M17.6 29.9h.95M21.7 16.9h.95M17.9 14.4h.95M12.3 29.2h.95M20.3 21.5h.95M3.9 33.2h.95M8.8 33.7h.95M13.4 32.6h.95M13.3 24.4h.95M14.6 20.7h.95M23.6 18.3h.95M5.5 29.9h.95M5.7 28.3h.95M29.8 20.6h.95M7.0 27.8h.95M31.0 19.1h.95M24.0 6.3h.95M17.9 27.9h.95M16.1 26.3h.95M12.3 35.6h.95M28.4 18.1h.95M28.1 12.0h.95M3.8 37.8h.95M23.9 9.7h.95M19.6 20.3h.95M20.3 8.9h.95M27.0 18.9h.95M7.2 32.7h.95M7.3 37.8h.95M20.9 13.9h.95M20.7 14.3h.95M13.7 23.7h.95M17.9 25.5h.95M25.8 12.0h.95M11.1 39.2h.95M7.6 26.3h.95M27.5 30.1h.95M6.7 32.1h.95M22.4 14.6h.95M21.9 8.9h.95M22.7 29.0h.95M15.9 29.9h.95M27.2 5.4h.95M22.2 22.4h.95M28.6 25.1h.95M16.8 12.8h.95M8.6 33.9h.95M20.7 15.2h.95M27.0 21.7h.95M31.2 19.8h.95M11.6 28.1h.95M29.5 21.6h.95M8.4 35.7h.95M28.6 13.3h.95M24.3 26.1h.95M8.1 32.9h.95M25.6 14.9h.95M10.4 40.3h.95M11.6 27.0h.95M29.3 15.5h.95M25.7 23.7h.95M13.7 26.4h.95M29.5 23.5h.95M32.5 17.5h.95M31.5 13.5h.95M20.9 19.5h.95M24.1 22.5h.95M29.0 12.6h.95M20.6 12.4h.95M31.8 17.6h.95M8.7 40.4h.95M29.6 19.8h.95M21.1 12.1h.95M21.1 15.8h.95M24.3 14.2h.95M19.2 12.4h.95M16.3 31.6h.95M20.7 28.4h.95M23.0 17.2h.95M8.1 40.1h.95M22.2 20.9h.95M27.6 27.2h.95M30.7 16.9h.95M26.4 9.4h.95M24.9 30.1h.95M8.9 35.2h.95M25.8 5.2h.95M21.4 14.4h.95M19.7 22.9h.95M21.7 27.2h.95M22.8 10.6h.95M25.6 13.8h.95M29.6 19.7h.95M27.9 10.7h.95M8.4 34.1h.95M27.8 21.9h.95M12.4 33.5h.95M8.4 26.2h.95M8.2 38.5h.95M21.2 9.6h.95M30.8 19.4h.95M14.2 26.1h.95M6.2 38.8h.95M8.5 31.2h.95M14.1 32.1h.95M24.1 12.0h.95M9.4 39.8h.95M23.0 9.9h.95M10.9 30.5h.95M21.6 10.9h.95M15.9 17.5h.95M14.0 33.6h.95M9.0 40.0h.95M30.7 16.4h.95M25.5 21.6h.95M11.0 36.9h.95M4.9 39.3h.95M6.4 37.1h.95M25.2 22.7h.95M15.3 27.3h.95M33.9 20.4h.95M24.0 13.2h.95M4.8 37.4h.95M11.1 37.7h.95M7.5 28.2h.95M4.5 34.2h.95M26.9 15.4h.95M28.7 21.7h.95M6.2 35.6h.95M29.9 19.3h.95M21.2 26.1h.95M7.6 37.0h.95M25.4 26.2h.95M9.7 27.4h.95M17.1 12.4h.95M8.0 37.4h.95M23.0 28.9h.95M27.9 11.4h.95M22.1 25.1h.95M31.7 19.8h.95M14.0 26.0h.95M16.0 24.8h.95M24.1 10.7h.95M21.3 23.3h.95M7.1 28.3h.95M19.0 19.5h.95M25.1 24.0h.95M23.3 13.7h.95M26.8 6.8h.95M14.2 30.6h.95M4.5 35.9h.95M12.5 39.3h.95M21.8 19.6h.95M6.0 36.4h.95M27.3 13.2h.95M21.0 20.7h.95M12.8 37.7h.95M26.8 22.7h.95M21.8 7.3h.95M23.0 11.7h.95M11.2 33.3h.95M22.5 18.6h.95M11.2 31.4h.95M31.8 21.9h.95M19.7 14.3h.95M7.4 31.5h.95M6.4 38.4h.95M26.5 22.2h.95M25.2 7.2h.95M8.4 30.6h.95M29.7 17.8h.95M26.3 19.1h.95M25.9 9.5h.95M22.2 19.4h.95M26.9 17.9h.95M6.9 32.8h.95M31.3 18.8h.95M24.3 20.9h.95M13.9 35.5h.95M6.2 35.7h.95M27.7 16.4h.95M16.2 29.3h.95M14.7 35.1h.95M24.6 26.5h.95M10.9 40.1h.95M21.0 21.1h.95M21.4 19.7h.95M11.0 37.3h.95M28.7 12.6h.95M11.0 38.0h.95M17.0 25.2h.95M10.2 34.6h.95M23.8 26.0h.95M7.2 33.4h.95M26.0 20.5h.95M18.2 17.7h.95M26.1 24.4h.95M15.5 22.7h.95M28.4 21.7h.95M12.2 23.7h.95M13.1 33.0h.95M22.9 14.5h.95M25.0 15.1h.95M25.0 14.9h.95M18.3 14.2h.95M32.3 20.5h.95M21.8 14.3h.95M4.9 31.0h.95M20.7 28.8h.95M18.8 12.8h.95M17.1 14.0h.95M17.7 14.7h.95M29.3 16.2h.95M6.0 28.7h.95M8.0 31.2h.95M32.0 18.8h.95M17.2 30.6h.95M26.4 20.3h.95M5.8 34.7h.95M5.7 40.1h.95M21.3 20.3h.95" stroke="#365d8c"/>
<path d="M32.9 9.3h.95M34.1 8.5h.95M17.2 30.7h.95M26.9 6.7h.95M24.3 16.3h.95M33.5 12.7h.95M23.8 16.2h.95M14.6 35.6h.95M30.1 20.0h.95M9.0 26.0h.95M8.8 27.0h.95M23.2 16.8h.95M19.7 25.7h.95M19.7 17.2h.95M23.7 9.7h.95M19.9 20.3h.95M34.8 19.5h.95M30.9 17.7h.95M31.4 19.4h.95M29.0 7.8h.95M26.4 8.4h.95M17.4 21.8h.95M13.8 33.8h.95M26.9 11.7h.95M22.3 24.1h.95M18.0 28.0h.95M31.2 13.2h.95M25.0 14.4h.95M25.4 22.7h.95M14.1 32.2h.95M27.9 22.2h.95M19.4 19.3h.95M31.7 17.7h.95M6.7 26.8h.95M31.5 19.0h.95M27.8 4.6h.95M26.5 26.2h.95M14.1 28.8h.95M26.6 28.8h.95M12.0 27.1h.95M28.4 24.2h.95M29.8 15.9h.95M21.4 17.6h.95M8.1 31.7h.95M18.9 13.5h.95M29.6 18.2h.95M29.7 5.8h.95M27.6 4.9h.95M21.3 13.6h.95M24.7 9.9h.95M18.9 27.6h.95M9.9 40.6h.95M30.6 18.6h.95M31.3 19.9h.95M25.5 11.9h.95M29.1 13.8h.95M32.6 16.3h.95M20.1 9.7h.95M30.5 16.7h.95M23.2 26.0h.95M22.3 12.4h.95M11.3 36.2h.95M27.3 25.3h.95M10.2 32.6h.95M24.9 10.4h.95M13.8 34.0h.95M27.0 10.7h.95M27.6 14.5h.95M11.0 39.5h.95M9.5 27.4h.95M27.0 28.2h.95M26.5 26.7h.95M30.3 10.2h.95M26.7 16.0h.95M39.1 13.5h.95M29.0 18.5h.95M31.7 17.7h.95M28.1 9.2h.95M21.5 19.2h.95M27.4 26.6h.95M17.3 23.5h.95M26.7 11.2h.95M23.8 12.2h.95M24.1 13.3h.95M16.2 30.4h.95M6.8 37.0h.95M29.7 6.9h.95M20.9 11.7h.95M24.1 13.5h.95M29.0 7.1h.95M16.3 26.4h.95M29.0 6.5h.95M20.5 12.1h.95M30.4 13.5h.95M31.6 21.6h.95M20.6 12.2h.95M11.1 40.3h.95M6.9 35.2h.95M23.1 15.8h.95M28.5 17.8h.95M27.6 18.3h.95M18.2 24.8h.95M22.4 22.0h.95M33.8 20.7h.95M22.3 22.2h.95M22.8 26.8h.95M33.6 16.0h.95M33.3 6.6h.95M30.2 8.8h.95M31.8 12.6h.95M27.7 7.8h.95M26.2 13.2h.95M31.0 12.7h.95M30.4 12.7h.95M17.0 26.4h.95M28.6 16.3h.95M26.4 9.8h.95M26.6 24.2h.95M12.9 28.6h.95M12.4 37.1h.95M30.9 17.3h.95M22.0 16.6h.95M24.4 29.9h.95M16.9 15.2h.95M33.2 20.6h.95M26.6 6.9h.95" stroke="#2e708e"/>
<path d="M12.3 38.5h.95M27.0 8.5h.95M36.2 10.7h.95M31.7 10.0h.95M34.4 20.0h.95M28.2 19.9h.95M35.0 15.3h.95M18.3 11.5h.95M32.3 12.5h.95M30.9 5.8h.95M32.9 11.8h.95M32.9 17.2h.95M39.6 4.2h.95M28.4 9.9h.95M20.1 13.7h.95M33.9 19.4h.95M35.5 15.8h.95M35.1 12.0h.95M31.6 4.6h.95M6.2 27.6h.95M33.8 14.6h.95M21.3 26.6h.95M20.4 25.0h.95M39.2 3.8h.95M35.3 5.5h.95M23.7 29.2h.95M39.2 13.9h.95M15.0 33.6h.95M30.3 11.6h.95M25.5 7.5h.95M30.2 13.7h.95M37.3 10.6h.95M36.1 8.7h.95M31.5 18.2h.95M27.2 8.1h.95M27.6 6.3h.95M37.3 17.7h.95M37.6 12.8h.95M34.1 18.4h.95M30.2 13.4h.95M30.1 13.8h.95M36.8 16.5h.95M27.2 10.8h.95M29.1 13.6h.95M27.9 11.6h.95M22.2 8.2h.95M24.3 16.2h.95M14.4 25.1h.95M28.0 15.4h.95M34.7 14.4h.95M35.6 10.4h.95M33.3 7.2h.95M30.6 5.7h.95M12.6 33.8h.95M32.5 19.6h.95M39.8 11.3h.95M30.4 12.1h.95M31.1 5.6h.95M24.9 11.6h.95M35.6 16.6h.95M36.0 8.5h.95M27.6 16.5h.95M32.8 15.5h.95M38.4 13.1h.95M27.7 6.0h.95M30.8 6.3h.95M31.0 8.5h.95M9.3 34.1h.95M33.6 4.3h.95M34.8 3.5h.95M36.7 12.9h.95M21.1 20.2h.95M37.1 11.5h.95M30.7 18.6h.95M27.7 9.8h.95M41.0 11.8h.95M25.8 13.4h.95M26.5 5.4h.95M31.2 14.1h.95M31.5 11.5h.95M35.1 16.5h.95M37.6 12.2h.95M27.5 7.2h.95M10.9 27.8h.95M27.9 14.8h.95M21.5 8.1h.95" stroke="#26828e"/>
<path d="M38.1 7.4h.95M37.9 14.7h.95M35.7 8.1h.95M31.5 9.8h.95M32.7 14.8h.95M34.7 5.7h.95M35.8 11.6h.95M30.8 8.3h.95M35.0 8.5h.95M31.4 9.4h.95M35.2 11.8h.95M30.3 4.9h.95M34.1 15.7h.95M30.9 15.1h.95M37.9 12.4h.95M39.9 5.8h.95M34.6 3.2h.95M31.5 8.3h.95M39.3 6.0h.95M38.0 10.0h.95M37.0 4.6h.95M40.0 7.4h.95M32.4 13.2h.95M33.0 16.2h.95M33.0 7.5h.95M38.8 15.8h.95M37.2 8.2h.95M35.6 4.7h.95M35.8 17.4h.95M33.4 15.2h.95M39.9 6.5h.95M28.7 12.6h.95M33.4 15.0h.95M28.1 8.3h.95M37.1 15.5h.95M29.6 4.5h.95M31.7 15.7h.95M32.8 18.2h.95M34.8 15.8h.95M38.7 13.3h.95M30.5 9.0h.95M37.0 9.8h.95M31.6 14.6h.95M40.1 12.1h.95M31.5 14.5h.95M41.4 7.3h.95M37.9 8.2h.95M37.2 11.9h.95M31.2 10.1h.95M40.0 15.2h.95M39.6 3.8h.95M32.1 4.5h.95M33.5 18.0h.95M38.3 9.0h.95M36.6 13.2h.95M34.0 5.8h.95M34.7 3.2h.95M36.7 6.8h.95M37.2 16.1h.95M34.1 12.2h.95M33.5 10.4h.95M28.8 8.0h.95M33.5 16.6h.95M33.3 8.5h.95M30.2 4.4h.95M31.6 7.6h.95M32.9 13.7h.95M32.9 8.4h.95M37.8 4.2h.95M32.1 10.2h.95M38.6 5.5h.95M33.7 6.9h.95M37.9 9.4h.95M41.2 10.5h.95M30.2 9.8h.95M40.2 4.3h.95M41.6 9.8h.95M37.0 8.2h.95M38.2 5.1h.95" stroke="#22948b"/>
<path d="M30.5 5.2h.95M30.3 4.9h.95M37.3 8.3h.95M37.3 9.0h.95M39.5 5.1h.95M36.4 11.4h.95M38.1 10.8h.95M37.6 11.4h.95M39.1 14.8h.95M31.9 13.3h.95M35.9 7.7h.95M37.7 13.4h.95M40.3 7.6h.95M41.1 8.0h.95M39.8 15.3h.95M39.1 6.1h.95M38.3 5.7h.95M41.9 8.1h.95M33.5 13.0h.95M38.5 6.1h.95M32.4 11.9h.95M39.9 4.7h.95M38.4 8.9h.95M37.7 4.0h.95M35.5 3.3h.95M37.9 8.6h.95M33.1 13.5h.95M39.3 11.9h.95M40.1 4.7h.95M33.8 12.2h.95M34.3 8.3h.95M32.7 14.5h.95M31.2 7.6h.95M35.6 4.0h.95M33.3 5.8h.95M38.2 13.2h.95M40.5 8.8h.95M40.6 4.5h.95M37.3 11.7h.95M40.1 6.5h.95M37.5 7.8h.95M35.9 7.9h.95M33.3 5.6h.95M40.5 11.4h.95M41.8 8.0h.95M31.3 13.1h.95M35.5 8.4h.95M38.7 6.9h.95M29.9 13.5h.95M31.9 13.9h.95M30.6 5.7h.95M35.8 10.5h.95M34.1 12.8h.95M32.1 4.7h.95M39.1 9.3h.95M31.7 8.9h.95M29.9 11.4h.95M39.6 7.1h.95" stroke="#26a684"/>
<path d="M34.9 19.5h.95M32.0 7.6h.95M38.5 8.6h.95M31.3 6.7h.95M39.2 13.8h.95M38.3 14.9h.95M40.7 10.4h.95M36.9 5.5h.95M34.0 9.3h.95M35.8 8.8h.95M29.9 11.5h.95M29.4 7.9h.95M39.3 14.5h.95M37.6 14.7h.95M35.1 6.8h.95M39.7 5.8h.95M35.2 18.2h.95M37.2 15.4h.95M35.2 11.8h.95M38.7 14.3h.95M39.8 9.3h.95M39.9 6.1h.95M39.4 8.9h.95M34.9 9.0h.95M37.8 14.2h.95M37.4 13.7h.95M36.8 15.2h.95M39.2 8.5h.95M37.9 11.5h.95" stroke="#35b779"/>
<path d="M32.9 7.2h.95M36.5 15.1h.95" stroke="#5ac664"/>
</g>
<rect x="84.8" y="446.5" width="46.2" height="46.2" fill="none" stroke="#3a3a3a" stroke-width="1.2"/>
<text x="159.3" y="442.51" font-size="9.2" text-anchor="middle" font-style="italic" fill="#1a1a1a" textLength="18.46" lengthAdjust="spacingAndGlyphs">SPIB</text>
<g transform="translate(136.2,446.5)" fill="none" stroke-width=".95">
<path d="M11.0 40.0h.95M16.2 15.2h.95M10.1 40.5h.95M7.2 32.4h.95M20.8 19.6h.95M5.2 39.0h.95M8.8 36.2h.95M14.5 20.8h.95M17.2 30.7h.95M11.5 30.0h.95M26.9 26.2h.95M26.7 16.8h.95M14.2 21.7h.95M7.8 27.4h.95M14.6 23.8h.95M21.1 17.2h.95M5.6 35.9h.95M21.7 24.6h.95M22.4 16.0h.95M19.1 9.3h.95M19.8 15.4h.95M5.2 30.4h.95M24.6 27.4h.95M12.9 32.5h.95M4.1 31.5h.95M26.9 16.7h.95M5.4 33.6h.95M23.2 16.8h.95M18.7 23.9h.95M22.0 25.5h.95M19.7 25.7h.95M13.2 29.6h.95M23.7 9.7h.95M19.9 20.3h.95M23.0 26.1h.95M15.2 18.0h.95M29.5 23.5h.95M9.5 27.9h.95M13.9 26.8h.95M11.9 30.4h.95M8.9 27.2h.95M24.2 17.7h.95M7.6 26.5h.95M12.3 29.2h.95M20.0 26.3h.95M3.9 33.2h.95M12.2 39.2h.95M13.4 32.6h.95M12.4 25.3h.95M3.3 33.3h.95M19.3 22.8h.95M14.6 20.7h.95M23.6 18.3h.95M22.3 25.2h.95M13.8 33.8h.95M18.2 27.7h.95M19.6 27.4h.95M29.8 20.6h.95M27.5 28.2h.95M7.0 27.8h.95M18.0 28.0h.95M25.0 14.4h.95M19.7 11.2h.95M17.9 27.9h.95M16.1 26.3h.95M27.9 22.2h.95M12.3 35.6h.95M28.6 25.8h.95M20.0 15.0h.95M23.9 9.7h.95M19.6 20.3h.95M14.5 35.1h.95M11.6 29.1h.95M23.0 21.5h.95M20.3 8.9h.95M29.6 21.1h.95M6.8 36.9h.95M15.8 30.0h.95M16.5 22.9h.95M27.0 18.9h.95M14.9 17.4h.95M20.7 14.3h.95M4.4 35.2h.95M9.3 39.7h.95M17.9 25.5h.95M28.9 26.0h.95M14.0 31.7h.95M11.1 39.2h.95M27.5 30.1h.95M21.3 26.6h.95M22.4 14.6h.95M16.7 30.3h.95M15.9 29.9h.95M17.3 27.2h.95M23.7 29.2h.95M22.2 22.4h.95M28.6 25.1h.95M15.4 22.6h.95M21.6 15.9h.95M16.8 12.8h.95M14.4 27.7h.95M21.7 7.6h.95M8.6 33.9h.95M19.6 23.5h.95M15.0 33.6h.95M23.4 29.5h.95M4.8 37.9h.95M8.2 40.2h.95M4.2 37.6h.95M11.6 28.1h.95M14.8 26.9h.95M22.6 22.2h.95M27.2 26.2h.95M21.4 25.1h.95M24.3 26.1h.95M12.0 24.6h.95M18.9 13.5h.95M17.0 30.0h.95M29.5 19.7h.95M10.4 40.3h.95M13.4 31.7h.95M11.6 27.0h.95M25.7 23.7h.95M7.4 37.0h.95M21.1 11.3h.95M13.7 26.4h.95M24.1 13.2h.95M17.4 25.9h.95M24.5 26.5h.95M22.8 9.3h.95M18.0 25.0h.95M27.6 24.7h.95M14.6 21.5h.95M18.9 27.6h.95M8.7 29.8h.95M10.6 33.5h.95M5.5 30.6h.95M21.1 12.1h.95M21.1 15.8h.95M21.2 24.5h.95M17.4 29.4h.95M19.2 12.4h.95M8.1 40.1h.95M22.2 20.9h.95M27.6 27.2h.95M28.1 16.5h.95M21.4 14.4h.95M5.2 38.1h.95M22.8 10.6h.95M25.6 13.8h.95M21.9 22.3h.95M8.4 34.1h.95M8.4 38.7h.95M23.7 24.8h.95M27.8 21.9h.95M16.0 31.5h.95M21.1 12.3h.95M12.4 33.5h.95M19.7 10.3h.95M19.7 22.9h.95M8.4 26.2h.95M4.1 31.8h.95M8.2 38.5h.95M14.1 32.1h.95M22.2 19.9h.95M23.8 30.5h.95M16.2 27.2h.95M14.4 25.1h.95M10.9 30.5h.95M24.3 22.9h.95M14.0 33.6h.95M9.0 40.0h.95M12.9 31.1h.95M15.2 32.0h.95M25.2 22.7h.95M15.3 27.3h.95M7.8 37.3h.95M25.1 19.5h.95M13.8 34.0h.95M24.0 13.2h.95M6.7 27.7h.95M11.1 37.7h.95M4.3 31.5h.95M20.3 25.4h.95M4.5 34.2h.95M25.7 26.7h.95M26.9 15.4h.95M28.7 21.7h.95M22.4 10.9h.95M9.5 27.4h.95M9.0 32.5h.95M21.2 26.1h.95M12.6 33.8h.95M26.6 20.3h.95M24.0 13.5h.95M7.6 37.0h.95M20.3 28.2h.95M6.9 33.7h.95M13.0 27.6h.95M9.7 27.4h.95M8.0 37.4h.95M29.0 18.5h.95M4.2 38.0h.95M18.5 26.6h.95M28.1 9.2h.95M15.3 23.5h.95M17.3 23.5h.95M14.0 37.1h.95M13.1 35.4h.95M24.1 13.3h.95M12.3 37.0h.95M21.3 23.3h.95M7.1 28.3h.95M30.8 21.7h.95M9.6 35.2h.95M13.5 28.6h.95M6.2 28.2h.95M10.4 27.0h.95M23.3 13.7h.95M20.9 11.7h.95M19.1 23.6h.95M26.5 27.5h.95M12.5 39.3h.95M7.4 34.8h.95M21.8 19.6h.95M8.4 30.1h.95M12.7 33.4h.95M9.7 37.2h.95M25.1 17.4h.95M23.5 21.0h.95M21.0 20.7h.95M5.6 28.1h.95M12.8 37.7h.95M26.8 22.7h.95M27.6 16.5h.95M12.4 38.9h.95M23.0 11.7h.95M20.2 16.0h.95M18.2 16.7h.95M17.1 16.3h.95M16.7 30.2h.95M11.2 33.3h.95M10.8 38.8h.95M22.5 18.6h.95M16.0 15.7h.95M9.3 34.1h.95M19.7 14.3h.95M6.4 38.4h.95M17.4 29.2h.95M25.2 7.2h.95M14.2 26.8h.95M11.1 40.3h.95M5.8 38.8h.95M6.9 35.2h.95M22.2 19.4h.95M26.9 17.9h.95M15.3 19.4h.95M18.2 24.8h.95M22.4 22.0h.95M22.9 15.0h.95M23.1 30.3h.95M13.9 35.5h.95M6.2 35.7h.95M7.0 35.8h.95M11.0 37.3h.95M5.5 28.1h.95M17.0 25.2h.95M10.2 34.6h.95M14.9 24.3h.95M7.2 33.4h.95M23.0 27.0h.95M18.2 17.7h.95M16.4 26.3h.95M28.4 21.7h.95M22.3 19.2h.95M12.2 23.7h.95M27.7 26.7h.95M16.8 17.9h.95M25.0 15.1h.95M4.9 31.0h.95M20.2 9.7h.95M8.0 31.2h.95M27.9 14.8h.95M24.0 17.6h.95M26.3 25.4h.95M23.2 11.3h.95M11.6 27.1h.95M5.7 40.1h.95M7.6 41.8h.95M21.5 8.1h.95M27.5 24.0h.95M33.2 20.6h.95M21.6 22.0h.95M7.5 26.7h.95" stroke="#440154"/>
<path d="M24.2 25.6h.95M24.0 29.6h.95M14.8 26.7h.95M15.3 21.9h.95M17.3 25.7h.95M10.7 32.7h.95M24.3 15.3h.95M21.7 14.4h.95M28.3 25.8h.95M23.2 23.8h.95M29.0 19.5h.95M20.2 28.5h.95M12.3 38.5h.95M7.5 35.7h.95M26.2 13.2h.95M19.2 15.5h.95M23.8 16.2h.95M3.6 33.6h.95M18.0 18.4h.95M14.6 35.6h.95M30.1 20.0h.95M14.2 33.7h.95M9.0 26.0h.95M4.0 31.4h.95M8.8 27.0h.95M13.3 24.7h.95M23.2 8.3h.95M6.3 29.3h.95M26.2 12.4h.95M34.4 20.0h.95M26.1 25.5h.95M7.6 29.3h.95M14.4 29.5h.95M17.2 15.3h.95M21.3 14.1h.95M28.2 19.9h.95M17.7 27.6h.95M15.0 20.6h.95M19.4 15.3h.95M13.4 34.9h.95M19.7 17.2h.95M30.7 20.5h.95M18.3 11.5h.95M24.9 17.0h.95M16.7 12.8h.95M6.9 31.2h.95M17.1 26.3h.95M31.4 19.4h.95M19.6 23.8h.95M21.7 16.9h.95M22.5 30.4h.95M20.9 18.0h.95M28.1 17.7h.95M17.4 21.8h.95M17.4 23.8h.95M5.5 29.9h.95M5.7 28.3h.95M28.8 19.5h.95M18.9 15.9h.95M31.0 19.1h.95M20.1 13.7h.95M14.1 32.2h.95M9.4 30.5h.95M5.0 31.3h.95M7.8 33.0h.95M19.4 19.3h.95M28.4 18.1h.95M20.3 30.0h.95M20.9 20.2h.95M3.8 37.8h.95M14.7 31.6h.95M33.9 19.4h.95M20.3 10.5h.95M23.2 6.2h.95M5.8 29.5h.95M7.2 32.7h.95M6.2 27.6h.95M20.9 13.9h.95M13.0 27.3h.95M20.1 27.1h.95M16.2 27.0h.95M26.1 15.7h.95M18.3 15.5h.95M25.8 12.0h.95M6.7 32.1h.95M14.8 25.0h.95M21.9 8.9h.95M22.7 29.0h.95M12.0 27.1h.95M20.3 25.3h.95M6.3 33.5h.95M28.4 24.2h.95M12.4 29.2h.95M20.7 15.2h.95M29.2 23.5h.95M29.3 16.3h.95M22.2 11.2h.95M16.6 16.6h.95M23.1 17.7h.95M27.0 21.7h.95M31.2 19.8h.95M16.6 19.2h.95M17.0 14.7h.95M29.5 21.6h.95M25.6 28.3h.95M8.4 35.7h.95M14.2 27.3h.95M25.7 26.5h.95M22.4 19.6h.95M21.4 17.6h.95M7.8 40.5h.95M8.1 32.9h.95M10.5 38.6h.95M27.9 25.2h.95M21.5 29.9h.95M29.5 23.5h.95M23.4 13.0h.95M8.6 32.3h.95M11.2 25.7h.95M12.6 39.3h.95M20.6 12.4h.95M30.6 18.6h.95M30.9 20.3h.95M8.7 40.4h.95M29.6 19.8h.95M31.3 19.9h.95M15.7 24.4h.95M24.3 14.2h.95M29.1 13.8h.95M16.3 31.6h.95M20.7 28.4h.95M8.7 35.3h.95M9.9 28.4h.95M19.7 18.4h.95M8.9 35.2h.95M24.3 16.6h.95M22.9 17.5h.95M22.6 18.9h.95M29.6 19.7h.95M23.7 10.8h.95M18.6 10.4h.95M6.2 38.8h.95M22.2 8.2h.95M8.5 31.2h.95M12.4 33.9h.95M24.1 12.0h.95M9.4 39.8h.95M23.0 9.9h.95M27.4 27.5h.95M13.8 25.4h.95M20.5 26.1h.95M10.2 32.6h.95M25.5 21.6h.95M20.3 18.7h.95M11.0 36.9h.95M7.1 26.7h.95M6.4 37.1h.95M4.8 37.4h.95M7.5 28.2h.95M23.8 18.3h.95M13.0 27.0h.95M4.2 35.9h.95M6.2 35.6h.95M24.3 23.4h.95M12.2 26.9h.95M26.5 26.7h.95M25.4 26.2h.95M30.2 22.9h.95M22.9 12.9h.95M19.5 27.3h.95M25.3 11.4h.95M23.0 28.9h.95M27.9 11.4h.95M8.8 41.7h.95M10.8 29.7h.95M31.7 19.8h.95M14.0 26.0h.95M16.0 24.8h.95M22.3 9.1h.95M24.1 10.7h.95M27.3 30.1h.95M9.9 38.2h.95M6.8 37.0h.95M25.1 24.0h.95M25.4 29.2h.95M23.0 27.3h.95M4.1 31.3h.95M14.2 30.6h.95M6.2 35.9h.95M5.1 35.4h.95M16.4 27.7h.95M21.8 7.3h.95M20.1 21.4h.95M25.5 15.1h.95M29.9 13.5h.95M16.3 26.4h.95M9.4 39.6h.95M5.7 28.8h.95M20.5 12.1h.95M23.0 7.4h.95M8.4 30.6h.95M10.3 32.0h.95M20.6 12.2h.95M26.3 19.1h.95M17.6 12.6h.95M13.2 36.9h.95M23.1 15.8h.95M9.0 36.0h.95M22.1 11.0h.95M21.1 20.2h.95M28.5 17.8h.95M27.6 18.3h.95M9.5 32.7h.95M30.7 18.6h.95M22.8 26.8h.95M10.4 35.3h.95M12.6 26.1h.95M10.3 35.1h.95M25.8 13.4h.95M10.9 40.1h.95M25.1 21.1h.95M23.8 26.0h.95M26.2 13.2h.95M16.7 27.4h.95M12.1 34.0h.95M12.6 29.8h.95M26.1 24.4h.95M19.3 11.1h.95M29.1 21.9h.95M21.6 17.0h.95M17.3 25.8h.95M19.4 29.8h.95M22.6 21.6h.95M25.0 29.3h.95M13.1 33.0h.95M10.3 26.3h.95M17.0 26.4h.95M21.8 14.3h.95M20.7 28.8h.95M18.8 12.8h.95M31.4 22.5h.95M26.6 24.2h.95M12.9 28.6h.95M17.7 14.7h.95M29.3 16.2h.95M6.0 28.7h.95M19.2 9.9h.95M26.4 20.3h.95M22.0 16.6h.95M24.4 29.9h.95M13.6 29.5h.95M16.9 15.2h.95M20.8 13.0h.95M21.3 20.3h.95M5.7 39.0h.95M15.1 23.2h.95" stroke="#471a6b"/>
<path d="M21.3 12.7h.95M27.1 8.0h.95M3.7 34.0h.95M18.8 12.3h.95M22.5 16.3h.95M14.0 22.1h.95M12.8 29.4h.95M9.5 35.9h.95M21.4 11.9h.95M26.2 25.2h.95M17.7 20.0h.95M20.3 14.5h.95M26.7 21.7h.95M28.2 26.7h.95M19.7 25.6h.95M12.0 35.2h.95M8.9 27.8h.95M27.4 16.9h.95M31.9 18.5h.95M27.2 19.8h.95M17.6 18.2h.95M6.4 33.4h.95M30.9 15.1h.95M26.2 28.4h.95M7.1 32.8h.95M17.6 21.0h.95M17.9 14.4h.95M19.4 13.6h.95M21.3 14.3h.95M29.0 7.8h.95M26.4 8.4h.95M26.0 7.6h.95M26.9 11.7h.95M21.0 28.5h.95M24.0 6.3h.95M29.4 16.4h.95M23.9 21.8h.95M18.7 20.7h.95M26.2 6.7h.95M31.5 19.0h.95M20.6 28.8h.95M30.0 23.0h.95M15.5 27.6h.95M22.5 25.8h.95M13.7 23.7h.95M31.1 22.3h.95M16.5 21.7h.95M21.6 24.1h.95M27.0 29.3h.95M27.2 5.4h.95M23.4 13.6h.95M14.4 31.0h.95M13.9 33.7h.95M22.2 9.7h.95M17.0 20.1h.95M31.7 15.7h.95M28.6 13.3h.95M25.5 7.5h.95M11.4 29.3h.95M30.2 13.7h.95M25.6 14.9h.95M26.6 22.6h.95M28.4 27.7h.95M29.6 18.2h.95M28.6 22.3h.95M29.3 15.5h.95M21.3 13.6h.95M15.0 29.1h.95M27.2 8.1h.95M27.6 6.3h.95M20.9 19.5h.95M24.7 9.9h.95M24.1 22.5h.95M24.0 25.1h.95M9.9 40.6h.95M31.8 17.6h.95M22.1 18.5h.95M27.4 18.0h.95M10.1 34.6h.95M25.5 11.9h.95M30.2 13.4h.95M14.8 18.1h.95M20.1 9.7h.95M26.4 9.4h.95M24.9 30.1h.95M19.7 22.9h.95M27.2 10.8h.95M21.7 27.2h.95M27.9 11.6h.95M18.0 25.3h.95M20.6 23.9h.95M14.2 24.2h.95M21.2 9.6h.95M30.8 19.4h.95M14.2 26.1h.95M7.7 38.1h.95M24.3 16.2h.95M11.3 36.2h.95M21.6 10.9h.95M27.3 25.3h.95M4.5 38.6h.95M28.0 15.4h.95M27.6 14.5h.95M25.4 16.0h.95M11.0 39.5h.95M18.6 18.0h.95M29.9 19.3h.95M32.5 19.6h.95M17.1 12.4h.95M26.7 16.0h.95M25.3 26.3h.95M21.5 19.2h.95M28.2 16.9h.95M4.4 31.5h.95M26.7 11.2h.95M15.9 29.0h.95M16.2 30.4h.95M24.9 11.6h.95M19.0 19.5h.95M29.7 6.9h.95M4.5 35.9h.95M5.3 35.9h.95M6.0 36.4h.95M27.3 13.2h.95M24.1 13.5h.95M17.3 22.9h.95M31.3 13.1h.95M26.1 22.5h.95M20.3 16.3h.95M6.5 37.1h.95M20.0 12.6h.95M11.2 31.4h.95M19.9 11.7h.95M17.1 27.0h.95M31.8 21.9h.95M7.4 31.5h.95M31.6 21.6h.95M29.7 17.8h.95M25.9 9.5h.95M6.9 32.8h.95M36.8 15.2h.95M32.1 20.5h.95M17.4 14.8h.95M27.7 9.8h.95M24.3 20.9h.95M22.3 22.2h.95M14.7 35.1h.95M24.6 26.5h.95M21.0 21.1h.95M9.4 41.9h.95M32.6 21.4h.95M21.4 19.7h.95M12.9 39.2h.95M16.7 15.9h.95M26.0 20.5h.95M7.4 41.8h.95M31.3 20.6h.95M15.3 34.4h.95M20.8 28.0h.95M22.9 14.5h.95M27.8 22.3h.95M25.0 14.9h.95M27.3 11.3h.95M28.6 16.3h.95M7.5 31.0h.95M22.3 19.1h.95M10.9 27.8h.95M12.4 37.1h.95M25.7 29.5h.95M20.0 26.9h.95M5.8 34.7h.95M24.2 7.8h.95M26.6 6.9h.95M6.8 27.5h.95" stroke="#45327d"/>
<path d="M16.4 16.9h.95M16.6 28.3h.95M21.1 17.9h.95M26.9 6.7h.95M24.3 16.3h.95M27.0 8.5h.95M32.7 14.8h.95M26.4 22.2h.95M31.7 10.0h.95M4.3 39.3h.95M26.9 12.1h.95M26.2 7.1h.95M30.9 17.7h.95M24.9 26.7h.95M13.3 24.4h.95M28.4 9.9h.95M25.4 22.7h.95M41.1 8.0h.95M34.0 9.3h.95M28.1 12.0h.95M31.7 17.7h.95M6.7 26.8h.95M27.8 4.6h.95M26.5 26.2h.95M31.6 4.6h.95M38.3 5.7h.95M14.1 28.8h.95M7.3 37.8h.95M7.6 26.3h.95M21.2 24.4h.95M28.1 8.3h.95M20.4 25.0h.95M22.2 23.6h.95M14.6 34.9h.95M30.3 11.6h.95M8.1 31.7h.95M31.5 20.1h.95M27.6 4.9h.95M24.3 19.8h.95M19.5 17.9h.95M30.5 9.0h.95M34.1 18.4h.95M22.4 8.2h.95M26.6 14.8h.95M32.6 16.3h.95M15.1 20.3h.95M23.0 17.2h.95M30.1 13.8h.95M25.8 5.2h.95M21.8 15.8h.95M30.5 16.7h.95M27.9 10.7h.95M23.2 26.0h.95M20.1 16.4h.95M5.7 33.5h.95M22.3 12.4h.95M15.9 17.5h.95M24.9 10.4h.95M4.9 39.3h.95M8.1 27.1h.95M33.9 20.4h.95M27.0 10.7h.95M27.0 28.2h.95M33.5 18.0h.95M25.6 25.3h.95M30.3 10.2h.95M21.6 9.4h.95M30.8 17.9h.95M22.1 25.1h.95M23.8 12.2h.95M28.8 8.0h.95M33.3 8.5h.95M27.4 17.8h.95M24.3 26.8h.95M37.8 4.2h.95M34.9 9.0h.95M31.0 8.5h.95M29.0 6.5h.95M30.4 13.5h.95M37.8 14.2h.95M26.5 22.2h.95M26.9 18.6h.95M31.3 18.8h.95M33.8 20.7h.95M27.7 16.4h.95M33.3 6.6h.95M25.7 6.5h.95M16.2 29.3h.95M19.7 9.1h.95M27.6 14.1h.95M30.2 8.8h.95M14.2 24.3h.95M11.0 38.0h.95M17.6 24.5h.95M27.7 7.8h.95M15.5 22.7h.95M18.3 14.2h.95M29.9 11.4h.95M17.1 14.0h.95M17.2 30.6h.95" stroke="#3e4989"/>
<path d="M34.9 19.5h.95M38.5 8.6h.95M30.8 8.3h.95M37.3 8.3h.95M39.5 5.1h.95M34.8 19.5h.95M32.3 12.5h.95M30.9 5.8h.95M17.6 29.9h.95M32.9 17.2h.95M20.3 21.5h.95M8.8 33.7h.95M31.5 8.3h.95M37.0 4.6h.95M22.3 24.1h.95M33.0 16.2h.95M31.2 13.2h.95M29.9 11.5h.95M39.1 6.1h.95M39.9 6.5h.95M28.7 12.6h.95M33.4 15.0h.95M26.6 28.8h.95M29.8 15.9h.95M32.8 18.2h.95M31.5 13.5h.95M34.3 8.3h.95M31.6 14.6h.95M31.2 7.6h.95M29.1 13.6h.95M38.7 14.3h.95M30.6 5.7h.95M31.7 17.7h.95M27.4 26.6h.95M23.2 17.6h.95M30.4 12.1h.95M33.5 16.6h.95M26.8 6.8h.95M36.0 8.5h.95M39.4 8.9h.95M32.8 15.5h.95M31.9 13.9h.95M34.8 3.5h.95M36.7 12.9h.95M35.8 10.5h.95M34.1 12.8h.95M38.6 5.5h.95M33.6 16.0h.95M26.5 5.4h.95M39.1 9.3h.95M28.7 12.6h.95M30.2 9.8h.95M30.4 12.7h.95M32.3 20.5h.95M26.4 9.8h.95M27.5 7.2h.95M32.0 18.8h.95" stroke="#365d8c"/>
<path d="M38.1 7.4h.95M34.1 8.5h.95M37.9 14.7h.95M33.5 12.7h.95M32.0 7.6h.95M36.2 10.7h.95M30.3 4.9h.95M31.4 9.4h.95M35.0 15.3h.95M30.3 4.9h.95M31.3 6.7h.95M34.1 15.7h.95M37.6 11.4h.95M32.9 11.8h.95M38.3 14.9h.95M39.9 5.8h.95M34.6 3.2h.95M39.6 4.2h.95M39.1 14.8h.95M31.9 13.3h.95M40.0 7.4h.95M35.9 7.7h.95M32.4 13.2h.95M38.8 15.8h.95M37.2 8.2h.95M39.8 15.3h.95M32.9 7.2h.95M35.8 17.4h.95M35.5 15.8h.95M33.4 15.2h.95M29.4 7.9h.95M41.9 8.1h.95M33.5 13.0h.95M33.8 14.6h.95M38.5 6.1h.95M35.3 5.5h.95M37.1 15.5h.95M39.9 4.7h.95M38.4 8.9h.95M37.6 14.7h.95M29.6 4.5h.95M37.7 4.0h.95M35.5 3.3h.95M31.5 18.2h.95M32.5 17.5h.95M33.8 12.2h.95M29.0 12.6h.95M39.7 5.8h.95M37.6 12.8h.95M37.0 9.8h.95M40.1 12.1h.95M30.7 16.9h.95M32.7 14.5h.95M31.5 14.5h.95M35.6 4.0h.95M41.4 7.3h.95M35.2 18.2h.95M37.9 8.2h.95M33.3 5.8h.95M37.2 15.4h.95M35.2 11.8h.95M37.2 11.9h.95M40.5 8.8h.95M30.7 16.4h.95M34.7 14.4h.95M39.6 3.8h.95M40.6 4.5h.95M37.5 7.8h.95M34.1 12.2h.95M31.1 5.6h.95M35.6 16.6h.95M31.6 7.6h.95M32.9 13.7h.95M35.5 8.4h.95M38.7 6.9h.95M38.4 13.1h.95M27.7 6.0h.95M29.0 7.1h.95M32.1 10.2h.95M30.8 6.3h.95M33.6 4.3h.95M30.6 5.7h.95M32.1 4.7h.95M31.2 14.1h.95M31.5 11.5h.95M31.0 12.7h.95M37.9 9.4h.95M41.2 10.5h.95M37.6 12.2h.95M39.2 8.5h.95M40.2 4.3h.95M41.6 9.8h.95M37.0 8.2h.95M30.9 17.3h.95M37.9 11.5h.95M36.5 15.1h.95" stroke="#2e708e"/>
<path d="M32.9 9.3h.95M30.5 5.2h.95M35.7 8.1h.95M34.7 5.7h.95M35.8 11.6h.95M37.3 9.0h.95M35.2 11.8h.95M39.2 13.8h.95M37.9 12.4h.95M39.3 6.0h.95M38.0 10.0h.95M37.7 13.4h.95M40.3 7.6h.95M36.9 5.5h.95M33.0 7.5h.95M35.6 4.7h.95M35.8 8.8h.95M39.3 14.5h.95M32.4 11.9h.95M39.2 13.9h.95M34.8 15.8h.95M37.3 10.6h.95M36.1 8.7h.95M35.1 6.8h.95M38.7 13.3h.95M39.3 11.9h.95M40.1 4.7h.95M36.8 16.5h.95M38.2 13.2h.95M31.2 10.1h.95M37.3 11.7h.95M32.1 4.5h.95M38.3 9.0h.95M36.6 13.2h.95M34.0 5.8h.95M34.7 3.2h.95M39.8 11.3h.95M37.2 16.1h.95M39.1 13.5h.95M39.8 9.3h.95M39.9 6.1h.95M30.2 4.4h.95M33.3 5.6h.95M40.5 11.4h.95M41.8 8.0h.95M32.9 8.4h.95M37.4 13.7h.95M37.1 11.5h.95M41.0 11.8h.95M33.7 6.9h.95M31.8 12.6h.95M31.7 8.9h.95M38.2 5.1h.95M39.6 7.1h.95" stroke="#26828e"/>
<path d="M31.5 9.8h.95M35.0 8.5h.95M36.4 11.4h.95M38.1 10.8h.95M40.7 10.4h.95M35.1 12.0h.95M39.2 3.8h.95M29.7 5.8h.95M37.9 8.6h.95M33.1 13.5h.95M37.3 17.7h.95M35.6 10.4h.95M40.0 15.2h.95M33.3 7.2h.95M40.1 6.5h.95M36.7 6.8h.95M33.5 10.4h.95M35.9 7.9h.95M35.1 16.5h.95" stroke="#22948b"/>
</g>
<rect x="136.2" y="446.5" width="46.2" height="46.2" fill="none" stroke="#3a3a3a" stroke-width="1.2"/>
<text x="56.5" y="506.21" font-size="9.2" text-anchor="middle" font-style="italic" fill="#1a1a1a" textLength="24.6" lengthAdjust="spacingAndGlyphs">BATF3</text>
<g transform="translate(33.4,508.6)" fill="none" stroke-width=".95">
<path d="M16.2 15.2h.95M17.3 25.7h.95M10.1 40.5h.95M5.2 39.0h.95M22.5 16.3h.95M17.2 30.7h.95M28.3 25.8h.95M12.8 29.4h.95M11.5 30.0h.95M21.1 17.9h.95M28.2 26.7h.95M19.7 25.6h.95M5.6 35.9h.95M21.7 24.6h.95M4.0 31.4h.95M8.8 27.0h.95M5.2 30.4h.95M13.3 24.7h.95M12.9 32.5h.95M4.1 31.5h.95M7.6 29.3h.95M14.4 29.5h.95M17.7 27.6h.95M6.4 33.4h.95M19.7 25.7h.95M13.4 34.9h.95M13.2 29.6h.95M24.9 17.0h.95M23.0 26.1h.95M15.2 18.0h.95M9.5 27.9h.95M13.9 26.8h.95M24.9 26.7h.95M11.9 30.4h.95M8.9 27.2h.95M7.1 32.8h.95M17.6 29.9h.95M3.9 33.2h.95M8.8 33.7h.95M12.2 39.2h.95M13.4 32.6h.95M12.4 25.3h.95M13.3 24.4h.95M19.3 22.8h.95M17.4 23.8h.95M13.8 33.8h.95M18.2 27.7h.95M5.7 28.3h.95M29.8 20.6h.95M28.8 19.5h.95M27.5 28.2h.95M18.0 28.0h.95M20.1 13.7h.95M25.4 22.7h.95M9.4 30.5h.95M5.0 31.3h.95M28.4 18.1h.95M20.0 15.0h.95M20.3 30.0h.95M3.8 37.8h.95M14.7 31.6h.95M18.7 20.7h.95M20.3 10.5h.95M14.5 35.1h.95M23.2 6.2h.95M20.3 8.9h.95M5.8 29.5h.95M15.8 30.0h.95M16.5 22.9h.95M14.1 28.8h.95M13.0 27.3h.95M4.4 35.2h.95M22.5 25.8h.95M16.2 27.0h.95M9.3 39.7h.95M17.9 25.5h.95M18.3 15.5h.95M14.0 31.7h.95M7.6 26.3h.95M21.2 24.4h.95M16.5 21.7h.95M21.3 26.6h.95M20.4 25.0h.95M16.7 30.3h.95M22.7 29.0h.95M15.9 29.9h.95M12.0 27.1h.95M28.4 24.2h.95M23.7 29.2h.95M22.2 22.4h.95M19.6 23.5h.95M15.0 33.6h.95M4.8 37.9h.95M4.2 37.6h.95M11.6 28.1h.95M14.8 26.9h.95M17.0 20.1h.95M25.6 28.3h.95M8.4 35.7h.95M25.7 26.5h.95M22.4 19.6h.95M7.8 40.5h.95M26.6 22.6h.95M18.9 13.5h.95M17.0 30.0h.95M29.5 19.7h.95M10.4 40.3h.95M10.5 38.6h.95M11.6 27.0h.95M8.6 32.3h.95M19.5 17.9h.95M18.0 25.0h.95M14.6 21.5h.95M18.9 27.6h.95M20.6 12.4h.95M10.6 33.5h.95M5.5 30.6h.95M21.2 24.5h.95M10.1 34.6h.95M15.7 24.4h.95M17.4 29.4h.95M16.3 31.6h.95M8.7 35.3h.95M9.9 28.4h.95M8.9 35.2h.95M19.7 22.9h.95M21.7 27.2h.95M22.9 17.5h.95M21.9 22.3h.95M8.4 38.7h.95M27.8 21.9h.95M18.0 25.3h.95M8.4 26.2h.95M20.6 23.9h.95M8.2 38.5h.95M14.2 24.2h.95M21.2 9.6h.95M14.2 26.1h.95M6.2 38.8h.95M5.7 33.5h.95M14.1 32.1h.95M16.2 27.2h.95M12.4 33.9h.95M11.3 36.2h.95M15.9 17.5h.95M4.5 38.6h.95M25.5 21.6h.95M20.3 18.7h.95M11.0 36.9h.95M4.9 39.3h.95M7.1 26.7h.95M6.4 37.1h.95M25.2 22.7h.95M7.8 37.3h.95M6.7 27.7h.95M11.1 37.7h.95M4.3 31.5h.95M20.3 25.4h.95M11.0 39.5h.95M4.5 34.2h.95M25.7 26.7h.95M18.6 18.0h.95M9.5 27.4h.95M6.2 35.6h.95M27.0 28.2h.95M12.6 33.8h.95M26.6 20.3h.95M7.6 37.0h.95M25.4 26.2h.95M13.0 27.6h.95M9.7 27.4h.95M22.9 12.9h.95M25.6 25.3h.95M8.0 37.4h.95M25.3 26.3h.95M8.8 41.7h.95M15.3 23.5h.95M27.4 26.6h.95M17.3 23.5h.95M4.4 31.5h.95M23.2 17.6h.95M13.1 35.4h.95M14.0 26.0h.95M23.8 12.2h.95M15.9 29.0h.95M12.3 37.0h.95M16.2 30.4h.95M7.1 28.3h.95M27.3 30.1h.95M6.8 37.0h.95M6.2 28.2h.95M25.1 24.0h.95M10.4 27.0h.95M25.4 29.2h.95M23.0 27.3h.95M4.1 31.3h.95M19.1 23.6h.95M14.2 30.6h.95M4.5 35.9h.95M12.5 39.3h.95M5.3 35.9h.95M9.7 37.2h.95M5.1 35.4h.95M23.5 21.0h.95M17.3 22.9h.95M5.6 28.1h.95M12.8 37.7h.95M27.6 16.5h.95M12.4 38.9h.95M11.2 33.3h.95M6.5 37.1h.95M9.3 34.1h.95M5.7 28.8h.95M7.4 31.5h.95M10.3 32.0h.95M20.6 12.2h.95M14.2 26.8h.95M11.1 40.3h.95M6.9 35.2h.95M22.2 19.4h.95M13.2 36.9h.95M15.3 19.4h.95M6.9 32.8h.95M21.1 20.2h.95M9.5 32.7h.95M22.4 22.0h.95M23.1 30.3h.95M13.9 35.5h.95M10.4 35.3h.95M12.6 26.1h.95M7.0 35.8h.95M10.9 40.1h.95M21.4 19.7h.95M14.2 24.3h.95M11.0 37.3h.95M17.6 24.5h.95M16.7 15.9h.95M25.1 21.1h.95M17.0 25.2h.95M7.2 33.4h.95M16.7 27.4h.95M26.0 20.5h.95M7.4 41.8h.95M19.3 11.1h.95M28.4 21.7h.95M15.3 34.4h.95M19.4 29.8h.95M22.6 21.6h.95M25.0 29.3h.95M10.3 26.3h.95M27.8 22.3h.95M21.8 14.3h.95M4.9 31.0h.95M17.7 14.7h.95M6.0 28.7h.95M20.2 9.7h.95M8.0 31.2h.95M10.9 27.8h.95M17.2 30.6h.95M25.7 29.5h.95M22.0 16.6h.95M24.0 17.6h.95M20.0 26.9h.95M5.8 34.7h.95M5.7 40.1h.95M5.7 39.0h.95M7.6 41.8h.95M15.1 23.2h.95" stroke="#440154"/>
<path d="M21.3 12.7h.95M15.3 21.9h.95M3.7 34.0h.95M7.2 32.4h.95M20.8 19.6h.95M8.8 36.2h.95M14.5 20.8h.95M14.0 22.1h.95M16.6 28.3h.95M23.2 23.8h.95M9.5 35.9h.95M20.2 28.5h.95M21.4 11.9h.95M12.3 38.5h.95M14.2 21.7h.95M7.8 27.4h.95M26.7 21.7h.95M3.6 33.6h.95M18.0 18.4h.95M14.6 35.6h.95M30.1 20.0h.95M14.2 33.7h.95M9.0 26.0h.95M12.0 35.2h.95M19.1 9.3h.95M26.4 22.2h.95M26.1 25.5h.95M27.2 19.8h.95M17.6 18.2h.95M4.3 39.3h.95M17.2 15.3h.95M18.7 23.9h.95M18.3 11.5h.95M16.7 12.8h.95M6.9 31.2h.95M30.9 17.7h.95M17.6 21.0h.95M17.9 14.4h.95M12.3 29.2h.95M20.3 21.5h.95M20.0 26.3h.95M17.4 21.8h.95M3.3 33.3h.95M14.6 20.7h.95M22.3 25.2h.95M5.5 29.9h.95M21.0 28.5h.95M28.4 9.9h.95M31.0 19.1h.95M24.0 6.3h.95M17.9 27.9h.95M7.8 33.0h.95M27.9 22.2h.95M23.9 21.8h.95M20.9 20.2h.95M19.6 20.3h.95M11.6 29.1h.95M23.0 21.5h.95M20.6 28.8h.95M27.0 18.9h.95M14.9 17.4h.95M26.5 26.2h.95M7.2 32.7h.95M6.2 27.6h.95M30.0 23.0h.95M7.3 37.8h.95M20.9 13.9h.95M20.7 14.3h.95M31.1 22.3h.95M26.1 15.7h.95M6.7 32.1h.95M26.6 28.8h.95M21.9 8.9h.95M21.6 24.1h.95M27.0 29.3h.95M22.2 23.6h.95M6.3 33.5h.95M28.6 25.1h.95M12.4 29.2h.95M16.8 12.8h.95M14.4 27.7h.95M21.7 7.6h.95M20.7 15.2h.95M23.4 29.5h.95M14.4 31.0h.95M8.2 40.2h.95M16.6 16.6h.95M27.0 21.7h.95M13.9 33.7h.95M17.0 14.7h.95M29.5 21.6h.95M14.2 27.3h.95M24.3 26.1h.95M12.0 24.6h.95M28.6 22.3h.95M13.4 31.7h.95M27.9 25.2h.95M7.4 37.0h.95M21.5 29.9h.95M13.7 26.4h.95M24.3 19.8h.95M23.4 13.0h.95M17.4 25.9h.95M24.5 26.5h.95M15.0 29.1h.95M27.2 8.1h.95M11.2 25.7h.95M20.9 19.5h.95M24.7 9.9h.95M9.9 40.6h.95M30.6 18.6h.95M29.6 19.8h.95M21.1 15.8h.95M19.2 12.4h.95M22.4 8.2h.95M15.1 20.3h.95M23.0 17.2h.95M8.1 40.1h.95M20.1 9.7h.95M22.2 20.9h.95M24.9 30.1h.95M19.7 18.4h.95M21.4 14.4h.95M22.6 18.9h.95M29.6 19.7h.95M8.4 34.1h.95M23.7 24.8h.95M16.0 31.5h.95M23.2 26.0h.95M21.1 12.3h.95M20.1 16.4h.95M12.4 33.5h.95M19.7 10.3h.95M19.7 22.9h.95M18.6 10.4h.95M4.1 31.8h.95M30.8 19.4h.95M22.2 8.2h.95M8.5 31.2h.95M22.3 12.4h.95M23.8 30.5h.95M7.7 38.1h.95M24.3 16.2h.95M14.4 25.1h.95M9.4 39.8h.95M23.0 9.9h.95M27.4 27.5h.95M10.9 30.5h.95M21.6 10.9h.95M27.3 25.3h.95M10.2 32.6h.95M9.0 40.0h.95M12.9 31.1h.95M15.2 32.0h.95M15.3 27.3h.95M13.8 34.0h.95M24.0 13.2h.95M4.8 37.4h.95M23.8 18.3h.95M13.0 27.0h.95M4.2 35.9h.95M9.0 32.5h.95M24.3 23.4h.95M30.2 22.9h.95M19.5 27.3h.95M4.2 38.0h.95M10.8 29.7h.95M21.5 19.2h.95M21.3 23.3h.95M9.6 35.2h.95M13.5 28.6h.95M19.0 19.5h.95M27.4 17.8h.95M6.2 35.9h.95M7.4 34.8h.95M21.8 19.6h.95M8.4 30.1h.95M12.7 33.4h.95M6.0 36.4h.95M25.1 17.4h.95M21.0 20.7h.95M20.1 21.4h.95M20.2 16.0h.95M18.2 16.7h.95M17.1 16.3h.95M10.8 38.8h.95M20.0 12.6h.95M22.5 18.6h.95M16.0 15.7h.95M9.4 39.6h.95M11.2 31.4h.95M19.9 11.7h.95M31.8 21.9h.95M19.7 14.3h.95M6.4 38.4h.95M26.5 22.2h.95M17.4 29.2h.95M23.0 7.4h.95M31.6 21.6h.95M29.7 17.8h.95M5.8 38.8h.95M25.9 9.5h.95M17.6 12.6h.95M26.9 18.6h.95M9.0 36.0h.95M22.9 15.0h.95M17.4 14.8h.95M30.7 18.6h.95M24.3 20.9h.95M22.3 22.2h.95M6.2 35.7h.95M27.7 16.4h.95M16.2 29.3h.95M14.7 35.1h.95M19.7 9.1h.95M21.0 21.1h.95M9.4 41.9h.95M12.9 39.2h.95M11.0 38.0h.95M23.0 27.0h.95M18.2 17.7h.95M12.6 29.8h.95M26.1 24.4h.95M17.3 25.8h.95M12.2 23.7h.95M20.8 28.0h.95M27.7 26.7h.95M16.8 17.9h.95M25.0 15.1h.95M25.0 14.9h.95M18.8 12.8h.95M17.1 14.0h.95M7.5 31.0h.95M12.9 28.6h.95M22.3 19.1h.95M19.2 9.9h.95M12.4 37.1h.95M26.4 20.3h.95M11.6 27.1h.95M16.9 15.2h.95M24.2 7.8h.95M21.5 8.1h.95M6.8 27.5h.95M7.5 26.7h.95" stroke="#471a6b"/>
<path d="M24.2 25.6h.95M24.0 29.6h.95M10.7 32.7h.95M16.4 16.9h.95M18.8 12.3h.95M21.7 14.4h.95M29.0 19.5h.95M26.9 26.2h.95M7.5 35.7h.95M24.3 16.3h.95M17.7 20.0h.95M26.2 13.2h.95M19.2 15.5h.95M20.3 14.5h.95M23.8 16.2h.95M14.6 23.8h.95M21.1 17.2h.95M22.4 16.0h.95M8.9 27.8h.95M24.6 27.4h.95M6.3 29.3h.95M26.2 12.4h.95M27.4 16.9h.95M26.9 16.7h.95M34.4 20.0h.95M21.3 14.1h.95M23.2 16.8h.95M22.0 25.5h.95M15.0 20.6h.95M19.4 15.3h.95M26.9 12.1h.95M19.7 17.2h.95M23.7 9.7h.95M19.9 20.3h.95M17.1 26.3h.95M29.5 23.5h.95M31.4 19.4h.95M26.2 28.4h.95M24.2 17.7h.95M7.6 26.5h.95M21.7 16.9h.95M22.5 30.4h.95M20.9 18.0h.95M21.3 14.3h.95M26.4 8.4h.95M23.6 18.3h.95M19.6 27.4h.95M22.3 24.1h.95M7.0 27.8h.95M25.0 14.4h.95M19.7 11.2h.95M14.1 32.2h.95M19.4 19.3h.95M12.3 35.6h.95M33.9 19.4h.95M6.7 26.8h.95M23.9 9.7h.95M26.2 6.7h.95M31.5 19.0h.95M29.6 21.1h.95M6.8 36.9h.95M20.1 27.1h.95M28.9 26.0h.95M11.1 39.2h.95M27.5 30.1h.95M14.8 25.0h.95M20.3 25.3h.95M15.4 22.6h.95M14.6 34.9h.95M21.6 15.9h.95M8.6 33.9h.95M22.2 11.2h.95M23.1 17.7h.95M16.6 19.2h.95M22.6 22.2h.95M27.2 26.2h.95M21.4 25.1h.95M25.5 7.5h.95M8.1 31.7h.95M8.1 32.9h.95M11.4 29.3h.95M31.5 20.1h.95M28.4 27.7h.95M29.3 15.5h.95M25.7 23.7h.95M21.3 13.6h.95M21.1 11.3h.95M29.5 23.5h.95M24.1 22.5h.95M27.6 24.7h.95M24.0 25.1h.95M12.6 39.3h.95M8.7 40.4h.95M21.1 12.1h.95M31.3 19.9h.95M22.1 18.5h.95M25.5 11.9h.95M26.6 14.8h.95M20.7 28.4h.95M14.8 18.1h.95M27.6 27.2h.95M30.7 16.9h.95M28.1 16.5h.95M25.8 5.2h.95M5.2 38.1h.95M23.7 10.8h.95M13.8 25.4h.95M20.5 26.1h.95M24.3 22.9h.95M14.0 33.6h.95M24.9 10.4h.95M8.1 27.1h.95M25.1 19.5h.95M7.5 28.2h.95M26.9 15.4h.95M22.4 10.9h.95M29.9 19.3h.95M21.2 26.1h.95M24.0 13.5h.95M6.9 33.7h.95M21.6 9.4h.95M29.0 18.5h.95M23.0 28.9h.95M18.5 26.6h.95M28.2 16.9h.95M22.1 25.1h.95M31.7 19.8h.95M26.7 11.2h.95M24.1 13.3h.95M16.0 24.8h.95M30.8 21.7h.95M9.9 38.2h.95M24.9 11.6h.95M20.9 11.7h.95M26.5 27.5h.95M24.3 26.8h.95M24.1 13.5h.95M16.4 27.7h.95M26.1 22.5h.95M21.8 7.3h.95M23.0 11.7h.95M25.5 15.1h.95M20.3 16.3h.95M16.3 26.4h.95M16.7 30.2h.95M20.5 12.1h.95M17.1 27.0h.95M25.2 7.2h.95M8.4 30.6h.95M23.1 15.8h.95M28.5 17.8h.95M27.6 18.3h.95M18.2 24.8h.95M33.8 20.7h.95M22.8 26.8h.95M10.3 35.1h.95M24.6 26.5h.95M32.6 21.4h.95M5.5 28.1h.95M10.2 34.6h.95M14.9 24.3h.95M23.8 26.0h.95M26.2 13.2h.95M29.1 21.9h.95M16.4 26.3h.95M21.6 17.0h.95M22.3 19.2h.95M17.0 26.4h.95M32.3 20.5h.95M20.7 28.8h.95M28.6 16.3h.95M26.6 24.2h.95M27.9 14.8h.95M24.4 29.9h.95M26.3 25.4h.95M23.2 11.3h.95M13.6 29.5h.95M20.8 13.0h.95M21.3 20.3h.95M27.5 24.0h.95M21.6 22.0h.95" stroke="#45327d"/>
<path d="M11.0 40.0h.95M14.8 26.7h.95M24.3 15.3h.95M26.7 16.8h.95M27.0 8.5h.95M23.2 8.3h.95M28.2 19.9h.95M5.4 33.6h.95M30.7 20.5h.95M34.8 19.5h.95M19.6 23.8h.95M28.1 17.7h.95M18.9 15.9h.95M16.1 26.3h.95M28.6 25.8h.95M15.5 27.6h.95M28.7 12.6h.95M13.7 23.7h.95M17.3 27.2h.95M23.4 13.6h.95M29.2 23.5h.95M29.3 16.3h.95M31.2 19.8h.95M29.8 15.9h.95M21.4 17.6h.95M25.6 14.9h.95M29.6 18.2h.95M29.7 5.8h.95M36.1 8.7h.95M31.5 18.2h.95M24.1 13.2h.95M22.8 9.3h.95M29.0 12.6h.95M8.7 29.8h.95M30.9 20.3h.95M27.4 18.0h.95M24.3 14.2h.95M26.4 9.4h.95M24.3 16.6h.95M22.8 10.6h.95M25.6 13.8h.95M24.1 12.0h.95M28.0 15.4h.95M25.4 16.0h.95M28.7 21.7h.95M12.2 26.9h.95M20.3 28.2h.95M26.5 26.7h.95M32.5 19.6h.95M17.1 12.4h.95M26.7 16.0h.95M27.9 11.4h.95M14.0 37.1h.95M24.1 10.7h.95M23.3 13.7h.95M27.3 13.2h.95M26.8 22.7h.95M26.3 19.1h.95M26.9 17.9h.95M22.1 11.0h.95M25.7 6.5h.95M25.8 13.4h.95M27.6 14.1h.95M28.7 12.6h.95M12.1 34.0h.95M31.3 20.6h.95M13.1 33.0h.95M22.9 14.5h.95M26.4 9.8h.95M29.9 11.4h.95M31.4 22.5h.95M30.9 17.3h.95M33.2 20.6h.95" stroke="#3e4989"/>
<path d="M26.9 6.7h.95M26.2 25.2h.95M32.0 7.6h.95M32.7 14.8h.95M19.8 15.4h.95M26.2 7.1h.95M19.4 13.6h.95M26.9 11.7h.95M40.0 7.4h.95M29.4 16.4h.95M28.1 12.0h.95M29.4 7.9h.95M25.8 12.0h.95M22.4 14.6h.95M31.6 14.6h.95M21.8 15.8h.95M29.1 13.6h.95M27.9 11.6h.95M22.2 19.9h.95M33.9 20.4h.95M27.6 14.5h.95M25.3 11.4h.95M30.8 17.9h.95M30.4 12.1h.95M22.3 9.1h.95M33.5 16.6h.95M36.0 8.5h.95M29.9 13.5h.95M30.4 13.5h.95M31.3 18.8h.95M32.1 20.5h.95M32.1 4.7h.95M26.5 5.4h.95M27.7 7.8h.95M15.5 22.7h.95M18.3 14.2h.95M27.5 7.2h.95M29.3 16.2h.95M32.0 18.8h.95M26.6 6.9h.95" stroke="#365d8c"/>
<path d="M27.1 8.0h.95M31.5 9.8h.95M34.9 19.5h.95M34.7 5.7h.95M31.9 18.5h.95M34.1 15.7h.95M40.7 10.4h.95M32.9 17.2h.95M39.3 6.0h.95M26.0 7.6h.95M35.6 4.7h.95M31.7 17.7h.95M29.9 11.5h.95M31.6 4.6h.95M28.1 8.3h.95M39.2 3.8h.95M27.2 5.4h.95M22.2 9.7h.95M30.3 11.6h.95M28.6 13.3h.95M32.8 18.2h.95M30.2 13.7h.95M35.5 3.3h.95M38.7 13.3h.95M32.5 17.5h.95M31.5 13.5h.95M27.6 6.3h.95M37.3 17.7h.95M30.2 13.4h.95M29.1 13.8h.95M32.6 16.3h.95M30.1 13.8h.95M32.7 14.5h.95M27.2 10.8h.95M30.5 16.7h.95M27.9 10.7h.95M31.5 14.5h.95M33.3 5.8h.95M37.2 15.4h.95M30.7 16.4h.95M39.6 3.8h.95M27.0 10.7h.95M30.6 5.7h.95M33.5 18.0h.95M37.5 7.8h.95M39.8 11.3h.95M39.1 13.5h.95M28.8 8.0h.95M26.8 6.8h.95M40.5 11.4h.95M31.3 13.1h.95M30.6 5.7h.95M34.1 12.8h.95M27.7 9.8h.95M31.2 14.1h.95M31.8 12.6h.95M31.0 12.7h.95M35.1 16.5h.95M30.4 12.7h.95M27.3 11.3h.95" stroke="#2e708e"/>
<path d="M33.5 12.7h.95M35.8 11.6h.95M30.8 8.3h.95M31.4 9.4h.95M39.5 5.1h.95M35.0 15.3h.95M30.3 4.9h.95M31.3 6.7h.95M32.3 12.5h.95M30.9 15.1h.95M37.6 11.4h.95M38.3 14.9h.95M29.0 7.8h.95M39.1 14.8h.95M35.9 7.7h.95M37.7 13.4h.95M31.2 13.2h.95M33.0 7.5h.95M41.1 8.0h.95M34.0 9.3h.95M32.9 7.2h.95M35.8 17.4h.95M35.5 15.8h.95M39.1 6.1h.95M33.4 15.2h.95M39.3 14.5h.95M31.7 15.7h.95M27.6 4.9h.95M33.1 13.5h.95M39.3 11.9h.95M40.1 4.7h.95M33.8 12.2h.95M30.5 9.0h.95M34.3 8.3h.95M39.7 5.8h.95M37.6 12.8h.95M34.1 18.4h.95M40.1 12.1h.95M35.2 18.2h.95M37.9 8.2h.95M37.2 11.9h.95M40.0 15.2h.95M33.3 7.2h.95M37.3 11.7h.95M31.7 17.7h.95M39.8 9.3h.95M28.1 9.2h.95M34.1 12.2h.95M33.5 10.4h.95M31.1 5.6h.95M33.3 8.5h.95M30.2 4.4h.95M33.3 5.6h.95M29.7 6.9h.95M35.6 16.6h.95M41.8 8.0h.95M32.9 8.4h.95M32.8 15.5h.95M29.0 7.1h.95M37.8 4.2h.95M34.9 9.0h.95M31.0 8.5h.95M29.0 6.5h.95M31.9 13.9h.95M33.6 4.3h.95M37.1 11.5h.95M33.7 6.9h.95M39.1 9.3h.95M31.5 11.5h.95M30.2 8.8h.95M41.2 10.5h.95M37.6 12.2h.95M30.2 9.8h.95" stroke="#26828e"/>
<path d="M38.1 7.4h.95M30.5 5.2h.95M38.5 8.6h.95M30.3 4.9h.95M37.3 8.3h.95M31.7 10.0h.95M36.4 11.4h.95M35.2 11.8h.95M39.2 13.8h.95M34.6 3.2h.95M31.5 8.3h.95M31.9 13.3h.95M38.0 10.0h.95M37.0 4.6h.95M33.0 16.2h.95M36.9 5.5h.95M35.8 8.8h.95M27.8 4.6h.95M41.9 8.1h.95M33.4 15.0h.95M33.5 13.0h.95M33.8 14.6h.95M32.4 11.9h.95M39.2 13.9h.95M39.9 4.7h.95M38.4 8.9h.95M37.6 14.7h.95M34.8 15.8h.95M37.7 4.0h.95M37.9 8.6h.95M37.0 9.8h.95M31.2 7.6h.95M36.8 16.5h.95M38.2 13.2h.95M38.7 14.3h.95M40.6 4.5h.95M32.1 4.5h.95M40.1 6.5h.95M34.0 5.8h.95M36.7 6.8h.95M30.3 10.2h.95M37.2 16.1h.95M39.9 6.1h.95M31.6 7.6h.95M39.4 8.9h.95M38.7 6.9h.95M38.4 13.1h.95M36.7 12.9h.95M36.8 15.2h.95M33.6 16.0h.95M33.3 6.6h.95M41.0 11.8h.95M37.9 9.4h.95M39.2 8.5h.95M40.2 4.3h.95M31.7 8.9h.95M41.6 9.8h.95M37.0 8.2h.95M38.2 5.1h.95M39.6 7.1h.95" stroke="#22948b"/>
<path d="M32.9 9.3h.95M34.1 8.5h.95M37.9 14.7h.95M36.2 10.7h.95M35.0 8.5h.95M37.3 9.0h.95M37.9 12.4h.95M39.9 5.8h.95M39.6 4.2h.95M32.4 13.2h.95M40.3 7.6h.95M38.8 15.8h.95M37.2 8.2h.95M39.8 15.3h.95M39.9 6.5h.95M38.3 5.7h.95M35.3 5.5h.95M37.1 15.5h.95M29.6 4.5h.95M35.1 6.8h.95M31.8 17.6h.95M35.6 4.0h.95M41.4 7.3h.95M35.2 11.8h.95M40.5 8.8h.95M31.2 10.1h.95M34.7 14.4h.95M35.6 10.4h.95M38.3 9.0h.95M36.6 13.2h.95M34.7 3.2h.95M35.9 7.9h.95M32.9 13.7h.95M35.5 8.4h.95M27.7 6.0h.95M32.1 10.2h.95M30.8 6.3h.95M37.8 14.2h.95M34.8 3.5h.95M37.4 13.7h.95M35.8 10.5h.95M37.9 11.5h.95M36.5 15.1h.95" stroke="#26a684"/>
<path d="M35.7 8.1h.95M38.1 10.8h.95M30.9 5.8h.95M32.9 11.8h.95M35.1 12.0h.95M38.5 6.1h.95M37.3 10.6h.95M38.6 5.5h.95" stroke="#35b779"/>
</g>
<rect x="33.4" y="508.6" width="46.2" height="46.2" fill="none" stroke="#3a3a3a" stroke-width="1.2"/>
<text x="107.9" y="506.21" font-size="9.2" text-anchor="middle" font-style="italic" fill="#1a1a1a" textLength="20.11" lengthAdjust="spacingAndGlyphs">PAX5</text>
<g transform="translate(84.8,508.6)" fill="none" stroke-width=".95">
<path d="M11.0 40.0h.95M10.7 32.7h.95M26.9 26.2h.95M28.2 26.7h.95M8.9 27.8h.95M13.3 24.7h.95M4.3 39.3h.95M14.4 29.5h.95M28.2 19.9h.95M5.4 33.6h.95M7.3 37.8h.95M14.0 31.7h.95M14.6 21.5h.95M24.9 30.1h.95M22.8 10.6h.95M19.7 22.9h.95M11.0 39.5h.95M7.6 37.0h.95M15.3 23.5h.95M13.1 35.4h.95M14.0 26.0h.95M6.0 36.4h.95M6.5 37.1h.95M7.0 35.8h.95M21.4 19.7h.95M21.6 17.0h.95M7.5 26.7h.95" stroke="#440154"/>
<path d="M7.2 32.4h.95M18.8 12.3h.95M8.8 36.2h.95M28.3 25.8h.95M12.8 29.4h.95M23.2 23.8h.95M26.7 16.8h.95M20.3 14.5h.95M5.6 35.9h.95M14.2 33.7h.95M22.4 16.0h.95M12.9 32.5h.95M26.2 12.4h.95M17.6 18.2h.95M7.6 29.3h.95M23.2 16.8h.95M19.7 25.7h.95M23.7 9.7h.95M19.9 20.3h.95M16.7 12.8h.95M6.9 31.2h.95M23.0 26.1h.95M9.5 27.9h.95M17.6 29.9h.95M20.0 26.3h.95M18.2 27.7h.95M5.7 28.3h.95M19.6 27.4h.95M22.3 24.1h.95M7.0 27.8h.95M27.9 22.2h.95M3.8 37.8h.95M20.3 10.5h.95M19.6 20.3h.95M5.8 29.5h.95M20.6 28.8h.95M6.2 27.6h.95M26.6 28.8h.95M16.8 12.8h.95M15.0 33.6h.95M14.4 31.0h.95M4.2 37.6h.95M16.6 19.2h.95M13.9 33.7h.95M11.6 28.1h.95M14.2 27.3h.95M24.3 26.1h.95M11.4 29.3h.95M29.6 18.2h.95M17.0 30.0h.95M10.5 38.6h.95M11.6 27.0h.95M25.7 23.7h.95M27.9 25.2h.95M21.3 13.6h.95M23.4 13.0h.95M8.6 32.3h.95M18.9 27.6h.95M15.7 24.4h.95M16.3 31.6h.95M27.6 27.2h.95M9.9 28.4h.95M8.9 35.2h.95M21.7 27.2h.95M22.9 17.5h.95M8.4 34.1h.95M16.0 31.5h.95M21.1 12.3h.95M8.4 26.2h.95M14.1 32.1h.95M16.2 27.2h.95M12.4 33.9h.95M10.2 32.6h.95M14.0 33.6h.95M7.8 37.3h.95M24.0 13.2h.95M6.7 27.7h.95M11.1 37.7h.95M25.4 16.0h.95M20.3 25.4h.95M4.5 34.2h.95M13.0 27.0h.95M12.2 26.9h.95M6.9 33.7h.95M13.0 27.6h.95M25.6 25.3h.95M8.0 37.4h.95M21.6 9.4h.95M4.2 38.0h.95M8.8 41.7h.95M21.5 19.2h.95M14.0 37.1h.95M24.1 13.3h.95M24.1 10.7h.95M27.3 30.1h.95M9.6 35.2h.95M9.9 38.2h.95M25.4 29.2h.95M4.5 35.9h.95M12.5 39.3h.95M5.3 35.9h.95M9.7 37.2h.95M5.1 35.4h.95M25.1 17.4h.95M23.5 21.0h.95M12.8 37.7h.95M18.2 16.7h.95M17.1 16.3h.95M16.3 26.4h.95M19.9 11.7h.95M17.4 29.2h.95M14.2 26.8h.95M13.2 36.9h.95M22.1 11.0h.95M21.1 20.2h.95M27.6 18.3h.95M9.5 32.7h.95M17.4 14.8h.95M23.1 30.3h.95M6.2 35.7h.95M27.7 16.4h.95M12.6 26.1h.95M19.7 9.1h.95M11.0 37.3h.95M11.0 38.0h.95M7.4 41.8h.95M17.3 25.8h.95M18.3 14.2h.95M12.9 28.6h.95M6.0 28.7h.95M8.0 31.2h.95M12.4 37.1h.95M21.3 20.3h.95M7.6 41.8h.95M27.5 24.0h.95" stroke="#471a6b"/>
<path d="M24.0 29.6h.95M3.7 34.0h.95M17.3 25.7h.95M21.7 14.4h.95M22.5 16.3h.95M21.4 11.9h.95M21.1 17.9h.95M7.5 35.7h.95M26.9 6.7h.95M34.9 19.5h.95M26.2 25.2h.95M17.7 20.0h.95M14.2 21.7h.95M7.8 27.4h.95M21.1 17.2h.95M19.7 25.6h.95M18.0 18.4h.95M12.0 35.2h.95M30.3 4.9h.95M8.8 27.0h.95M5.2 30.4h.95M23.2 8.3h.95M4.1 31.5h.95M27.4 16.9h.95M27.2 19.8h.95M17.2 15.3h.95M17.7 27.6h.95M15.0 20.6h.95M13.4 34.9h.95M26.9 12.1h.95M18.3 11.5h.95M24.9 17.0h.95M17.1 26.3h.95M29.5 23.5h.95M30.9 17.7h.95M13.9 26.8h.95M24.9 26.7h.95M11.9 30.4h.95M8.9 27.2h.95M24.2 17.7h.95M7.6 26.5h.95M12.3 29.2h.95M20.9 18.0h.95M8.8 33.7h.95M19.4 13.6h.95M13.3 24.4h.95M19.3 22.8h.95M14.6 20.7h.95M5.5 29.9h.95M29.8 20.6h.95M27.5 28.2h.95M24.0 6.3h.95M25.4 22.7h.95M9.4 30.5h.95M7.8 33.0h.95M19.4 19.3h.95M12.3 35.6h.95M28.4 18.1h.95M20.0 15.0h.95M31.7 17.7h.95M20.3 30.0h.95M20.9 20.2h.95M29.9 11.5h.95M18.7 20.7h.95M6.7 26.8h.95M23.9 9.7h.95M11.6 29.1h.95M6.8 36.9h.95M16.5 22.9h.95M7.2 32.7h.95M15.5 27.6h.95M13.0 27.3h.95M20.1 27.1h.95M28.7 12.6h.95M22.5 25.8h.95M9.3 39.7h.95M13.7 23.7h.95M31.1 22.3h.95M17.9 25.5h.95M26.1 15.7h.95M18.3 15.5h.95M28.9 26.0h.95M27.5 30.1h.95M21.2 24.4h.95M6.7 32.1h.95M14.8 25.0h.95M16.7 30.3h.95M21.6 24.1h.95M15.9 29.9h.95M22.2 23.6h.95M6.3 33.5h.95M22.2 22.4h.95M15.4 22.6h.95M14.6 34.9h.95M12.4 29.2h.95M21.6 15.9h.95M14.4 27.7h.95M8.6 33.9h.95M19.6 23.5h.95M20.7 15.2h.95M8.2 40.2h.95M14.8 26.9h.95M22.6 22.2h.95M8.4 35.7h.95M28.6 13.3h.95M22.4 19.6h.95M21.4 17.6h.95M7.8 40.5h.95M31.5 20.1h.95M25.6 14.9h.95M12.0 24.6h.95M26.6 22.6h.95M28.4 27.7h.95M18.9 13.5h.95M28.6 22.3h.95M10.4 40.3h.95M13.4 31.7h.95M29.3 15.5h.95M7.4 37.0h.95M24.3 19.8h.95M29.5 23.5h.95M24.5 26.5h.95M19.5 17.9h.95M11.2 25.7h.95M22.8 9.3h.95M18.0 25.0h.95M24.1 22.5h.95M24.0 25.1h.95M12.6 39.3h.95M30.6 18.6h.95M8.7 40.4h.95M29.6 19.8h.95M21.1 15.8h.95M21.2 24.5h.95M19.2 12.4h.95M15.1 20.3h.95M20.7 28.4h.95M22.2 20.9h.95M30.7 16.9h.95M28.1 16.5h.95M24.3 16.6h.95M21.4 14.4h.95M27.2 10.8h.95M22.6 18.9h.95M23.7 24.8h.95M27.8 21.9h.95M12.4 33.5h.95M18.6 10.4h.95M4.1 31.8h.95M20.6 23.9h.95M8.2 38.5h.95M14.2 24.2h.95M6.2 38.8h.95M5.7 33.5h.95M22.3 12.4h.95M7.7 38.1h.95M14.4 25.1h.95M15.9 17.5h.95M27.3 25.3h.95M24.3 22.9h.95M9.0 40.0h.95M28.0 15.4h.95M24.9 10.4h.95M20.3 18.7h.95M15.2 32.0h.95M7.1 26.7h.95M6.4 37.1h.95M25.2 22.7h.95M25.1 19.5h.95M13.8 34.0h.95M4.8 37.4h.95M27.6 14.5h.95M4.3 31.5h.95M26.9 15.4h.95M4.2 35.9h.95M22.4 10.9h.95M6.2 35.6h.95M9.7 27.4h.95M22.9 12.9h.95M25.3 26.3h.95M10.8 29.7h.95M28.1 9.2h.95M27.4 26.6h.95M17.3 23.5h.95M22.1 25.1h.95M4.4 31.5h.95M26.7 11.2h.95M23.8 12.2h.95M15.9 29.0h.95M16.0 24.8h.95M21.3 23.3h.95M7.1 28.3h.95M30.8 21.7h.95M6.8 37.0h.95M10.4 27.0h.95M19.1 23.6h.95M14.2 30.6h.95M6.2 35.9h.95M7.4 34.8h.95M24.1 13.5h.95M21.0 20.7h.95M16.4 27.7h.95M17.3 22.9h.95M27.6 16.5h.95M20.3 16.3h.95M20.0 12.6h.95M22.5 18.6h.95M9.4 39.6h.95M20.5 12.1h.95M31.8 21.9h.95M19.7 14.3h.95M6.4 38.4h.95M29.7 17.8h.95M5.8 38.8h.95M25.9 9.5h.95M6.9 35.2h.95M22.2 19.4h.95M26.9 18.6h.95M23.1 15.8h.95M9.0 36.0h.95M18.2 24.8h.95M22.4 22.0h.95M22.9 15.0h.95M32.1 20.5h.95M22.3 22.2h.95M10.3 35.1h.95M14.7 35.1h.95M24.6 26.5h.95M25.8 13.4h.95M21.0 21.1h.95M32.6 21.4h.95M14.2 24.3h.95M5.5 28.1h.95M16.7 15.9h.95M10.2 34.6h.95M27.7 7.8h.95M23.8 26.0h.95M7.2 33.4h.95M26.1 24.4h.95M15.5 22.7h.95M37.9 9.4h.95M35.1 16.5h.95M16.4 26.3h.95M12.2 23.7h.95M20.8 28.0h.95M13.1 33.0h.95M10.3 26.3h.95M25.0 14.9h.95M27.3 11.3h.95M17.0 26.4h.95M4.9 31.0h.95M18.8 12.8h.95M17.1 14.0h.95M22.3 19.1h.95M20.2 9.7h.95M27.9 14.8h.95M25.7 29.5h.95M22.0 16.6h.95M24.0 17.6h.95M24.4 29.9h.95M20.0 26.9h.95M23.2 11.3h.95M13.6 29.5h.95M16.9 15.2h.95M5.7 39.0h.95M15.1 23.2h.95M26.6 6.9h.95" stroke="#45327d"/>
<path d="M24.2 25.6h.95M16.2 15.2h.95M15.3 21.9h.95M10.1 40.5h.95M24.3 15.3h.95M5.2 39.0h.95M14.5 20.8h.95M17.2 30.7h.95M14.0 22.1h.95M20.2 28.5h.95M11.5 30.0h.95M12.3 38.5h.95M27.0 8.5h.95M26.2 13.2h.95M19.2 15.5h.95M26.7 21.7h.95M23.8 16.2h.95M3.6 33.6h.95M14.6 35.6h.95M9.0 26.0h.95M4.0 31.4h.95M35.8 11.6h.95M19.1 9.3h.95M26.4 22.2h.95M26.1 25.5h.95M31.9 18.5h.95M18.7 23.9h.95M22.0 25.5h.95M6.4 33.4h.95M19.4 15.3h.95M19.7 17.2h.95M30.7 20.5h.95M15.2 18.0h.95M31.4 19.4h.95M19.6 23.8h.95M7.1 32.8h.95M17.6 21.0h.95M21.7 16.9h.95M20.3 21.5h.95M21.3 14.3h.95M29.0 7.8h.95M12.2 39.2h.95M13.4 32.6h.95M28.1 17.7h.95M17.4 21.8h.95M3.3 33.3h.95M23.6 18.3h.95M22.3 25.2h.95M31.9 13.3h.95M26.0 7.6h.95M26.9 11.7h.95M21.0 28.5h.95M32.4 13.2h.95M28.4 9.9h.95M28.8 19.5h.95M18.0 28.0h.95M18.9 15.9h.95M33.0 7.5h.95M20.1 13.7h.95M17.9 27.9h.95M5.0 31.3h.95M16.1 26.3h.95M23.9 21.8h.95M28.1 12.0h.95M28.6 25.8h.95M14.7 31.6h.95M14.5 35.1h.95M26.2 6.7h.95M31.5 19.0h.95M23.0 21.5h.95M20.3 8.9h.95M15.8 30.0h.95M14.9 17.4h.95M38.3 5.7h.95M14.1 28.8h.95M30.0 23.0h.95M20.9 13.9h.95M11.1 39.2h.95M7.6 26.3h.95M21.3 26.6h.95M20.4 25.0h.95M22.4 14.6h.95M22.7 29.0h.95M17.3 27.2h.95M27.0 29.3h.95M12.0 27.1h.95M32.4 11.9h.95M28.4 24.2h.95M23.7 29.2h.95M28.6 25.1h.95M23.4 13.6h.95M23.4 29.5h.95M29.2 23.5h.95M4.8 37.9h.95M16.6 16.6h.95M23.1 17.7h.95M27.0 21.7h.95M22.2 9.7h.95M17.0 14.7h.95M29.5 21.6h.95M29.8 15.9h.95M25.6 28.3h.95M21.4 25.1h.95M25.7 26.5h.95M25.5 7.5h.95M8.1 31.7h.95M32.8 18.2h.95M29.5 19.7h.95M21.5 29.9h.95M13.7 26.4h.95M32.5 17.5h.95M20.9 19.5h.95M9.9 40.6h.95M10.6 33.5h.95M5.5 30.6h.95M21.1 12.1h.95M22.1 18.5h.95M10.1 34.6h.95M25.5 11.9h.95M24.3 14.2h.95M17.4 29.4h.95M22.4 8.2h.95M26.6 14.8h.95M23.0 17.2h.95M8.7 35.3h.95M14.8 18.1h.95M30.1 13.8h.95M25.8 5.2h.95M5.2 38.1h.95M19.7 22.9h.95M21.8 15.8h.95M25.6 13.8h.95M30.5 16.7h.95M21.9 22.3h.95M8.4 38.7h.95M27.9 11.6h.95M19.7 10.3h.95M18.0 25.3h.95M30.8 19.4h.95M22.2 8.2h.95M22.2 19.9h.95M23.8 30.5h.95M24.1 12.0h.95M9.4 39.8h.95M23.0 9.9h.95M11.3 36.2h.95M37.2 15.4h.95M13.8 25.4h.95M10.9 30.5h.95M21.6 10.9h.95M4.5 38.6h.95M20.5 26.1h.95M35.2 11.8h.95M12.9 31.1h.95M4.9 39.3h.95M27.0 10.7h.95M7.5 28.2h.95M18.6 18.0h.95M9.5 27.4h.95M9.0 32.5h.95M27.0 28.2h.95M24.3 23.4h.95M29.9 19.3h.95M21.2 26.1h.95M24.0 13.5h.95M25.4 26.2h.95M32.5 19.6h.95M17.1 12.4h.95M19.5 27.3h.95M26.7 16.0h.95M30.8 17.9h.95M23.0 28.9h.95M18.5 26.6h.95M27.9 11.4h.95M23.2 17.6h.95M22.3 9.1h.95M16.2 30.4h.95M13.5 28.6h.95M24.9 11.6h.95M19.0 19.5h.95M6.2 28.2h.95M25.1 24.0h.95M29.7 6.9h.95M23.3 13.7h.95M23.0 27.3h.95M20.9 11.7h.95M26.5 27.5h.95M24.3 26.8h.95M21.8 19.6h.95M8.4 30.1h.95M5.6 28.1h.95M26.8 22.7h.95M12.4 38.9h.95M26.1 22.5h.95M21.8 7.3h.95M20.1 21.4h.95M23.0 11.7h.95M25.5 15.1h.95M29.9 13.5h.95M34.9 9.0h.95M11.2 33.3h.95M30.8 6.3h.95M10.8 38.8h.95M9.3 34.1h.95M5.7 28.8h.95M11.2 31.4h.95M17.1 27.0h.95M37.8 14.2h.95M7.4 31.5h.95M26.5 22.2h.95M23.0 7.4h.95M10.3 32.0h.95M11.1 40.3h.95M26.3 19.1h.95M26.9 17.9h.95M15.3 19.4h.95M6.9 32.8h.95M28.5 17.8h.95M27.7 9.8h.95M24.3 20.9h.95M22.8 26.8h.95M13.9 35.5h.95M33.3 6.6h.95M25.7 6.5h.95M9.4 41.9h.95M12.9 39.2h.95M27.6 14.1h.95M17.6 24.5h.95M17.0 25.2h.95M14.9 24.3h.95M23.0 27.0h.95M26.2 13.2h.95M12.1 34.0h.95M26.0 20.5h.95M12.6 29.8h.95M31.3 20.6h.95M29.1 21.9h.95M15.3 34.4h.95M22.6 21.6h.95M27.7 26.7h.95M25.0 29.3h.95M16.8 17.9h.95M22.9 14.5h.95M25.0 15.1h.95M21.8 14.3h.95M28.6 16.3h.95M7.5 31.0h.95M27.5 7.2h.95M17.7 14.7h.95M29.3 16.2h.95M10.9 27.8h.95M19.2 9.9h.95M17.2 30.6h.95M30.9 17.3h.95M26.4 20.3h.95M11.6 27.1h.95M5.8 34.7h.95M21.6 22.0h.95" stroke="#3e4989"/>
<path d="M38.1 7.4h.95M21.3 12.7h.95M37.9 14.7h.95M14.8 26.7h.95M16.4 16.9h.95M20.8 19.6h.95M35.7 8.1h.95M16.6 28.3h.95M9.5 35.9h.95M29.0 19.5h.95M24.3 16.3h.95M33.5 12.7h.95M32.0 7.6h.95M14.6 23.8h.95M21.7 24.6h.95M30.8 8.3h.95M19.8 15.4h.95M24.6 27.4h.95M31.7 10.0h.95M6.3 29.3h.95M26.9 16.7h.95M31.4 9.4h.95M21.3 14.1h.95M35.0 15.3h.95M13.2 29.6h.95M26.2 7.1h.95M34.8 19.5h.95M32.3 12.5h.95M40.7 10.4h.95M26.2 28.4h.95M32.9 17.2h.95M3.9 33.2h.95M26.4 8.4h.95M12.4 25.3h.95M31.5 8.3h.95M17.4 23.8h.95M13.8 33.8h.95M40.3 7.6h.95M31.0 19.1h.95M36.9 5.5h.95M25.0 14.4h.95M19.7 11.2h.95M14.1 32.2h.95M29.4 16.4h.95M33.9 19.4h.95M33.4 15.2h.95M29.4 7.9h.95M23.2 6.2h.95M29.6 21.1h.95M20.7 14.3h.95M4.4 35.2h.95M16.2 27.0h.95M25.8 12.0h.95M16.5 21.7h.95M21.9 8.9h.95M20.3 25.3h.95M21.7 7.6h.95M29.3 16.3h.95M22.2 11.2h.95M29.6 4.5h.95M17.0 20.1h.95M31.7 15.7h.95M8.1 32.9h.95M27.6 4.9h.95M21.1 11.3h.95M31.5 18.2h.95M24.1 13.2h.95M15.0 29.1h.95M27.2 8.1h.95M27.6 6.3h.95M27.6 24.7h.95M29.0 12.6h.95M8.7 29.8h.95M20.6 12.4h.95M30.5 9.0h.95M30.9 20.3h.95M31.3 19.9h.95M39.7 5.8h.95M27.4 18.0h.95M29.1 13.8h.95M32.6 16.3h.95M8.1 40.1h.95M20.1 9.7h.95M26.4 9.4h.95M19.7 18.4h.95M31.2 7.6h.95M29.6 19.7h.95M23.7 10.8h.95M23.2 26.0h.95M41.4 7.3h.95M21.2 9.6h.95M14.2 26.1h.95M33.3 5.8h.95M8.5 31.2h.95M24.3 16.2h.95M27.4 27.5h.95M37.2 11.9h.95M30.7 16.4h.95M25.5 21.6h.95M11.0 36.9h.95M34.7 14.4h.95M15.3 27.3h.95M33.9 20.4h.95M23.8 18.3h.95M40.1 6.5h.95M25.7 26.7h.95M28.7 21.7h.95M12.6 33.8h.95M26.6 20.3h.95M26.5 26.7h.95M38.3 9.0h.95M30.2 22.9h.95M34.0 5.8h.95M34.7 3.2h.95M25.3 11.4h.95M29.0 18.5h.95M31.7 17.7h.95M31.7 19.8h.95M33.5 10.4h.95M12.3 37.0h.95M31.1 5.6h.95M33.3 5.6h.95M4.1 31.3h.95M27.4 17.8h.95M41.8 8.0h.95M36.0 8.5h.95M12.7 33.4h.95M31.3 13.1h.95M35.5 8.4h.95M20.2 16.0h.95M38.7 6.9h.95M38.4 13.1h.95M32.1 10.2h.95M16.7 30.2h.95M31.0 8.5h.95M29.0 6.5h.95M16.0 15.7h.95M30.4 13.5h.95M8.4 30.6h.95M31.6 21.6h.95M20.6 12.2h.95M34.8 3.5h.95M33.8 20.7h.95M30.7 18.6h.95M10.4 35.3h.95M16.2 29.3h.95M41.0 11.8h.95M10.9 40.1h.95M39.1 9.3h.95M31.8 12.6h.95M25.1 21.1h.95M16.7 27.4h.95M18.2 17.7h.95M19.3 11.1h.95M22.3 19.2h.95M19.4 29.8h.95M27.8 22.3h.95M30.4 12.7h.95M32.3 20.5h.95M20.7 28.8h.95M26.4 9.8h.95M31.4 22.5h.95M26.6 24.2h.95M26.3 25.4h.95M5.7 40.1h.95M24.2 7.8h.95M20.8 13.0h.95M33.2 20.6h.95M6.8 27.5h.95" stroke="#365d8c"/>
<path d="M34.1 8.5h.95M27.1 8.0h.95M30.5 5.2h.95M30.1 20.0h.95M38.5 8.6h.95M34.4 20.0h.95M37.3 9.0h.95M30.3 4.9h.95M30.9 15.1h.95M37.9 12.4h.95M38.3 14.9h.95M39.9 5.8h.95M22.5 30.4h.95M39.6 4.2h.95M39.3 6.0h.95M39.1 14.8h.95M38.0 10.0h.95M37.0 4.6h.95M40.0 7.4h.95M33.0 16.2h.95M38.8 15.8h.95M37.2 8.2h.95M39.8 15.3h.95M34.0 9.3h.95M32.9 7.2h.95M35.8 17.4h.95M27.8 4.6h.95M39.3 14.5h.95M26.5 26.2h.95M33.4 15.0h.95M33.5 13.0h.95M33.8 14.6h.95M28.1 8.3h.95M39.2 3.8h.95M38.5 6.1h.95M27.2 5.4h.95M35.3 5.5h.95M38.4 8.9h.95M31.2 19.8h.95M27.2 26.2h.95M30.2 13.7h.95M37.3 10.6h.95M29.7 5.8h.95M37.9 8.6h.95M38.7 13.3h.95M39.3 11.9h.95M17.4 25.9h.95M31.5 13.5h.95M33.8 12.2h.95M24.7 9.9h.95M31.8 17.6h.95M37.6 12.8h.95M34.1 18.4h.95M30.2 13.4h.95M31.6 14.6h.95M32.7 14.5h.95M36.8 16.5h.95M29.1 13.6h.95M27.9 10.7h.95M20.1 16.4h.95M35.6 4.0h.95M38.2 13.2h.95M8.1 27.1h.95M40.0 15.2h.95M39.6 3.8h.95M33.3 7.2h.95M32.1 4.5h.95M33.5 18.0h.95M20.3 28.2h.95M36.6 13.2h.95M37.2 16.1h.95M39.8 9.3h.95M28.2 16.9h.95M34.1 12.2h.95M28.8 8.0h.95M33.5 16.6h.95M35.9 7.9h.95M26.8 6.8h.95M40.5 11.4h.95M27.3 13.2h.95M32.9 8.4h.95M32.8 15.5h.95M25.2 7.2h.95M33.6 4.3h.95M17.6 12.6h.95M36.7 12.9h.95M30.6 5.7h.95M37.4 13.7h.95M37.1 11.5h.95M38.6 5.5h.95M32.1 4.7h.95M26.5 5.4h.95M31.2 14.1h.95M30.2 8.8h.95M28.7 12.6h.95M28.4 21.7h.95M37.6 12.2h.95M40.2 4.3h.95M31.7 8.9h.95M41.6 9.8h.95M32.0 18.8h.95M37.9 11.5h.95" stroke="#2e708e"/>
<path d="M32.9 9.3h.95M31.5 9.8h.95M32.7 14.8h.95M36.2 10.7h.95M37.3 8.3h.95M35.0 8.5h.95M39.5 5.1h.95M36.4 11.4h.95M35.2 11.8h.95M38.1 10.8h.95M34.1 15.7h.95M39.2 13.8h.95M37.6 11.4h.95M32.9 11.8h.95M17.9 14.4h.95M35.9 7.7h.95M37.7 13.4h.95M31.2 13.2h.95M41.1 8.0h.95M35.5 15.8h.95M39.1 6.1h.95M35.1 12.0h.95M39.9 6.5h.95M27.0 18.9h.95M31.6 4.6h.95M41.9 8.1h.95M39.2 13.9h.95M37.1 15.5h.95M37.6 14.7h.95M30.3 11.6h.95M34.8 15.8h.95M36.1 8.7h.95M35.1 6.8h.95M40.1 4.7h.95M37.0 9.8h.95M31.5 14.5h.95M35.2 18.2h.95M37.9 8.2h.95M31.2 10.1h.95M38.7 14.3h.95M35.6 10.4h.95M37.3 11.7h.95M30.6 5.7h.95M37.5 7.8h.95M39.8 11.3h.95M36.7 6.8h.95M30.4 12.1h.95M33.3 8.5h.95M30.2 4.4h.95M35.6 16.6h.95M31.6 7.6h.95M39.4 8.9h.95M27.7 6.0h.95M29.0 7.1h.95M31.9 13.9h.95M34.1 12.8h.95M31.3 18.8h.95M36.8 15.2h.95M33.6 16.0h.95M33.7 6.9h.95M31.5 11.5h.95M41.2 10.5h.95M30.2 9.8h.95M39.2 8.5h.95M29.9 11.4h.95M37.0 8.2h.95M38.2 5.1h.95M39.6 7.1h.95M36.5 15.1h.95M21.5 8.1h.95" stroke="#26828e"/>
<path d="M31.3 6.7h.95M34.6 3.2h.95M35.8 8.8h.95M37.7 4.0h.95M35.5 3.3h.95M33.1 13.5h.95M37.3 17.7h.95M34.3 8.3h.95M40.1 12.1h.95M40.6 4.5h.95M30.3 10.2h.95M39.1 13.5h.95M39.9 6.1h.95M32.9 13.7h.95M37.8 4.2h.95M35.8 10.5h.95M31.0 12.7h.95" stroke="#22948b"/>
<path d="M34.7 5.7h.95M30.9 5.8h.95M35.6 4.7h.95M39.9 4.7h.95M40.5 8.8h.95" stroke="#26a684"/>
</g>
<rect x="84.8" y="508.6" width="46.2" height="46.2" fill="none" stroke="#3a3a3a" stroke-width="1.2"/>
<text x="159.3" y="506.21" font-size="9.2" text-anchor="middle" font-style="italic" fill="#1a1a1a" textLength="27.46" lengthAdjust="spacingAndGlyphs">RUNX3</text>
<g transform="translate(136.2,508.6)" fill="none" stroke-width=".95">
<path d="M7.6 29.3h.95M8.8 33.7h.95M14.6 20.7h.95M8.4 38.7h.95M6.9 33.7h.95M5.7 40.1h.95" stroke="#440154"/>
<path d="M11.0 40.0h.95M7.5 35.7h.95M14.2 33.7h.95M12.0 35.2h.95M13.3 24.7h.95M4.1 31.5h.95M6.4 33.4h.95M9.5 27.9h.95M11.9 30.4h.95M3.9 33.2h.95M3.3 33.3h.95M18.0 28.0h.95M9.4 30.5h.95M12.3 35.6h.95M6.8 36.9h.95M20.6 28.8h.95M6.7 32.1h.95M6.3 33.5h.95M28.6 25.1h.95M8.1 32.9h.95M13.4 31.7h.95M10.1 34.6h.95M8.5 31.2h.95M12.4 33.9h.95M20.3 18.7h.95M9.7 27.4h.95M23.8 12.2h.95M9.6 35.2h.95M13.5 28.6h.95M7.4 34.8h.95M12.7 33.4h.95M6.0 36.4h.95M5.1 35.4h.95M5.6 28.1h.95M10.3 32.0h.95M6.9 35.2h.95M9.0 36.0h.95M10.9 40.1h.95M11.0 37.3h.95M15.3 34.4h.95M6.8 27.5h.95" stroke="#471a6b"/>
<path d="M16.2 15.2h.95M15.3 21.9h.95M10.7 32.7h.95M7.2 32.4h.95M20.8 19.6h.95M8.8 36.2h.95M17.2 30.7h.95M12.8 29.4h.95M12.3 38.5h.95M14.6 35.6h.95M4.0 31.4h.95M12.9 32.5h.95M21.3 14.1h.95M13.2 29.6h.95M6.9 31.2h.95M17.6 21.0h.95M17.6 29.9h.95M17.4 21.8h.95M17.4 23.8h.95M19.7 11.2h.95M20.9 20.2h.95M3.8 37.8h.95M14.5 35.1h.95M11.6 29.1h.95M23.0 21.5h.95M16.5 22.9h.95M26.5 26.2h.95M6.2 27.6h.95M7.3 37.8h.95M9.3 39.7h.95M17.9 25.5h.95M11.1 39.2h.95M7.6 26.3h.95M22.2 22.4h.95M14.6 34.9h.95M16.8 12.8h.95M14.4 27.7h.95M8.6 33.9h.95M29.2 23.5h.95M14.4 31.0h.95M4.2 37.6h.95M8.4 35.7h.95M7.8 40.5h.95M28.6 22.3h.95M10.4 40.3h.95M21.5 29.9h.95M24.1 13.2h.95M8.6 32.3h.95M12.6 39.3h.95M8.7 29.8h.95M9.9 40.6h.95M21.1 12.1h.95M15.1 20.3h.95M8.7 35.3h.95M24.9 30.1h.95M21.7 27.2h.95M27.8 21.9h.95M16.0 31.5h.95M19.7 22.9h.95M20.6 23.9h.95M5.7 33.5h.95M7.7 38.1h.95M11.3 36.2h.95M10.9 30.5h.95M14.0 33.6h.95M11.0 36.9h.95M15.2 32.0h.95M25.2 22.7h.95M15.3 27.3h.95M7.8 37.3h.95M25.1 19.5h.95M6.7 27.7h.95M4.8 37.4h.95M7.5 28.2h.95M9.0 32.5h.95M21.2 26.1h.95M8.0 37.4h.95M4.2 38.0h.95M15.3 23.5h.95M4.4 31.5h.95M21.3 23.3h.95M7.1 28.3h.95M9.9 38.2h.95M6.8 37.0h.95M8.4 30.1h.95M23.5 21.0h.95M16.4 27.7h.95M17.3 22.9h.95M26.8 22.7h.95M12.4 38.9h.95M16.7 30.2h.95M10.8 38.8h.95M9.3 34.1h.95M9.4 39.6h.95M6.4 38.4h.95M8.4 30.6h.95M5.8 38.8h.95M13.2 36.9h.95M28.5 17.8h.95M31.3 18.8h.95M6.2 35.7h.95M12.6 26.1h.95M10.3 35.1h.95M16.2 29.3h.95M7.0 35.8h.95M9.4 41.9h.95M11.0 38.0h.95M23.8 26.0h.95M26.0 20.5h.95M7.4 41.8h.95M19.4 29.8h.95M29.9 11.4h.95M6.0 28.7h.95M8.0 31.2h.95M24.0 17.6h.95M24.4 29.9h.95M26.3 25.4h.95M13.6 29.5h.95M16.9 15.2h.95M21.3 20.3h.95M5.7 39.0h.95" stroke="#45327d"/>
<path d="M27.1 8.0h.95M3.7 34.0h.95M10.1 40.5h.95M16.4 16.9h.95M21.7 14.4h.95M16.6 28.3h.95M9.5 35.9h.95M11.5 30.0h.95M26.9 26.2h.95M17.7 20.0h.95M14.2 21.7h.95M7.8 27.4h.95M26.7 21.7h.95M28.2 26.7h.95M23.8 16.2h.95M14.6 23.8h.95M21.1 17.2h.95M22.4 16.0h.95M9.0 26.0h.95M19.8 15.4h.95M5.2 30.4h.95M8.9 27.8h.95M24.6 27.4h.95M23.2 8.3h.95M6.3 29.3h.95M26.2 12.4h.95M26.1 25.5h.95M4.3 39.3h.95M14.4 29.5h.95M5.4 33.6h.95M15.0 20.6h.95M19.7 25.7h.95M19.9 20.3h.95M23.0 26.1h.95M17.1 26.3h.95M7.6 26.5h.95M20.3 21.5h.95M21.3 14.3h.95M12.4 25.3h.95M19.3 22.8h.95M23.6 18.3h.95M22.3 25.2h.95M5.5 29.9h.95M5.7 28.3h.95M32.4 13.2h.95M19.6 27.4h.95M25.0 14.4h.95M24.0 6.3h.95M17.9 27.9h.95M14.1 32.2h.95M5.0 31.3h.95M7.8 33.0h.95M16.1 26.3h.95M27.9 22.2h.95M19.4 19.3h.95M14.7 31.6h.95M19.6 20.3h.95M23.2 6.2h.95M5.8 29.5h.95M27.0 18.9h.95M14.1 28.8h.95M15.5 27.6h.95M20.9 13.9h.95M13.0 27.3h.95M22.5 25.8h.95M13.7 23.7h.95M26.1 15.7h.95M14.0 31.7h.95M27.5 30.1h.95M26.6 28.8h.95M16.7 30.3h.95M15.9 29.9h.95M27.0 29.3h.95M12.0 27.1h.95M22.2 23.6h.95M20.3 25.3h.95M28.4 24.2h.95M15.4 22.6h.95M12.4 29.2h.95M21.6 15.9h.95M20.7 15.2h.95M15.0 33.6h.95M23.4 29.5h.95M4.8 37.9h.95M8.2 40.2h.95M16.6 16.6h.95M31.2 19.8h.95M16.6 19.2h.95M13.9 33.7h.95M11.6 28.1h.95M30.3 11.6h.95M14.2 27.3h.95M21.4 25.1h.95M22.4 19.6h.95M24.3 26.1h.95M8.1 31.7h.95M11.4 29.3h.95M18.9 13.5h.95M17.0 30.0h.95M10.5 38.6h.95M29.3 15.5h.95M27.9 25.2h.95M7.4 37.0h.95M13.7 26.4h.95M23.4 13.0h.95M15.0 29.1h.95M27.2 8.1h.95M24.1 22.5h.95M14.6 21.5h.95M24.0 25.1h.95M10.6 33.5h.95M5.5 30.6h.95M31.3 19.9h.95M22.1 18.5h.95M21.2 24.5h.95M24.3 14.2h.95M17.4 29.4h.95M23.0 17.2h.95M20.1 9.7h.95M27.6 27.2h.95M19.7 18.4h.95M5.2 38.1h.95M22.9 17.5h.95M8.4 34.1h.95M21.1 12.3h.95M20.1 16.4h.95M12.4 33.5h.95M18.0 25.3h.95M8.4 26.2h.95M8.2 38.5h.95M6.2 38.8h.95M14.1 32.1h.95M22.3 12.4h.95M16.2 27.2h.95M9.4 39.8h.95M13.8 25.4h.95M21.6 10.9h.95M27.3 25.3h.95M10.2 32.6h.95M12.9 31.1h.95M25.5 21.6h.95M7.1 26.7h.95M6.4 37.1h.95M13.8 34.0h.95M11.1 37.7h.95M4.3 31.5h.95M20.3 25.4h.95M11.0 39.5h.95M25.7 26.7h.95M4.2 35.9h.95M9.5 27.4h.95M6.2 35.6h.95M24.3 23.4h.95M12.6 33.8h.95M33.5 18.0h.95M26.6 20.3h.95M7.6 37.0h.95M25.4 26.2h.95M22.9 12.9h.95M17.1 12.4h.95M19.5 27.3h.95M23.0 28.9h.95M18.5 26.6h.95M8.8 41.7h.95M10.8 29.7h.95M22.1 25.1h.95M14.0 37.1h.95M13.1 35.4h.95M14.0 26.0h.95M22.3 9.1h.95M24.1 10.7h.95M16.2 30.4h.95M27.3 30.1h.95M24.9 11.6h.95M6.2 28.2h.95M10.4 27.0h.95M19.1 23.6h.95M4.5 35.9h.95M12.5 39.3h.95M5.3 35.9h.95M6.2 35.9h.95M21.8 19.6h.95M26.1 22.5h.95M23.0 11.7h.95M20.3 16.3h.95M17.1 16.3h.95M16.3 26.4h.95M6.5 37.1h.95M20.0 12.6h.95M11.2 31.4h.95M19.9 11.7h.95M7.4 31.5h.95M26.9 18.6h.95M15.3 19.4h.95M22.1 11.0h.95M21.1 20.2h.95M27.6 18.3h.95M18.2 24.8h.95M22.9 15.0h.95M23.1 30.3h.95M22.8 26.8h.95M13.9 35.5h.95M10.4 35.3h.95M14.7 35.1h.95M21.0 21.1h.95M32.6 21.4h.95M12.9 39.2h.95M14.2 24.3h.95M28.7 12.6h.95M17.0 25.2h.95M7.2 33.4h.95M16.7 27.4h.95M26.1 24.4h.95M16.4 26.3h.95M17.3 25.8h.95M27.7 26.7h.95M25.0 29.3h.95M25.0 15.1h.95M21.8 14.3h.95M18.8 12.8h.95M7.5 31.0h.95M10.9 27.8h.95M12.4 37.1h.95M17.2 30.6h.95M11.6 27.1h.95M5.8 34.7h.95M7.6 41.8h.95M15.1 23.2h.95M27.5 24.0h.95M7.5 26.7h.95" stroke="#3e4989"/>
<path d="M21.3 12.7h.95M24.2 25.6h.95M24.0 29.6h.95M30.5 5.2h.95M24.3 15.3h.95M18.8 12.3h.95M14.5 20.8h.95M14.0 22.1h.95M28.3 25.8h.95M23.2 23.8h.95M29.0 19.5h.95M21.4 11.9h.95M24.3 16.3h.95M26.2 25.2h.95M26.7 16.8h.95M26.2 13.2h.95M19.2 15.5h.95M3.6 33.6h.95M19.7 25.6h.95M18.0 18.4h.95M5.6 35.9h.95M8.8 27.0h.95M31.9 18.5h.95M23.2 16.8h.95M18.7 23.9h.95M22.0 25.5h.95M13.4 34.9h.95M26.9 12.1h.95M23.7 9.7h.95M26.2 7.1h.95M16.7 12.8h.95M34.1 15.7h.95M30.9 15.1h.95M31.4 19.4h.95M19.6 23.8h.95M13.9 26.8h.95M26.2 28.4h.95M24.2 17.7h.95M17.9 14.4h.95M22.5 30.4h.95M12.3 29.2h.95M32.9 17.2h.95M12.2 39.2h.95M13.4 32.6h.95M28.1 17.7h.95M13.3 24.4h.95M18.2 27.7h.95M26.9 11.7h.95M21.0 28.5h.95M35.9 7.7h.95M28.8 19.5h.95M7.0 27.8h.95M23.9 21.8h.95M28.4 18.1h.95M28.6 25.8h.95M20.0 15.0h.95M20.3 30.0h.95M29.9 11.5h.95M6.7 26.8h.95M29.6 21.1h.95M14.9 17.4h.95M7.2 32.7h.95M30.0 23.0h.95M20.1 27.1h.95M20.7 14.3h.95M4.4 35.2h.95M33.5 13.0h.95M18.3 15.5h.95M25.8 12.0h.95M28.9 26.0h.95M21.2 24.4h.95M14.8 25.0h.95M22.7 29.0h.95M17.3 27.2h.95M23.4 13.6h.95M19.6 23.5h.95M23.1 17.7h.95M27.0 21.7h.95M17.0 14.7h.95M22.6 22.2h.95M29.8 15.9h.95M25.6 28.3h.95M25.7 26.5h.95M12.0 24.6h.95M29.6 18.2h.95M29.5 19.7h.95M11.6 27.0h.95M25.7 23.7h.95M21.1 11.3h.95M24.3 19.8h.95M29.5 23.5h.95M17.4 25.9h.95M24.5 26.5h.95M19.5 17.9h.95M20.9 19.5h.95M22.8 9.3h.95M18.0 25.0h.95M24.7 9.9h.95M31.8 17.6h.95M29.6 19.8h.95M30.2 13.4h.95M19.2 12.4h.95M22.4 8.2h.95M26.6 14.8h.95M37.0 9.8h.95M16.3 31.6h.95M14.8 18.1h.95M8.1 40.1h.95M22.2 20.9h.95M9.9 28.4h.95M26.4 9.4h.95M8.9 35.2h.95M28.1 16.5h.95M25.8 5.2h.95M32.7 14.5h.95M21.4 14.4h.95M19.7 22.9h.95M22.8 10.6h.95M22.6 18.9h.95M29.6 19.7h.95M21.9 22.3h.95M23.7 24.8h.95M23.7 10.8h.95M23.2 26.0h.95M4.1 31.8h.95M14.2 24.2h.95M22.2 19.9h.95M23.8 30.5h.95M23.0 9.9h.95M27.4 27.5h.95M4.5 38.6h.95M9.0 40.0h.95M30.7 16.4h.95M4.9 39.3h.95M24.0 13.2h.95M27.6 14.5h.95M25.4 16.0h.95M23.8 18.3h.95M4.5 34.2h.95M18.6 18.0h.95M28.7 21.7h.95M22.4 10.9h.95M12.2 26.9h.95M24.0 13.5h.95M20.3 28.2h.95M26.5 26.7h.95M30.2 22.9h.95M13.0 27.6h.95M25.6 25.3h.95M25.3 11.4h.95M25.3 26.3h.95M21.5 19.2h.95M27.4 26.6h.95M17.3 23.5h.95M23.2 17.6h.95M26.7 11.2h.95M24.1 13.3h.95M15.9 29.0h.95M16.0 24.8h.95M25.1 24.0h.95M25.4 29.2h.95M23.3 13.7h.95M4.1 31.3h.95M14.2 30.6h.95M24.3 26.8h.95M21.0 20.7h.95M12.8 37.7h.95M27.6 16.5h.95M21.8 7.3h.95M20.2 16.0h.95M11.2 33.3h.95M22.5 18.6h.95M16.0 15.7h.95M5.7 28.8h.95M20.5 12.1h.95M19.7 14.3h.95M17.4 29.2h.95M23.0 7.4h.95M31.6 21.6h.95M11.1 40.3h.95M17.6 12.6h.95M26.9 17.9h.95M17.4 14.8h.95M25.8 13.4h.95M26.5 5.4h.95M21.4 19.7h.95M27.6 14.1h.95M5.5 28.1h.95M17.6 24.5h.95M16.7 15.9h.95M25.1 21.1h.95M14.9 24.3h.95M26.2 13.2h.95M12.1 34.0h.95M18.2 17.7h.95M12.6 29.8h.95M29.1 21.9h.95M28.4 21.7h.95M12.2 23.7h.95M20.8 28.0h.95M16.8 17.9h.95M13.1 33.0h.95M27.8 22.3h.95M25.0 14.9h.95M18.3 14.2h.95M17.0 26.4h.95M32.3 20.5h.95M20.7 28.8h.95M17.1 14.0h.95M31.4 22.5h.95M27.5 7.2h.95M12.9 28.6h.95M17.7 14.7h.95M22.3 19.1h.95M20.2 9.7h.95M19.2 9.9h.95M27.9 14.8h.95M26.4 20.3h.95M22.0 16.6h.95M20.0 26.9h.95M23.2 11.3h.95M20.8 13.0h.95M33.2 20.6h.95M21.6 22.0h.95" stroke="#365d8c"/>
<path d="M38.1 7.4h.95M14.8 26.7h.95M17.3 25.7h.95M5.2 39.0h.95M22.5 16.3h.95M31.5 9.8h.95M20.2 28.5h.95M21.1 17.9h.95M34.9 19.5h.95M20.3 14.5h.95M32.7 14.8h.95M30.1 20.0h.95M19.1 9.3h.95M26.9 16.7h.95M27.2 19.8h.95M17.6 18.2h.95M17.2 15.3h.95M28.2 19.9h.95M17.7 27.6h.95M35.0 15.3h.95M30.3 4.9h.95M19.7 17.2h.95M34.8 19.5h.95M18.3 11.5h.95M24.9 17.0h.95M15.2 18.0h.95M29.5 23.5h.95M24.9 26.7h.95M8.9 27.2h.95M7.1 32.8h.95M39.9 5.8h.95M34.6 3.2h.95M20.9 18.0h.95M20.0 26.3h.95M19.4 13.6h.95M39.1 14.8h.95M13.8 33.8h.95M37.0 4.6h.95M26.0 7.6h.95M29.8 20.6h.95M27.5 28.2h.95M20.1 13.7h.95M39.8 15.3h.95M31.7 17.7h.95M18.7 20.7h.95M33.9 19.4h.95M20.3 10.5h.95M31.5 19.0h.95M20.3 8.9h.95M39.3 14.5h.95M15.8 30.0h.95M33.4 15.0h.95M16.2 27.0h.95M33.8 14.6h.95M16.5 21.7h.95M21.3 26.6h.95M20.4 25.0h.95M39.2 3.8h.95M22.4 14.6h.95M21.9 8.9h.95M21.6 24.1h.95M23.7 29.2h.95M39.2 13.9h.95M21.7 7.6h.95M37.1 15.5h.95M29.3 16.3h.95M22.2 11.2h.95M22.2 9.7h.95M14.8 26.9h.95M27.2 26.2h.95M17.0 20.1h.95M21.4 17.6h.95M25.5 7.5h.95M30.2 13.7h.95M31.5 20.1h.95M28.4 27.7h.95M27.6 4.9h.95M21.3 13.6h.95M31.5 18.2h.95M38.7 13.3h.95M32.5 17.5h.95M31.5 13.5h.95M27.6 6.3h.95M11.2 25.7h.95M33.8 12.2h.95M18.9 27.6h.95M30.6 18.6h.95M30.5 9.0h.95M30.9 20.3h.95M8.7 40.4h.95M21.1 15.8h.95M34.3 8.3h.95M27.4 18.0h.95M25.5 11.9h.95M15.7 24.4h.95M32.6 16.3h.95M30.1 13.8h.95M24.3 16.6h.95M27.2 10.8h.95M29.1 13.6h.95M25.6 13.8h.95M27.9 11.6h.95M19.7 10.3h.95M18.6 10.4h.95M31.5 14.5h.95M30.8 19.4h.95M14.2 26.1h.95M22.2 8.2h.95M24.1 12.0h.95M24.3 16.2h.95M14.4 25.1h.95M15.9 17.5h.95M38.2 13.2h.95M24.3 22.9h.95M28.0 15.4h.95M24.9 10.4h.95M8.1 27.1h.95M40.0 15.2h.95M40.6 4.5h.95M32.1 4.5h.95M13.0 27.0h.95M27.0 28.2h.95M36.6 13.2h.95M26.7 16.0h.95M21.6 9.4h.95M29.0 18.5h.95M30.8 17.9h.95M31.7 17.7h.95M27.9 11.4h.95M28.2 16.9h.95M31.7 19.8h.95M12.3 37.0h.95M28.8 8.0h.95M30.8 21.7h.95M19.0 19.5h.95M26.8 6.8h.95M20.9 11.7h.95M27.4 17.8h.95M26.5 27.5h.95M41.8 8.0h.95M9.7 37.2h.95M27.3 13.2h.95M24.1 13.5h.95M39.4 8.9h.95M31.3 13.1h.95M20.1 21.4h.95M32.8 15.5h.95M27.7 6.0h.95M25.5 15.1h.95M29.0 7.1h.95M29.9 13.5h.95M18.2 16.7h.95M31.0 8.5h.95M17.1 27.0h.95M26.5 22.2h.95M25.2 7.2h.95M20.6 12.2h.95M14.2 26.8h.95M29.7 17.8h.95M26.3 19.1h.95M34.8 3.5h.95M22.2 19.4h.95M23.1 15.8h.95M6.9 32.8h.95M9.5 32.7h.95M22.4 22.0h.95M30.7 18.6h.95M27.7 9.8h.95M24.3 20.9h.95M25.7 6.5h.95M24.6 26.5h.95M19.7 9.1h.95M31.5 11.5h.95M10.2 34.6h.95M27.7 7.8h.95M23.0 27.0h.95M31.0 12.7h.95M15.5 22.7h.95M31.3 20.6h.95M35.1 16.5h.95M22.3 19.2h.95M37.6 12.2h.95M22.6 21.6h.95M22.9 14.5h.95M10.3 26.3h.95M30.4 12.7h.95M27.3 11.3h.95M4.9 31.0h.95M40.2 4.3h.95M28.6 16.3h.95M26.4 9.8h.95M26.6 24.2h.95M29.3 16.2h.95M25.7 29.5h.95M30.9 17.3h.95M24.2 7.8h.95" stroke="#2e708e"/>
<path d="M32.9 9.3h.95M34.1 8.5h.95M35.7 8.1h.95M26.9 6.7h.95M27.0 8.5h.95M33.5 12.7h.95M32.0 7.6h.95M36.2 10.7h.95M21.7 24.6h.95M34.7 5.7h.95M30.8 8.3h.95M26.4 22.2h.95M31.7 10.0h.95M27.4 16.9h.95M34.4 20.0h.95M37.3 9.0h.95M39.5 5.1h.95M19.4 15.3h.95M31.3 6.7h.95M30.7 20.5h.95M32.3 12.5h.95M37.9 12.4h.95M30.9 17.7h.95M38.3 14.9h.95M21.7 16.9h.95M26.4 8.4h.95M31.9 13.3h.95M40.0 7.4h.95M28.4 9.9h.95M22.3 24.1h.95M40.3 7.6h.95M31.2 13.2h.95M18.9 15.9h.95M31.0 19.1h.95M36.9 5.5h.95M33.0 7.5h.95M25.4 22.7h.95M34.0 9.3h.95M35.6 4.7h.95M28.1 12.0h.95M35.8 8.8h.95M35.5 15.8h.95M23.9 9.7h.95M35.1 12.0h.95M26.2 6.7h.95M33.4 15.2h.95M29.4 7.9h.95M27.8 4.6h.95M38.3 5.7h.95M31.1 22.3h.95M28.1 8.3h.95M27.2 5.4h.95M39.9 4.7h.95M38.4 8.9h.95M37.6 14.7h.95M29.5 21.6h.95M31.7 15.7h.95M28.6 13.3h.95M32.8 18.2h.95M25.6 14.9h.95M26.6 22.6h.95M34.8 15.8h.95M29.7 5.8h.95M27.6 24.7h.95M29.0 12.6h.95M20.6 12.4h.95M34.1 18.4h.95M29.1 13.8h.95M20.7 28.4h.95M31.6 14.6h.95M30.7 16.9h.95M36.8 16.5h.95M21.8 15.8h.95M30.5 16.7h.95M27.9 10.7h.95M41.4 7.3h.95M35.2 18.2h.95M21.2 9.6h.95M33.3 5.8h.95M20.5 26.1h.95M40.5 8.8h.95M34.7 14.4h.95M39.6 3.8h.95M33.9 20.4h.95M33.3 7.2h.95M27.0 10.7h.95M37.3 11.7h.95M26.9 15.4h.95M30.6 5.7h.95M34.0 5.8h.95M30.3 10.2h.95M37.2 16.1h.95M33.5 16.6h.95M33.3 5.6h.95M23.0 27.3h.95M35.6 16.6h.95M36.0 8.5h.95M25.1 17.4h.95M35.5 8.4h.95M38.4 13.1h.95M29.0 6.5h.95M30.4 13.5h.95M31.9 13.9h.95M33.6 4.3h.95M30.6 5.7h.95M33.8 20.7h.95M32.1 20.5h.95M22.3 22.2h.95M33.3 6.6h.95M41.0 11.8h.95M32.1 4.7h.95M33.7 6.9h.95M37.9 9.4h.95M21.6 17.0h.95M30.2 9.8h.95M41.6 9.8h.95M32.0 18.8h.95M21.5 8.1h.95M26.6 6.9h.95" stroke="#26828e"/>
<path d="M38.5 8.6h.95M30.3 4.9h.95M35.8 11.6h.95M37.3 8.3h.95M35.0 8.5h.95M31.4 9.4h.95M36.4 11.4h.95M35.2 11.8h.95M39.2 13.8h.95M30.9 5.8h.95M32.9 11.8h.95M40.7 10.4h.95M29.0 7.8h.95M39.6 4.2h.95M39.3 6.0h.95M38.0 10.0h.95M37.7 13.4h.95M33.0 16.2h.95M38.8 15.8h.95M37.2 8.2h.95M41.1 8.0h.95M29.4 16.4h.95M35.8 17.4h.95M39.1 6.1h.95M39.9 6.5h.95M31.6 4.6h.95M41.9 8.1h.95M38.5 6.1h.95M32.4 11.9h.95M35.3 5.5h.95M37.3 10.6h.95M35.1 6.8h.95M35.5 3.3h.95M37.9 8.6h.95M33.1 13.5h.95M39.3 11.9h.95M40.1 4.7h.95M37.3 17.7h.95M37.6 12.8h.95M40.1 12.1h.95M31.2 7.6h.95M37.9 8.2h.95M35.2 11.8h.95M31.2 10.1h.95M38.7 14.3h.95M35.6 10.4h.95M40.1 6.5h.95M29.9 19.3h.95M37.5 7.8h.95M38.3 9.0h.95M39.8 11.3h.95M36.7 6.8h.95M39.1 13.5h.95M28.1 9.2h.95M30.4 12.1h.95M33.5 10.4h.95M31.1 5.6h.95M39.9 6.1h.95M33.3 8.5h.95M30.2 4.4h.95M29.7 6.9h.95M40.5 11.4h.95M32.9 13.7h.95M37.8 4.2h.95M34.9 9.0h.95M30.8 6.3h.95M31.8 21.9h.95M25.9 9.5h.95M36.7 12.9h.95M35.8 10.5h.95M34.1 12.8h.95M36.8 15.2h.95M37.1 11.5h.95M38.6 5.5h.95M33.6 16.0h.95M27.7 16.4h.95M31.2 14.1h.95M39.1 9.3h.95M30.2 8.8h.95M31.8 12.6h.95M19.3 11.1h.95M39.2 8.5h.95M38.2 5.1h.95M37.9 11.5h.95" stroke="#22948b"/>
<path d="M37.9 14.7h.95M38.1 10.8h.95M31.5 8.3h.95M28.7 12.6h.95M37.7 4.0h.95M35.6 4.0h.95M37.2 15.4h.95M37.2 11.9h.95M34.7 3.2h.95M32.5 19.6h.95M34.1 12.2h.95M35.9 7.9h.95M31.6 7.6h.95M32.9 8.4h.95M38.7 6.9h.95M32.1 10.2h.95M37.8 14.2h.95M41.2 10.5h.95M31.7 8.9h.95M37.0 8.2h.95M39.6 7.1h.95M36.5 15.1h.95" stroke="#26a684"/>
<path d="M37.6 11.4h.95M32.9 7.2h.95M29.6 4.5h.95M36.1 8.7h.95M39.7 5.8h.95M39.8 9.3h.95M37.4 13.7h.95" stroke="#35b779"/>
</g>
<rect x="136.2" y="508.6" width="46.2" height="46.2" fill="none" stroke="#3a3a3a" stroke-width="1.2"/>
<text x="56.5" y="568.21" font-size="9.2" text-anchor="middle" font-style="italic" fill="#1a1a1a" textLength="20.26" lengthAdjust="spacingAndGlyphs">ETS1</text>
<g transform="translate(33.4,570.4)" fill="none" stroke-width=".95">
<path d="M9.9 28.4h.95M6.2 38.8h.95M9.9 38.2h.95M10.3 35.1h.95" stroke="#471a6b"/>
<path d="M7.2 32.4h.95M3.6 33.6h.95M4.0 31.4h.95M3.9 33.2h.95M12.2 39.2h.95M5.8 29.5h.95M13.9 33.7h.95M10.4 40.3h.95M10.5 38.6h.95M11.6 27.0h.95M12.6 39.3h.95M5.5 30.6h.95M8.1 40.1h.95M8.9 35.2h.95M4.1 31.8h.95M8.5 31.2h.95M5.7 33.5h.95M7.1 26.7h.95M4.3 31.5h.95M4.2 35.9h.95M12.6 33.8h.95M6.8 37.0h.95M4.5 35.9h.95M8.4 30.1h.95M9.7 37.2h.95M12.8 37.7h.95M9.4 39.6h.95M6.9 32.8h.95M17.6 24.5h.95M7.5 31.0h.95M12.4 37.1h.95M5.7 39.0h.95" stroke="#45327d"/>
<path d="M5.2 39.0h.95M35.7 8.1h.95M7.5 35.7h.95M14.2 33.7h.95M12.0 35.2h.95M5.2 30.4h.95M12.9 32.5h.95M6.3 29.3h.95M4.3 39.3h.95M7.6 29.3h.95M6.4 33.4h.95M8.8 33.7h.95M40.0 7.4h.95M7.8 33.0h.95M12.3 35.6h.95M3.8 37.8h.95M6.7 26.8h.95M14.5 35.1h.95M20.3 25.3h.95M4.8 37.9h.95M4.2 37.6h.95M14.2 27.3h.95M7.8 40.5h.95M8.1 31.7h.95M8.1 32.9h.95M8.6 32.3h.95M10.6 33.5h.95M37.0 9.8h.95M8.7 35.3h.95M16.0 31.5h.95M8.2 38.5h.95M37.9 8.2h.95M33.3 5.8h.95M12.4 33.9h.95M9.4 39.8h.95M11.3 36.2h.95M13.8 25.4h.95M37.2 11.9h.95M15.2 32.0h.95M38.7 14.3h.95M6.4 37.1h.95M15.3 27.3h.95M7.8 37.3h.95M11.0 39.5h.95M32.1 4.5h.95M9.0 32.5h.95M7.6 37.0h.95M4.2 38.0h.95M13.1 35.4h.95M7.1 28.3h.95M4.1 31.3h.95M6.2 35.9h.95M7.4 34.8h.95M12.4 38.9h.95M7.4 31.5h.95M31.9 13.9h.95M8.4 30.6h.95M10.3 32.0h.95M34.8 3.5h.95M13.9 35.5h.95M10.4 35.3h.95M14.7 35.1h.95M11.0 38.0h.95M17.0 25.2h.95M37.6 12.2h.95M13.1 33.0h.95M6.0 28.7h.95M13.6 29.5h.95M5.7 40.1h.95M7.6 41.8h.95" stroke="#3e4989"/>
<path d="M34.1 8.5h.95M11.0 40.0h.95M3.7 34.0h.95M10.1 40.5h.95M14.0 22.1h.95M16.6 28.3h.95M27.0 8.5h.95M17.7 20.0h.95M14.2 21.7h.95M7.8 27.4h.95M28.2 26.7h.95M36.2 10.7h.95M5.6 35.9h.95M9.0 26.0h.95M37.3 8.3h.95M31.4 9.4h.95M5.4 33.6h.95M35.2 11.8h.95M35.0 15.3h.95M13.4 34.9h.95M38.1 10.8h.95M17.1 26.3h.95M30.9 15.1h.95M11.9 30.4h.95M8.9 27.2h.95M7.1 32.8h.95M34.6 3.2h.95M26.4 8.4h.95M39.6 4.2h.95M13.4 32.6h.95M13.3 24.4h.95M39.3 6.0h.95M13.8 33.8h.95M31.9 13.3h.95M5.5 29.9h.95M5.7 28.3h.95M17.9 27.9h.95M9.4 30.5h.95M5.0 31.3h.95M27.9 22.2h.95M19.4 19.3h.95M41.1 8.0h.95M35.8 8.8h.95M14.7 31.6h.95M35.8 17.4h.95M39.1 6.1h.95M35.1 12.0h.95M11.6 29.1h.95M6.8 36.9h.95M15.8 30.0h.95M16.5 22.9h.95M7.2 32.7h.95M38.3 5.7h.95M6.2 27.6h.95M14.1 28.8h.95M4.4 35.2h.95M33.4 15.0h.95M9.3 39.7h.95M11.1 39.2h.95M6.7 32.1h.95M12.0 27.1h.95M32.4 11.9h.95M6.3 33.5h.95M8.6 33.9h.95M15.0 33.6h.95M14.4 31.0h.95M8.2 40.2h.95M16.6 19.2h.95M8.4 35.7h.95M37.7 4.0h.95M7.4 37.0h.95M24.5 26.5h.95M15.0 29.1h.95M11.2 25.7h.95M37.3 17.7h.95M30.5 9.0h.95M29.6 19.8h.95M10.1 34.6h.95M20.7 28.4h.95M14.8 18.1h.95M40.1 12.1h.95M31.2 7.6h.95M8.4 34.1h.95M23.2 26.0h.95M19.7 22.9h.95M31.5 14.5h.95M8.4 26.2h.95M16.2 27.2h.95M10.2 32.6h.95M14.0 33.6h.95M12.9 31.1h.95M20.3 18.7h.95M11.0 36.9h.95M4.9 39.3h.95M35.6 10.4h.95M4.8 37.4h.95M4.5 34.2h.95M33.5 18.0h.95M37.5 7.8h.95M13.0 27.6h.95M37.2 16.1h.95M15.3 23.5h.95M27.4 26.6h.95M4.4 31.5h.95M12.3 37.0h.95M31.1 5.6h.95M28.8 8.0h.95M16.2 30.4h.95M21.3 23.3h.95M13.5 28.6h.95M33.3 8.5h.95M33.3 5.6h.95M6.2 28.2h.95M23.3 13.7h.95M23.0 27.3h.95M12.5 39.3h.95M5.3 35.9h.95M36.0 8.5h.95M12.7 33.4h.95M6.0 36.4h.95M38.7 6.9h.95M37.8 4.2h.95M34.9 9.0h.95M11.2 33.3h.95M10.8 38.8h.95M6.5 37.1h.95M31.0 8.5h.95M9.3 34.1h.95M5.7 28.8h.95M11.2 31.4h.95M33.6 4.3h.95M14.2 26.8h.95M6.9 35.2h.95M13.2 36.9h.95M37.1 11.5h.95M38.6 5.5h.95M7.0 35.8h.95M33.7 6.9h.95M10.9 40.1h.95M9.4 41.9h.95M39.1 9.3h.95M12.9 39.2h.95M11.0 37.3h.95M5.5 28.1h.95M10.2 34.6h.95M7.2 33.4h.95M12.1 34.0h.95M12.2 23.7h.95M30.4 12.7h.95M12.9 28.6h.95M8.0 31.2h.95M6.8 27.5h.95" stroke="#365d8c"/>
<path d="M37.9 14.7h.95M16.2 15.2h.95M30.5 5.2h.95M10.7 32.7h.95M8.8 36.2h.95M14.5 20.8h.95M17.2 30.7h.95M28.3 25.8h.95M12.8 29.4h.95M23.2 23.8h.95M9.5 35.9h.95M12.3 38.5h.95M34.9 19.5h.95M26.2 25.2h.95M32.0 7.6h.95M14.6 23.8h.95M18.0 18.4h.95M14.6 35.6h.95M38.5 8.6h.95M30.3 4.9h.95M30.8 8.3h.95M8.8 27.0h.95M8.9 27.8h.95M13.3 24.7h.95M4.1 31.5h.95M34.4 20.0h.95M39.5 5.1h.95M18.7 23.9h.95M36.4 11.4h.95M22.0 25.5h.95M30.3 4.9h.95M31.3 6.7h.95M30.7 20.5h.95M34.8 19.5h.95M6.9 31.2h.95M15.2 18.0h.95M30.9 5.8h.95M37.9 12.4h.95M37.6 11.4h.95M38.3 14.9h.95M40.7 10.4h.95M24.9 26.7h.95M7.6 26.5h.95M17.6 29.9h.95M21.7 16.9h.95M12.3 29.2h.95M29.0 7.8h.95M28.1 17.7h.95M12.4 25.3h.95M31.5 8.3h.95M19.3 22.8h.95M14.6 20.7h.95M39.1 14.8h.95M18.2 27.7h.95M37.0 4.6h.95M26.0 7.6h.95M35.9 7.7h.95M7.0 27.8h.95M31.0 19.1h.95M33.0 7.5h.95M24.0 6.3h.95M38.8 15.8h.95M14.1 32.2h.95M16.1 26.3h.95M37.2 8.2h.95M39.8 15.3h.95M29.4 16.4h.95M23.9 21.8h.95M23.9 9.7h.95M19.6 20.3h.95M26.2 6.7h.95M29.4 7.9h.95M27.8 4.6h.95M23.0 21.5h.95M39.9 6.5h.95M20.6 28.8h.95M15.5 27.6h.95M7.3 37.8h.95M20.1 27.1h.95M14.0 31.7h.95M7.6 26.3h.95M14.8 25.0h.95M39.2 3.8h.95M38.5 6.1h.95M16.7 30.3h.95M21.6 24.1h.95M22.7 29.0h.95M15.9 29.9h.95M28.4 24.2h.95M28.6 25.1h.95M12.4 29.2h.95M14.4 27.7h.95M21.7 7.6h.95M37.1 15.5h.95M39.9 4.7h.95M37.6 14.7h.95M16.6 16.6h.95M31.2 19.8h.95M11.6 28.1h.95M22.6 22.2h.95M30.3 11.6h.95M24.3 26.1h.95M11.4 29.3h.95M30.2 13.7h.95M12.0 24.6h.95M36.1 8.7h.95M13.4 31.7h.95M29.3 15.5h.95M25.7 23.7h.95M27.9 25.2h.95M35.5 3.3h.95M31.5 18.2h.95M13.7 26.4h.95M37.9 8.6h.95M39.3 11.9h.95M33.8 12.2h.95M24.1 22.5h.95M18.9 27.6h.95M9.9 40.6h.95M21.1 12.1h.95M31.3 19.9h.95M15.7 24.4h.95M30.2 13.4h.95M15.1 20.3h.95M31.6 14.6h.95M30.1 13.8h.95M32.7 14.5h.95M5.2 38.1h.95M27.2 10.8h.95M21.7 27.2h.95M25.6 13.8h.95M8.4 38.7h.95M23.7 24.8h.95M27.8 21.9h.95M20.1 16.4h.95M12.4 33.5h.95M19.7 10.3h.95M18.0 25.3h.95M41.4 7.3h.95M22.2 8.2h.95M22.3 12.4h.95M7.7 38.1h.95M37.2 15.4h.95M38.2 13.2h.95M4.5 38.6h.95M40.5 8.8h.95M9.0 40.0h.95M28.0 15.4h.95M31.2 10.1h.95M34.7 14.4h.95M8.1 27.1h.95M13.8 34.0h.95M33.3 7.2h.95M6.7 27.7h.95M11.1 37.7h.95M7.5 28.2h.95M40.1 6.5h.95M9.5 27.4h.95M6.2 35.6h.95M29.9 19.3h.95M38.3 9.0h.95M34.0 5.8h.95M34.7 3.2h.95M22.9 12.9h.95M39.8 11.3h.95M39.1 13.5h.95M30.8 17.9h.95M23.0 28.9h.95M18.5 26.6h.95M31.7 17.7h.95M39.8 9.3h.95M8.8 41.7h.95M10.8 29.7h.95M28.1 9.2h.95M22.1 25.1h.95M24.1 13.3h.95M34.1 12.2h.95M33.5 10.4h.95M15.9 29.0h.95M22.3 9.1h.95M27.3 30.1h.95M39.9 6.1h.95M33.5 16.6h.95M9.6 35.2h.95M10.4 27.0h.95M25.4 29.2h.95M19.1 23.6h.95M41.8 8.0h.95M31.6 7.6h.95M17.3 22.9h.95M31.3 13.1h.95M26.8 22.7h.95M35.5 8.4h.95M32.8 15.5h.95M20.3 16.3h.95M16.7 30.2h.95M30.8 6.3h.95M29.0 6.5h.95M30.4 13.5h.95M37.8 14.2h.95M6.4 38.4h.95M5.8 38.8h.95M30.6 5.7h.95M23.1 15.8h.95M9.0 36.0h.95M35.8 10.5h.95M34.1 12.8h.95M9.5 32.7h.95M36.8 15.2h.95M22.9 15.0h.95M30.7 18.6h.95M27.7 9.8h.95M33.6 16.0h.95M27.7 16.4h.95M33.3 6.6h.95M12.6 26.1h.95M41.0 11.8h.95M32.1 4.7h.95M21.4 19.7h.95M31.5 11.5h.95M28.7 12.6h.95M14.9 24.3h.95M23.8 26.0h.95M23.0 27.0h.95M16.7 27.4h.95M26.0 20.5h.95M7.4 41.8h.95M12.6 29.8h.95M31.0 12.7h.95M15.5 22.7h.95M37.9 9.4h.95M35.1 16.5h.95M16.4 26.3h.95M41.2 10.5h.95M15.3 34.4h.95M19.4 29.8h.95M27.7 26.7h.95M10.3 26.3h.95M39.2 8.5h.95M4.9 31.0h.95M40.2 4.3h.95M20.7 28.8h.95M29.9 11.4h.95M41.6 9.8h.95M37.0 8.2h.95M29.3 16.2h.95M27.9 14.8h.95M38.2 5.1h.95M24.0 17.6h.95M39.6 7.1h.95M11.6 27.1h.95M24.2 7.8h.95M37.9 11.5h.95M7.5 26.7h.95" stroke="#2e708e"/>
<path d="M38.1 7.4h.95M27.1 8.0h.95M14.8 26.7h.95M15.3 21.9h.95M17.3 25.7h.95M16.4 16.9h.95M31.5 9.8h.95M29.0 19.5h.95M11.5 30.0h.95M26.9 26.2h.95M26.9 6.7h.95M26.2 13.2h.95M19.2 15.5h.95M26.7 21.7h.95M32.7 14.8h.95M21.1 17.2h.95M19.7 25.6h.95M21.7 24.6h.95M35.8 11.6h.95M23.2 8.3h.95M26.2 12.4h.95M26.9 16.7h.95M26.1 25.5h.95M17.6 18.2h.95M37.3 9.0h.95M17.7 27.6h.95M19.7 25.7h.95M19.4 15.3h.95M13.2 29.6h.95M23.7 9.7h.95M24.9 17.0h.95M16.7 12.8h.95M34.1 15.7h.95M29.5 23.5h.95M39.2 13.8h.95M30.9 17.7h.95M9.5 27.9h.95M32.9 11.8h.95M31.4 19.4h.95M19.6 23.8h.95M13.9 26.8h.95M24.2 17.7h.95M39.9 5.8h.95M22.5 30.4h.95M32.9 17.2h.95M20.0 26.3h.95M17.4 21.8h.95M3.3 33.3h.95M17.4 23.8h.95M22.3 25.2h.95M38.0 10.0h.95M21.0 28.5h.95M32.4 13.2h.95M28.4 9.9h.95M29.8 20.6h.95M22.3 24.1h.95M28.8 19.5h.95M27.5 28.2h.95M40.3 7.6h.95M33.0 16.2h.95M18.0 28.0h.95M18.9 15.9h.95M36.9 5.5h.95M25.0 14.4h.95M25.4 22.7h.95M34.0 9.3h.95M35.6 4.7h.95M20.0 15.0h.95M31.7 17.7h.95M32.9 7.2h.95M18.7 20.7h.95M33.9 19.4h.95M20.3 10.5h.95M33.4 15.2h.95M20.3 8.9h.95M39.3 14.5h.95M14.9 17.4h.95M31.6 4.6h.95M28.7 12.6h.95M22.5 25.8h.95M16.2 27.0h.95M17.9 25.5h.95M33.8 14.6h.95M25.8 12.0h.95M21.2 24.4h.95M20.4 25.0h.95M22.4 14.6h.95M17.3 27.2h.95M27.0 29.3h.95M35.3 5.5h.95M23.7 29.2h.95M22.2 22.4h.95M15.4 22.6h.95M39.2 13.9h.95M14.6 34.9h.95M38.4 8.9h.95M22.2 11.2h.95M29.6 4.5h.95M23.1 17.7h.95M27.0 21.7h.95M22.2 9.7h.95M29.5 21.6h.95M27.2 26.2h.95M29.8 15.9h.95M17.0 20.1h.95M25.6 28.3h.95M21.4 25.1h.95M28.6 13.3h.95M21.4 17.6h.95M32.8 18.2h.95M31.5 20.1h.95M26.6 22.6h.95M29.6 18.2h.95M17.0 30.0h.95M28.6 22.3h.95M37.3 10.6h.95M27.6 4.9h.95M35.1 6.8h.95M21.5 29.9h.95M24.3 19.8h.95M23.4 13.0h.95M33.1 13.5h.95M32.5 17.5h.95M40.1 4.7h.95M27.2 8.1h.95M27.6 6.3h.95M20.9 19.5h.95M18.0 25.0h.95M14.6 21.5h.95M29.0 12.6h.95M8.7 29.8h.95M31.8 17.6h.95M30.6 18.6h.95M8.7 40.4h.95M22.1 18.5h.95M27.4 18.0h.95M21.2 24.5h.95M37.6 12.8h.95M25.5 11.9h.95M17.4 29.4h.95M29.1 13.8h.95M16.3 31.6h.95M23.0 17.2h.95M30.7 16.9h.95M24.9 30.1h.95M25.8 5.2h.95M21.4 14.4h.95M19.7 22.9h.95M36.8 16.5h.95M22.8 10.6h.95M29.6 19.7h.95M30.5 16.7h.95M27.9 10.7h.95M21.9 22.3h.95M27.9 11.6h.95M21.1 12.3h.95M35.6 4.0h.95M20.6 23.9h.95M14.2 24.2h.95M21.2 9.6h.95M30.8 19.4h.95M14.2 26.1h.95M14.1 32.1h.95M22.2 19.9h.95M24.1 12.0h.95M14.4 25.1h.95M27.4 27.5h.95M10.9 30.5h.95M27.3 25.3h.95M35.2 11.8h.95M24.3 22.9h.95M30.7 16.4h.95M25.5 21.6h.95M40.0 15.2h.95M39.6 3.8h.95M33.9 20.4h.95M27.0 10.7h.95M40.6 4.5h.95M37.3 11.7h.95M20.3 25.4h.95M25.7 26.7h.95M18.6 18.0h.95M13.0 27.0h.95M26.9 15.4h.95M28.7 21.7h.95M27.0 28.2h.95M24.3 23.4h.95M12.2 26.9h.95M26.6 20.3h.95M24.0 13.5h.95M26.5 26.7h.95M36.6 13.2h.95M6.9 33.7h.95M9.7 27.4h.95M32.5 19.6h.95M36.7 6.8h.95M25.6 25.3h.95M17.1 12.4h.95M19.5 27.3h.95M26.7 16.0h.95M8.0 37.4h.95M29.0 18.5h.95M27.9 11.4h.95M28.2 16.9h.95M14.0 37.1h.95M31.7 19.8h.95M26.7 11.2h.95M14.0 26.0h.95M23.8 12.2h.95M16.0 24.8h.95M35.9 7.9h.95M24.9 11.6h.95M35.6 16.6h.95M26.8 6.8h.95M14.2 30.6h.95M26.5 27.5h.95M5.1 35.4h.95M25.1 17.4h.95M21.0 20.7h.95M16.4 27.7h.95M39.4 8.9h.95M27.6 16.5h.95M26.1 22.5h.95M21.8 7.3h.95M38.4 13.1h.95M27.7 6.0h.95M29.9 13.5h.95M32.1 10.2h.95M17.1 16.3h.95M16.3 26.4h.95M16.0 15.7h.95M20.5 12.1h.95M17.1 27.0h.95M19.7 14.3h.95M26.5 22.2h.95M11.1 40.3h.95M26.3 19.1h.95M37.4 13.7h.95M26.9 17.9h.95M15.3 19.4h.95M21.1 20.2h.95M33.8 20.7h.95M22.3 22.2h.95M22.8 26.8h.95M6.2 35.7h.95M24.6 26.5h.95M31.2 14.1h.95M32.6 21.4h.95M27.6 14.1h.95M30.2 8.8h.95M14.2 24.3h.95M31.8 12.6h.95M16.7 15.9h.95M25.1 21.1h.95M26.2 13.2h.95M26.1 24.4h.95M19.3 11.1h.95M31.3 20.6h.95M29.1 21.9h.95M21.6 17.0h.95M17.3 25.8h.95M25.0 29.3h.95M22.9 14.5h.95M25.0 15.1h.95M30.2 9.8h.95M27.8 22.3h.95M27.3 11.3h.95M17.0 26.4h.95M32.3 20.5h.95M21.8 14.3h.95M26.4 9.8h.95M18.8 12.8h.95M31.7 8.9h.95M27.5 7.2h.95M20.2 9.7h.95M10.9 27.8h.95M19.2 9.9h.95M32.0 18.8h.95M17.2 30.6h.95M30.9 17.3h.95M24.4 29.9h.95M5.8 34.7h.95M20.8 13.0h.95M36.5 15.1h.95M15.1 23.2h.95M26.6 6.9h.95" stroke="#26828e"/>
<path d="M21.3 12.7h.95M32.9 9.3h.95M24.0 29.6h.95M24.3 15.3h.95M20.8 19.6h.95M21.7 14.4h.95M20.2 28.5h.95M21.4 11.9h.95M21.1 17.9h.95M33.5 12.7h.95M30.1 20.0h.95M22.4 16.0h.95M34.7 5.7h.95M19.1 9.3h.95M19.8 15.4h.95M26.4 22.2h.95M24.6 27.4h.95M31.7 10.0h.95M35.0 8.5h.95M31.9 18.5h.95M27.2 19.8h.95M14.4 29.5h.95M21.3 14.1h.95M28.2 19.9h.95M26.9 12.1h.95M26.2 7.1h.95M18.3 11.5h.95M23.0 26.1h.95M26.2 28.4h.95M17.6 21.0h.95M20.9 18.0h.95M20.3 21.5h.95M19.4 13.6h.95M21.3 14.3h.95M26.9 11.7h.95M37.7 13.4h.95M31.2 13.2h.95M19.7 11.2h.95M28.6 25.8h.95M20.3 30.0h.95M29.9 11.5h.95M29.6 21.1h.95M27.0 18.9h.95M26.5 26.2h.95M30.0 23.0h.95M41.9 8.1h.95M20.9 13.9h.95M13.0 27.3h.95M20.7 14.3h.95M13.7 23.7h.95M33.5 13.0h.95M31.1 22.3h.95M26.1 15.7h.95M18.3 15.5h.95M28.9 26.0h.95M27.5 30.1h.95M16.5 21.7h.95M26.6 28.8h.95M21.3 26.6h.95M21.6 15.9h.95M19.6 23.5h.95M20.7 15.2h.95M23.4 29.5h.95M29.2 23.5h.95M29.3 16.3h.95M17.0 14.7h.95M14.8 26.9h.95M31.7 15.7h.95M25.5 7.5h.95M25.6 14.9h.95M18.9 13.5h.95M34.8 15.8h.95M29.7 5.8h.95M21.3 13.6h.95M21.1 11.3h.95M38.7 13.3h.95M19.5 17.9h.95M22.8 9.3h.95M27.6 24.7h.95M21.1 15.8h.95M34.3 8.3h.95M39.7 5.8h.95M34.1 18.4h.95M24.3 14.2h.95M22.4 8.2h.95M32.6 16.3h.95M22.2 20.9h.95M27.6 27.2h.95M26.4 9.4h.95M19.7 18.4h.95M21.8 15.8h.95M29.1 13.6h.95M22.6 18.9h.95M23.7 10.8h.95M35.2 18.2h.95M23.8 30.5h.95M24.3 16.2h.95M21.6 10.9h.95M15.9 17.5h.95M20.5 26.1h.95M24.9 10.4h.95M25.2 22.7h.95M25.1 19.5h.95M27.6 14.5h.95M25.4 16.0h.95M23.8 18.3h.95M30.6 5.7h.95M21.2 26.1h.95M20.3 28.2h.95M25.4 26.2h.95M30.2 22.9h.95M30.3 10.2h.95M21.6 9.4h.95M17.3 23.5h.95M24.1 10.7h.95M30.8 21.7h.95M30.2 4.4h.95M19.0 19.5h.95M25.1 24.0h.95M29.7 6.9h.95M20.9 11.7h.95M27.4 17.8h.95M40.5 11.4h.95M24.3 26.8h.95M21.8 19.6h.95M32.9 13.7h.95M23.5 21.0h.95M24.1 13.5h.95M5.6 28.1h.95M32.9 8.4h.95M20.2 16.0h.95M25.5 15.1h.95M29.0 7.1h.95M18.2 16.7h.95M20.0 12.6h.95M17.4 29.2h.95M25.2 7.2h.95M23.0 7.4h.95M31.6 21.6h.95M29.7 17.8h.95M36.7 12.9h.95M26.9 18.6h.95M27.6 18.3h.95M18.2 24.8h.95M31.3 18.8h.95M22.4 22.0h.95M32.1 20.5h.95M17.4 14.8h.95M23.1 30.3h.95M24.3 20.9h.95M25.7 6.5h.95M16.2 29.3h.95M25.8 13.4h.95M26.5 5.4h.95M21.0 21.1h.95M27.7 7.8h.95M18.2 17.7h.95M28.4 21.7h.95M22.3 19.2h.95M22.6 21.6h.95M20.8 28.0h.95M16.8 17.9h.95M25.0 14.9h.95M18.3 14.2h.95M28.6 16.3h.95M17.1 14.0h.95M26.6 24.2h.95M17.7 14.7h.95M22.3 19.1h.95M25.7 29.5h.95M22.0 16.6h.95M20.0 26.9h.95M26.3 25.4h.95M16.9 15.2h.95M21.5 8.1h.95M27.5 24.0h.95M33.2 20.6h.95M21.6 22.0h.95" stroke="#22948b"/>
<path d="M24.2 25.6h.95M18.8 12.3h.95M24.3 16.3h.95M20.3 14.5h.95M23.8 16.2h.95M27.4 16.9h.95M17.2 15.3h.95M23.2 16.8h.95M15.0 20.6h.95M19.7 17.2h.95M32.3 12.5h.95M17.9 14.4h.95M23.6 18.3h.95M19.6 27.4h.95M20.1 13.7h.95M28.4 18.1h.95M28.1 12.0h.95M20.9 20.2h.95M35.5 15.8h.95M31.5 19.0h.95M23.2 6.2h.95M28.1 8.3h.95M21.9 8.9h.95M27.2 5.4h.95M22.2 23.6h.95M23.4 13.6h.95M25.7 26.5h.95M22.4 19.6h.95M28.4 27.7h.95M29.5 19.7h.95M29.5 23.5h.95M24.1 13.2h.95M17.4 25.9h.95M31.5 13.5h.95M24.0 25.1h.95M20.6 12.4h.95M30.9 20.3h.95M28.1 16.5h.95M24.3 16.6h.95M22.9 17.5h.95M18.6 10.4h.95M23.0 9.9h.95M24.0 13.2h.95M22.4 10.9h.95M25.3 11.4h.95M25.3 26.3h.95M21.5 19.2h.95M23.2 17.6h.95M27.3 13.2h.95M20.1 21.4h.95M23.0 11.7h.95M22.5 18.6h.95M31.8 21.9h.95M25.9 9.5h.95M17.6 12.6h.95M22.2 19.4h.95M22.1 11.0h.95M19.7 9.1h.95M31.4 22.5h.95M26.4 20.3h.95M23.2 11.3h.95M21.3 20.3h.95" stroke="#26a684"/>
<path d="M22.5 16.3h.95M19.9 20.3h.95M16.8 12.8h.95M24.7 9.9h.95M19.2 12.4h.95M26.6 14.8h.95M30.4 12.1h.95M19.9 11.7h.95M20.6 12.2h.95M28.5 17.8h.95" stroke="#35b779"/>
<path d="M26.7 16.8h.95M20.1 9.7h.95" stroke="#5ac664"/>
</g>
<rect x="33.4" y="570.4" width="46.2" height="46.2" fill="none" stroke="#3a3a3a" stroke-width="1.2"/>
<text x="107.9" y="568.21" font-size="9.2" text-anchor="middle" font-style="italic" fill="#1a1a1a" textLength="19.2" lengthAdjust="spacingAndGlyphs">ATF5</text>
<g transform="translate(84.8,570.4)" fill="none" stroke-width=".95">
<path d="M9.5 35.9h.95M14.6 35.6h.95M7.1 32.8h.95M11.1 40.3h.95" stroke="#440154"/>
<path d="M8.8 27.0h.95M3.3 33.3h.95M7.0 27.8h.95M7.4 37.0h.95M21.5 29.9h.95M4.5 38.6h.95M4.8 37.4h.95M37.5 7.8h.95M12.5 39.3h.95M24.3 26.8h.95M14.7 35.1h.95M28.7 12.6h.95M41.2 10.5h.95" stroke="#471a6b"/>
<path d="M10.7 32.7h.95M5.2 39.0h.95M31.5 9.8h.95M26.9 26.2h.95M5.6 35.9h.95M4.3 39.3h.95M8.8 33.7h.95M31.5 8.3h.95M5.7 28.3h.95M40.3 7.6h.95M5.0 31.3h.95M28.4 18.1h.95M23.2 6.2h.95M29.6 21.1h.95M7.2 32.7h.95M4.4 35.2h.95M7.6 26.3h.95M28.1 8.3h.95M16.7 30.3h.95M6.3 33.5h.95M21.6 15.9h.95M4.8 37.9h.95M34.8 15.8h.95M27.6 4.9h.95M8.6 32.3h.95M24.7 9.9h.95M10.1 34.6h.95M16.3 31.6h.95M8.4 34.1h.95M22.3 12.4h.95M15.3 27.3h.95M7.8 37.3h.95M23.8 18.3h.95M40.1 6.5h.95M4.2 35.9h.95M12.6 33.8h.95M6.9 33.7h.95M13.0 27.6h.95M30.3 10.2h.95M14.0 37.1h.95M13.1 35.4h.95M6.2 28.2h.95M10.4 27.0h.95M36.0 8.5h.95M8.4 30.1h.95M9.7 37.2h.95M6.0 36.4h.95M11.2 33.3h.95M6.4 38.4h.95M6.9 35.2h.95M9.0 36.0h.95M18.2 24.8h.95M10.9 40.1h.95M16.7 27.4h.95M40.2 4.3h.95M7.5 31.0h.95" stroke="#45327d"/>
<path d="M27.1 8.0h.95M11.0 40.0h.95M37.9 14.7h.95M14.8 26.7h.95M30.5 5.2h.95M3.7 34.0h.95M18.8 12.3h.95M8.8 36.2h.95M23.2 23.8h.95M21.1 17.9h.95M14.2 21.7h.95M7.8 27.4h.95M32.0 7.6h.95M36.2 10.7h.95M14.2 33.7h.95M19.1 9.3h.95M5.2 30.4h.95M6.3 29.3h.95M4.1 31.5h.95M27.2 19.8h.95M7.6 29.3h.95M31.4 9.4h.95M17.2 15.3h.95M18.7 23.9h.95M35.2 11.8h.95M6.4 33.4h.95M23.7 9.7h.95M37.9 12.4h.95M9.5 27.9h.95M40.7 10.4h.95M3.9 33.2h.95M21.3 14.3h.95M12.2 39.2h.95M28.1 17.7h.95M39.1 14.8h.95M31.9 13.3h.95M26.0 7.6h.95M26.9 11.7h.95M19.6 27.4h.95M22.3 24.1h.95M28.8 19.5h.95M31.0 19.1h.95M36.9 5.5h.95M24.0 6.3h.95M17.9 27.9h.95M38.8 15.8h.95M16.1 26.3h.95M35.6 4.7h.95M33.9 19.4h.95M35.5 15.8h.95M26.2 6.7h.95M31.5 19.0h.95M23.0 21.5h.95M39.3 14.5h.95M39.9 6.5h.95M31.6 4.6h.95M38.3 5.7h.95M33.4 15.0h.95M9.3 39.7h.95M33.5 13.0h.95M17.9 25.5h.95M11.1 39.2h.95M21.2 24.4h.95M16.5 21.7h.95M15.9 29.9h.95M23.7 29.2h.95M15.4 22.6h.95M14.6 34.9h.95M15.0 33.6h.95M8.2 40.2h.95M16.6 19.2h.95M8.4 35.7h.95M21.4 25.1h.95M7.8 40.5h.95M8.1 31.7h.95M10.4 40.3h.95M10.5 38.6h.95M13.4 31.7h.95M21.3 13.6h.95M24.3 19.8h.95M38.7 13.3h.95M40.1 4.7h.95M12.6 39.3h.95M8.7 40.4h.95M31.3 19.9h.95M34.1 18.4h.95M37.0 9.8h.95M20.7 28.4h.95M8.7 35.3h.95M40.1 12.1h.95M8.9 35.2h.95M28.1 16.5h.95M5.2 38.1h.95M21.8 15.8h.95M29.1 13.6h.95M22.9 17.5h.95M8.4 38.7h.95M20.1 16.4h.95M12.4 33.5h.95M8.4 26.2h.95M8.2 38.5h.95M30.8 19.4h.95M6.2 38.8h.95M33.3 5.8h.95M8.5 31.2h.95M5.7 33.5h.95M14.1 32.1h.95M22.2 19.9h.95M12.4 33.9h.95M9.4 39.8h.95M13.8 25.4h.95M38.2 13.2h.95M27.3 25.3h.95M20.5 26.1h.95M10.2 32.6h.95M9.0 40.0h.95M4.9 39.3h.95M38.7 14.3h.95M6.4 37.1h.95M11.1 37.7h.95M4.3 31.5h.95M11.0 39.5h.95M25.7 26.7h.95M18.6 18.0h.95M22.4 10.9h.95M9.5 27.4h.95M6.2 35.6h.95M21.2 26.1h.95M7.6 37.0h.95M34.0 5.8h.95M39.8 11.3h.95M36.7 6.8h.95M19.5 27.3h.95M4.2 38.0h.95M27.9 11.4h.95M8.8 41.7h.95M28.2 16.9h.95M27.4 26.6h.95M24.1 10.7h.95M21.3 23.3h.95M7.1 28.3h.95M9.6 35.2h.95M9.9 38.2h.95M6.8 37.0h.95M27.7 6.0h.95M29.9 13.5h.95M37.8 4.2h.95M9.3 34.1h.95M5.7 28.8h.95M11.2 31.4h.95M31.8 21.9h.95M10.3 32.0h.95M17.6 12.6h.95M13.2 36.9h.95M37.4 13.7h.95M26.9 17.9h.95M15.3 19.4h.95M6.9 32.8h.95M22.1 11.0h.95M21.1 20.2h.95M36.8 15.2h.95M22.8 26.8h.95M13.9 35.5h.95M33.6 16.0h.95M27.7 16.4h.95M41.0 11.8h.95M7.0 35.8h.95M26.5 5.4h.95M31.2 14.1h.95M9.4 41.9h.95M12.9 39.2h.95M14.2 24.3h.95M11.0 37.3h.95M5.5 28.1h.95M11.0 38.0h.95M7.2 33.4h.95M23.0 27.0h.95M26.0 20.5h.95M37.9 9.4h.95M17.3 25.8h.95M15.3 34.4h.95M12.2 23.7h.95M19.4 29.8h.95M16.8 17.9h.95M13.1 33.0h.95M18.3 14.2h.95M20.7 28.8h.95M41.6 9.8h.95M8.0 31.2h.95M19.2 9.9h.95M32.0 18.8h.95M12.4 37.1h.95M17.2 30.6h.95M30.9 17.3h.95M24.0 17.6h.95M26.3 25.4h.95M39.6 7.1h.95M5.8 34.7h.95M21.3 20.3h.95M36.5 15.1h.95M6.8 27.5h.95M7.5 26.7h.95" stroke="#3e4989"/>
<path d="M21.3 12.7h.95M24.2 25.6h.95M34.1 8.5h.95M24.0 29.6h.95M16.2 15.2h.95M17.3 25.7h.95M10.1 40.5h.95M7.2 32.4h.95M24.3 15.3h.95M21.7 14.4h.95M14.0 22.1h.95M12.8 29.4h.95M11.5 30.0h.95M12.3 38.5h.95M26.9 6.7h.95M34.9 19.5h.95M27.0 8.5h.95M20.3 14.5h.95M33.5 12.7h.95M14.6 23.8h.95M21.1 17.2h.95M3.6 33.6h.95M38.5 8.6h.95M21.7 24.6h.95M22.4 16.0h.95M9.0 26.0h.95M30.3 4.9h.95M35.8 11.6h.95M37.3 8.3h.95M8.9 27.8h.95M13.3 24.7h.95M31.9 18.5h.95M17.6 18.2h.95M14.4 29.5h.95M36.4 11.4h.95M17.7 27.6h.95M19.7 25.7h.95M30.3 4.9h.95M13.4 34.9h.95M13.2 29.6h.95M26.9 12.1h.95M19.7 17.2h.95M19.9 20.3h.95M34.1 15.7h.95M23.0 26.1h.95M29.5 23.5h.95M30.9 15.1h.95M39.2 13.8h.95M30.9 5.8h.95M30.9 17.7h.95M37.6 11.4h.95M31.4 19.4h.95M24.9 26.7h.95M8.9 27.2h.95M17.6 21.0h.95M17.6 29.9h.95M21.7 16.9h.95M12.3 29.2h.95M34.6 3.2h.95M32.9 17.2h.95M20.9 18.0h.95M20.0 26.3h.95M39.6 4.2h.95M19.3 22.8h.95M14.6 20.7h.95M13.8 33.8h.95M18.2 27.7h.95M5.5 29.9h.95M21.0 28.5h.95M29.8 20.6h.95M37.7 13.4h.95M33.0 16.2h.95M31.2 13.2h.95M33.0 7.5h.95M19.7 11.2h.95M14.1 32.2h.95M9.4 30.5h.95M27.9 22.2h.95M19.4 19.3h.95M41.1 8.0h.95M39.8 15.3h.95M34.0 9.3h.95M12.3 35.6h.95M20.0 15.0h.95M31.7 17.7h.95M35.8 8.8h.95M32.9 7.2h.95M3.8 37.8h.95M29.9 11.5h.95M20.3 10.5h.95M6.7 26.8h.95M35.1 12.0h.95M14.5 35.1h.95M33.4 15.2h.95M29.4 7.9h.95M27.8 4.6h.95M5.8 29.5h.95M6.8 36.9h.95M15.8 30.0h.95M27.0 18.9h.95M6.2 27.6h.95M30.0 23.0h.95M41.9 8.1h.95M20.1 27.1h.95M20.7 14.3h.95M16.2 27.0h.95M31.1 22.3h.95M26.1 15.7h.95M18.3 15.5h.95M14.8 25.0h.95M21.3 26.6h.95M21.9 8.9h.95M12.0 27.1h.95M27.2 5.4h.95M22.2 23.6h.95M28.4 24.2h.95M35.3 5.5h.95M22.2 22.4h.95M28.6 25.1h.95M39.2 13.9h.95M21.7 7.6h.95M8.6 33.9h.95M37.1 15.5h.95M39.9 4.7h.95M38.4 8.9h.95M22.2 11.2h.95M37.6 14.7h.95M29.6 4.5h.95M23.1 17.7h.95M13.9 33.7h.95M17.0 14.7h.95M14.8 26.9h.95M22.6 22.2h.95M31.7 15.7h.95M22.4 19.6h.95M32.8 18.2h.95M11.4 29.3h.95M28.4 27.7h.95M17.0 30.0h.95M28.6 22.3h.95M37.3 10.6h.95M36.1 8.7h.95M35.5 3.3h.95M37.9 8.6h.95M33.1 13.5h.95M39.3 11.9h.95M32.5 17.5h.95M17.4 25.9h.95M24.5 26.5h.95M31.5 13.5h.95M19.5 17.9h.95M18.0 25.0h.95M14.6 21.5h.95M29.0 12.6h.95M8.7 29.8h.95M9.9 40.6h.95M30.6 18.6h.95M30.9 20.3h.95M22.1 18.5h.95M21.1 15.8h.95M39.7 5.8h.95M30.2 13.4h.95M22.4 8.2h.95M15.1 20.3h.95M31.6 14.6h.95M22.2 20.9h.95M9.9 28.4h.95M30.7 16.9h.95M24.9 30.1h.95M30.1 13.8h.95M32.7 14.5h.95M31.2 7.6h.95M24.3 16.6h.95M27.2 10.8h.95M25.6 13.8h.95M29.6 19.7h.95M27.9 10.7h.95M16.0 31.5h.95M23.2 26.0h.95M19.7 22.9h.95M18.6 10.4h.95M31.5 14.5h.95M35.6 4.0h.95M20.6 23.9h.95M41.4 7.3h.95M14.2 24.2h.95M21.2 9.6h.95M14.2 26.1h.95M23.8 30.5h.95M16.2 27.2h.95M7.7 38.1h.95M10.9 30.5h.95M15.9 17.5h.95M37.2 11.9h.95M14.0 33.6h.95M40.5 8.8h.95M12.9 31.1h.95M28.0 15.4h.95M30.7 16.4h.95M7.1 26.7h.95M35.6 10.4h.95M8.1 27.1h.95M25.2 22.7h.95M40.0 15.2h.95M39.6 3.8h.95M33.9 20.4h.95M13.8 34.0h.95M24.0 13.2h.95M40.6 4.5h.95M27.6 14.5h.95M37.3 11.7h.95M20.3 25.4h.95M32.1 4.5h.95M4.5 34.2h.95M29.9 19.3h.95M20.3 28.2h.95M26.5 26.7h.95M38.3 9.0h.95M36.6 13.2h.95M34.7 3.2h.95M9.7 27.4h.95M22.9 12.9h.95M25.3 11.4h.95M8.0 37.4h.95M21.6 9.4h.95M30.8 17.9h.95M25.3 26.3h.95M31.7 17.7h.95M10.8 29.7h.95M15.3 23.5h.95M21.5 19.2h.95M22.1 25.1h.95M31.7 19.8h.95M4.4 31.5h.95M26.7 11.2h.95M14.0 26.0h.95M23.8 12.2h.95M24.1 13.3h.95M34.1 12.2h.95M33.5 10.4h.95M16.0 24.8h.95M16.2 30.4h.95M24.9 11.6h.95M33.3 5.6h.95M25.1 24.0h.95M23.0 27.3h.95M4.1 31.3h.95M26.8 6.8h.95M14.2 30.6h.95M27.4 17.8h.95M4.5 35.9h.95M41.8 8.0h.95M7.4 34.8h.95M5.1 35.4h.95M25.1 17.4h.95M16.4 27.7h.95M17.3 22.9h.95M31.3 13.1h.95M5.6 28.1h.95M12.8 37.7h.95M27.6 16.5h.95M12.4 38.9h.95M26.1 22.5h.95M21.8 7.3h.95M20.1 21.4h.95M23.0 11.7h.95M20.2 16.0h.95M38.7 6.9h.95M32.8 15.5h.95M29.0 7.1h.95M17.1 16.3h.95M34.9 9.0h.95M16.7 30.2h.95M22.5 18.6h.95M16.0 15.7h.95M9.4 39.6h.95M17.1 27.0h.95M30.4 13.5h.95M7.4 31.5h.95M31.9 13.9h.95M26.5 22.2h.95M23.0 7.4h.95M8.4 30.6h.95M20.6 12.2h.95M14.2 26.8h.95M5.8 38.8h.95M34.8 3.5h.95M30.6 5.7h.95M26.9 18.6h.95M28.5 17.8h.95M9.5 32.7h.95M22.9 15.0h.95M37.1 11.5h.95M17.4 14.8h.95M30.7 18.6h.95M6.2 35.7h.95M10.4 35.3h.95M12.6 26.1h.95M10.3 35.1h.95M32.1 4.7h.95M24.6 26.5h.95M25.8 13.4h.95M33.7 6.9h.95M19.7 9.1h.95M21.0 21.1h.95M16.7 15.9h.95M14.9 24.3h.95M12.1 34.0h.95M12.6 29.8h.95M26.1 24.4h.95M15.5 22.7h.95M19.3 11.1h.95M16.4 26.3h.95M28.4 21.7h.95M21.6 17.0h.95M22.3 19.2h.95M22.6 21.6h.95M27.7 26.7h.95M30.2 9.8h.95M32.3 20.5h.95M21.8 14.3h.95M26.4 9.8h.95M18.8 12.8h.95M29.9 11.4h.95M37.0 8.2h.95M17.7 14.7h.95M6.0 28.7h.95M20.2 9.7h.95M25.7 29.5h.95M38.2 5.1h.95M23.2 11.3h.95M5.7 40.1h.95M16.9 15.2h.95M5.7 39.0h.95M37.9 11.5h.95M7.6 41.8h.95M21.5 8.1h.95M15.1 23.2h.95M33.2 20.6h.95M26.6 6.9h.95M21.6 22.0h.95" stroke="#365d8c"/>
<path d="M32.9 9.3h.95M15.3 21.9h.95M20.8 19.6h.95M35.7 8.1h.95M14.5 20.8h.95M22.5 16.3h.95M28.3 25.8h.95M29.0 19.5h.95M20.2 28.5h.95M7.5 35.7h.95M24.3 16.3h.95M26.2 25.2h.95M26.7 16.8h.95M17.7 20.0h.95M26.2 13.2h.95M19.2 15.5h.95M26.7 21.7h.95M28.2 26.7h.95M32.7 14.8h.95M23.8 16.2h.95M19.7 25.6h.95M12.0 35.2h.95M4.0 31.4h.95M30.8 8.3h.95M19.8 15.4h.95M31.7 10.0h.95M26.2 12.4h.95M35.0 8.5h.95M34.4 20.0h.95M26.1 25.5h.95M21.3 14.1h.95M28.2 19.9h.95M39.5 5.1h.95M22.0 25.5h.95M15.0 20.6h.95M19.4 15.3h.95M31.3 6.7h.95M30.7 20.5h.95M26.2 7.1h.95M34.8 19.5h.95M18.3 11.5h.95M24.9 17.0h.95M32.3 12.5h.95M16.7 12.8h.95M6.9 31.2h.95M38.1 10.8h.95M15.2 18.0h.95M17.1 26.3h.95M32.9 11.8h.95M13.9 26.8h.95M26.2 28.4h.95M24.2 17.7h.95M7.6 26.5h.95M17.9 14.4h.95M22.5 30.4h.95M20.3 21.5h.95M19.4 13.6h.95M29.0 7.8h.95M13.4 32.6h.95M17.4 21.8h.95M12.4 25.3h.95M13.3 24.4h.95M17.4 23.8h.95M22.3 25.2h.95M38.0 10.0h.95M37.0 4.6h.95M40.0 7.4h.95M35.9 7.7h.95M32.4 13.2h.95M27.5 28.2h.95M18.0 28.0h.95M25.0 14.4h.95M25.4 22.7h.95M7.8 33.0h.95M29.4 16.4h.95M23.9 21.8h.95M28.1 12.0h.95M20.3 30.0h.95M14.7 31.6h.95M35.8 17.4h.95M39.1 6.1h.95M23.9 9.7h.95M19.6 20.3h.95M11.6 29.1h.95M20.3 8.9h.95M16.5 22.9h.95M20.6 28.8h.95M14.9 17.4h.95M14.1 28.8h.95M15.5 27.6h.95M7.3 37.8h.95M28.7 12.6h.95M22.5 25.8h.95M33.8 14.6h.95M14.0 31.7h.95M27.5 30.1h.95M6.7 32.1h.95M26.6 28.8h.95M39.2 3.8h.95M22.4 14.6h.95M38.5 6.1h.95M22.7 29.0h.95M17.3 27.2h.95M27.0 29.3h.95M32.4 11.9h.95M20.3 25.3h.95M12.4 29.2h.95M16.8 12.8h.95M23.4 13.6h.95M19.6 23.5h.95M20.7 15.2h.95M23.4 29.5h.95M14.4 31.0h.95M16.6 16.6h.95M4.2 37.6h.95M27.0 21.7h.95M31.2 19.8h.95M22.2 9.7h.95M11.6 28.1h.95M29.5 21.6h.95M29.8 15.9h.95M25.6 28.3h.95M28.6 13.3h.95M25.7 26.5h.95M21.4 17.6h.95M24.3 26.1h.95M8.1 32.9h.95M31.5 20.1h.95M25.6 14.9h.95M12.0 24.6h.95M26.6 22.6h.95M18.9 13.5h.95M29.6 18.2h.95M11.6 27.0h.95M25.7 23.7h.95M35.1 6.8h.95M13.7 26.4h.95M29.5 23.5h.95M15.0 29.1h.95M27.6 6.3h.95M33.8 12.2h.95M22.8 9.3h.95M24.1 22.5h.95M27.6 24.7h.95M18.9 27.6h.95M37.3 17.7h.95M24.0 25.1h.95M31.8 17.6h.95M30.5 9.0h.95M5.5 30.6h.95M21.1 12.1h.95M34.3 8.3h.95M27.4 18.0h.95M21.2 24.5h.95M37.6 12.8h.95M24.3 14.2h.95M26.6 14.8h.95M29.1 13.8h.95M32.6 16.3h.95M14.8 18.1h.95M8.1 40.1h.95M20.1 9.7h.95M27.6 27.2h.95M26.4 9.4h.95M25.8 5.2h.95M21.4 14.4h.95M21.7 27.2h.95M22.8 10.6h.95M22.6 18.9h.95M30.5 16.7h.95M21.9 22.3h.95M23.7 24.8h.95M27.8 21.9h.95M27.9 11.6h.95M21.1 12.3h.95M19.7 10.3h.95M4.1 31.8h.95M37.9 8.2h.95M22.2 8.2h.95M24.1 12.0h.95M23.0 9.9h.95M11.3 36.2h.95M27.4 27.5h.95M21.6 10.9h.95M35.2 11.8h.95M24.3 22.9h.95M24.9 10.4h.95M31.2 10.1h.95M15.2 32.0h.95M34.7 14.4h.95M25.1 19.5h.95M33.3 7.2h.95M6.7 27.7h.95M27.0 10.7h.95M7.5 28.2h.95M25.4 16.0h.95M13.0 27.0h.95M30.6 5.7h.95M28.7 21.7h.95M9.0 32.5h.95M27.0 28.2h.95M24.3 23.4h.95M12.2 26.9h.95M33.5 18.0h.95M24.0 13.5h.95M25.4 26.2h.95M32.5 19.6h.95M37.2 16.1h.95M26.7 16.0h.95M39.1 13.5h.95M39.8 9.3h.95M28.1 9.2h.95M23.2 17.6h.95M30.4 12.1h.95M15.9 29.0h.95M22.3 9.1h.95M12.3 37.0h.95M31.1 5.6h.95M28.8 8.0h.95M30.8 21.7h.95M39.9 6.1h.95M35.9 7.9h.95M13.5 28.6h.95M33.3 8.5h.95M30.2 4.4h.95M19.0 19.5h.95M29.7 6.9h.95M25.4 29.2h.95M23.3 13.7h.95M35.6 16.6h.95M20.9 11.7h.95M19.1 23.6h.95M5.3 35.9h.95M6.2 35.9h.95M12.7 33.4h.95M31.6 7.6h.95M32.9 13.7h.95M23.5 21.0h.95M24.1 13.5h.95M21.0 20.7h.95M26.8 22.7h.95M32.9 8.4h.95M35.5 8.4h.95M38.4 13.1h.95M25.5 15.1h.95M16.3 26.4h.95M6.5 37.1h.95M31.0 8.5h.95M20.0 12.6h.95M29.0 6.5h.95M20.5 12.1h.95M19.9 11.7h.95M19.7 14.3h.95M37.8 14.2h.95M31.6 21.6h.95M29.7 17.8h.95M26.3 19.1h.95M25.9 9.5h.95M22.2 19.4h.95M34.1 12.8h.95M22.4 22.0h.95M32.1 20.5h.95M23.1 30.3h.95M27.7 9.8h.95M24.3 20.9h.95M22.3 22.2h.95M33.3 6.6h.95M25.7 6.5h.95M39.1 9.3h.95M32.6 21.4h.95M21.4 19.7h.95M27.6 14.1h.95M31.5 11.5h.95M30.2 8.8h.95M31.8 12.6h.95M17.0 25.2h.95M27.7 7.8h.95M23.8 26.0h.95M31.0 12.7h.95M29.1 21.9h.95M35.1 16.5h.95M20.8 28.0h.95M25.0 29.3h.95M10.3 26.3h.95M27.8 22.3h.95M25.0 14.9h.95M30.4 12.7h.95M27.3 11.3h.95M39.2 8.5h.95M4.9 31.0h.95M28.6 16.3h.95M31.7 8.9h.95M31.4 22.5h.95M26.6 24.2h.95M27.5 7.2h.95M12.9 28.6h.95M29.3 16.2h.95M22.3 19.1h.95M10.9 27.8h.95M27.9 14.8h.95M22.0 16.6h.95M24.4 29.9h.95M13.6 29.5h.95M11.6 27.1h.95M20.8 13.0h.95M27.5 24.0h.95" stroke="#2e708e"/>
<path d="M16.4 16.9h.95M17.2 30.7h.95M16.6 28.3h.95M21.4 11.9h.95M18.0 18.4h.95M30.1 20.0h.95M34.7 5.7h.95M26.4 22.2h.95M24.6 27.4h.95M23.2 8.3h.95M27.4 16.9h.95M26.9 16.7h.95M37.3 9.0h.95M5.4 33.6h.95M35.0 15.3h.95M19.6 23.8h.95M11.9 30.4h.95M39.9 5.8h.95M39.3 6.0h.95M23.6 18.3h.95M28.4 9.9h.95M20.1 13.7h.95M37.2 8.2h.95M28.6 25.8h.95M20.9 20.2h.95M18.7 20.7h.95M26.5 26.2h.95M20.9 13.9h.95M13.0 27.3h.95M13.7 23.7h.95M25.8 12.0h.95M28.9 26.0h.95M20.4 25.0h.95M21.6 24.1h.95M14.4 27.7h.95M29.2 23.5h.95M29.3 16.3h.95M27.2 26.2h.95M30.3 11.6h.95M14.2 27.3h.95M30.2 13.7h.95M29.5 19.7h.95M29.7 5.8h.95M29.3 15.5h.95M27.9 25.2h.95M21.1 11.3h.95M31.5 18.2h.95M23.4 13.0h.95M27.2 8.1h.95M11.2 25.7h.95M20.9 19.5h.95M20.6 12.4h.95M10.6 33.5h.95M29.6 19.8h.95M25.5 11.9h.95M15.7 24.4h.95M17.4 29.4h.95M19.2 12.4h.95M19.7 18.4h.95M19.7 22.9h.95M23.7 10.8h.95M18.0 25.3h.95M35.2 18.2h.95M14.4 25.1h.95M37.2 15.4h.95M25.5 21.6h.95M20.3 18.7h.95M11.0 36.9h.95M26.9 15.4h.95M30.2 22.9h.95M17.1 12.4h.95M29.0 18.5h.95M23.0 28.9h.95M18.5 26.6h.95M17.3 23.5h.95M27.3 30.1h.95M33.5 16.6h.95M40.5 11.4h.95M26.5 27.5h.95M27.3 13.2h.95M39.4 8.9h.95M18.2 16.7h.95M20.3 16.3h.95M32.1 10.2h.95M30.8 6.3h.95M10.8 38.8h.95M25.2 7.2h.95M33.6 4.3h.95M36.7 12.9h.95M23.1 15.8h.95M35.8 10.5h.95M27.6 18.3h.95M31.3 18.8h.95M33.8 20.7h.95M38.6 5.5h.95M16.2 29.3h.95M17.6 24.5h.95M10.2 34.6h.95M26.2 13.2h.95M31.3 20.6h.95M37.6 12.2h.95M22.9 14.5h.95M17.0 26.4h.95M17.1 14.0h.95M20.0 26.9h.95M24.2 7.8h.95" stroke="#26828e"/>
<path d="M38.1 7.4h.95M12.9 32.5h.95M23.2 16.8h.95M38.3 14.9h.95M26.4 8.4h.95M18.9 15.9h.95M17.0 20.1h.95M25.5 7.5h.95M37.7 4.0h.95M24.1 13.2h.95M23.0 17.2h.95M24.3 16.2h.95M26.6 20.3h.95M25.6 25.3h.95M21.8 19.6h.95M17.4 29.2h.95M25.1 21.1h.95M18.2 17.7h.95M7.4 41.8h.95M25.0 15.1h.95M26.4 20.3h.95" stroke="#22948b"/>
<path d="M36.8 16.5h.95" stroke="#26a684"/>
</g>
<rect x="84.8" y="570.4" width="46.2" height="46.2" fill="none" stroke="#3a3a3a" stroke-width="1.2"/>
<text x="159.3" y="568.21" font-size="9.2" text-anchor="middle" font-style="italic" fill="#1a1a1a" textLength="16.65" lengthAdjust="spacingAndGlyphs">FOS</text>
<g transform="translate(136.2,570.4)" fill="none" stroke-width=".95">
<path d="M37.9 14.7h.95M30.5 5.2h.95M3.7 34.0h.95M10.1 40.5h.95M7.5 35.7h.95M34.7 5.7h.95M31.7 10.0h.95M35.0 15.3h.95M6.9 31.2h.95M37.6 11.4h.95M9.5 27.9h.95M32.9 11.8h.95M3.9 33.2h.95M12.2 39.2h.95M38.0 10.0h.95M5.5 29.9h.95M36.9 5.5h.95M34.0 9.3h.95M35.6 4.7h.95M12.3 35.6h.95M35.5 15.8h.95M39.9 6.5h.95M6.8 36.9h.95M31.6 4.6h.95M4.4 35.2h.95M6.7 32.1h.95M39.2 3.8h.95M37.6 14.7h.95M8.4 35.7h.95M37.7 4.0h.95M29.7 5.8h.95M10.5 38.6h.95M33.1 13.5h.95M12.6 39.3h.95M34.3 8.3h.95M10.1 34.6h.95M8.7 35.3h.95M36.8 16.5h.95M8.4 38.7h.95M35.6 4.0h.95M37.9 8.2h.95M5.7 33.5h.95M12.4 33.9h.95M38.2 13.2h.95M40.5 8.8h.95M33.3 7.2h.95M6.7 27.7h.95M40.6 4.5h.95M32.1 4.5h.95M34.7 3.2h.95M37.2 16.1h.95M12.5 39.3h.95M41.8 8.0h.95M8.4 30.1h.95M39.4 8.9h.95M12.4 38.9h.95M35.5 8.4h.95M38.4 13.1h.95M6.5 37.1h.95M30.4 13.5h.95M6.4 38.4h.95M38.6 5.5h.95M6.2 35.7h.95M33.3 6.6h.95M32.1 4.7h.95M9.4 41.9h.95M31.7 8.9h.95M37.0 8.2h.95M12.4 37.1h.95M5.7 39.0h.95M7.6 41.8h.95" stroke="#440154"/>
<path d="M34.1 8.5h.95M10.7 32.7h.95M7.2 32.4h.95M5.2 39.0h.95M31.5 9.8h.95M12.3 38.5h.95M26.9 6.7h.95M27.0 8.5h.95M36.2 10.7h.95M30.3 4.9h.95M35.8 11.6h.95M37.3 8.3h.95M12.9 32.5h.95M5.4 33.6h.95M31.3 6.7h.95M34.1 15.7h.95M38.3 14.9h.95M7.1 32.8h.95M34.6 3.2h.95M32.9 17.2h.95M8.8 33.7h.95M39.6 4.2h.95M3.3 33.3h.95M39.1 14.8h.95M37.0 4.6h.95M37.7 13.4h.95M40.3 7.6h.95M20.1 13.7h.95M9.4 30.5h.95M37.2 8.2h.95M28.1 12.0h.95M32.9 7.2h.95M3.8 37.8h.95M39.1 6.1h.95M33.4 15.2h.95M29.4 7.9h.95M5.8 29.5h.95M39.3 14.5h.95M38.3 5.7h.95M8.6 33.9h.95M38.4 8.9h.95M13.9 33.7h.95M8.1 31.7h.95M32.8 18.2h.95M8.1 32.9h.95M34.8 15.8h.95M37.3 10.6h.95M36.1 8.7h.95M10.4 40.3h.95M11.6 27.0h.95M29.3 15.5h.95M7.4 37.0h.95M32.5 17.5h.95M31.5 13.5h.95M37.3 17.7h.95M9.9 40.6h.95M30.5 9.0h.95M39.7 5.8h.95M37.6 12.8h.95M37.0 9.8h.95M31.6 14.6h.95M8.1 40.1h.95M40.1 12.1h.95M19.7 10.3h.95M33.3 5.8h.95M9.4 39.8h.95M11.3 36.2h.95M37.2 15.4h.95M35.2 11.8h.95M37.2 11.9h.95M11.0 36.9h.95M38.7 14.3h.95M35.6 10.4h.95M40.0 15.2h.95M39.6 3.8h.95M7.8 37.3h.95M4.3 31.5h.95M30.6 5.7h.95M4.2 35.9h.95M9.0 32.5h.95M12.6 33.8h.95M37.5 7.8h.95M7.6 37.0h.95M36.6 13.2h.95M39.1 13.5h.95M13.1 35.4h.95M34.1 12.2h.95M22.3 9.1h.95M12.3 37.0h.95M31.1 5.6h.95M39.9 6.1h.95M33.5 16.6h.95M35.9 7.9h.95M6.8 37.0h.95M33.3 5.6h.95M29.7 6.9h.95M23.3 13.7h.95M4.1 31.3h.95M35.6 16.6h.95M26.8 6.8h.95M40.5 11.4h.95M4.5 35.9h.95M32.9 8.4h.95M32.8 15.5h.95M27.7 6.0h.95M29.0 7.1h.95M32.1 10.2h.95M34.9 9.0h.95M11.2 33.3h.95M37.8 14.2h.95M31.9 13.9h.95M33.6 4.3h.95M11.1 40.3h.95M34.8 3.5h.95M30.6 5.7h.95M6.9 32.8h.95M9.5 32.7h.95M10.3 35.1h.95M33.7 6.9h.95M39.1 9.3h.95M31.5 11.5h.95M11.0 37.3h.95M5.5 28.1h.95M11.0 38.0h.95M10.2 34.6h.95M41.2 10.5h.95M4.9 31.0h.95M41.6 9.8h.95M8.0 31.2h.95M36.5 15.1h.95M26.6 6.9h.95" stroke="#471a6b"/>
<path d="M38.1 7.4h.95M35.7 8.1h.95M8.8 36.2h.95M9.5 35.9h.95M11.5 30.0h.95M7.8 27.4h.95M33.5 12.7h.95M32.0 7.6h.95M32.7 14.8h.95M5.6 35.9h.95M38.5 8.6h.95M12.0 35.2h.95M30.8 8.3h.95M5.2 30.4h.95M6.3 29.3h.95M35.0 8.5h.95M4.3 39.3h.95M7.6 29.3h.95M31.4 9.4h.95M36.4 11.4h.95M35.2 11.8h.95M13.4 34.9h.95M30.7 20.5h.95M34.8 19.5h.95M24.9 17.0h.95M32.3 12.5h.95M38.1 10.8h.95M30.9 5.8h.95M37.9 12.4h.95M30.9 17.7h.95M40.7 10.4h.95M39.9 5.8h.95M21.3 14.3h.95M29.0 7.8h.95M31.5 8.3h.95M39.3 6.0h.95M23.6 18.3h.95M13.8 33.8h.95M26.0 7.6h.95M26.9 11.7h.95M40.0 7.4h.95M5.7 28.3h.95M33.0 16.2h.95M33.0 7.5h.95M7.8 33.0h.95M41.1 8.0h.95M39.8 15.3h.95M29.4 16.4h.95M35.8 8.8h.95M14.7 31.6h.95M29.9 11.5h.95M6.7 26.8h.95M35.1 12.0h.95M14.5 35.1h.95M29.6 21.1h.95M14.9 17.4h.95M7.2 32.7h.95M41.9 8.1h.95M33.4 15.0h.95M9.3 39.7h.95M33.5 13.0h.95M33.8 14.6h.95M11.1 39.2h.95M7.6 26.3h.95M26.6 28.8h.95M21.3 26.6h.95M28.1 8.3h.95M27.2 5.4h.95M32.4 11.9h.95M35.3 5.5h.95M37.1 15.5h.95M39.9 4.7h.95M4.8 37.9h.95M29.6 4.5h.95M11.6 28.1h.95M17.0 14.7h.95M30.3 11.6h.95M28.6 13.3h.95M7.8 40.5h.95M18.9 13.5h.95M27.6 4.9h.95M35.1 6.8h.95M35.5 3.3h.95M38.7 13.3h.95M24.1 13.2h.95M40.1 4.7h.95M27.2 8.1h.95M33.8 12.2h.95M18.0 25.0h.95M8.7 29.8h.95M5.5 30.6h.95M27.4 18.0h.95M30.2 13.4h.95M29.1 13.8h.95M30.7 16.9h.95M8.9 35.2h.95M30.1 13.8h.95M31.2 7.6h.95M27.2 10.8h.95M8.4 34.1h.95M27.9 11.6h.95M12.4 33.5h.95M18.6 10.4h.95M31.5 14.5h.95M4.1 31.8h.95M41.4 7.3h.95M30.8 19.4h.95M8.5 31.2h.95M21.6 10.9h.95M4.5 38.6h.95M14.0 33.6h.95M9.0 40.0h.95M4.9 39.3h.95M34.7 14.4h.95M6.4 37.1h.95M8.1 27.1h.95M33.9 20.4h.95M13.8 34.0h.95M4.8 37.4h.95M11.1 37.7h.95M7.5 28.2h.95M11.0 39.5h.95M4.5 34.2h.95M40.1 6.5h.95M6.2 35.6h.95M33.5 18.0h.95M38.3 9.0h.95M6.9 33.7h.95M39.8 11.3h.95M8.0 37.4h.95M21.6 9.4h.95M31.7 17.7h.95M39.8 9.3h.95M8.8 41.7h.95M28.1 9.2h.95M14.0 37.1h.95M4.4 31.5h.95M30.4 12.1h.95M33.5 10.4h.95M24.1 10.7h.95M28.8 8.0h.95M7.1 28.3h.95M30.8 21.7h.95M9.6 35.2h.95M9.9 38.2h.95M33.3 8.5h.95M24.9 11.6h.95M6.2 28.2h.95M14.2 30.6h.95M5.3 35.9h.95M7.4 34.8h.95M12.7 33.4h.95M9.7 37.2h.95M6.0 36.4h.95M16.4 27.7h.95M31.3 13.1h.95M12.8 37.7h.95M20.1 21.4h.95M29.9 13.5h.95M37.8 4.2h.95M10.8 38.8h.95M31.0 8.5h.95M29.0 6.5h.95M9.3 34.1h.95M9.4 39.6h.95M7.4 31.5h.95M8.4 30.6h.95M5.8 38.8h.95M36.7 12.9h.95M13.2 36.9h.95M37.4 13.7h.95M9.0 36.0h.95M35.8 10.5h.95M36.8 15.2h.95M33.8 20.7h.95M27.7 9.8h.95M10.4 35.3h.95M14.7 35.1h.95M41.0 11.8h.95M7.0 35.8h.95M10.9 40.1h.95M12.9 39.2h.95M28.7 12.6h.95M17.0 25.2h.95M7.2 33.4h.95M12.1 34.0h.95M7.4 41.8h.95M31.0 12.7h.95M15.3 34.4h.95M13.1 33.0h.95M30.2 9.8h.95M27.3 11.3h.95M40.2 4.3h.95M29.9 11.4h.95M7.5 31.0h.95M6.0 28.7h.95M38.2 5.1h.95M39.6 7.1h.95M11.6 27.1h.95M5.7 40.1h.95M37.9 11.5h.95M7.5 26.7h.95" stroke="#45327d"/>
<path d="M32.9 9.3h.95M27.1 8.0h.95M11.0 40.0h.95M16.2 15.2h.95M15.3 21.9h.95M17.3 25.7h.95M24.3 15.3h.95M22.5 16.3h.95M17.2 30.7h.95M28.3 25.8h.95M21.4 11.9h.95M21.1 17.9h.95M34.9 19.5h.95M17.7 20.0h.95M14.2 21.7h.95M3.6 33.6h.95M18.0 18.4h.95M14.6 35.6h.95M30.1 20.0h.95M4.0 31.4h.95M8.8 27.0h.95M26.4 22.2h.95M8.9 27.8h.95M4.1 31.5h.95M27.4 16.9h.95M26.9 16.7h.95M34.4 20.0h.95M21.3 14.1h.95M28.2 19.9h.95M39.5 5.1h.95M6.4 33.4h.95M13.2 29.6h.95M26.9 12.1h.95M19.7 17.2h.95M26.2 7.1h.95M30.9 15.1h.95M31.4 19.4h.95M13.9 26.8h.95M7.6 26.5h.95M21.7 16.9h.95M12.3 29.2h.95M20.9 18.0h.95M20.0 26.3h.95M19.4 13.6h.95M26.4 8.4h.95M13.4 32.6h.95M28.1 17.7h.95M31.9 13.3h.95M35.9 7.7h.95M32.4 13.2h.95M28.4 9.9h.95M27.5 28.2h.95M7.0 27.8h.95M31.2 13.2h.95M24.0 6.3h.95M19.7 11.2h.95M38.8 15.8h.95M14.1 32.2h.95M5.0 31.3h.95M28.4 18.1h.95M28.6 25.8h.95M20.0 15.0h.95M31.7 17.7h.95M20.3 10.5h.95M35.8 17.4h.95M23.9 9.7h.95M11.6 29.1h.95M26.2 6.7h.95M23.2 6.2h.95M23.0 21.5h.95M7.3 37.8h.95M20.7 14.3h.95M16.2 27.0h.95M31.1 22.3h.95M26.1 15.7h.95M14.0 31.7h.95M20.4 25.0h.95M38.5 6.1h.95M16.7 30.3h.95M6.3 33.5h.95M28.6 25.1h.95M39.2 13.9h.95M14.6 34.9h.95M20.7 15.2h.95M22.2 11.2h.95M8.2 40.2h.95M4.2 37.6h.95M29.8 15.9h.95M21.4 17.6h.95M25.5 7.5h.95M30.2 13.7h.95M31.5 20.1h.95M17.0 30.0h.95M28.6 22.3h.95M13.4 31.7h.95M31.5 18.2h.95M37.9 8.6h.95M23.4 13.0h.95M39.3 11.9h.95M15.0 29.1h.95M19.5 17.9h.95M22.8 9.3h.95M18.9 27.6h.95M24.0 25.1h.95M30.9 20.3h.95M8.7 40.4h.95M31.3 19.9h.95M21.1 15.8h.95M34.1 18.4h.95M25.5 11.9h.95M19.2 12.4h.95M16.3 31.6h.95M20.1 9.7h.95M22.2 20.9h.95M28.1 16.5h.95M32.7 14.5h.95M24.3 16.6h.95M5.2 38.1h.95M29.1 13.6h.95M30.5 16.7h.95M16.0 31.5h.95M21.1 12.3h.95M19.7 22.9h.95M8.2 38.5h.95M21.2 9.6h.95M6.2 38.8h.95M22.2 8.2h.95M14.1 32.1h.95M24.1 12.0h.95M7.7 38.1h.95M23.0 9.9h.95M27.4 27.5h.95M10.9 30.5h.95M27.3 25.3h.95M20.5 26.1h.95M10.2 32.6h.95M12.9 31.1h.95M30.7 16.4h.95M15.2 32.0h.95M7.1 26.7h.95M15.3 27.3h.95M27.6 14.5h.95M37.3 11.7h.95M23.8 18.3h.95M24.0 13.5h.95M34.0 5.8h.95M13.0 27.6h.95M9.7 27.4h.95M32.5 19.6h.95M36.7 6.8h.95M30.3 10.2h.95M30.8 17.9h.95M4.2 38.0h.95M22.1 25.1h.95M31.7 19.8h.95M26.7 11.2h.95M30.2 4.4h.95M19.0 19.5h.95M20.9 11.7h.95M26.5 27.5h.95M24.3 26.8h.95M32.9 13.7h.95M5.1 35.4h.95M5.6 28.1h.95M26.8 22.7h.95M38.7 6.9h.95M25.5 15.1h.95M17.1 16.3h.95M16.3 26.4h.95M16.0 15.7h.95M5.7 28.8h.95M11.2 31.4h.95M20.5 12.1h.95M19.7 14.3h.95M17.4 29.2h.95M23.0 7.4h.95M10.3 32.0h.95M29.7 17.8h.95M26.3 19.1h.95M17.6 12.6h.95M6.9 35.2h.95M22.2 19.4h.95M28.5 17.8h.95M37.1 11.5h.95M22.3 22.2h.95M33.6 16.0h.95M25.7 6.5h.95M19.7 9.1h.95M26.5 5.4h.95M30.2 8.8h.95M31.8 12.6h.95M23.8 26.0h.95M23.0 27.0h.95M26.2 13.2h.95M26.0 20.5h.95M18.2 17.7h.95M37.9 9.4h.95M35.1 16.5h.95M37.6 12.2h.95M27.7 26.7h.95M16.8 17.9h.95M22.9 14.5h.95M25.0 15.1h.95M39.2 8.5h.95M21.8 14.3h.95M28.6 16.3h.95M17.1 14.0h.95M27.5 7.2h.95M12.9 28.6h.95M27.9 14.8h.95M30.9 17.3h.95M20.0 26.9h.95M23.2 11.3h.95M5.8 34.7h.95M16.9 15.2h.95M27.5 24.0h.95M6.8 27.5h.95" stroke="#3e4989"/>
<path d="M21.3 12.7h.95M24.0 29.6h.95M16.4 16.9h.95M18.8 12.3h.95M21.7 14.4h.95M20.2 28.5h.95M24.3 16.3h.95M26.2 25.2h.95M26.7 16.8h.95M19.2 15.5h.95M28.2 26.7h.95M23.8 16.2h.95M14.6 23.8h.95M21.1 17.2h.95M14.2 33.7h.95M21.7 24.6h.95M19.1 9.3h.95M19.8 15.4h.95M24.6 27.4h.95M23.2 8.3h.95M26.2 12.4h.95M26.1 25.5h.95M31.9 18.5h.95M27.2 19.8h.95M17.6 18.2h.95M14.4 29.5h.95M17.2 15.3h.95M23.2 16.8h.95M18.7 23.9h.95M17.7 27.6h.95M30.3 4.9h.95M19.4 15.3h.95M23.7 9.7h.95M18.3 11.5h.95M15.2 18.0h.95M29.5 23.5h.95M19.6 23.8h.95M26.2 28.4h.95M11.9 30.4h.95M22.5 30.4h.95M20.3 21.5h.95M17.4 21.8h.95M13.3 24.4h.95M22.3 25.2h.95M25.0 14.4h.95M16.1 26.3h.95M27.9 22.2h.95M19.4 19.3h.95M20.3 30.0h.95M20.9 20.2h.95M33.9 19.4h.95M19.6 20.3h.95M31.5 19.0h.95M27.8 4.6h.95M20.3 8.9h.95M15.8 30.0h.95M27.0 18.9h.95M6.2 27.6h.95M14.1 28.8h.95M15.5 27.6h.95M20.9 13.9h.95M13.0 27.3h.95M20.1 27.1h.95M28.7 12.6h.95M25.8 12.0h.95M27.5 30.1h.95M16.5 21.7h.95M14.8 25.0h.95M22.4 14.6h.95M21.6 24.1h.95M22.7 29.0h.95M15.9 29.9h.95M28.4 24.2h.95M21.6 15.9h.95M14.4 27.7h.95M21.7 7.6h.95M15.0 33.6h.95M29.3 16.3h.95M14.4 31.0h.95M16.6 16.6h.95M23.1 17.7h.95M31.2 19.8h.95M29.5 21.6h.95M14.2 27.3h.95M31.7 15.7h.95M22.4 19.6h.95M24.3 26.1h.95M11.4 29.3h.95M25.6 14.9h.95M29.6 18.2h.95M29.5 19.7h.95M25.7 23.7h.95M21.3 13.6h.95M21.1 11.3h.95M29.5 23.5h.95M24.5 26.5h.95M8.6 32.3h.95M24.7 9.9h.95M24.1 22.5h.95M29.0 12.6h.95M31.8 17.6h.95M10.6 33.5h.95M30.6 18.6h.95M21.1 12.1h.95M24.3 14.2h.95M32.6 16.3h.95M15.1 20.3h.95M20.7 28.4h.95M27.6 27.2h.95M9.9 28.4h.95M26.4 9.4h.95M24.9 30.1h.95M25.8 5.2h.95M21.8 15.8h.95M22.8 10.6h.95M22.9 17.5h.95M22.6 18.9h.95M29.6 19.7h.95M27.9 10.7h.95M23.7 24.8h.95M27.8 21.9h.95M20.1 16.4h.95M18.0 25.3h.95M8.4 26.2h.95M14.2 24.2h.95M35.2 18.2h.95M14.2 26.1h.95M22.2 19.9h.95M24.3 16.2h.95M20.3 18.7h.95M31.2 10.1h.95M27.0 10.7h.95M25.4 16.0h.95M26.9 15.4h.95M28.7 21.7h.95M29.9 19.3h.95M12.2 26.9h.95M21.2 26.1h.95M26.6 20.3h.95M26.5 26.7h.95M30.2 22.9h.95M22.9 12.9h.95M25.6 25.3h.95M17.1 12.4h.95M25.3 11.4h.95M29.0 18.5h.95M25.3 26.3h.95M27.9 11.4h.95M10.8 29.7h.95M23.2 17.6h.95M14.0 26.0h.95M24.1 13.3h.95M16.2 30.4h.95M21.3 23.3h.95M13.5 28.6h.95M10.4 27.0h.95M19.1 23.6h.95M6.2 35.9h.95M36.0 8.5h.95M21.8 19.6h.95M31.6 7.6h.95M27.3 13.2h.95M25.1 17.4h.95M23.5 21.0h.95M17.3 22.9h.95M27.6 16.5h.95M20.3 16.3h.95M30.8 6.3h.95M20.0 12.6h.95M22.5 18.6h.95M25.2 7.2h.95M20.6 12.2h.95M23.1 15.8h.95M15.3 19.4h.95M22.1 11.0h.95M21.1 20.2h.95M34.1 12.8h.95M27.6 18.3h.95M22.9 15.0h.95M32.1 20.5h.95M17.4 14.8h.95M30.7 18.6h.95M23.1 30.3h.95M24.3 20.9h.95M22.8 26.8h.95M27.7 16.4h.95M31.2 14.1h.95M21.0 21.1h.95M32.6 21.4h.95M27.6 14.1h.95M16.7 15.9h.95M12.6 29.8h.95M31.3 20.6h.95M28.4 21.7h.95M22.3 19.2h.95M19.4 29.8h.95M22.6 21.6h.95M25.0 29.3h.95M10.3 26.3h.95M25.0 14.9h.95M30.4 12.7h.95M26.4 9.8h.95M18.8 12.8h.95M17.7 14.7h.95M29.3 16.2h.95M20.2 9.7h.95M19.2 9.9h.95M32.0 18.8h.95M25.7 29.5h.95M26.4 20.3h.95M22.0 16.6h.95M24.0 17.6h.95M21.5 8.1h.95M15.1 23.2h.95M33.2 20.6h.95" stroke="#365d8c"/>
<path d="M24.2 25.6h.95M20.8 19.6h.95M14.5 20.8h.95M14.0 22.1h.95M16.6 28.3h.95M23.2 23.8h.95M29.0 19.5h.95M20.3 14.5h.95M9.0 26.0h.95M13.3 24.7h.95M37.3 9.0h.95M22.0 25.5h.95M15.0 20.6h.95M19.7 25.7h.95M16.7 12.8h.95M23.0 26.1h.95M39.2 13.8h.95M8.9 27.2h.95M17.6 21.0h.95M24.2 17.7h.95M17.6 29.9h.95M17.9 14.4h.95M12.4 25.3h.95M14.6 20.7h.95M17.4 23.8h.95M18.2 27.7h.95M21.0 28.5h.95M29.8 20.6h.95M28.8 19.5h.95M18.0 28.0h.95M31.0 19.1h.95M25.4 22.7h.95M18.7 20.7h.95M20.6 28.8h.95M26.5 26.2h.95M22.5 25.8h.95M13.7 23.7h.95M17.9 25.5h.95M18.3 15.5h.95M28.9 26.0h.95M21.9 8.9h.95M17.3 27.2h.95M27.0 29.3h.95M12.0 27.1h.95M20.3 25.3h.95M23.7 29.2h.95M12.4 29.2h.95M16.8 12.8h.95M23.4 13.6h.95M23.4 29.5h.95M29.2 23.5h.95M22.2 9.7h.95M14.8 26.9h.95M27.2 26.2h.95M25.7 26.5h.95M12.0 24.6h.95M27.9 25.2h.95M13.7 26.4h.95M27.6 6.3h.95M11.2 25.7h.95M20.9 19.5h.95M27.6 24.7h.95M20.6 12.4h.95M29.6 19.8h.95M22.1 18.5h.95M17.4 29.4h.95M22.4 8.2h.95M26.6 14.8h.95M14.8 18.1h.95M19.7 18.4h.95M19.7 22.9h.95M25.6 13.8h.95M21.9 22.3h.95M23.7 10.8h.95M23.2 26.0h.95M22.3 12.4h.95M14.4 25.1h.95M13.8 25.4h.95M24.3 22.9h.95M28.0 15.4h.95M24.9 10.4h.95M25.5 21.6h.95M25.2 22.7h.95M25.1 19.5h.95M24.0 13.2h.95M20.3 25.4h.95M25.7 26.7h.95M18.6 18.0h.95M13.0 27.0h.95M22.4 10.9h.95M9.5 27.4h.95M27.0 28.2h.95M24.3 23.4h.95M20.3 28.2h.95M19.5 27.3h.95M26.7 16.0h.95M18.5 26.6h.95M15.3 23.5h.95M21.5 19.2h.95M27.4 26.6h.95M17.3 23.5h.95M15.9 29.0h.95M25.1 24.0h.95M23.0 27.3h.95M27.4 17.8h.95M24.1 13.5h.95M21.0 20.7h.95M26.1 22.5h.95M21.8 7.3h.95M23.0 11.7h.95M20.2 16.0h.95M18.2 16.7h.95M16.7 30.2h.95M19.9 11.7h.95M31.8 21.9h.95M26.5 22.2h.95M25.9 9.5h.95M26.9 17.9h.95M31.3 18.8h.95M13.9 35.5h.95M16.2 29.3h.95M24.6 26.5h.95M25.8 13.4h.95M21.4 19.7h.95M14.2 24.3h.95M25.1 21.1h.95M27.7 7.8h.95M26.1 24.4h.95M19.3 11.1h.95M16.4 26.3h.95M21.6 17.0h.95M17.3 25.8h.95M12.2 23.7h.95M27.8 22.3h.95M18.3 14.2h.95M17.0 26.4h.95M32.3 20.5h.95M31.4 22.5h.95M10.9 27.8h.95M17.2 30.6h.95M24.4 29.9h.95M13.6 29.5h.95M24.2 7.8h.95M20.8 13.0h.95M21.3 20.3h.95M21.6 22.0h.95" stroke="#2e708e"/>
<path d="M14.8 26.7h.95M12.8 29.4h.95M26.9 26.2h.95M26.2 13.2h.95M26.7 21.7h.95M19.7 25.6h.95M22.4 16.0h.95M17.1 26.3h.95M24.9 26.7h.95M19.3 22.8h.95M19.6 27.4h.95M22.3 24.1h.95M18.9 15.9h.95M17.9 27.9h.95M23.9 21.8h.95M16.5 22.9h.95M30.0 23.0h.95M22.2 23.6h.95M22.2 22.4h.95M15.4 22.6h.95M27.0 21.7h.95M16.6 19.2h.95M22.6 22.2h.95M17.0 20.1h.95M25.6 28.3h.95M28.4 27.7h.95M17.4 25.9h.95M14.6 21.5h.95M15.7 24.4h.95M23.0 17.2h.95M21.4 14.4h.95M21.7 27.2h.95M20.6 23.9h.95M23.8 30.5h.95M16.2 27.2h.95M15.9 17.5h.95M25.4 26.2h.95M23.0 28.9h.95M23.8 12.2h.95M25.4 29.2h.95M17.1 27.0h.95M14.2 26.8h.95M26.9 18.6h.95M18.2 24.8h.95M12.6 26.1h.95M14.9 24.3h.95M20.8 28.0h.95M20.7 28.8h.95M26.6 24.2h.95M22.3 19.1h.95M26.3 25.4h.95" stroke="#26828e"/>
<path d="M19.9 20.3h.95M21.2 24.4h.95M19.6 23.5h.95M26.6 22.6h.95M21.5 29.9h.95M24.3 19.8h.95M21.2 24.5h.95M28.2 16.9h.95M16.0 24.8h.95M27.3 30.1h.95M31.6 21.6h.95M22.4 22.0h.95M17.6 24.5h.95M16.7 27.4h.95M15.5 22.7h.95M29.1 21.9h.95" stroke="#22948b"/>
<path d="M21.4 25.1h.95" stroke="#26a684"/>
</g>
<rect x="136.2" y="570.4" width="46.2" height="46.2" fill="none" stroke="#3a3a3a" stroke-width="1.2"/>
<text x="56.5" y="630.81" font-size="9.2" text-anchor="middle" font-style="italic" fill="#1a1a1a" textLength="22.06" lengthAdjust="spacingAndGlyphs">EGR1</text>
<g transform="translate(33.4,633)" fill="none" stroke-width=".95">
<path d="M34.1 8.5h.95M11.0 40.0h.95M5.2 39.0h.95M12.3 38.5h.95M26.9 6.7h.95M33.5 12.7h.95M38.5 8.6h.95M34.7 5.7h.95M12.0 35.2h.95M4.0 31.4h.95M30.3 4.9h.95M12.9 32.5h.95M6.3 29.3h.95M4.3 39.3h.95M5.4 33.6h.95M38.1 10.8h.95M32.9 11.8h.95M7.1 32.8h.95M34.6 3.2h.95M3.9 33.2h.95M19.4 13.6h.95M13.4 32.6h.95M13.8 33.8h.95M35.9 7.7h.95M33.0 7.5h.95M14.1 32.2h.95M7.8 33.0h.95M41.1 8.0h.95M39.8 15.3h.95M35.6 4.7h.95M12.3 35.6h.95M6.7 26.8h.95M35.1 12.0h.95M27.8 4.6h.95M5.8 29.5h.95M39.3 14.5h.95M39.9 6.5h.95M16.5 22.9h.95M38.3 5.7h.95M6.2 27.6h.95M15.5 27.6h.95M7.3 37.8h.95M4.4 35.2h.95M9.3 39.7h.95M11.1 39.2h.95M39.2 3.8h.95M16.7 30.3h.95M14.6 34.9h.95M39.9 4.7h.95M4.2 37.6h.95M8.1 32.9h.95M18.9 13.5h.95M37.7 4.0h.95M29.7 5.8h.95M10.5 38.6h.95M33.8 12.2h.95M18.0 25.0h.95M9.9 40.6h.95M5.5 30.6h.95M8.7 40.4h.95M39.7 5.8h.95M30.2 13.4h.95M32.6 16.3h.95M8.7 35.3h.95M8.1 40.1h.95M9.9 28.4h.95M19.7 18.4h.95M27.2 10.8h.95M22.6 18.9h.95M25.6 13.8h.95M27.9 10.7h.95M8.4 34.1h.95M23.7 10.8h.95M4.1 31.8h.95M41.4 7.3h.95M8.2 38.5h.95M21.2 9.6h.95M8.5 31.2h.95M5.7 33.5h.95M12.4 33.9h.95M24.1 12.0h.95M9.4 39.8h.95M13.8 25.4h.95M4.5 38.6h.95M35.2 11.8h.95M4.9 39.3h.95M6.4 37.1h.95M35.6 10.4h.95M13.8 34.0h.95M33.3 7.2h.95M6.7 27.7h.95M11.1 37.7h.95M11.0 39.5h.95M4.5 34.2h.95M4.2 35.9h.95M9.5 27.4h.95M37.5 7.8h.95M6.9 33.7h.95M9.7 27.4h.95M37.2 16.1h.95M28.2 16.9h.95M4.4 31.5h.95M13.1 35.4h.95M15.9 29.0h.95M22.3 9.1h.95M12.3 37.0h.95M31.1 5.6h.95M9.9 38.2h.95M6.2 28.2h.95M10.4 27.0h.95M29.7 6.9h.95M12.5 39.3h.95M7.4 34.8h.95M36.0 8.5h.95M8.4 30.1h.95M9.7 37.2h.95M6.0 36.4h.95M12.4 38.9h.95M32.9 8.4h.95M25.5 15.1h.95M29.0 7.1h.95M11.2 33.3h.95M6.5 37.1h.95M9.3 34.1h.95M9.4 39.6h.95M7.4 31.5h.95M5.8 38.8h.95M34.8 3.5h.95M6.9 35.2h.95M9.0 36.0h.95M6.9 32.8h.95M35.8 10.5h.95M33.6 16.0h.95M6.2 35.7h.95M32.1 4.7h.95M7.0 35.8h.95M26.5 5.4h.95M10.9 40.1h.95M9.4 41.9h.95M12.9 39.2h.95M11.0 37.3h.95M5.5 28.1h.95M31.8 12.6h.95M15.3 34.4h.95M13.1 33.0h.95M30.2 9.8h.95M25.0 14.9h.95M39.2 8.5h.95M7.5 31.0h.95M8.0 31.2h.95M12.4 37.1h.95M38.2 5.1h.95M21.5 8.1h.95M7.5 26.7h.95" stroke="#440154"/>
<path d="M38.1 7.4h.95M21.3 12.7h.95M27.1 8.0h.95M37.9 14.7h.95M14.8 26.7h.95M10.1 40.5h.95M10.7 32.7h.95M7.2 32.4h.95M21.7 14.4h.95M9.5 35.9h.95M24.3 16.3h.95M27.0 8.5h.95M19.2 15.5h.95M21.1 17.2h.95M14.6 35.6h.95M5.6 35.9h.95M14.2 33.7h.95M8.8 27.0h.95M19.1 9.3h.95M37.3 8.3h.95M19.8 15.4h.95M5.2 30.4h.95M8.9 27.8h.95M23.2 8.3h.95M34.4 20.0h.95M31.9 18.5h.95M7.6 29.3h.95M21.3 14.1h.95M39.5 5.1h.95M36.4 11.4h.95M17.7 27.6h.95M35.2 11.8h.95M6.4 33.4h.95M35.0 15.3h.95M19.7 25.7h.95M30.3 4.9h.95M26.9 12.1h.95M19.7 17.2h.95M19.9 20.3h.95M32.3 12.5h.95M30.9 5.8h.95M8.9 27.2h.95M7.6 26.5h.95M39.9 5.8h.95M12.3 29.2h.95M8.8 33.7h.95M21.3 14.3h.95M12.2 39.2h.95M3.3 33.3h.95M17.4 23.8h.95M39.3 6.0h.95M23.6 18.3h.95M39.1 14.8h.95M31.9 13.3h.95M38.0 10.0h.95M37.0 4.6h.95M26.0 7.6h.95M26.9 11.7h.95M32.4 13.2h.95M40.3 7.6h.95M36.9 5.5h.95M38.8 15.8h.95M5.0 31.3h.95M37.2 8.2h.95M29.9 11.5h.95M35.8 17.4h.95M35.5 15.8h.95M23.9 9.7h.95M14.5 35.1h.95M33.4 15.2h.95M29.4 7.9h.95M6.8 36.9h.95M15.8 30.0h.95M26.5 26.2h.95M7.2 32.7h.95M33.4 15.0h.95M33.5 13.0h.95M33.8 14.6h.95M7.6 26.3h.95M6.7 32.1h.95M38.5 6.1h.95M21.9 8.9h.95M39.2 13.9h.95M37.1 15.5h.95M38.4 8.9h.95M29.3 16.3h.95M13.9 33.7h.95M22.2 9.7h.95M11.6 28.1h.95M29.5 21.6h.95M30.3 11.6h.95M8.4 35.7h.95M28.6 13.3h.95M25.5 7.5h.95M8.1 31.7h.95M11.4 29.3h.95M30.2 13.7h.95M12.0 24.6h.95M34.8 15.8h.95M37.3 10.6h.95M10.4 40.3h.95M13.4 31.7h.95M29.3 15.5h.95M35.1 6.8h.95M35.5 3.3h.95M31.5 18.2h.95M37.9 8.6h.95M38.7 13.3h.95M24.1 13.2h.95M8.6 32.3h.95M27.6 6.3h.95M11.2 25.7h.95M22.8 9.3h.95M29.0 12.6h.95M8.7 29.8h.95M29.6 19.8h.95M20.1 9.7h.95M40.1 12.1h.95M30.7 16.9h.95M28.1 16.5h.95M32.7 14.5h.95M21.4 14.4h.95M5.2 38.1h.95M29.1 13.6h.95M16.0 31.5h.95M12.4 33.5h.95M18.6 10.4h.95M35.2 18.2h.95M6.2 38.8h.95M7.7 38.1h.95M23.0 9.9h.95M11.3 36.2h.95M37.2 15.4h.95M10.9 30.5h.95M38.2 13.2h.95M10.2 32.6h.95M40.5 8.8h.95M9.0 40.0h.95M28.0 15.4h.95M31.2 10.1h.95M38.7 14.3h.95M40.0 15.2h.95M39.6 3.8h.95M7.8 37.3h.95M27.0 10.7h.95M40.6 4.5h.95M7.5 28.2h.95M27.6 14.5h.95M9.0 32.5h.95M6.2 35.6h.95M36.6 13.2h.95M39.8 11.3h.95M39.1 13.5h.95M8.0 37.4h.95M14.0 37.1h.95M14.0 26.0h.95M33.5 10.4h.95M9.6 35.2h.95M35.9 7.9h.95M6.8 37.0h.95M33.3 8.5h.95M33.3 5.6h.95M4.1 31.3h.95M26.8 6.8h.95M20.9 11.7h.95M4.5 35.9h.95M5.3 35.9h.95M6.2 35.9h.95M12.7 33.4h.95M5.1 35.4h.95M12.8 37.7h.95M27.6 16.5h.95M32.8 15.5h.95M38.4 13.1h.95M27.7 6.0h.95M32.1 10.2h.95M30.8 6.3h.95M10.8 38.8h.95M31.0 8.5h.95M11.2 31.4h.95M20.5 12.1h.95M31.9 13.9h.95M8.4 30.6h.95M33.6 4.3h.95M31.6 21.6h.95M20.6 12.2h.95M11.1 40.3h.95M13.2 36.9h.95M15.3 19.4h.95M34.1 12.8h.95M36.8 15.2h.95M37.1 11.5h.95M38.6 5.5h.95M13.9 35.5h.95M10.4 35.3h.95M10.3 35.1h.95M14.7 35.1h.95M41.0 11.8h.95M33.7 6.9h.95M31.2 14.1h.95M31.5 11.5h.95M10.2 34.6h.95M27.7 7.8h.95M14.9 24.3h.95M12.1 34.0h.95M7.4 41.8h.95M19.3 11.1h.95M37.9 9.4h.95M35.1 16.5h.95M16.4 26.3h.95M41.2 10.5h.95M19.4 29.8h.95M4.9 31.0h.95M40.2 4.3h.95M26.4 9.8h.95M31.7 8.9h.95M17.1 14.0h.95M6.0 28.7h.95M13.6 29.5h.95M16.9 15.2h.95M20.8 13.0h.95M5.7 39.0h.95M37.9 11.5h.95M7.6 41.8h.95M26.6 6.9h.95" stroke="#471a6b"/>
<path d="M32.9 9.3h.95M15.3 21.9h.95M3.7 34.0h.95M24.3 15.3h.95M18.8 12.3h.95M20.8 19.6h.95M35.7 8.1h.95M8.8 36.2h.95M17.2 30.7h.95M14.0 22.1h.95M28.3 25.8h.95M12.8 29.4h.95M16.6 28.3h.95M31.5 9.8h.95M11.5 30.0h.95M7.5 35.7h.95M34.9 19.5h.95M26.7 16.8h.95M26.2 13.2h.95M14.2 21.7h.95M7.8 27.4h.95M20.3 14.5h.95M32.0 7.6h.95M23.8 16.2h.95M14.6 23.8h.95M3.6 33.6h.95M36.2 10.7h.95M30.1 20.0h.95M21.7 24.6h.95M35.8 11.6h.95M30.8 8.3h.95M26.4 22.2h.95M31.7 10.0h.95M26.2 12.4h.95M35.0 8.5h.95M17.6 18.2h.95M37.3 9.0h.95M14.4 29.5h.95M31.4 9.4h.95M15.0 20.6h.95M34.8 19.5h.95M6.9 31.2h.95M23.0 26.1h.95M39.2 13.8h.95M37.9 12.4h.95M30.9 17.7h.95M38.3 14.9h.95M17.6 29.9h.95M21.7 16.9h.95M22.5 30.4h.95M20.3 21.5h.95M29.0 7.8h.95M39.6 4.2h.95M17.4 21.8h.95M13.3 24.4h.95M14.6 20.7h.95M22.3 25.2h.95M40.0 7.4h.95M5.7 28.3h.95M22.3 24.1h.95M7.0 27.8h.95M18.0 28.0h.95M20.1 13.7h.95M19.7 11.2h.95M16.1 26.3h.95M19.4 19.3h.95M29.4 16.4h.95M28.1 12.0h.95M28.6 25.8h.95M31.7 17.7h.95M35.8 8.8h.95M32.9 7.2h.95M3.8 37.8h.95M14.7 31.6h.95M20.3 10.5h.95M39.1 6.1h.95M11.6 29.1h.95M31.5 19.0h.95M23.2 6.2h.95M23.0 21.5h.95M20.3 8.9h.95M20.6 28.8h.95M31.6 4.6h.95M14.1 28.8h.95M41.9 8.1h.95M28.7 12.6h.95M22.5 25.8h.95M17.9 25.5h.95M26.1 15.7h.95M18.3 15.5h.95M25.8 12.0h.95M14.0 31.7h.95M28.1 8.3h.95M20.4 25.0h.95M22.4 14.6h.95M15.9 29.9h.95M32.4 11.9h.95M6.3 33.5h.95M28.4 24.2h.95M35.3 5.5h.95M12.4 29.2h.95M23.4 13.6h.95M8.6 33.9h.95M19.6 23.5h.95M15.0 33.6h.95M4.8 37.9h.95M29.6 4.5h.95M16.6 16.6h.95M23.1 17.7h.95M31.2 19.8h.95M29.8 15.9h.95M17.0 20.1h.95M14.2 27.3h.95M31.7 15.7h.95M7.8 40.5h.95M36.1 8.7h.95M11.6 27.0h.95M21.3 13.6h.95M21.1 11.3h.95M33.1 13.5h.95M39.3 11.9h.95M17.4 25.9h.95M24.5 26.5h.95M40.1 4.7h.95M27.2 8.1h.95M18.9 27.6h.95M12.6 39.3h.95M10.6 33.5h.95M30.6 18.6h.95M30.5 9.0h.95M21.1 12.1h.95M34.3 8.3h.95M34.1 18.4h.95M10.1 34.6h.95M15.7 24.4h.95M22.4 8.2h.95M26.6 14.8h.95M15.1 20.3h.95M37.0 9.8h.95M16.3 31.6h.95M23.0 17.2h.95M31.6 14.6h.95M26.4 9.4h.95M8.9 35.2h.95M30.1 13.8h.95M25.8 5.2h.95M31.2 7.6h.95M21.8 15.8h.95M8.4 38.7h.95M23.2 26.0h.95M21.1 12.3h.95M20.1 16.4h.95M18.0 25.3h.95M8.4 26.2h.95M33.3 5.8h.95M14.1 32.1h.95M22.3 12.4h.95M24.3 16.2h.95M14.4 25.1h.95M21.6 10.9h.95M24.3 22.9h.95M14.0 33.6h.95M12.9 31.1h.95M30.7 16.4h.95M11.0 36.9h.95M15.2 32.0h.95M34.7 14.4h.95M15.3 27.3h.95M4.8 37.4h.95M4.3 31.5h.95M23.8 18.3h.95M32.1 4.5h.95M26.9 15.4h.95M29.9 19.3h.95M12.6 33.8h.95M24.0 13.5h.95M7.6 37.0h.95M20.3 28.2h.95M26.5 26.7h.95M34.0 5.8h.95M34.7 3.2h.95M22.9 12.9h.95M36.7 6.8h.95M25.3 11.4h.95M4.2 38.0h.95M27.9 11.4h.95M8.8 41.7h.95M10.8 29.7h.95M28.1 9.2h.95M15.3 23.5h.95M17.3 23.5h.95M22.1 25.1h.95M31.7 19.8h.95M30.4 12.1h.95M26.7 11.2h.95M34.1 12.2h.95M24.1 10.7h.95M28.8 8.0h.95M16.2 30.4h.95M7.1 28.3h.95M39.9 6.1h.95M13.5 28.6h.95M30.2 4.4h.95M23.0 27.3h.95M40.5 11.4h.95M41.8 8.0h.95M31.6 7.6h.95M27.3 13.2h.95M24.1 13.5h.95M21.0 20.7h.95M39.4 8.9h.95M31.3 13.1h.95M5.6 28.1h.95M21.8 7.3h.95M35.5 8.4h.95M20.2 16.0h.95M38.7 6.9h.95M37.8 4.2h.95M20.3 16.3h.95M34.9 9.0h.95M22.5 18.6h.95M16.0 15.7h.95M5.7 28.8h.95M19.9 11.7h.95M17.1 27.0h.95M31.8 21.9h.95M19.7 14.3h.95M30.4 13.5h.95M25.2 7.2h.95M10.3 32.0h.95M29.7 17.8h.95M26.3 19.1h.95M17.6 12.6h.95M22.2 19.4h.95M36.7 12.9h.95M23.1 15.8h.95M9.5 32.7h.95M22.4 22.0h.95M27.7 9.8h.95M27.7 16.4h.95M33.3 6.6h.95M12.6 26.1h.95M25.8 13.4h.95M21.4 19.7h.95M30.2 8.8h.95M28.7 12.6h.95M11.0 38.0h.95M16.7 15.9h.95M17.0 25.2h.95M7.2 33.4h.95M16.7 27.4h.95M18.2 17.7h.95M12.6 29.8h.95M31.0 12.7h.95M26.1 24.4h.95M15.5 22.7h.95M22.3 19.2h.95M12.2 23.7h.95M37.6 12.2h.95M25.0 29.3h.95M22.9 14.5h.95M25.0 15.1h.95M10.3 26.3h.95M30.4 12.7h.95M27.3 11.3h.95M20.7 28.8h.95M28.6 16.3h.95M18.8 12.8h.95M41.6 9.8h.95M37.0 8.2h.95M27.5 7.2h.95M10.9 27.8h.95M27.9 14.8h.95M17.2 30.6h.95M25.7 29.5h.95M30.9 17.3h.95M24.4 29.9h.95M5.8 34.7h.95M5.7 40.1h.95M24.2 7.8h.95M36.5 15.1h.95M15.1 23.2h.95M27.5 24.0h.95M6.8 27.5h.95" stroke="#45327d"/>
<path d="M24.2 25.6h.95M30.5 5.2h.95M14.5 20.8h.95M23.2 23.8h.95M20.2 28.5h.95M21.4 11.9h.95M21.1 17.9h.95M17.7 20.0h.95M19.7 25.6h.95M18.0 18.4h.95M22.4 16.0h.95M13.3 24.7h.95M4.1 31.5h.95M27.4 16.9h.95M26.9 16.7h.95M26.1 25.5h.95M28.2 19.9h.95M23.2 16.8h.95M18.7 23.9h.95M19.4 15.3h.95M13.4 34.9h.95M13.2 29.6h.95M31.3 6.7h.95M23.7 9.7h.95M26.2 7.1h.95M18.3 11.5h.95M24.9 17.0h.95M16.7 12.8h.95M34.1 15.7h.95M15.2 18.0h.95M17.1 26.3h.95M30.9 15.1h.95M37.6 11.4h.95M9.5 27.9h.95M13.9 26.8h.95M40.7 10.4h.95M26.2 28.4h.95M17.6 21.0h.95M24.2 17.7h.95M32.9 17.2h.95M20.9 18.0h.95M26.4 8.4h.95M28.1 17.7h.95M31.5 8.3h.95M18.2 27.7h.95M5.5 29.9h.95M21.0 28.5h.95M19.6 27.4h.95M28.4 9.9h.95M37.7 13.4h.95M33.0 16.2h.95M31.2 13.2h.95M31.0 19.1h.95M25.0 14.4h.95M24.0 6.3h.95M25.4 22.7h.95M34.0 9.3h.95M23.9 21.8h.95M20.0 15.0h.95M20.9 20.2h.95M18.7 20.7h.95M33.9 19.4h.95M19.6 20.3h.95M26.2 6.7h.95M29.6 21.1h.95M14.9 17.4h.95M30.0 23.0h.95M20.9 13.9h.95M13.0 27.3h.95M20.1 27.1h.95M20.7 14.3h.95M16.2 27.0h.95M31.1 22.3h.95M28.9 26.0h.95M21.3 26.6h.95M21.6 24.1h.95M22.7 29.0h.95M17.3 27.2h.95M27.0 29.3h.95M27.2 5.4h.95M22.2 23.6h.95M22.2 22.4h.95M28.6 25.1h.95M15.4 22.6h.95M21.6 15.9h.95M16.8 12.8h.95M14.4 27.7h.95M21.7 7.6h.95M20.7 15.2h.95M23.4 29.5h.95M8.2 40.2h.95M37.6 14.7h.95M16.6 19.2h.95M14.8 26.9h.95M22.6 22.2h.95M25.6 28.3h.95M21.4 25.1h.95M22.4 19.6h.95M21.4 17.6h.95M25.6 14.9h.95M28.4 27.7h.95M29.6 18.2h.95M17.0 30.0h.95M25.7 23.7h.95M7.4 37.0h.95M24.3 19.8h.95M29.5 23.5h.95M15.0 29.1h.95M31.5 13.5h.95M19.5 17.9h.95M24.7 9.9h.95M24.1 22.5h.95M14.6 21.5h.95M37.3 17.7h.95M24.0 25.1h.95M20.6 12.4h.95M31.3 19.9h.95M21.1 15.8h.95M21.2 24.5h.95M37.6 12.8h.95M25.5 11.9h.95M17.4 29.4h.95M19.2 12.4h.95M29.1 13.8h.95M20.7 28.4h.95M14.8 18.1h.95M36.8 16.5h.95M21.7 27.2h.95M22.8 10.6h.95M22.9 17.5h.95M21.9 22.3h.95M23.7 24.8h.95M27.8 21.9h.95M19.7 10.3h.95M35.6 4.0h.95M20.6 23.9h.95M30.8 19.4h.95M37.9 8.2h.95M22.2 8.2h.95M16.2 27.2h.95M15.9 17.5h.95M24.9 10.4h.95M25.5 21.6h.95M20.3 18.7h.95M7.1 26.7h.95M8.1 27.1h.95M25.1 19.5h.95M33.9 20.4h.95M24.0 13.2h.95M37.3 11.7h.95M40.1 6.5h.95M13.0 27.0h.95M28.7 21.7h.95M22.4 10.9h.95M27.0 28.2h.95M24.3 23.4h.95M33.5 18.0h.95M26.6 20.3h.95M38.3 9.0h.95M30.2 22.9h.95M13.0 27.6h.95M25.6 25.3h.95M30.3 10.2h.95M17.1 12.4h.95M26.7 16.0h.95M29.0 18.5h.95M30.8 17.9h.95M25.3 26.3h.95M18.5 26.6h.95M31.7 17.7h.95M39.8 9.3h.95M16.0 24.8h.95M21.3 23.3h.95M27.3 30.1h.95M33.5 16.6h.95M24.9 11.6h.95M19.0 19.5h.95M23.3 13.7h.95M35.6 16.6h.95M19.1 23.6h.95M14.2 30.6h.95M24.3 26.8h.95M21.8 19.6h.95M17.3 22.9h.95M26.8 22.7h.95M20.1 21.4h.95M29.9 13.5h.95M20.0 12.6h.95M29.0 6.5h.95M6.4 38.4h.95M26.5 22.2h.95M17.4 29.2h.95M23.0 7.4h.95M14.2 26.8h.95M37.4 13.7h.95M26.9 17.9h.95M22.1 11.0h.95M28.5 17.8h.95M27.6 18.3h.95M18.2 24.8h.95M31.3 18.8h.95M22.9 15.0h.95M17.4 14.8h.95M30.7 18.6h.95M23.1 30.3h.95M25.7 6.5h.95M19.7 9.1h.95M21.0 21.1h.95M39.1 9.3h.95M32.6 21.4h.95M27.6 14.1h.95M14.2 24.3h.95M17.6 24.5h.95M26.2 13.2h.95M26.0 20.5h.95M21.6 17.0h.95M17.3 25.8h.95M27.7 26.7h.95M16.8 17.9h.95M27.8 22.3h.95M17.0 26.4h.95M32.3 20.5h.95M21.8 14.3h.95M31.4 22.5h.95M12.9 28.6h.95M29.3 16.2h.95M22.3 19.1h.95M19.2 9.9h.95M32.0 18.8h.95M26.4 20.3h.95M24.0 17.6h.95M20.0 26.9h.95M39.6 7.1h.95M33.2 20.6h.95M21.6 22.0h.95" stroke="#3e4989"/>
<path d="M16.2 15.2h.95M16.4 16.9h.95M22.5 16.3h.95M29.0 19.5h.95M26.2 25.2h.95M26.7 21.7h.95M28.2 26.7h.95M32.7 14.8h.95M9.0 26.0h.95M24.6 27.4h.95M27.2 19.8h.95M17.2 15.3h.95M22.0 25.5h.95M30.7 20.5h.95M31.4 19.4h.95M11.9 30.4h.95M17.9 14.4h.95M20.0 26.3h.95M12.4 25.3h.95M19.3 22.8h.95M29.8 20.6h.95M28.8 19.5h.95M27.5 28.2h.95M18.9 15.9h.95M17.9 27.9h.95M9.4 30.5h.95M28.4 18.1h.95M20.3 30.0h.95M27.0 18.9h.95M13.7 23.7h.95M27.5 30.1h.95M21.2 24.4h.95M16.5 21.7h.95M14.8 25.0h.95M26.6 28.8h.95M12.0 27.1h.95M20.3 25.3h.95M23.7 29.2h.95M29.2 23.5h.95M22.2 11.2h.95M14.4 31.0h.95M27.0 21.7h.95M17.0 14.7h.95M27.2 26.2h.95M24.3 26.1h.95M26.6 22.6h.95M28.6 22.3h.95M29.5 19.7h.95M27.6 4.9h.95M27.9 25.2h.95M21.5 29.9h.95M13.7 26.4h.95M23.4 13.0h.95M32.5 17.5h.95M27.6 24.7h.95M31.8 17.6h.95M30.9 20.3h.95M27.4 18.0h.95M22.2 20.9h.95M27.6 27.2h.95M24.9 30.1h.95M24.3 16.6h.95M19.7 22.9h.95M29.6 19.7h.95M30.5 16.7h.95M27.9 11.6h.95M19.7 22.9h.95M31.5 14.5h.95M14.2 24.2h.95M22.2 19.9h.95M23.8 30.5h.95M37.2 11.9h.95M25.2 22.7h.95M25.4 16.0h.95M20.3 25.4h.95M30.6 5.7h.95M12.2 26.9h.95M21.2 26.1h.95M25.4 26.2h.95M32.5 19.6h.95M19.5 27.3h.95M21.6 9.4h.95M21.5 19.2h.95M27.4 26.6h.95M23.2 17.6h.95M23.8 12.2h.95M24.1 13.3h.95M30.8 21.7h.95M25.4 29.2h.95M27.4 17.8h.95M26.5 27.5h.95M32.9 13.7h.95M25.1 17.4h.95M23.5 21.0h.95M16.4 27.7h.95M26.1 22.5h.95M23.0 11.7h.95M18.2 16.7h.95M17.1 16.3h.95M16.3 26.4h.95M16.7 30.2h.95M37.8 14.2h.95M25.9 9.5h.95M30.6 5.7h.95M26.9 18.6h.95M21.1 20.2h.95M33.8 20.7h.95M32.1 20.5h.95M22.3 22.2h.95M22.8 26.8h.95M16.2 29.3h.95M23.8 26.0h.95M31.3 20.6h.95M29.1 21.9h.95M22.6 21.6h.95M20.8 28.0h.95M18.3 14.2h.95M29.9 11.4h.95M26.6 24.2h.95M20.2 9.7h.95M26.3 25.4h.95M23.2 11.3h.95M21.3 20.3h.95" stroke="#365d8c"/>
<path d="M24.0 29.6h.95M17.3 25.7h.95M26.9 26.2h.95M29.5 23.5h.95M19.6 23.8h.95M24.9 26.7h.95M27.9 22.2h.95M25.7 26.5h.95M32.8 18.2h.95M31.5 20.1h.95M20.9 19.5h.95M22.1 18.5h.95M24.3 14.2h.95M14.2 26.1h.95M27.4 27.5h.95M27.3 25.3h.95M20.5 26.1h.95M25.7 26.7h.95M23.0 28.9h.95M25.1 24.0h.95M24.3 20.9h.95M23.0 27.0h.95M28.4 21.7h.95M17.7 14.7h.95M22.0 16.6h.95M11.6 27.1h.95" stroke="#2e708e"/>
<path d="M18.6 18.0h.95M24.6 26.5h.95M25.1 21.1h.95" stroke="#26828e"/>
</g>
<rect x="33.4" y="633" width="46.2" height="46.2" fill="none" stroke="#3a3a3a" stroke-width="1.2"/>
<text x="107.9" y="630.81" font-size="9.2" text-anchor="middle" font-style="italic" fill="#1a1a1a" textLength="19.36" lengthAdjust="spacingAndGlyphs">KLF2</text>
<g transform="translate(84.8,633)" fill="none" stroke-width=".95">
<path d="M27.1 8.0h.95M38.5 8.6h.95M21.7 24.6h.95M22.4 16.0h.95M35.0 15.3h.95M30.3 4.9h.95M24.9 17.0h.95M39.9 5.8h.95M26.4 8.4h.95M31.5 8.3h.95M28.4 9.9h.95M25.4 22.7h.95M35.6 4.7h.95M26.5 26.2h.95M31.6 4.6h.95M41.9 8.1h.95M33.4 15.0h.95M21.3 26.6h.95M39.9 4.7h.95M31.7 15.7h.95M30.2 13.7h.95M33.8 12.2h.95M30.5 9.0h.95M22.1 18.5h.95M37.6 12.8h.95M30.1 13.8h.95M35.2 18.2h.95M37.2 15.4h.95M25.2 22.7h.95M26.9 15.4h.95M34.1 12.2h.95M31.1 5.6h.95M39.9 6.1h.95M33.3 8.5h.95M33.6 4.3h.95M30.6 5.7h.95M34.1 12.8h.95M31.0 12.7h.95M41.2 10.5h.95M37.6 12.2h.95M31.7 8.9h.95M24.2 7.8h.95" stroke="#440154"/>
<path d="M38.1 7.4h.95M16.2 15.2h.95M35.7 8.1h.95M21.7 14.4h.95M14.0 22.1h.95M26.9 26.2h.95M26.9 6.7h.95M24.3 16.3h.95M34.9 19.5h.95M20.3 14.5h.95M32.0 7.6h.95M21.1 17.2h.95M36.2 10.7h.95M30.1 20.0h.95M35.8 11.6h.95M30.8 8.3h.95M23.2 8.3h.95M31.7 10.0h.95M31.9 18.5h.95M31.4 9.4h.95M36.4 11.4h.95M19.4 15.3h.95M26.9 12.1h.95M23.7 9.7h.95M18.3 11.5h.95M37.9 12.4h.95M37.6 11.4h.95M32.9 11.8h.95M31.4 19.4h.95M19.6 23.8h.95M20.0 26.3h.95M19.3 22.8h.95M17.4 23.8h.95M26.0 7.6h.95M35.9 7.7h.95M32.4 13.2h.95M22.3 24.1h.95M18.9 15.9h.95M38.8 15.8h.95M28.4 18.1h.95M35.8 8.8h.95M35.1 12.0h.95M23.0 21.5h.95M39.3 14.5h.95M39.9 6.5h.95M33.5 13.0h.95M33.8 14.6h.95M20.4 25.0h.95M39.2 3.8h.95M20.3 25.3h.95M23.7 29.2h.95M39.2 13.9h.95M37.1 15.5h.95M19.6 23.5h.95M23.1 17.7h.95M21.4 17.6h.95M29.5 19.7h.95M37.7 4.0h.95M37.3 10.6h.95M36.1 8.7h.95M29.3 15.5h.95M25.7 23.7h.95M37.9 8.6h.95M38.7 13.3h.95M29.5 23.5h.95M39.3 11.9h.95M24.1 13.2h.95M32.5 17.5h.95M24.5 26.5h.95M27.2 8.1h.95M27.6 6.3h.95M24.1 22.5h.95M14.6 21.5h.95M18.9 27.6h.95M30.6 18.6h.95M29.6 19.8h.95M25.5 11.9h.95M19.2 12.4h.95M26.6 14.8h.95M32.6 16.3h.95M24.3 16.6h.95M19.7 22.9h.95M29.1 13.6h.95M27.9 11.6h.95M23.2 26.0h.95M35.6 4.0h.95M41.4 7.3h.95M30.8 19.4h.95M33.3 5.8h.95M23.8 30.5h.95M21.6 10.9h.95M30.7 16.4h.95M34.7 14.4h.95M38.7 14.3h.95M40.0 15.2h.95M27.6 14.5h.95M25.4 16.0h.95M32.1 4.5h.95M30.6 5.7h.95M20.3 28.2h.95M30.2 22.9h.95M34.0 5.8h.95M32.5 19.6h.95M25.6 25.3h.95M30.3 10.2h.95M26.7 16.0h.95M21.5 19.2h.95M31.7 19.8h.95M23.2 17.6h.95M30.4 12.1h.95M27.3 30.1h.95M35.9 7.9h.95M24.9 11.6h.95M23.0 27.3h.95M26.8 6.8h.95M19.1 23.6h.95M26.5 27.5h.95M41.8 8.0h.95M23.5 21.0h.95M32.8 15.5h.95M38.4 13.1h.95M29.0 7.1h.95M32.1 10.2h.95M16.3 26.4h.95M16.7 30.2h.95M30.8 6.3h.95M20.0 12.6h.95M20.5 12.1h.95M19.7 14.3h.95M30.4 13.5h.95M37.8 14.2h.95M34.8 3.5h.95M22.2 19.4h.95M22.1 11.0h.95M35.8 10.5h.95M18.2 24.8h.95M22.4 22.0h.95M33.6 16.0h.95M33.3 6.6h.95M32.1 4.7h.95M21.4 19.7h.95M28.7 12.6h.95M35.1 16.5h.95M16.4 26.3h.95M28.4 21.7h.95M27.7 26.7h.95M30.2 9.8h.95M27.3 11.3h.95M40.2 4.3h.95M29.9 11.4h.95M41.6 9.8h.95M26.6 24.2h.95M29.3 16.2h.95M32.0 18.8h.95M38.2 5.1h.95M24.0 17.6h.95M23.2 11.3h.95M39.6 7.1h.95M33.2 20.6h.95" stroke="#471a6b"/>
<path d="M32.9 9.3h.95M34.1 8.5h.95M37.9 14.7h.95M15.3 21.9h.95M17.3 25.7h.95M24.3 15.3h.95M20.8 19.6h.95M12.8 29.4h.95M23.2 23.8h.95M31.5 9.8h.95M29.0 19.5h.95M21.4 11.9h.95M26.2 25.2h.95M27.0 8.5h.95M17.7 20.0h.95M26.2 13.2h.95M19.2 15.5h.95M33.5 12.7h.95M23.8 16.2h.95M14.6 23.8h.95M19.7 25.6h.95M34.7 5.7h.95M37.3 8.3h.95M24.6 27.4h.95M27.4 16.9h.95M17.6 18.2h.95M37.3 9.0h.95M17.2 15.3h.95M21.3 14.1h.95M28.2 19.9h.95M23.2 16.8h.95M39.5 5.1h.95M18.7 23.9h.95M15.0 20.6h.95M35.2 11.8h.95M19.7 25.7h.95M19.7 17.2h.95M30.7 20.5h.95M26.2 7.1h.95M34.8 19.5h.95M38.1 10.8h.95M23.0 26.1h.95M17.1 26.3h.95M29.5 23.5h.95M30.9 15.1h.95M39.2 13.8h.95M30.9 5.8h.95M30.9 17.7h.95M38.3 14.9h.95M40.7 10.4h.95M24.9 26.7h.95M21.7 16.9h.95M22.5 30.4h.95M34.6 3.2h.95M20.3 21.5h.95M13.3 24.4h.95M14.6 20.7h.95M39.3 6.0h.95M23.6 18.3h.95M31.9 13.3h.95M18.2 27.7h.95M38.0 10.0h.95M26.9 11.7h.95M40.0 7.4h.95M21.0 28.5h.95M37.7 13.4h.95M31.0 19.1h.95M36.9 5.5h.95M20.1 13.7h.95M19.7 11.2h.95M27.9 22.2h.95M39.8 15.3h.95M29.4 16.4h.95M34.0 9.3h.95M28.1 12.0h.95M20.0 15.0h.95M20.3 30.0h.95M32.9 7.2h.95M20.3 10.5h.95M35.8 17.4h.95M35.5 15.8h.95M39.1 6.1h.95M23.9 9.7h.95M26.2 6.7h.95M31.5 19.0h.95M29.4 7.9h.95M27.8 4.6h.95M20.3 8.9h.95M29.6 21.1h.95M15.8 30.0h.95M27.0 18.9h.95M14.9 17.4h.95M14.1 28.8h.95M20.9 13.9h.95M20.1 27.1h.95M28.7 12.6h.95M13.7 23.7h.95M31.1 22.3h.95M17.9 25.5h.95M26.1 15.7h.95M18.3 15.5h.95M25.8 12.0h.95M28.9 26.0h.95M26.6 28.8h.95M38.5 6.1h.95M21.9 8.9h.95M27.0 29.3h.95M22.2 23.6h.95M22.2 22.4h.95M15.4 22.6h.95M21.6 15.9h.95M16.8 12.8h.95M14.4 27.7h.95M21.7 7.6h.95M38.4 8.9h.95M23.4 29.5h.95M29.3 16.3h.95M14.4 31.0h.95M27.0 21.7h.95M16.6 19.2h.95M17.0 14.7h.95M29.5 21.6h.95M27.2 26.2h.95M29.8 15.9h.95M28.6 13.3h.95M25.7 26.5h.95M25.5 7.5h.95M32.8 18.2h.95M31.5 20.1h.95M26.6 22.6h.95M28.4 27.7h.95M18.9 13.5h.95M29.6 18.2h.95M28.6 22.3h.95M34.8 15.8h.95M11.6 27.0h.95M27.6 4.9h.95M35.1 6.8h.95M21.1 11.3h.95M31.5 18.2h.95M13.7 26.4h.95M23.4 13.0h.95M17.4 25.9h.95M40.1 4.7h.95M20.9 19.5h.95M22.8 9.3h.95M24.7 9.9h.95M27.6 24.7h.95M37.3 17.7h.95M24.0 25.1h.95M29.0 12.6h.95M20.6 12.4h.95M31.8 17.6h.95M31.3 19.9h.95M34.3 8.3h.95M39.7 5.8h.95M21.2 24.5h.95M34.1 18.4h.95M15.7 24.4h.95M24.3 14.2h.95M22.4 8.2h.95M15.1 20.3h.95M20.7 28.4h.95M28.1 16.5h.95M31.2 7.6h.95M21.4 14.4h.95M27.2 10.8h.95M22.6 18.9h.95M25.6 13.8h.95M29.6 19.7h.95M27.9 10.7h.95M21.9 22.3h.95M27.8 21.9h.95M23.7 10.8h.95M19.7 10.3h.95M19.7 22.9h.95M18.6 10.4h.95M20.6 23.9h.95M14.2 26.1h.95M37.9 8.2h.95M22.2 8.2h.95M22.2 19.9h.95M24.1 12.0h.95M24.3 16.2h.95M23.0 9.9h.95M10.9 30.5h.95M35.2 11.8h.95M40.5 8.8h.95M28.0 15.4h.95M24.9 10.4h.95M25.5 21.6h.95M31.2 10.1h.95M39.6 3.8h.95M25.1 19.5h.95M33.3 7.2h.95M40.1 6.5h.95M25.7 26.7h.95M18.6 18.0h.95M13.0 27.0h.95M22.4 10.9h.95M27.0 28.2h.95M24.3 23.4h.95M33.5 18.0h.95M26.6 20.3h.95M24.0 13.5h.95M37.5 7.8h.95M38.3 9.0h.95M36.6 13.2h.95M34.7 3.2h.95M17.1 12.4h.95M37.2 16.1h.95M25.3 11.4h.95M21.6 9.4h.95M29.0 18.5h.95M22.1 25.1h.95M14.0 26.0h.95M23.8 12.2h.95M24.1 13.3h.95M33.5 10.4h.95M15.9 29.0h.95M28.8 8.0h.95M21.3 23.3h.95M33.5 16.6h.95M30.2 4.4h.95M33.3 5.6h.95M29.7 6.9h.95M27.4 17.8h.95M40.5 11.4h.95M24.3 26.8h.95M31.6 7.6h.95M27.3 13.2h.95M32.9 13.7h.95M24.1 13.5h.95M21.0 20.7h.95M23.0 11.7h.95M35.5 8.4h.95M38.7 6.9h.95M29.9 13.5h.95M18.2 16.7h.95M34.9 9.0h.95M31.0 8.5h.95M29.0 6.5h.95M16.0 15.7h.95M17.1 27.0h.95M31.9 13.9h.95M31.6 21.6h.95M29.7 17.8h.95M17.6 12.6h.95M36.7 12.9h.95M26.9 18.6h.95M15.3 19.4h.95M36.8 15.2h.95M33.8 20.7h.95M38.6 5.5h.95M23.1 30.3h.95M24.3 20.9h.95M22.3 22.2h.95M27.7 16.4h.95M25.7 6.5h.95M25.8 13.4h.95M26.5 5.4h.95M31.2 14.1h.95M39.1 9.3h.95M27.6 14.1h.95M30.2 8.8h.95M31.8 12.6h.95M27.7 7.8h.95M14.9 24.3h.95M26.2 13.2h.95M15.5 22.7h.95M37.9 9.4h.95M17.3 25.8h.95M22.6 21.6h.95M25.0 15.1h.95M25.0 14.9h.95M30.4 12.7h.95M18.3 14.2h.95M20.7 28.8h.95M28.6 16.3h.95M18.8 12.8h.95M17.1 14.0h.95M31.4 22.5h.95M37.0 8.2h.95M17.7 14.7h.95M22.3 19.1h.95M20.2 9.7h.95M19.2 9.9h.95M26.4 20.3h.95M11.6 27.1h.95M20.8 13.0h.95M21.3 20.3h.95M37.9 11.5h.95M27.5 24.0h.95M26.6 6.9h.95" stroke="#45327d"/>
<path d="M21.3 12.7h.95M24.2 25.6h.95M24.0 29.6h.95M14.8 26.7h.95M30.5 5.2h.95M16.4 16.9h.95M17.2 30.7h.95M28.3 25.8h.95M16.6 28.3h.95M21.1 17.9h.95M26.7 16.8h.95M14.2 21.7h.95M26.7 21.7h.95M28.2 26.7h.95M18.0 18.4h.95M8.8 27.0h.95M19.8 15.4h.95M26.4 22.2h.95M26.2 12.4h.95M35.0 8.5h.95M34.4 20.0h.95M26.1 25.5h.95M27.2 19.8h.95M17.7 27.6h.95M32.3 12.5h.95M16.7 12.8h.95M6.9 31.2h.95M15.2 18.0h.95M26.2 28.4h.95M17.6 21.0h.95M24.2 17.7h.95M32.9 17.2h.95M20.9 18.0h.95M19.4 13.6h.95M29.0 7.8h.95M39.6 4.2h.95M28.1 17.7h.95M17.4 21.8h.95M39.1 14.8h.95M22.3 25.2h.95M37.0 4.6h.95M19.6 27.4h.95M29.8 20.6h.95M27.5 28.2h.95M33.0 16.2h.95M25.0 14.4h.95M33.0 7.5h.95M37.2 8.2h.95M41.1 8.0h.95M23.9 21.8h.95M28.6 25.8h.95M20.9 20.2h.95M29.9 11.5h.95M33.9 19.4h.95M6.7 26.8h.95M19.6 20.3h.95M23.2 6.2h.95M5.8 29.5h.95M16.5 22.9h.95M38.3 5.7h.95M15.5 27.6h.95M13.0 27.3h.95M20.7 14.3h.95M27.5 30.1h.95M21.2 24.4h.95M14.8 25.0h.95M22.4 14.6h.95M21.6 24.1h.95M15.9 29.9h.95M17.3 27.2h.95M27.2 5.4h.95M28.4 24.2h.95M28.6 25.1h.95M12.4 29.2h.95M20.7 15.2h.95M29.2 23.5h.95M22.2 11.2h.95M37.6 14.7h.95M29.6 4.5h.95M22.6 22.2h.95M17.0 20.1h.95M30.3 11.6h.95M22.4 19.6h.95M11.4 29.3h.95M12.0 24.6h.95M35.5 3.3h.95M21.3 13.6h.95M33.1 13.5h.95M19.5 17.9h.95M18.0 25.0h.95M10.6 33.5h.95M21.1 12.1h.95M30.2 13.4h.95M17.4 29.4h.95M29.1 13.8h.95M37.0 9.8h.95M16.3 31.6h.95M23.0 17.2h.95M31.6 14.6h.95M20.1 9.7h.95M22.2 20.9h.95M27.6 27.2h.95M30.7 16.9h.95M26.4 9.4h.95M32.7 14.5h.95M36.8 16.5h.95M21.8 15.8h.95M22.9 17.5h.95M16.0 31.5h.95M21.1 12.3h.95M18.0 25.3h.95M31.5 14.5h.95M8.5 31.2h.95M5.7 33.5h.95M22.3 12.4h.95M13.8 25.4h.95M38.2 13.2h.95M27.3 25.3h.95M20.5 26.1h.95M37.2 11.9h.95M24.3 22.9h.95M9.0 40.0h.95M12.9 31.1h.95M20.3 18.7h.95M15.2 32.0h.95M35.6 10.4h.95M33.9 20.4h.95M24.0 13.2h.95M27.0 10.7h.95M40.6 4.5h.95M37.3 11.7h.95M20.3 25.4h.95M23.8 18.3h.95M28.7 21.7h.95M29.9 19.3h.95M12.2 26.9h.95M21.2 26.1h.95M13.0 27.6h.95M39.8 11.3h.95M19.5 27.3h.95M39.1 13.5h.95M18.5 26.6h.95M27.9 11.4h.95M39.8 9.3h.95M28.1 9.2h.95M28.2 16.9h.95M17.3 23.5h.95M26.7 11.2h.95M24.1 10.7h.95M16.2 30.4h.95M25.1 24.0h.95M10.4 27.0h.95M23.3 13.7h.95M35.6 16.6h.95M20.9 11.7h.95M12.5 39.3h.95M36.0 8.5h.95M21.8 19.6h.95M39.4 8.9h.95M17.3 22.9h.95M31.3 13.1h.95M26.8 22.7h.95M26.1 22.5h.95M32.9 8.4h.95M20.2 16.0h.95M27.7 6.0h.95M25.5 15.1h.95M37.8 4.2h.95M20.3 16.3h.95M17.1 16.3h.95M22.5 18.6h.95M5.7 28.8h.95M31.8 21.9h.95M26.5 22.2h.95M17.4 29.2h.95M23.0 7.4h.95M20.6 12.2h.95M26.3 19.1h.95M26.9 17.9h.95M23.1 15.8h.95M27.6 18.3h.95M31.3 18.8h.95M22.9 15.0h.95M37.1 11.5h.95M32.1 20.5h.95M17.4 14.8h.95M30.7 18.6h.95M27.7 9.8h.95M22.8 26.8h.95M12.6 26.1h.95M10.3 35.1h.95M41.0 11.8h.95M24.6 26.5h.95M33.7 6.9h.95M21.0 21.1h.95M31.5 11.5h.95M14.2 24.3h.95M17.0 25.2h.95M23.8 26.0h.95M23.0 27.0h.95M26.0 20.5h.95M18.2 17.7h.95M26.1 24.4h.95M19.3 11.1h.95M31.3 20.6h.95M25.0 29.3h.95M16.8 17.9h.95M27.8 22.3h.95M39.2 8.5h.95M17.0 26.4h.95M32.3 20.5h.95M21.8 14.3h.95M26.4 9.8h.95M12.9 28.6h.95M27.9 14.8h.95M25.7 29.5h.95M30.9 17.3h.95M22.0 16.6h.95M24.4 29.9h.95M20.0 26.9h.95M26.3 25.4h.95M5.8 34.7h.95M16.9 15.2h.95M21.5 8.1h.95M15.1 23.2h.95M6.8 27.5h.95" stroke="#3e4989"/>
<path d="M22.5 16.3h.95M11.5 30.0h.95M12.3 38.5h.95M32.7 14.8h.95M3.6 33.6h.95M14.6 35.6h.95M14.2 33.7h.95M30.3 4.9h.95M19.1 9.3h.95M4.1 31.5h.95M26.9 16.7h.95M7.6 29.3h.95M14.4 29.5h.95M13.4 34.9h.95M13.2 29.6h.95M31.3 6.7h.95M19.9 20.3h.95M34.1 15.7h.95M9.5 27.9h.95M13.9 26.8h.95M11.9 30.4h.95M7.6 26.5h.95M17.9 14.4h.95M8.8 33.7h.95M21.3 14.3h.95M13.4 32.6h.95M12.4 25.3h.95M28.8 19.5h.95M40.3 7.6h.95M24.0 6.3h.95M14.1 32.2h.95M16.1 26.3h.95M19.4 19.3h.95M12.3 35.6h.95M31.7 17.7h.95M14.7 31.6h.95M18.7 20.7h.95M33.4 15.2h.95M20.6 28.8h.95M30.0 23.0h.95M7.3 37.8h.95M14.0 31.7h.95M16.5 21.7h.95M28.1 8.3h.95M16.7 30.3h.95M22.7 29.0h.95M12.0 27.1h.95M32.4 11.9h.95M35.3 5.5h.95M23.4 13.6h.95M16.6 16.6h.95M13.9 33.7h.95M22.2 9.7h.95M14.8 26.9h.95M14.2 27.3h.95M21.4 25.1h.95M24.3 26.1h.95M25.6 14.9h.95M17.0 30.0h.95M29.7 5.8h.95M21.5 29.9h.95M24.3 19.8h.95M8.6 32.3h.95M31.5 13.5h.95M11.2 25.7h.95M8.7 29.8h.95M5.5 30.6h.95M21.1 15.8h.95M27.4 18.0h.95M8.7 35.3h.95M14.8 18.1h.95M40.1 12.1h.95M9.9 28.4h.95M24.9 30.1h.95M19.7 18.4h.95M25.8 5.2h.95M22.8 10.6h.95M30.5 16.7h.95M23.7 24.8h.95M20.1 16.4h.95M8.4 26.2h.95M4.1 31.8h.95M14.2 24.2h.95M6.2 38.8h.95M16.2 27.2h.95M9.4 39.8h.95M11.3 36.2h.95M27.4 27.5h.95M15.9 17.5h.95M7.1 26.7h.95M6.4 37.1h.95M8.1 27.1h.95M9.5 27.4h.95M12.6 33.8h.95M26.5 26.7h.95M25.4 26.2h.95M9.7 27.4h.95M22.9 12.9h.95M36.7 6.8h.95M23.0 28.9h.95M25.3 26.3h.95M31.7 17.7h.95M15.3 23.5h.95M27.4 26.6h.95M13.1 35.4h.95M16.0 24.8h.95M22.3 9.1h.95M12.3 37.0h.95M30.8 21.7h.95M13.5 28.6h.95M25.4 29.2h.95M4.1 31.3h.95M4.5 35.9h.95M7.4 34.8h.95M12.7 33.4h.95M9.7 37.2h.95M5.1 35.4h.95M25.1 17.4h.95M27.6 16.5h.95M21.8 7.3h.95M20.1 21.4h.95M11.2 31.4h.95M19.9 11.7h.95M7.4 31.5h.95M25.2 7.2h.95M14.2 26.8h.95M25.9 9.5h.95M37.4 13.7h.95M6.9 32.8h.95M21.1 20.2h.95M28.5 17.8h.95M9.5 32.7h.95M13.9 35.5h.95M10.4 35.3h.95M19.7 9.1h.95M32.6 21.4h.95M12.9 39.2h.95M17.6 24.5h.95M16.7 15.9h.95M10.2 34.6h.95M7.4 41.8h.95M29.1 21.9h.95M21.6 17.0h.95M22.3 19.2h.95M12.2 23.7h.95M22.9 14.5h.95M10.3 26.3h.95M27.5 7.2h.95M10.9 27.8h.95M17.2 30.6h.95M13.6 29.5h.95M21.6 22.0h.95M7.5 26.7h.95" stroke="#365d8c"/>
<path d="M3.7 34.0h.95M7.2 32.4h.95M18.8 12.3h.95M14.5 20.8h.95M20.2 28.5h.95M7.8 27.4h.95M9.0 26.0h.95M5.2 30.4h.95M8.9 27.8h.95M12.9 32.5h.95M6.3 29.3h.95M4.3 39.3h.95M5.4 33.6h.95M6.4 33.4h.95M8.9 27.2h.95M17.6 29.9h.95M12.3 29.2h.95M12.2 39.2h.95M13.8 33.8h.95M5.5 29.9h.95M5.7 28.3h.95M7.0 27.8h.95M18.0 28.0h.95M31.2 13.2h.95M17.9 27.9h.95M9.4 30.5h.95M5.0 31.3h.95M6.8 36.9h.95M6.2 27.6h.95M4.4 35.2h.95M22.5 25.8h.95M16.2 27.0h.95M11.1 39.2h.95M14.6 34.9h.95M8.6 33.9h.95M8.2 40.2h.95M31.2 19.8h.95M11.6 28.1h.95M25.6 28.3h.95M8.4 35.7h.95M7.8 40.5h.95M8.1 31.7h.95M8.1 32.9h.95M10.5 38.6h.95M13.4 31.7h.95M27.9 25.2h.95M15.0 29.1h.95M12.6 39.3h.95M9.9 40.6h.95M30.9 20.3h.95M8.4 34.1h.95M8.2 38.5h.95M21.2 9.6h.95M14.1 32.1h.95M11.0 36.9h.95M15.3 27.3h.95M13.8 34.0h.95M11.1 37.7h.95M4.5 34.2h.95M4.2 35.9h.95M7.6 37.0h.95M6.9 33.7h.95M8.0 37.4h.95M10.8 29.7h.95M4.4 31.5h.95M7.1 28.3h.95M19.0 19.5h.95M14.2 30.6h.95M8.4 30.1h.95M6.0 36.4h.95M5.6 28.1h.95M12.8 37.7h.95M11.2 33.3h.95M6.5 37.1h.95M9.3 34.1h.95M6.4 38.4h.95M8.4 30.6h.95M10.3 32.0h.95M5.8 38.8h.95M9.0 36.0h.95M6.2 35.7h.95M16.2 29.3h.95M14.7 35.1h.95M7.0 35.8h.95M11.0 37.3h.95M5.5 28.1h.95M11.0 38.0h.95M7.2 33.4h.95M16.7 27.4h.95M12.1 34.0h.95M19.4 29.8h.95M20.8 28.0h.95M4.9 31.0h.95M12.4 37.1h.95M5.7 40.1h.95M36.5 15.1h.95" stroke="#2e708e"/>
<path d="M11.0 40.0h.95M10.1 40.5h.95M10.7 32.7h.95M9.5 35.9h.95M7.5 35.7h.95M5.6 35.9h.95M12.0 35.2h.95M13.3 24.7h.95M22.0 25.5h.95M7.1 32.8h.95M3.9 33.2h.95M3.3 33.3h.95M14.5 35.1h.95M11.6 29.1h.95M9.3 39.7h.95M7.6 26.3h.95M6.7 32.1h.95M6.3 33.5h.95M15.0 33.6h.95M4.8 37.9h.95M4.2 37.6h.95M10.4 40.3h.95M7.4 37.0h.95M8.1 40.1h.95M8.9 35.2h.95M21.7 27.2h.95M8.4 38.7h.95M12.4 33.5h.95M10.2 32.6h.95M14.0 33.6h.95M7.8 37.3h.95M11.0 39.5h.95M9.0 32.5h.95M30.8 17.9h.95M4.2 38.0h.95M8.8 41.7h.95M14.0 37.1h.95M9.9 38.2h.95M6.2 28.2h.95M5.3 35.9h.95M16.4 27.7h.95M12.4 38.9h.95M9.4 39.6h.95M11.1 40.3h.95M13.2 36.9h.95M10.9 40.1h.95M9.4 41.9h.95M25.1 21.1h.95M12.6 29.8h.95M15.3 34.4h.95M13.1 33.0h.95M7.5 31.0h.95M6.0 28.7h.95M8.0 31.2h.95M5.7 39.0h.95" stroke="#26828e"/>
<path d="M5.2 39.0h.95M8.8 36.2h.95M4.0 31.4h.95M3.8 37.8h.95M7.2 32.7h.95M8.7 40.4h.95M10.1 34.6h.95M5.2 38.1h.95M12.4 33.9h.95M7.7 38.1h.95M14.4 25.1h.95M4.5 38.6h.95M6.7 27.7h.95M4.8 37.4h.95M7.5 28.2h.95M4.3 31.5h.95M9.6 35.2h.95M6.8 37.0h.95M6.2 35.9h.95M7.6 41.8h.95" stroke="#22948b"/>
<path d="M7.8 33.0h.95M4.9 39.3h.95M6.2 35.6h.95M10.8 38.8h.95M6.9 35.2h.95" stroke="#26a684"/>
</g>
<rect x="84.8" y="633" width="46.2" height="46.2" fill="none" stroke="#3a3a3a" stroke-width="1.2"/>
<text x="159.3" y="630.81" font-size="9.2" text-anchor="middle" font-style="italic" fill="#1a1a1a" textLength="20.71" lengthAdjust="spacingAndGlyphs">XBP1</text>
<g transform="translate(136.2,633)" fill="none" stroke-width=".95">
<path d="M32.9 9.3h.95M33.5 12.7h.95M30.9 5.8h.95M32.9 17.2h.95M28.1 17.7h.95M39.3 6.0h.95M37.0 4.6h.95M40.0 7.4h.95M35.6 4.7h.95M33.9 19.4h.95M35.5 15.8h.95M39.3 14.5h.95M29.3 16.3h.95M30.9 20.3h.95M26.6 14.8h.95M32.7 14.5h.95M31.2 7.6h.95M35.2 18.2h.95M27.4 27.5h.95M37.2 15.4h.95M40.1 6.5h.95M29.9 19.3h.95M37.5 7.8h.95M38.3 9.0h.95M34.7 3.2h.95M30.3 10.2h.95M36.0 8.5h.95M32.1 10.2h.95M34.8 3.5h.95M30.6 5.7h.95M37.1 11.5h.95M31.5 11.5h.95M16.9 15.2h.95" stroke="#440154"/>
<path d="M38.1 7.4h.95M21.7 14.4h.95M27.0 8.5h.95M28.2 26.7h.95M19.1 9.3h.95M19.8 15.4h.95M26.4 22.2h.95M35.0 8.5h.95M39.5 5.1h.95M31.3 6.7h.95M19.9 20.3h.95M32.3 12.5h.95M30.9 17.7h.95M34.6 3.2h.95M31.9 13.3h.95M26.9 11.7h.95M40.3 7.6h.95M37.2 8.2h.95M34.0 9.3h.95M35.8 17.4h.95M27.8 4.6h.95M14.1 28.8h.95M22.5 25.8h.95M28.1 8.3h.95M23.7 29.2h.95M21.7 7.6h.95M37.6 14.7h.95M29.6 4.5h.95M30.2 13.7h.95M37.7 4.0h.95M36.1 8.7h.95M39.3 11.9h.95M39.7 5.8h.95M20.7 28.4h.95M26.4 9.4h.95M30.1 13.8h.95M22.8 10.6h.95M29.1 13.6h.95M22.9 17.5h.95M27.8 21.9h.95M35.6 4.0h.95M24.3 16.2h.95M35.2 11.8h.95M38.7 14.3h.95M35.6 10.4h.95M40.0 15.2h.95M39.6 3.8h.95M24.0 13.2h.95M40.6 4.5h.95M33.5 18.0h.95M39.8 11.3h.95M39.1 13.5h.95M39.8 9.3h.95M34.1 12.2h.95M28.8 8.0h.95M39.9 6.1h.95M35.9 7.9h.95M24.9 11.6h.95M33.3 5.6h.95M24.3 26.8h.95M23.5 21.0h.95M31.3 13.1h.95M38.7 6.9h.95M32.8 15.5h.95M19.7 14.3h.95M33.6 4.3h.95M26.3 19.1h.95M36.7 12.9h.95M26.9 18.6h.95M37.4 13.7h.95M35.8 10.5h.95M38.6 5.5h.95M41.0 11.8h.95M32.1 4.7h.95M24.6 26.5h.95M25.8 13.4h.95M26.5 5.4h.95M31.2 14.1h.95M39.1 9.3h.95M30.2 8.8h.95M31.8 12.6h.95M27.7 7.8h.95M35.1 16.5h.95M41.2 10.5h.95M39.2 8.5h.95M40.2 4.3h.95M29.9 11.4h.95M37.0 8.2h.95M25.7 29.5h.95M39.6 7.1h.95" stroke="#471a6b"/>
<path d="M27.1 8.0h.95M37.9 14.7h.95M24.3 15.3h.95M35.7 8.1h.95M22.5 16.3h.95M23.2 23.8h.95M31.5 9.8h.95M20.2 28.5h.95M21.4 11.9h.95M26.9 6.7h.95M34.9 19.5h.95M17.7 20.0h.95M26.2 13.2h.95M19.2 15.5h.95M14.6 23.8h.95M36.2 10.7h.95M30.1 20.0h.95M34.7 5.7h.95M35.8 11.6h.95M37.3 8.3h.95M24.6 27.4h.95M13.3 24.7h.95M23.2 8.3h.95M27.4 16.9h.95M26.1 25.5h.95M31.9 18.5h.95M17.6 18.2h.95M37.3 9.0h.95M31.4 9.4h.95M35.2 11.8h.95M35.0 15.3h.95M30.3 4.9h.95M19.4 15.3h.95M26.2 7.1h.95M18.3 11.5h.95M16.7 12.8h.95M34.1 15.7h.95M29.5 23.5h.95M37.6 11.4h.95M32.9 11.8h.95M39.9 5.8h.95M20.0 26.3h.95M29.0 7.8h.95M39.6 4.2h.95M12.4 25.3h.95M31.5 8.3h.95M19.3 22.8h.95M39.1 14.8h.95M32.4 13.2h.95M28.8 19.5h.95M27.5 28.2h.95M33.0 16.2h.95M18.9 15.9h.95M25.0 14.4h.95M19.7 11.2h.95M38.8 15.8h.95M19.4 19.3h.95M41.1 8.0h.95M39.8 15.3h.95M32.9 7.2h.95M39.1 6.1h.95M23.9 9.7h.95M35.1 12.0h.95M26.2 6.7h.95M31.5 19.0h.95M29.4 7.9h.95M23.2 6.2h.95M23.0 21.5h.95M20.3 8.9h.95M39.9 6.5h.95M31.6 4.6h.95M30.0 23.0h.95M13.7 23.7h.95M26.1 15.7h.95M27.5 30.1h.95M26.6 28.8h.95M39.2 3.8h.95M38.5 6.1h.95M21.6 24.1h.95M32.4 11.9h.95M20.3 25.3h.95M28.6 25.1h.95M39.2 13.9h.95M21.6 15.9h.95M37.1 15.5h.95M39.9 4.7h.95M23.1 17.7h.95M29.8 15.9h.95M14.2 27.3h.95M28.6 13.3h.95M24.3 26.1h.95M31.5 20.1h.95M25.6 14.9h.95M18.9 13.5h.95M29.5 19.7h.95M29.7 5.8h.95M29.3 15.5h.95M35.1 6.8h.95M21.1 11.3h.95M31.5 18.2h.95M13.7 26.4h.95M37.9 8.6h.95M38.7 13.3h.95M17.4 25.9h.95M31.5 13.5h.95M33.8 12.2h.95M18.0 25.0h.95M24.7 9.9h.95M37.3 17.7h.95M24.0 25.1h.95M29.0 12.6h.95M31.8 17.6h.95M30.6 18.6h.95M29.6 19.8h.95M31.3 19.9h.95M34.3 8.3h.95M34.1 18.4h.95M24.3 14.2h.95M30.2 13.4h.95M19.2 12.4h.95M37.0 9.8h.95M20.1 9.7h.95M27.6 27.2h.95M40.1 12.1h.95M30.7 16.9h.95M25.8 5.2h.95M24.3 16.6h.95M36.8 16.5h.95M25.6 13.8h.95M23.7 24.8h.95M31.5 14.5h.95M41.4 7.3h.95M21.2 9.6h.95M22.2 8.2h.95M24.1 12.0h.95M38.2 13.2h.95M37.2 11.9h.95M40.5 8.8h.95M28.0 15.4h.95M25.5 21.6h.95M31.2 10.1h.95M34.7 14.4h.95M33.9 20.4h.95M33.3 7.2h.95M27.6 14.5h.95M37.3 11.7h.95M23.8 18.3h.95M25.7 26.7h.95M30.6 5.7h.95M28.7 21.7h.95M24.3 23.4h.95M36.6 13.2h.95M25.4 26.2h.95M34.0 5.8h.95M32.5 19.6h.95M36.7 6.8h.95M25.6 25.3h.95M17.1 12.4h.95M37.2 16.1h.95M30.8 17.9h.95M25.3 26.3h.95M21.5 19.2h.95M22.1 25.1h.95M30.4 12.1h.95M24.1 13.3h.95M31.1 5.6h.95M24.1 10.7h.95M30.8 21.7h.95M33.3 8.5h.95M30.2 4.4h.95M19.0 19.5h.95M29.7 6.9h.95M26.8 6.8h.95M40.5 11.4h.95M41.8 8.0h.95M21.8 19.6h.95M25.1 17.4h.95M39.4 8.9h.95M27.6 16.5h.95M26.1 22.5h.95M32.9 8.4h.95M23.0 11.7h.95M38.4 13.1h.95M29.0 7.1h.95M29.9 13.5h.95M34.9 9.0h.95M16.7 30.2h.95M30.8 6.3h.95M31.0 8.5h.95M16.0 15.7h.95M31.8 21.9h.95M26.5 22.2h.95M25.2 7.2h.95M20.6 12.2h.95M22.2 19.4h.95M26.9 17.9h.95M23.1 15.8h.95M21.1 20.2h.95M27.6 18.3h.95M36.8 15.2h.95M22.9 15.0h.95M17.4 14.8h.95M27.7 9.8h.95M24.3 20.9h.95M22.3 22.2h.95M33.3 6.6h.95M21.4 19.7h.95M28.7 12.6h.95M23.8 26.0h.95M26.1 24.4h.95M37.9 9.4h.95M16.4 26.3h.95M28.4 21.7h.95M25.0 15.1h.95M30.2 9.8h.95M10.3 26.3h.95M25.0 14.9h.95M21.8 14.3h.95M31.4 22.5h.95M27.5 7.2h.95M32.0 18.8h.95M27.9 14.8h.95M30.9 17.3h.95M26.4 20.3h.95M22.0 16.6h.95M37.9 11.5h.95M26.6 6.9h.95" stroke="#45327d"/>
<path d="M34.1 8.5h.95M14.8 26.7h.95M30.5 5.2h.95M18.8 12.3h.95M20.8 19.6h.95M28.3 25.8h.95M29.0 19.5h.95M21.1 17.9h.95M26.9 26.2h.95M24.3 16.3h.95M26.7 16.8h.95M20.3 14.5h.95M26.7 21.7h.95M32.0 7.6h.95M32.7 14.8h.95M23.8 16.2h.95M21.1 17.2h.95M38.5 8.6h.95M21.7 24.6h.95M22.4 16.0h.95M30.3 4.9h.95M30.8 8.3h.95M31.7 10.0h.95M26.9 16.7h.95M34.4 20.0h.95M27.2 19.8h.95M14.4 29.5h.95M17.2 15.3h.95M23.2 16.8h.95M18.7 23.9h.95M36.4 11.4h.95M15.0 20.6h.95M19.7 25.7h.95M19.7 17.2h.95M30.7 20.5h.95M34.8 19.5h.95M38.1 10.8h.95M15.2 18.0h.95M30.9 15.1h.95M39.2 13.8h.95M37.9 12.4h.95M31.4 19.4h.95M19.6 23.8h.95M38.3 14.9h.95M40.7 10.4h.95M24.9 26.7h.95M24.2 17.7h.95M17.6 29.9h.95M21.7 16.9h.95M22.5 30.4h.95M20.9 18.0h.95M19.4 13.6h.95M26.4 8.4h.95M17.4 21.8h.95M13.3 24.4h.95M38.0 10.0h.95M28.4 9.9h.95M29.8 20.6h.95M37.7 13.4h.95M31.2 13.2h.95M31.0 19.1h.95M33.0 7.5h.95M17.9 27.9h.95M16.1 26.3h.95M27.9 22.2h.95M29.4 16.4h.95M28.4 18.1h.95M28.1 12.0h.95M28.6 25.8h.95M20.0 15.0h.95M31.7 17.7h.95M20.3 30.0h.95M18.7 20.7h.95M20.3 10.5h.95M19.6 20.3h.95M33.4 15.2h.95M27.0 18.9h.95M38.3 5.7h.95M41.9 8.1h.95M20.7 14.3h.95M28.7 12.6h.95M33.4 15.0h.95M33.5 13.0h.95M18.3 15.5h.95M33.8 14.6h.95M25.8 12.0h.95M28.9 26.0h.95M21.3 26.6h.95M20.4 25.0h.95M21.9 8.9h.95M22.7 29.0h.95M12.0 27.1h.95M27.2 5.4h.95M22.2 23.6h.95M35.3 5.5h.95M15.4 22.6h.95M16.8 12.8h.95M20.7 15.2h.95M23.4 29.5h.95M29.2 23.5h.95M16.6 16.6h.95M17.0 14.7h.95M29.5 21.6h.95M30.3 11.6h.95M25.6 28.3h.95M25.7 26.5h.95M21.4 17.6h.95M32.8 18.2h.95M26.6 22.6h.95M28.6 22.3h.95M34.8 15.8h.95M37.3 10.6h.95M27.6 4.9h.95M25.7 23.7h.95M35.5 3.3h.95M21.5 29.9h.95M29.5 23.5h.95M33.1 13.5h.95M24.1 13.2h.95M32.5 17.5h.95M24.5 26.5h.95M40.1 4.7h.95M27.2 8.1h.95M19.5 17.9h.95M22.8 9.3h.95M18.9 27.6h.95M20.6 12.4h.95M21.1 15.8h.95M37.6 12.8h.95M15.7 24.4h.95M17.4 29.4h.95M32.6 16.3h.95M23.0 17.2h.95M31.6 14.6h.95M22.2 20.9h.95M19.7 18.4h.95M21.4 14.4h.95M27.9 10.7h.95M21.9 22.3h.95M27.9 11.6h.95M20.1 16.4h.95M18.0 25.3h.95M18.6 10.4h.95M20.6 23.9h.95M30.8 19.4h.95M37.9 8.2h.95M22.2 19.9h.95M23.8 30.5h.95M16.2 27.2h.95M23.0 9.9h.95M21.6 10.9h.95M27.3 25.3h.95M20.5 26.1h.95M24.3 22.9h.95M30.7 16.4h.95M20.3 18.7h.95M27.0 10.7h.95M25.4 16.0h.95M32.1 4.5h.95M26.9 15.4h.95M21.2 26.1h.95M26.6 20.3h.95M24.0 13.5h.95M26.5 26.7h.95M19.5 27.3h.95M21.6 9.4h.95M23.0 28.9h.95M31.7 17.7h.95M27.9 11.4h.95M15.3 23.5h.95M17.3 23.5h.95M31.7 19.8h.95M26.7 11.2h.95M33.5 10.4h.95M16.2 30.4h.95M33.5 16.6h.95M25.4 29.2h.95M23.3 13.7h.95M35.6 16.6h.95M20.9 11.7h.95M27.4 17.8h.95M26.5 27.5h.95M24.1 13.5h.95M16.4 27.7h.95M17.3 22.9h.95M26.8 22.7h.95M21.8 7.3h.95M20.1 21.4h.95M35.5 8.4h.95M20.2 16.0h.95M18.2 16.7h.95M20.3 16.3h.95M20.0 12.6h.95M22.5 18.6h.95M17.1 27.0h.95M30.4 13.5h.95M37.8 14.2h.95M31.9 13.9h.95M17.4 29.2h.95M23.0 7.4h.95M31.6 21.6h.95M29.7 17.8h.95M15.3 19.4h.95M34.1 12.8h.95M22.4 22.0h.95M33.8 20.7h.95M30.7 18.6h.95M22.8 26.8h.95M12.6 26.1h.95M33.7 6.9h.95M32.6 21.4h.95M27.6 14.1h.95M14.2 24.3h.95M17.6 24.5h.95M16.7 15.9h.95M25.1 21.1h.95M26.2 13.2h.95M16.7 27.4h.95M26.0 20.5h.95M31.0 12.7h.95M19.3 11.1h.95M31.3 20.6h.95M22.6 21.6h.95M20.8 28.0h.95M27.7 26.7h.95M16.8 17.9h.95M22.9 14.5h.95M27.8 22.3h.95M30.4 12.7h.95M27.3 11.3h.95M18.3 14.2h.95M32.3 20.5h.95M28.6 16.3h.95M26.4 9.8h.95M18.8 12.8h.95M31.7 8.9h.95M41.6 9.8h.95M26.6 24.2h.95M17.7 14.7h.95M29.3 16.2h.95M22.3 19.1h.95M20.2 9.7h.95M19.2 9.9h.95M24.4 29.9h.95M26.3 25.4h.95M23.2 11.3h.95M13.6 29.5h.95M24.2 7.8h.95M21.3 20.3h.95M36.5 15.1h.95M21.5 8.1h.95M15.1 23.2h.95" stroke="#3e4989"/>
<path d="M24.0 29.6h.95M16.2 15.2h.95M15.3 21.9h.95M17.3 25.7h.95M16.4 16.9h.95M14.5 20.8h.95M14.0 22.1h.95M19.7 25.6h.95M18.0 18.4h.95M21.3 14.1h.95M26.9 12.1h.95M23.7 9.7h.95M24.9 17.0h.95M23.0 26.1h.95M13.9 26.8h.95M26.2 28.4h.95M17.6 21.0h.95M17.9 14.4h.95M20.3 21.5h.95M21.3 14.3h.95M17.4 23.8h.95M23.6 18.3h.95M22.3 25.2h.95M26.0 7.6h.95M21.0 28.5h.95M35.9 7.7h.95M19.6 27.4h.95M18.0 28.0h.95M36.9 5.5h.95M24.0 6.3h.95M20.1 13.7h.95M25.4 22.7h.95M23.9 21.8h.95M35.8 8.8h.95M20.9 20.2h.95M29.9 11.5h.95M29.6 21.1h.95M16.5 22.9h.95M26.5 26.2h.95M15.5 27.6h.95M20.9 13.9h.95M20.1 27.1h.95M16.2 27.0h.95M17.9 25.5h.95M21.2 24.4h.95M16.5 21.7h.95M14.8 25.0h.95M22.4 14.6h.95M16.7 30.3h.95M15.9 29.9h.95M17.3 27.2h.95M27.0 29.3h.95M28.4 24.2h.95M22.2 22.4h.95M23.4 13.6h.95M38.4 8.9h.95M19.6 23.5h.95M16.6 19.2h.95M22.2 9.7h.95M14.8 26.9h.95M22.6 22.2h.95M27.2 26.2h.95M17.0 20.1h.95M31.7 15.7h.95M22.4 19.6h.95M25.5 7.5h.95M28.4 27.7h.95M29.6 18.2h.95M17.0 30.0h.95M27.9 25.2h.95M21.3 13.6h.95M24.3 19.8h.95M23.4 13.0h.95M15.0 29.1h.95M27.6 6.3h.95M11.2 25.7h.95M20.9 19.5h.95M24.1 22.5h.95M27.6 24.7h.95M30.5 9.0h.95M21.1 12.1h.95M22.1 18.5h.95M27.4 18.0h.95M21.2 24.5h.95M25.5 11.9h.95M22.4 8.2h.95M29.1 13.8h.95M15.1 20.3h.95M16.3 31.6h.95M14.8 18.1h.95M24.9 30.1h.95M19.7 22.9h.95M27.2 10.8h.95M21.8 15.8h.95M21.7 27.2h.95M22.6 18.9h.95M29.6 19.7h.95M30.5 16.7h.95M23.7 10.8h.95M23.2 26.0h.95M21.1 12.3h.95M19.7 10.3h.95M19.7 22.9h.95M14.2 26.1h.95M33.3 5.8h.95M22.3 12.4h.95M13.8 25.4h.95M15.9 17.5h.95M24.9 10.4h.95M25.2 22.7h.95M15.3 27.3h.95M25.1 19.5h.95M20.3 25.4h.95M22.4 10.9h.95M9.5 27.4h.95M12.2 26.9h.95M20.3 28.2h.95M30.2 22.9h.95M13.0 27.6h.95M26.7 16.0h.95M25.3 11.4h.95M18.5 26.6h.95M28.1 9.2h.95M27.4 26.6h.95M23.2 17.6h.95M23.8 12.2h.95M15.9 29.0h.95M16.0 24.8h.95M21.3 23.3h.95M27.3 30.1h.95M13.5 28.6h.95M25.1 24.0h.95M10.4 27.0h.95M23.0 27.3h.95M19.1 23.6h.95M31.6 7.6h.95M27.3 13.2h.95M32.9 13.7h.95M21.0 20.7h.95M27.7 6.0h.95M37.8 4.2h.95M16.3 26.4h.95M29.0 6.5h.95M20.5 12.1h.95M19.9 11.7h.95M25.9 9.5h.95M22.1 11.0h.95M28.5 17.8h.95M18.2 24.8h.95M31.3 18.8h.95M33.6 16.0h.95M27.7 16.4h.95M16.2 29.3h.95M19.7 9.1h.95M21.0 21.1h.95M17.0 25.2h.95M14.9 24.3h.95M18.2 17.7h.95M29.1 21.9h.95M21.6 17.0h.95M22.3 19.2h.95M12.2 23.7h.95M19.4 29.8h.95M37.6 12.2h.95M17.1 14.0h.95M12.9 28.6h.95M38.2 5.1h.95M24.0 17.6h.95M20.0 26.9h.95M11.6 27.1h.95M20.8 13.0h.95M33.2 20.6h.95" stroke="#365d8c"/>
<path d="M24.2 25.6h.95M17.2 30.7h.95M12.8 29.4h.95M16.6 28.3h.95M26.2 25.2h.95M14.2 21.7h.95M14.2 33.7h.95M9.0 26.0h.95M8.9 27.8h.95M26.2 12.4h.95M28.2 19.9h.95M17.7 27.6h.95M8.9 27.2h.95M14.6 20.7h.95M18.2 27.7h.95M14.1 32.2h.95M9.4 30.5h.95M14.7 31.6h.95M6.7 26.8h.95M20.6 28.8h.95M14.9 17.4h.95M13.0 27.3h.95M12.4 29.2h.95M14.4 27.7h.95M22.2 11.2h.95M31.2 19.8h.95M11.6 28.1h.95M21.4 25.1h.95M14.6 21.5h.95M28.1 16.5h.95M14.2 24.2h.95M14.1 32.1h.95M14.4 25.1h.95M15.2 32.0h.95M18.6 18.0h.95M13.0 27.0h.95M27.0 28.2h.95M22.9 12.9h.95M29.0 18.5h.95M28.2 16.9h.95M22.3 9.1h.95M14.2 30.6h.95M17.1 16.3h.95M14.2 26.8h.95M17.6 12.6h.95M32.1 20.5h.95M25.7 6.5h.95M23.0 27.0h.95M15.5 22.7h.95M17.3 25.8h.95M25.0 29.3h.95M17.2 30.6h.95M27.5 24.0h.95M21.6 22.0h.95" stroke="#2e708e"/>
<path d="M21.3 12.7h.95M3.7 34.0h.95M7.8 27.4h.95M8.8 27.0h.95M22.0 25.5h.95M13.2 29.6h.95M17.1 26.3h.95M9.5 27.9h.95M11.9 30.4h.95M12.3 29.2h.95M13.8 33.8h.95M22.3 24.1h.95M7.0 27.8h.95M15.8 30.0h.95M31.1 22.3h.95M14.0 31.7h.95M7.6 26.3h.95M15.0 33.6h.95M14.4 31.0h.95M27.0 21.7h.95M7.8 40.5h.95M12.0 24.6h.95M11.6 27.0h.95M16.0 31.5h.95M10.9 30.5h.95M12.9 31.1h.95M7.1 26.7h.95M8.1 27.1h.95M7.8 37.3h.95M6.7 27.7h.95M12.6 33.8h.95M10.8 29.7h.95M14.0 26.0h.95M6.8 37.0h.95M25.5 15.1h.95M11.1 40.3h.95M23.1 30.3h.95M14.7 35.1h.95M12.6 29.8h.95M17.0 26.4h.95M20.7 28.8h.95M10.9 27.8h.95M12.4 37.1h.95M6.8 27.5h.95" stroke="#26828e"/>
<path d="M11.0 40.0h.95M10.7 32.7h.95M11.5 30.0h.95M3.6 33.6h.95M12.0 35.2h.95M12.9 32.5h.95M13.4 34.9h.95M6.9 31.2h.95M7.1 32.8h.95M13.4 32.6h.95M3.3 33.3h.95M5.5 29.9h.95M7.8 33.0h.95M14.5 35.1h.95M11.6 29.1h.95M6.8 36.9h.95M7.2 32.7h.95M6.2 27.6h.95M4.4 35.2h.95M10.4 40.3h.95M13.4 31.7h.95M8.7 29.8h.95M12.4 33.5h.95M8.4 26.2h.95M12.4 33.9h.95M4.5 38.6h.95M14.0 33.6h.95M11.0 36.9h.95M6.4 37.1h.95M13.8 34.0h.95M11.0 39.5h.95M9.7 27.4h.95M12.3 37.0h.95M7.1 28.3h.95M6.2 28.2h.95M4.5 35.9h.95M12.5 39.3h.95M12.7 33.4h.95M5.6 28.1h.95M7.4 31.5h.95M6.4 38.4h.95M8.4 30.6h.95M10.3 35.1h.95M15.3 34.4h.95M8.0 31.2h.95M7.5 26.7h.95" stroke="#22948b"/>
<path d="M7.2 32.4h.95M5.2 39.0h.95M8.8 36.2h.95M7.5 35.7h.95M14.6 35.6h.95M5.2 30.4h.95M6.3 29.3h.95M4.1 31.5h.95M7.6 29.3h.95M6.4 33.4h.95M7.6 26.5h.95M3.9 33.2h.95M5.7 28.3h.95M5.0 31.3h.95M6.3 33.5h.95M8.6 33.9h.95M4.8 37.9h.95M8.4 35.7h.95M8.1 31.7h.95M10.5 38.6h.95M8.6 32.3h.95M9.9 40.6h.95M10.6 33.5h.95M5.5 30.6h.95M10.1 34.6h.95M8.7 35.3h.95M9.9 28.4h.95M5.2 38.1h.95M8.4 34.1h.95M6.2 38.8h.95M7.7 38.1h.95M9.4 39.8h.95M11.3 36.2h.95M10.2 32.6h.95M4.9 39.3h.95M7.5 28.2h.95M4.3 31.5h.95M4.5 34.2h.95M7.6 37.0h.95M8.0 37.4h.95M4.2 38.0h.95M13.1 35.4h.95M4.1 31.3h.95M6.0 36.4h.95M12.8 37.7h.95M9.4 39.6h.95M10.3 32.0h.95M6.9 32.8h.95M13.9 35.5h.95M9.4 41.9h.95M12.9 39.2h.95M11.0 37.3h.95M11.0 38.0h.95M7.2 33.4h.95M4.9 31.0h.95M6.0 28.7h.95M5.8 34.7h.95M7.6 41.8h.95" stroke="#26a684"/>
<path d="M10.1 40.5h.95M9.5 35.9h.95M12.3 38.5h.95M5.6 35.9h.95M4.0 31.4h.95M4.3 39.3h.95M8.8 33.7h.95M12.2 39.2h.95M3.8 37.8h.95M5.8 29.5h.95M9.3 39.7h.95M6.7 32.1h.95M14.6 34.9h.95M4.2 37.6h.95M13.9 33.7h.95M11.4 29.3h.95M12.6 39.3h.95M8.9 35.2h.95M8.4 38.7h.95M4.1 31.8h.95M8.2 38.5h.95M8.5 31.2h.95M5.7 33.5h.95M9.0 40.0h.95M4.8 37.4h.95M11.1 37.7h.95M4.2 35.9h.95M9.0 32.5h.95M6.9 33.7h.95M8.8 41.7h.95M4.4 31.5h.95M9.6 35.2h.95M9.9 38.2h.95M6.2 35.9h.95M7.4 34.8h.95M8.4 30.1h.95M9.7 37.2h.95M11.2 33.3h.95M6.5 37.1h.95M9.0 36.0h.95M6.2 35.7h.95M10.9 40.1h.95M5.5 28.1h.95M10.2 34.6h.95M12.1 34.0h.95M7.4 41.8h.95M13.1 33.0h.95M7.5 31.0h.95" stroke="#35b779"/>
<path d="M5.4 33.6h.95M12.3 35.6h.95M11.1 39.2h.95M8.2 40.2h.95M8.1 32.9h.95M7.4 37.0h.95M8.1 40.1h.95M14.0 37.1h.95M5.3 35.9h.95M5.1 35.4h.95M12.4 38.9h.95M10.8 38.8h.95M9.3 34.1h.95M5.7 28.8h.95M11.2 31.4h.95M5.8 38.8h.95M6.9 35.2h.95M13.2 36.9h.95M10.4 35.3h.95M7.0 35.8h.95M5.7 40.1h.95" stroke="#5ac664"/>
<path d="M7.3 37.8h.95M6.2 35.6h.95M9.5 32.7h.95M5.7 39.0h.95" stroke="#9ad648"/>
<path d="M8.7 40.4h.95" stroke="#fde725"/>
</g>
<rect x="136.2" y="633" width="46.2" height="46.2" fill="none" stroke="#3a3a3a" stroke-width="1.2"/>
<line x1="29.8" y1="682.5" x2="29.8" y2="655" stroke="#222" stroke-width="1"/>
<path d="M29.8 650.8 L27.6 655.8 L32 655.8 Z" fill="#222"/>
<line x1="29.8" y1="682.5" x2="56.5" y2="682.5" stroke="#222" stroke-width="1"/>
<path d="M60.9 682.5 L55.9 680.3 L55.9 684.7 Z" fill="#222"/>
<text x="21.9" y="669.06" font-size="8.5" text-anchor="middle" textLength="24.2" lengthAdjust="spacingAndGlyphs" transform="rotate(-90 21.9 666)">UMAP 2</text>
<text x="33.7" y="694.35" font-size="8.2" textLength="23.6" lengthAdjust="spacingAndGlyphs">UMAP 1</text>
<rect x="195.4" y="647.7" width="6.4" height="30.3" fill="url(#vg)"/>
<text x="198.6" y="643.98" font-size="6.6" text-anchor="middle">High</text>
<text x="198.6" y="687.38" font-size="6.6" text-anchor="middle">Low</text>
<text x="188.8" y="665.18" font-size="6.6" text-anchor="middle" textLength="30" lengthAdjust="spacingAndGlyphs" transform="rotate(-90 188.8 662.8)">Expression</text>
<text x="221.8" y="444.54" font-size="11.5" font-weight="bold" fill="#111">F</text>
<text x="390.7" y="441.9" font-size="8.6" text-anchor="middle" fill="#222" textLength="87" lengthAdjust="spacingAndGlyphs">HALLMARK GENE SET</text>
<rect x="315.7" y="449.1" width="95.1" height="6" fill="#b5d49a"/>
<line x1="312" y1="452.1" x2="315.7" y2="452.1" stroke="#222" stroke-width="0.8"/>
<text x="309.4" y="454.4" font-size="6.4" text-anchor="end">TNFA Signaling via NFKB</text>
<rect x="315.7" y="459.41" width="71.5" height="6" fill="#b5d49a"/>
<line x1="312" y1="462.41" x2="315.7" y2="462.41" stroke="#222" stroke-width="0.8"/>
<text x="309.4" y="464.71" font-size="6.4" text-anchor="end">IL2/STAT5 Signaling</text>
<rect x="315.7" y="469.72" width="55.2" height="6" fill="#b5d49a"/>
<line x1="312" y1="472.72" x2="315.7" y2="472.72" stroke="#222" stroke-width="0.8"/>
<text x="309.4" y="475.02" font-size="6.4" text-anchor="end">Inflammatory Response</text>
<rect x="315.7" y="480.03" width="43.8" height="6" fill="#b5d49a"/>
<line x1="312" y1="483.03" x2="315.7" y2="483.03" stroke="#222" stroke-width="0.8"/>
<text x="309.4" y="485.33" font-size="6.4" text-anchor="end">p53 Pathway</text>
<rect x="315.7" y="490.34" width="26.8" height="6" fill="#b5d49a"/>
<line x1="312" y1="493.34" x2="315.7" y2="493.34" stroke="#222" stroke-width="0.8"/>
<text x="309.4" y="495.64" font-size="6.4" text-anchor="end">PI3K/AKT/MTOR Signaling</text>
<rect x="315.7" y="510.96" width="124.5" height="6" fill="#4e6d8e"/>
<line x1="312" y1="513.96" x2="315.7" y2="513.96" stroke="#222" stroke-width="0.8"/>
<text x="309.4" y="516.26" font-size="6.4" text-anchor="end">mTORC1 signaling</text>
<rect x="315.7" y="521.27" width="70.1" height="6" fill="#4e6d8e"/>
<line x1="312" y1="524.27" x2="315.7" y2="524.27" stroke="#222" stroke-width="0.8"/>
<text x="309.4" y="526.57" font-size="6.4" text-anchor="end">Unfolded Protein Response</text>
<rect x="315.7" y="531.58" width="52.1" height="6" fill="#4e6d8e"/>
<line x1="312" y1="534.58" x2="315.7" y2="534.58" stroke="#222" stroke-width="0.8"/>
<text x="309.4" y="536.88" font-size="6.4" text-anchor="end">MYC Targets</text>
<rect x="315.7" y="552.2" width="137.3" height="6" fill="#24323d"/>
<line x1="312" y1="555.2" x2="315.7" y2="555.2" stroke="#222" stroke-width="0.8"/>
<text x="309.4" y="557.5" font-size="6.4" text-anchor="end">MYC Targets</text>
<rect x="315.7" y="562.51" width="52.1" height="6" fill="#24323d"/>
<line x1="312" y1="565.51" x2="315.7" y2="565.51" stroke="#222" stroke-width="0.8"/>
<text x="309.4" y="567.81" font-size="6.4" text-anchor="end">mTORC1 signaling</text>
<rect x="315.7" y="572.82" width="52.1" height="6" fill="#24323d"/>
<line x1="312" y1="575.82" x2="315.7" y2="575.82" stroke="#222" stroke-width="0.8"/>
<text x="309.4" y="578.12" font-size="6.4" text-anchor="end">Oxidative Phosphorylation</text>
<rect x="315.7" y="583.13" width="43.5" height="6" fill="#24323d"/>
<line x1="312" y1="586.13" x2="315.7" y2="586.13" stroke="#222" stroke-width="0.8"/>
<text x="309.4" y="588.43" font-size="6.4" text-anchor="end">Glycolysis</text>
<rect x="315.7" y="593.44" width="38.6" height="6" fill="#24323d"/>
<line x1="312" y1="596.44" x2="315.7" y2="596.44" stroke="#222" stroke-width="0.8"/>
<text x="309.4" y="598.74" font-size="6.4" text-anchor="end">E2F Targets</text>
<rect x="315.7" y="614.06" width="36.3" height="6" fill="#8b6a73"/>
<line x1="312" y1="617.06" x2="315.7" y2="617.06" stroke="#222" stroke-width="0.8"/>
<text x="309.4" y="619.36" font-size="6.4" text-anchor="end">mTORC1 Signaling</text>
<rect x="315.7" y="634.68" width="37.8" height="6" fill="#dcbfcc"/>
<line x1="312" y1="637.68" x2="315.7" y2="637.68" stroke="#222" stroke-width="0.8"/>
<text x="309.4" y="639.98" font-size="6.4" text-anchor="end">Unfolded Protein Response</text>
<rect x="315.7" y="644.99" width="37.8" height="6" fill="#dcbfcc"/>
<line x1="312" y1="647.99" x2="315.7" y2="647.99" stroke="#222" stroke-width="0.8"/>
<text x="309.4" y="650.29" font-size="6.4" text-anchor="end">Protein Secretion</text>
<rect x="315.7" y="655.3" width="17.8" height="6" fill="#dcbfcc"/>
<line x1="312" y1="658.3" x2="315.7" y2="658.3" stroke="#222" stroke-width="0.8"/>
<text x="309.4" y="660.6" font-size="6.4" text-anchor="end">mTORC1 Signaling</text>
<line x1="315.7" y1="445" x2="315.7" y2="664" stroke="#222" stroke-width="1"/>
<line x1="315.7" y1="664" x2="465" y2="664" stroke="#222" stroke-width="1"/>
<line x1="315.7" y1="664" x2="315.7" y2="666.5" stroke="#222" stroke-width="0.8"/>
<text x="315.7" y="674.8" font-size="6.4" text-anchor="middle">0</text>
<line x1="388.4" y1="664" x2="388.4" y2="666.5" stroke="#222" stroke-width="0.8"/>
<text x="388.4" y="674.8" font-size="6.4" text-anchor="middle">20</text>
<line x1="461.1" y1="664" x2="461.1" y2="666.5" stroke="#222" stroke-width="0.8"/>
<text x="461.1" y="674.8" font-size="6.4" text-anchor="middle">40</text>
<text x="390.8" y="686.02" font-size="7" text-anchor="middle" textLength="46.5" lengthAdjust="spacingAndGlyphs">-log10(q-value)</text>
<text x="468.5" y="452.85" font-size="6.8" textLength="19.9" lengthAdjust="spacingAndGlyphs">Cluster</text>
<rect x="468.2" y="457.6" width="5.9" height="5.6" fill="#b6d9a0"/>
<text x="477.6" y="462.88" font-size="6.6">1</text>
<rect x="468.2" y="467.65" width="5.9" height="5.6" fill="#5a8a8c"/>
<text x="477.6" y="472.93" font-size="6.6">2</text>
<rect x="468.2" y="477.7" width="5.9" height="5.6" fill="#1f2d35"/>
<text x="477.6" y="482.98" font-size="6.6">3</text>
<rect x="468.2" y="487.75" width="5.9" height="5.6" fill="#8a6e72"/>
<text x="477.6" y="493.03" font-size="6.6">4</text>
<rect x="468.2" y="497.8" width="5.9" height="5.6" fill="#dcc4cc"/>
<text x="477.6" y="503.08" font-size="6.6">5</text>
<rect x="0.5" y="0.5" width="519" height="702" fill="none" stroke="#555" stroke-width="1"/>
</svg>
</body></html>
